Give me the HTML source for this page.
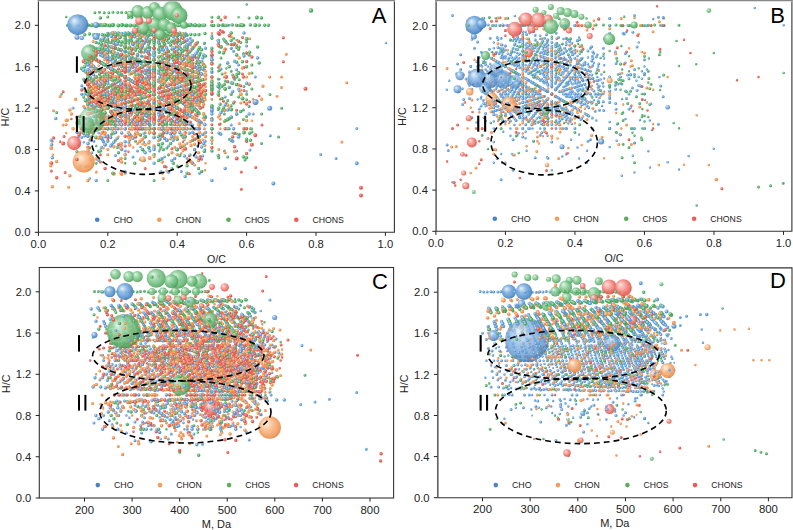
<!DOCTYPE html>
<html><head><meta charset="utf-8"><style>
html,body{margin:0;padding:0;background:#fff;}
body{width:793px;height:530px;overflow:hidden;}
svg{display:block;}
</style></head><body>
<svg width="793" height="530" viewBox="0 0 793 530" font-family="Liberation Sans, sans-serif" fill="#222">
<defs>
<clipPath id="clipA"><rect x="38.4" y="0" width="356.0" height="232.3"/></clipPath>
<clipPath id="clipB"><rect x="435.9" y="0" width="356.0" height="231.3"/></clipPath>
<clipPath id="clipC"><rect x="39.3" y="267.5" width="354.3" height="230.5"/></clipPath>
<clipPath id="clipD"><rect x="437.5" y="267.9" width="354.5" height="229.8"/></clipPath>
<radialGradient id="gCHO" cx="0.45" cy="0.45" r="0.6" fx="0.32" fy="0.3"><stop offset="0" stop-color="#e6f0fa"/><stop offset="0.4" stop-color="#86b6e4"/><stop offset="0.85" stop-color="#4a86c6"/><stop offset="1" stop-color="#36689f"/></radialGradient>
<radialGradient id="gCHON" cx="0.45" cy="0.45" r="0.6" fx="0.32" fy="0.3"><stop offset="0" stop-color="#fff0e0"/><stop offset="0.4" stop-color="#f9bf90"/><stop offset="0.85" stop-color="#f09452"/><stop offset="1" stop-color="#cf7434"/></radialGradient>
<radialGradient id="gCHOS" cx="0.45" cy="0.45" r="0.6" fx="0.32" fy="0.3"><stop offset="0" stop-color="#e0f4e4"/><stop offset="0.4" stop-color="#90d09c"/><stop offset="0.85" stop-color="#52aa62"/><stop offset="1" stop-color="#3a8648"/></radialGradient>
<radialGradient id="gCHONS" cx="0.45" cy="0.45" r="0.6" fx="0.32" fy="0.3"><stop offset="0" stop-color="#fde0dc"/><stop offset="0.4" stop-color="#f5a098"/><stop offset="0.85" stop-color="#e85c52"/><stop offset="1" stop-color="#c24236"/></radialGradient>
</defs>
<rect width="793" height="530" fill="#fff"/>
<g clip-path="url(#clipA)" stroke-linecap="round" fill="none">
<g stroke="#5b98d4" stroke-width="2.50"><path id="q1" d="M183.0 42.6h0M111.5 123.4h0M148.0 36.2h0M184.5 101.6h0M54.2 138.2h0M133.0 53.5h0M196.1 138.2h0M219.4 25.3h0M96.2 128.8h0M125.2 42.6h0M246.6 91.5h0M78.4 120.8h0M171.9 128.8h0M166.9 40.6h0M179.8 125.0h0M112.8 106.6h0M125.2 128.8h0M187.1 54.9h0"/></g>
<use href="#q1" transform="translate(-0.38,-0.38)" stroke="#bedaf5" stroke-width="1.38" stroke-opacity="0.85"/>
<g stroke="#5b98d4" stroke-width="3.00"><path id="q2" d="M125.2 77.1h0M168.5 128.8h0M115.5 117.3h0M115.5 71.3h0M142.5 46.0h0M211.9 128.8h0M133.0 157.0h0M196.1 138.2h0M196.1 119.4h0M196.1 81.8h0M227.7 81.8h0M171.9 104.9h0M198.6 73.1h0M84.7 108.1h0M154.1 66.7h0M177.2 80.5h0M200.3 80.5h0M81.8 154.7h0M103.5 64.1h0M146.8 102.9h0M168.5 51.2h0M79.2 122.7h0M99.6 74.0h0M140.5 37.5h0M160.9 122.7h0M181.3 74.0h0M181.3 37.5h0M96.2 71.3h0M115.5 105.8h0M192.6 117.3h0M166.2 68.9h0M184.5 134.2h0M202.8 156.0h0M90.4 46.0h0M159.8 97.8h0M177.2 66.7h0M211.9 118.5h0M137.5 114.0h0M137.5 104.2h0M154.1 64.7h0M101.5 119.4h0M101.5 62.9h0M117.3 62.9h0M133.0 128.8h0M133.0 34.7h0M148.8 128.8h0M180.4 119.4h0M180.4 81.8h0M113.8 124.3h0M144.0 79.3h0M159.1 70.3h0M189.3 97.3h0M189.3 61.3h0M125.2 51.2h0M139.6 59.8h0M154.1 120.2h0M154.1 33.9h0M168.5 146.1h0M183.0 59.8h0M197.4 94.3h0M121.7 116.4h0M135.6 75.0h0M149.4 116.4h0M118.5 81.0h0M118.5 57.1h0M131.8 81.0h0M131.8 41.2h0M145.2 97.0h0M145.2 89.0h0M158.5 33.3h0M171.9 73.1h0M198.6 81.0h0M238.6 65.1h0M89.8 117.3h0M102.7 102.0h0M115.5 71.3h0M141.2 102.0h0M154.1 40.6h0M166.9 94.3h0M166.9 63.6h0M179.8 79.0h0M192.6 63.6h0M88.0 62.3h0M125.2 151.0h0M125.2 54.9h0M125.2 32.7h0M137.5 32.7h0M149.9 128.8h0M149.9 47.5h0M162.3 114.0h0M162.3 47.5h0M174.7 77.1h0M174.7 62.3h0M249.1 84.4h0M320.7 154.6h0"/></g>
<use href="#q2" transform="translate(-0.45,-0.45)" stroke="#bedaf5" stroke-width="1.65" stroke-opacity="0.85"/>
<g stroke="#5b98d4" stroke-width="3.50"><path id="q3" d="M154.1 94.3h0M154.1 48.3h0M192.6 117.3h0M211.9 108.1h0M101.5 119.4h0M101.5 100.6h0M96.2 59.8h0M125.2 128.8h0M125.2 94.3h0M154.1 111.5h0M183.0 94.3h0M88.0 69.7h0M112.8 114.0h0M162.3 114.0h0M187.1 54.9h0M154.1 121.9h0M103.5 90.0h0M103.5 77.1h0M125.2 77.1h0M99.6 98.4h0M99.6 49.7h0M120.0 147.1h0M120.0 74.0h0M120.0 37.5h0M115.5 36.8h0M134.8 59.8h0M173.3 105.8h0M192.6 163.3h0M192.6 59.8h0M231.2 140.3h0M231.2 82.8h0M129.7 101.6h0M148.0 79.8h0M148.0 58.0h0M184.5 79.8h0M202.8 101.6h0M90.4 77.1h0M107.8 128.8h0M125.2 56.4h0M142.5 97.8h0M177.2 97.8h0M194.6 87.4h0M194.6 56.4h0M229.3 87.4h0M88.0 74.6h0M104.5 84.4h0M121.0 54.9h0M137.5 45.0h0M170.6 123.9h0M170.6 74.6h0M187.1 64.7h0M101.5 44.1h0M148.8 72.3h0M164.6 81.8h0M164.6 72.3h0M196.1 119.4h0M196.1 110.0h0M196.1 72.3h0M98.7 61.3h0M128.9 52.3h0M144.0 160.3h0M144.0 124.3h0M144.0 88.3h0M204.4 124.3h0M96.2 180.6h0M125.2 154.7h0M154.1 85.7h0M168.5 68.4h0M183.0 120.2h0M183.0 68.4h0M183.0 42.6h0M197.4 51.2h0M240.8 111.5h0M52.3 157.8h0M93.9 50.1h0M107.8 99.8h0M135.6 83.3h0M149.4 41.9h0M191.1 108.1h0M205.0 141.2h0M51.7 144.7h0M91.8 89.0h0M105.1 89.0h0M118.5 33.3h0M131.8 73.1h0M145.2 33.3h0M171.9 97.0h0M171.9 89.0h0M185.2 176.6h0M185.2 128.8h0M225.2 168.6h0M89.8 56.0h0M102.7 94.3h0M102.7 63.6h0M115.5 86.6h0M115.5 33.0h0M128.4 102.0h0M128.4 56.0h0M154.1 48.3h0M179.8 63.6h0M192.6 71.3h0M100.4 47.5h0M112.8 40.1h0M149.9 99.2h0M162.3 62.3h0M174.7 158.4h0M174.7 121.4h0M174.7 114.0h0M174.7 54.9h0M199.5 91.8h0"/></g>
<use href="#q3" transform="translate(-0.53,-0.53)" stroke="#bedaf5" stroke-width="1.93" stroke-opacity="0.85"/>
<g stroke="#5b98d4" stroke-width="4.00"><path id="q4" d="M198.6 136.8h0M107.8 121.9h0M125.2 77.1h0M196.1 81.8h0"/></g>
<use href="#q4" transform="translate(-0.60,-0.60)" stroke="#bedaf5" stroke-width="2.20" stroke-opacity="0.85"/>
<g stroke="#ee8c48" stroke-width="2.50"><path id="q5" d="M183.0 137.4h0M140.5 80.1h0M134.8 134.6h0M154.1 94.3h0M129.7 68.9h0M194.6 108.1h0M187.1 94.3h0M113.8 88.3h0M183.0 102.9h0M135.6 128.8h0M135.6 79.1h0M205.0 170.2h0M105.1 69.1h0M251.9 65.1h0M115.5 128.8h0M179.8 90.5h0M137.5 125.1h0M88.0 84.4h0"/></g>
<use href="#q5" transform="translate(-0.38,-0.38)" stroke="#fcc9a0" stroke-width="1.38" stroke-opacity="0.85"/>
<g stroke="#ee8c48" stroke-width="3.00"><path id="q6" d="M137.5 69.7h0M125.2 38.2h0M142.5 118.5h0M177.2 139.2h0M142.5 66.7h0M164.6 91.2h0M125.2 154.7h0M125.2 85.7h0M91.8 112.9h0M91.8 81.0h0M118.5 160.6h0M198.6 89.0h0M88.0 84.4h0M154.1 115.0h0M154.1 87.4h0M125.2 96.5h0M190.2 122.3h0M181.3 116.6h0M160.9 86.2h0M181.3 110.5h0M96.2 111.5h0M96.2 42.6h0M134.8 100.1h0M77.0 151.8h0M134.8 105.8h0M173.3 82.8h0M192.6 117.3h0M111.5 96.1h0M111.5 85.2h0M111.5 90.7h0M111.5 79.8h0M142.5 71.9h0M125.2 77.1h0M104.5 49.9h0M137.5 59.8h0M88.0 104.2h0M148.8 67.6h0M164.6 124.1h0M164.6 95.9h0M148.8 81.8h0M196.1 100.6h0M53.5 110.8h0M144.0 128.8h0M144.0 110.8h0M159.1 119.8h0M174.2 137.8h0M98.7 70.3h0M113.8 43.3h0M144.0 61.3h0M159.1 106.3h0M139.6 38.2h0M168.5 107.2h0M197.4 90.0h0M163.3 104.0h0M177.2 128.8h0M191.1 87.4h0M52.3 141.2h0M93.9 108.1h0M121.7 83.3h0M121.7 75.0h0M149.4 99.8h0M246.6 66.7h0M105.1 124.8h0M105.1 116.9h0M118.5 69.1h0M91.8 104.9h0M91.8 73.1h0M131.8 120.8h0M179.8 75.1h0M192.6 67.5h0M89.8 79.0h0M166.9 171.0h0M166.9 79.0h0M166.9 56.0h0M112.8 73.4h0M199.5 88.1h0M162.3 173.2h0M174.7 99.2h0M187.1 84.4h0M187.1 77.1h0M286.3 54.2h0M281.5 76.9h0"/></g>
<use href="#q6" transform="translate(-0.45,-0.45)" stroke="#fcc9a0" stroke-width="1.65" stroke-opacity="0.85"/>
<g stroke="#ee8c48" stroke-width="3.50"><path id="q7" d="M192.6 94.3h0M96.2 137.4h0M96.2 111.5h0M183.0 111.5h0M118.5 144.7h0M145.2 49.2h0M154.1 73.6h0M177.2 59.8h0M107.8 121.9h0M177.2 108.1h0M103.5 77.1h0M125.2 102.9h0M125.2 38.2h0M160.9 67.9h0M140.5 134.9h0M181.3 147.1h0M115.5 65.6h0M115.5 105.8h0M154.1 71.3h0M111.5 52.5h0M142.5 82.2h0M159.8 123.6h0M177.2 123.6h0M177.2 92.6h0M142.5 139.2h0M137.5 104.2h0M137.5 84.4h0M101.5 95.9h0M133.0 58.2h0M164.6 105.3h0M85.7 91.2h0M148.8 100.6h0M164.6 81.8h0M196.1 44.1h0M189.3 110.8h0M174.2 79.3h0M189.3 115.3h0M189.3 61.3h0M96.2 81.4h0M110.7 124.5h0M110.7 46.9h0M125.2 98.6h0M125.2 81.4h0M154.1 115.9h0M154.1 98.6h0M154.1 72.7h0M168.5 55.5h0M163.3 79.1h0M246.6 120.5h0M107.8 58.4h0M121.7 174.3h0M121.7 124.7h0M135.6 124.7h0M177.2 41.9h0M105.1 132.8h0M131.8 100.9h0M185.2 116.9h0M198.6 140.7h0M145.2 120.8h0M185.2 73.1h0M154.1 79.0h0M192.6 79.0h0M88.0 80.7h0M112.8 132.5h0M137.5 80.7h0M162.3 162.1h0M162.3 95.5h0M174.7 80.7h0M199.5 95.5h0M88.0 114.0h0M88.0 77.1h0M125.2 47.5h0M199.5 99.2h0M261.5 99.2h0"/></g>
<use href="#q7" transform="translate(-0.53,-0.53)" stroke="#fcc9a0" stroke-width="1.93" stroke-opacity="0.85"/>
<g stroke="#ee8c48" stroke-width="4.00"><path id="q8" d="M240.8 94.3h0M130.9 121.9h0M101.5 81.8h0M113.8 173.8h0M191.1 99.8h0M166.9 132.6h0"/></g>
<use href="#q8" transform="translate(-0.60,-0.60)" stroke="#fcc9a0" stroke-width="2.20" stroke-opacity="0.85"/>
<g stroke="#4da862" stroke-width="2.50"><path id="q9" d="M118.5 41.2h0M130.9 94.3h0M168.5 115.9h0M190.2 51.2h0M115.5 128.8h0M154.1 48.3h0M142.5 35.7h0M88.0 64.7h0M170.6 64.7h0M236.7 133.7h0M96.2 59.8h0M125.2 51.2h0M121.7 58.4h0M232.7 132.9h0M171.9 73.1h0M238.6 17.3h0M166.9 56.0h0M100.4 91.8h0M100.4 69.7h0M187.1 54.9h0"/></g>
<use href="#q9" transform="translate(-0.38,-0.38)" stroke="#a8deb2" stroke-width="1.38" stroke-opacity="0.85"/>
<g stroke="#4da862" stroke-width="3.00"><path id="q10" d="M231.2 71.3h0M133.0 62.9h0M227.7 100.6h0M67.3 25.3h0M198.6 73.1h0M162.3 25.3h0M130.9 66.7h0M154.1 94.3h0M200.3 25.3h0M223.5 25.3h0M125.2 64.1h0M146.8 102.9h0M146.8 51.2h0M168.5 77.1h0M160.9 61.8h0M160.9 49.7h0M96.2 48.3h0M154.1 71.3h0M173.3 105.8h0M173.3 94.3h0M192.6 128.8h0M192.6 117.3h0M93.2 101.6h0M148.0 90.7h0M148.0 79.8h0M202.8 68.9h0M90.4 25.3h0M159.8 97.8h0M159.8 35.7h0M211.9 118.5h0M229.3 139.2h0M104.5 45.0h0M121.0 84.4h0M121.0 74.6h0M170.6 94.3h0M187.1 45.0h0M220.2 123.9h0M101.5 53.5h0M117.3 147.6h0M117.3 53.5h0M133.0 100.6h0M133.0 25.3h0M148.8 119.4h0M148.8 110.0h0M148.8 53.5h0M164.6 119.4h0M164.6 34.7h0M196.1 72.3h0M227.7 62.9h0M98.7 97.3h0M128.9 133.3h0M128.9 52.3h0M144.0 70.3h0M189.3 43.3h0M234.5 79.3h0M81.8 94.3h0M125.2 94.3h0M139.6 77.1h0M154.1 94.3h0M154.1 59.8h0M107.8 91.5h0M107.8 17.0h0M121.7 91.5h0M177.2 116.4h0M177.2 75.0h0M191.1 108.1h0M191.1 50.1h0M218.8 157.8h0M246.6 116.4h0M246.6 41.9h0M105.1 73.1h0M118.5 65.1h0M131.8 104.9h0M145.2 65.1h0M102.7 117.3h0M115.5 117.3h0M115.5 71.3h0M128.4 117.3h0M128.4 86.6h0M141.2 33.0h0M154.1 48.3h0M179.8 71.3h0M192.6 40.6h0M218.3 109.6h0M88.0 99.2h0M100.4 106.6h0M112.8 91.8h0M112.8 62.3h0M125.2 158.4h0M125.2 62.3h0M137.5 77.1h0M174.7 47.5h0M187.1 106.6h0M249.1 17.9h0M278.6 136.9h0M108.9 12.8h0M121.6 12.5h0"/></g>
<use href="#q10" transform="translate(-0.45,-0.45)" stroke="#a8deb2" stroke-width="1.65" stroke-opacity="0.85"/>
<g stroke="#4da862" stroke-width="3.50"><path id="q11" d="M154.1 71.3h0M192.6 140.3h0M101.5 81.8h0M133.0 44.1h0M125.2 59.8h0M91.8 136.8h0M91.8 89.0h0M112.8 99.2h0M137.5 84.4h0M137.5 54.9h0M236.7 114.0h0M107.8 121.9h0M130.9 121.9h0M177.2 121.9h0M125.2 51.2h0M211.9 90.0h0M140.5 159.2h0M140.5 134.9h0M140.5 74.0h0M201.7 171.4h0M201.7 61.8h0M242.5 61.8h0M96.2 94.3h0M134.8 163.3h0M134.8 94.3h0M192.6 94.3h0M231.2 117.3h0M111.5 79.8h0M111.5 47.1h0M166.2 112.5h0M107.8 46.0h0M194.6 46.0h0M194.6 25.3h0M229.3 66.7h0M104.5 54.9h0M170.6 143.6h0M170.6 74.6h0M187.1 64.7h0M203.6 114.0h0M220.2 133.7h0M117.3 44.1h0M180.4 62.9h0M113.8 70.3h0M128.9 70.3h0M144.0 43.3h0M159.1 88.3h0M159.1 70.3h0M174.2 106.3h0M96.2 51.2h0M110.7 68.4h0M125.2 33.9h0M139.6 102.9h0M139.6 33.9h0M197.4 120.2h0M107.8 99.8h0M149.4 58.4h0M163.3 83.3h0M191.1 99.8h0M191.1 58.4h0M205.0 75.0h0M118.5 97.0h0M118.5 57.1h0M131.8 81.0h0M145.2 89.0h0M145.2 73.1h0M158.5 136.8h0M185.2 104.9h0M198.6 65.1h0M198.6 49.2h0M89.8 71.3h0M102.7 79.0h0M102.7 71.3h0M166.9 102.0h0M179.8 86.6h0M218.3 40.6h0M231.2 40.6h0M100.4 121.4h0M112.8 114.0h0M112.8 99.2h0M162.3 99.2h0M174.7 62.3h0M199.5 69.7h0M199.5 54.9h0M211.9 54.9h0M84.7 34.7h0M98.0 34.8h0M147.0 34.5h0M155.7 34.9h0M173.2 34.6h0M177.3 34.4h0"/></g>
<use href="#q11" transform="translate(-0.53,-0.53)" stroke="#a8deb2" stroke-width="1.93" stroke-opacity="0.85"/>
<g stroke="#4da862" stroke-width="4.00"><path id="q12" d="M154.1 117.3h0M69.9 25.3h0M171.9 89.0h0M125.2 90.0h0M168.5 38.2h0M90.4 97.8h0M107.8 66.7h0M189.3 25.3h0M81.8 68.4h0M168.5 59.8h0M107.8 58.4h0M107.8 50.1h0M171.9 128.8h0M244.0 132.6h0M100.5 24.9h0M118.3 25.4h0M126.7 25.4h0M138.8 25.4h0M148.4 25.2h0M151.9 25.0h0M156.9 25.3h0M173.7 24.8h0"/></g>
<use href="#q12" transform="translate(-0.60,-0.60)" stroke="#a8deb2" stroke-width="2.20" stroke-opacity="0.85"/>
<g stroke="#e2584a" stroke-width="2.50"><path id="q13" d="M91.8 81.0h0M162.3 54.9h0M60.1 141.7h0M120.0 104.4h0M160.9 86.2h0M201.7 122.7h0M148.0 101.6h0M159.8 92.6h0M220.2 30.2h0M187.1 104.2h0M187.1 84.4h0M196.1 58.2h0M149.4 112.2h0M218.8 41.9h0M131.8 53.2h0M198.6 100.9h0M128.4 67.5h0M154.1 44.5h0M100.4 80.7h0M112.8 66.0h0M187.1 80.7h0"/></g>
<use href="#q13" transform="translate(-0.38,-0.38)" stroke="#f8a89a" stroke-width="1.38" stroke-opacity="0.85"/>
<g stroke="#e2584a" stroke-width="3.00"><path id="q14" d="M236.7 84.4h0M168.5 64.1h0M125.2 128.8h0M142.5 118.5h0M142.5 108.1h0M133.0 119.4h0M125.2 171.9h0M211.9 59.8h0M171.9 73.1h0M88.0 143.6h0M187.1 69.7h0M130.9 59.8h0M200.3 156.4h0M223.5 101.2h0M177.2 94.3h0M103.5 83.5h0M168.5 96.5h0M99.6 61.8h0M96.2 88.6h0M154.1 88.6h0M96.2 105.8h0M154.1 117.3h0M93.2 74.3h0M202.8 107.0h0M148.0 36.2h0M184.5 90.7h0M184.5 58.0h0M90.4 102.9h0M125.2 113.3h0M194.6 134.0h0M246.6 139.2h0M117.3 39.4h0M133.0 67.6h0M133.0 48.8h0M148.8 67.6h0M180.4 95.9h0M85.7 53.5h0M128.9 119.8h0M189.3 155.8h0M189.3 74.8h0M189.3 65.8h0M249.6 101.8h0M211.9 55.5h0M96.2 94.3h0M96.2 68.4h0M139.6 51.2h0M177.2 79.1h0M149.4 83.3h0M163.3 66.7h0M177.2 33.6h0M105.1 93.0h0M145.2 61.1h0M158.5 100.9h0M211.9 124.8h0M91.8 97.0h0M118.5 160.6h0M118.5 49.2h0M185.2 49.2h0M225.2 120.8h0M102.7 121.1h0M128.4 121.1h0M141.2 105.8h0M154.1 98.1h0M166.9 121.1h0M128.4 109.6h0M231.2 117.3h0M88.0 132.5h0M137.5 125.1h0M199.5 88.1h0M236.7 110.3h0M100.4 91.8h0M241.3 172.0h0"/></g>
<use href="#q14" transform="translate(-0.45,-0.45)" stroke="#f8a89a" stroke-width="1.65" stroke-opacity="0.85"/>
<g stroke="#e2584a" stroke-width="3.50"><path id="q15" d="M115.5 82.8h0M107.8 97.8h0M177.2 128.8h0M164.6 91.2h0M196.1 110.0h0M196.1 100.6h0M118.5 97.0h0M225.2 128.8h0M177.2 101.2h0M177.2 73.6h0M200.3 73.6h0M107.8 52.9h0M200.3 94.3h0M125.2 57.6h0M190.2 122.3h0M81.8 128.8h0M120.0 98.4h0M181.3 122.7h0M242.5 98.4h0M115.5 88.6h0M134.8 123.1h0M173.3 100.1h0M154.1 59.8h0M184.5 63.4h0M202.8 96.1h0M56.7 177.8h0M111.5 112.5h0M177.2 87.4h0M88.0 99.2h0M88.0 59.8h0M121.0 89.4h0M154.1 89.4h0M121.0 123.9h0M101.5 105.3h0M180.4 77.1h0M189.3 101.8h0M98.7 97.3h0M113.8 115.3h0M113.8 88.3h0M174.2 106.3h0M139.6 81.4h0M125.2 85.7h0M139.6 42.6h0M211.9 59.8h0M93.9 87.4h0M121.7 104.0h0M191.1 95.7h0M107.8 99.8h0M191.1 75.0h0M246.6 141.2h0M131.8 93.0h0M171.9 69.1h0M185.2 69.1h0M225.2 49.2h0M89.8 121.1h0M102.7 113.5h0M141.2 121.1h0M102.7 132.6h0M102.7 86.6h0M115.5 132.6h0M112.8 117.7h0M137.5 43.8h0M149.9 125.1h0M199.5 80.7h0M162.3 99.2h0M174.7 121.4h0M174.7 99.2h0"/></g>
<use href="#q15" transform="translate(-0.53,-0.53)" stroke="#f8a89a" stroke-width="1.93" stroke-opacity="0.85"/>
<g stroke="#e2584a" stroke-width="4.00"><path id="q16" d="M130.9 52.9h0M168.5 57.6h0M154.1 69.7h0M135.6 112.2h0M179.8 67.5h0M51.3 163.3h0M174.7 132.5h0"/></g>
<use href="#q16" transform="translate(-0.60,-0.60)" stroke="#f8a89a" stroke-width="2.20" stroke-opacity="0.85"/>
<g stroke="#5b98d4" stroke-width="2.50"><path id="q17" d="M91.8 89.0h0M198.6 104.9h0M159.8 56.4h0M133.0 91.2h0M164.6 34.7h0M83.7 142.3h0M98.7 133.3h0M98.7 79.3h0M159.1 79.3h0M219.4 79.3h0M81.8 94.3h0M96.2 85.7h0M96.2 51.2h0M125.2 120.2h0M183.0 77.1h0M197.4 146.1h0M121.7 91.5h0M105.1 120.8h0M145.2 81.0h0M158.5 128.8h0M171.9 104.9h0M198.6 160.6h0M198.6 112.9h0M154.1 63.6h0M179.8 56.0h0M386.0 42.9h0"/></g>
<use href="#q17" transform="translate(-0.38,-0.38)" stroke="#bedaf5" stroke-width="1.38" stroke-opacity="0.85"/>
<g stroke="#5b98d4" stroke-width="3.00"><path id="q18" d="M73.1 108.1h0M101.5 81.8h0M154.1 42.6h0M198.6 120.8h0M162.3 158.4h0M162.3 84.4h0M154.1 80.5h0M168.5 77.1h0M233.6 51.2h0M99.6 122.7h0M120.0 49.7h0M140.5 110.5h0M222.1 86.2h0M134.8 117.3h0M173.3 82.8h0M192.6 82.8h0M211.9 94.3h0M93.2 101.6h0M129.7 145.1h0M148.0 112.5h0M184.5 68.9h0M107.8 118.5h0M125.2 118.5h0M125.2 66.7h0M211.9 87.4h0M88.0 54.9h0M121.0 114.0h0M154.1 104.2h0M170.6 54.9h0M187.1 123.9h0M187.1 104.2h0M253.2 114.0h0M101.5 110.0h0M101.5 53.5h0M133.0 119.4h0M133.0 100.6h0M164.6 110.0h0M164.6 53.5h0M180.4 53.5h0M113.8 115.3h0M128.9 142.3h0M128.9 106.3h0M159.1 160.3h0M159.1 52.3h0M174.2 115.3h0M189.3 106.3h0M125.2 102.9h0M139.6 102.9h0M139.6 77.1h0M168.5 102.9h0M255.3 77.1h0M93.9 124.7h0M93.9 58.4h0M107.8 124.7h0M107.8 91.5h0M135.6 124.7h0M135.6 99.8h0M149.4 132.9h0M149.4 33.6h0M163.3 41.9h0M205.0 83.3h0M78.4 136.8h0M91.8 152.7h0M131.8 57.1h0M131.8 49.2h0M145.2 104.9h0M145.2 73.1h0M158.5 120.8h0M158.5 97.0h0M211.9 57.1h0M89.8 140.3h0M89.8 86.6h0M102.7 71.3h0M115.5 40.6h0M141.2 48.3h0M141.2 40.6h0M154.1 117.3h0M192.6 102.0h0M231.2 33.0h0M100.4 91.8h0M112.8 84.4h0M125.2 69.7h0M125.2 47.5h0M137.5 128.8h0M137.5 99.2h0M187.1 106.6h0M187.1 99.2h0M249.1 106.6h0M356.8 128.6h0M336.1 158.5h0"/></g>
<use href="#q18" transform="translate(-0.45,-0.45)" stroke="#bedaf5" stroke-width="1.65" stroke-opacity="0.85"/>
<g stroke="#5b98d4" stroke-width="3.50"><path id="q19" d="M142.5 149.5h0M142.5 128.8h0M177.2 128.8h0M133.0 119.4h0M118.5 41.2h0M145.2 41.2h0M107.8 135.7h0M130.9 80.5h0M130.9 52.9h0M154.1 52.9h0M177.2 121.9h0M200.3 94.3h0M103.5 115.9h0M125.2 115.9h0M146.8 128.8h0M146.8 90.0h0M168.5 115.9h0M99.6 61.8h0M120.0 61.8h0M160.9 110.5h0M201.7 147.1h0M201.7 61.8h0M134.8 82.8h0M93.2 79.8h0M111.5 58.0h0M166.2 90.7h0M166.2 36.2h0M184.5 90.7h0M184.5 58.0h0M202.8 58.0h0M221.0 112.5h0M257.6 58.0h0M90.4 87.4h0M159.8 128.8h0M159.8 66.7h0M194.6 77.1h0M211.9 77.1h0M88.0 153.4h0M88.0 123.9h0M88.0 104.2h0M104.5 114.0h0M104.5 54.9h0M121.0 64.7h0M137.5 74.6h0M170.6 133.7h0M187.1 94.3h0M203.6 64.7h0M203.6 54.9h0M101.5 100.6h0M148.8 53.5h0M164.6 100.6h0M164.6 91.2h0M180.4 34.7h0M211.9 72.3h0M83.7 124.3h0M83.7 61.3h0M128.9 115.3h0M128.9 97.3h0M144.0 106.3h0M144.0 70.3h0M159.1 88.3h0M159.1 43.3h0M174.2 133.3h0M174.2 97.3h0M174.2 52.3h0M189.3 133.3h0M110.7 94.3h0M125.2 111.5h0M125.2 68.4h0M168.5 94.3h0M107.8 141.2h0M135.6 108.1h0M135.6 50.1h0M149.4 66.7h0M163.3 75.0h0M177.2 91.5h0M177.2 58.4h0M205.0 124.7h0M232.7 141.2h0M105.1 97.0h0M118.5 97.0h0M131.8 128.8h0M145.2 112.9h0M171.9 160.6h0M185.2 97.0h0M198.6 57.1h0M115.5 117.3h0M115.5 56.0h0M115.5 48.3h0M128.4 79.0h0M141.2 125.0h0M205.5 132.6h0M205.5 48.3h0M218.3 40.6h0M231.2 117.3h0M100.4 99.2h0M112.8 121.4h0M137.5 91.8h0M137.5 77.1h0M149.9 77.1h0M149.9 32.7h0M174.7 91.8h0M199.5 136.2h0M199.5 128.8h0"/></g>
<use href="#q19" transform="translate(-0.53,-0.53)" stroke="#bedaf5" stroke-width="1.93" stroke-opacity="0.85"/>
<g stroke="#5b98d4" stroke-width="4.00"><path id="q20" d="M125.2 42.6h0M91.8 104.9h0M84.7 80.5h0M120.0 98.4h0M159.8 139.2h0M177.2 35.7h0M148.8 34.7h0M174.2 79.3h0M135.6 91.5h0M238.6 136.8h0M166.9 140.3h0M162.3 121.4h0"/></g>
<use href="#q20" transform="translate(-0.60,-0.60)" stroke="#bedaf5" stroke-width="2.20" stroke-opacity="0.85"/>
<g stroke="#5b98d4" stroke-width="5.00"><path id="q21" d="M269.7 108.3h0"/></g>
<use href="#q21" transform="translate(-0.75,-0.75)" stroke="#bedaf5" stroke-width="2.75" stroke-opacity="0.85"/>
<g stroke="#ee8c48" stroke-width="2.50"><path id="q22" d="M164.6 62.9h0M187.1 121.4h0M181.3 153.2h0M192.6 88.6h0M192.6 94.3h0M111.5 107.0h0M202.8 117.9h0M111.5 123.4h0M194.6 46.0h0M164.6 77.1h0M180.4 44.1h0M219.4 83.8h0M98.7 106.3h0M197.4 72.7h0M154.1 68.4h0M135.6 87.4h0M205.0 91.5h0M158.5 89.0h0M154.1 86.6h0M166.9 94.3h0M179.8 117.3h0M179.8 94.3h0M199.5 73.4h0M137.5 106.6h0M174.7 106.6h0"/></g>
<use href="#q22" transform="translate(-0.38,-0.38)" stroke="#fcc9a0" stroke-width="1.38" stroke-opacity="0.85"/>
<g stroke="#ee8c48" stroke-width="3.00"><path id="q23" d="M137.5 40.1h0M168.5 115.9h0M168.5 90.0h0M81.8 154.7h0M192.6 128.8h0M133.0 100.6h0M196.1 100.6h0M154.1 77.1h0M145.2 128.8h0M198.6 81.0h0M145.2 73.1h0M171.9 104.9h0M177.2 115.0h0M177.2 87.4h0M154.1 66.7h0M146.8 70.6h0M146.8 51.2h0M140.5 128.8h0M120.0 98.4h0M96.2 94.3h0M93.2 85.2h0M129.7 128.8h0M184.5 74.3h0M148.0 79.8h0M184.5 79.8h0M107.8 154.7h0M125.2 118.5h0M125.2 108.1h0M159.8 97.8h0M229.3 108.1h0M104.5 59.8h0M121.0 49.9h0M137.5 94.3h0M148.8 95.9h0M133.0 119.4h0M148.8 53.5h0M164.6 119.4h0M196.1 81.8h0M113.8 92.8h0M144.0 92.8h0M204.4 128.8h0M249.6 38.8h0M83.7 106.3h0M183.0 150.4h0M183.0 115.9h0M154.1 33.9h0M135.6 95.7h0M135.6 62.6h0M205.0 145.4h0M218.8 95.7h0M107.8 124.7h0M149.4 91.5h0M118.5 124.8h0M145.2 132.8h0M198.6 85.0h0M211.9 77.1h0M158.5 57.1h0M102.7 113.5h0M115.5 98.1h0M154.1 82.8h0M166.9 52.1h0M166.9 36.8h0M192.6 136.5h0M192.6 90.5h0M102.7 109.6h0M102.7 102.0h0M141.2 71.3h0M166.9 117.3h0M179.8 86.6h0M192.6 109.6h0M187.1 95.5h0M112.8 106.6h0M125.2 173.2h0M125.2 106.6h0M174.7 77.1h0M224.3 121.4h0M224.3 77.1h0M277.0 96.3h0"/></g>
<use href="#q23" transform="translate(-0.45,-0.45)" stroke="#fcc9a0" stroke-width="1.65" stroke-opacity="0.85"/>
<g stroke="#ee8c48" stroke-width="3.50"><path id="q24" d="M88.0 54.9h0M69.9 110.0h0M67.3 120.2h0M154.1 146.1h0M91.8 128.8h0M145.2 120.8h0M171.9 136.8h0M137.5 84.4h0M130.9 115.0h0M200.3 87.4h0M130.9 108.1h0M200.3 80.5h0M190.2 44.7h0M190.2 141.7h0M99.6 116.6h0M120.0 80.1h0M99.6 86.2h0M120.0 110.5h0M140.5 98.4h0M160.9 74.0h0M181.3 122.7h0M96.2 100.1h0M134.8 128.8h0M173.3 128.8h0M56.7 161.5h0M148.0 85.2h0M111.5 145.1h0M129.7 145.1h0M184.5 112.5h0M125.2 102.9h0M159.8 102.9h0M121.0 173.2h0M101.5 105.3h0M180.4 77.1h0M180.4 58.2h0M69.9 175.8h0M117.3 62.9h0M148.8 62.9h0M98.7 110.8h0M128.9 83.8h0M144.0 83.8h0M189.3 92.8h0M128.9 97.3h0M144.0 97.3h0M96.2 55.5h0M139.6 141.7h0M139.6 98.6h0M183.0 90.0h0M110.7 120.2h0M110.7 42.6h0M125.2 77.1h0M183.0 94.3h0M121.7 62.6h0M149.4 95.7h0M149.4 54.3h0M191.1 145.4h0M107.8 75.0h0M121.7 108.1h0M163.3 132.9h0M145.2 93.0h0M118.5 97.0h0M131.8 136.8h0M145.2 128.8h0M145.2 65.1h0M185.2 104.9h0M198.6 128.8h0M198.6 97.0h0M115.5 121.1h0M115.5 105.8h0M115.5 63.6h0M154.1 117.3h0M192.6 94.3h0M88.0 147.3h0M162.3 58.6h0M174.7 132.5h0M174.7 88.1h0M199.5 125.1h0M112.8 91.8h0M137.5 32.7h0M187.1 99.2h0M199.5 84.4h0"/></g>
<use href="#q24" transform="translate(-0.53,-0.53)" stroke="#fcc9a0" stroke-width="1.93" stroke-opacity="0.85"/>
<g stroke="#ee8c48" stroke-width="4.00"><path id="q25" d="M177.2 77.1h0M164.6 72.3h0M101.5 110.0h0M141.2 98.1h0M51.3 148.0h0M179.8 48.3h0M224.3 110.3h0M149.9 128.8h0"/></g>
<use href="#q25" transform="translate(-0.60,-0.60)" stroke="#fcc9a0" stroke-width="2.20" stroke-opacity="0.85"/>
<g stroke="#4da862" stroke-width="2.50"><path id="q26" d="M137.5 114.0h0M154.1 48.3h0M142.5 46.0h0M118.5 73.1h0M225.2 120.8h0M61.5 94.3h0M222.1 110.5h0M125.2 108.1h0M142.5 56.4h0M159.8 149.5h0M159.8 77.1h0M194.6 77.1h0M137.5 104.2h0M144.0 52.3h0M174.2 70.3h0M174.2 43.3h0M121.7 83.3h0M145.2 41.2h0M128.4 71.3h0M166.9 79.0h0M179.8 117.3h0M231.2 140.3h0M112.8 32.7h0M162.3 128.8h0M187.1 40.1h0"/></g>
<use href="#q26" transform="translate(-0.38,-0.38)" stroke="#a8deb2" stroke-width="1.38" stroke-opacity="0.85"/>
<g stroke="#4da862" stroke-width="3.00"><path id="q27" d="M115.5 48.3h0M192.6 117.3h0M177.2 128.8h0M177.2 87.4h0M101.5 138.2h0M101.5 119.4h0M164.6 119.4h0M183.0 146.1h0M183.0 111.5h0M183.0 59.8h0M183.0 42.6h0M145.2 89.0h0M145.2 73.1h0M162.3 54.9h0M162.3 40.1h0M187.1 69.7h0M223.5 39.1h0M168.5 154.7h0M168.5 64.1h0M160.9 25.3h0M181.3 25.3h0M222.1 74.0h0M77.0 151.8h0M154.1 36.8h0M173.3 82.8h0M111.5 90.7h0M111.5 68.9h0M129.7 90.7h0M148.0 58.0h0M166.2 101.6h0M184.5 79.8h0M184.5 68.9h0M239.3 134.2h0M107.8 128.8h0M107.8 25.3h0M177.2 149.5h0M104.5 114.0h0M121.0 64.7h0M137.5 64.7h0M236.7 74.6h0M236.7 25.3h0M117.3 81.8h0M133.0 110.0h0M133.0 72.3h0M164.6 110.0h0M196.1 53.5h0M211.9 25.3h0M227.7 81.8h0M243.4 119.4h0M243.4 53.5h0M98.7 43.3h0M113.8 34.3h0M144.0 34.3h0M174.2 115.3h0M204.4 79.3h0M204.4 70.3h0M110.7 59.8h0M139.6 42.6h0M154.1 77.1h0M154.1 51.2h0M183.0 85.7h0M197.4 137.4h0M197.4 59.8h0M240.8 111.5h0M93.9 116.4h0M93.9 108.1h0M93.9 83.3h0M121.7 124.7h0M135.6 141.2h0M135.6 83.3h0M149.4 50.1h0M177.2 166.1h0M177.2 83.3h0M177.2 58.4h0M177.2 50.1h0M205.0 83.3h0M218.8 83.3h0M232.7 75.0h0M246.6 83.3h0M118.5 104.9h0M118.5 73.1h0M131.8 112.9h0M145.2 81.0h0M145.2 57.1h0M158.5 41.2h0M158.5 33.3h0M198.6 81.0h0M225.2 120.8h0M251.9 73.1h0M89.8 148.0h0M89.8 102.0h0M102.7 109.6h0M128.4 63.6h0M128.4 17.6h0M141.2 56.0h0M154.1 79.0h0M179.8 109.6h0M205.5 117.3h0M244.0 86.6h0M244.0 25.3h0M88.0 62.3h0M100.4 128.8h0M112.8 54.9h0M125.2 84.4h0M149.9 54.9h0M174.7 84.4h0M224.3 114.0h0"/></g>
<use href="#q27" transform="translate(-0.45,-0.45)" stroke="#a8deb2" stroke-width="1.65" stroke-opacity="0.85"/>
<g stroke="#4da862" stroke-width="3.50"><path id="q28" d="M168.5 51.2h0M133.0 100.6h0M96.2 94.3h0M96.2 59.8h0M154.1 77.1h0M183.0 77.1h0M240.8 25.3h0M112.8 84.4h0M137.5 69.7h0M137.5 40.1h0M154.1 39.1h0M200.3 66.7h0M103.5 90.0h0M146.8 115.9h0M190.2 90.0h0M190.2 64.1h0M233.6 102.9h0M140.5 122.7h0M160.9 98.4h0M181.3 61.8h0M134.8 48.3h0M173.3 71.3h0M93.2 112.5h0M93.2 58.0h0M129.7 112.5h0M129.7 68.9h0M107.8 56.4h0M125.2 77.1h0M125.2 56.4h0M177.2 139.2h0M177.2 128.8h0M104.5 35.2h0M137.5 94.3h0M137.5 54.9h0M137.5 35.2h0M154.1 123.9h0M154.1 74.6h0M220.2 104.2h0M117.3 119.4h0M133.0 119.4h0M133.0 91.2h0M133.0 81.8h0M164.6 81.8h0M164.6 53.5h0M113.8 61.3h0M128.9 97.3h0M174.2 34.3h0M189.3 97.3h0M219.4 52.3h0M249.6 52.3h0M264.7 25.3h0M96.2 85.7h0M125.2 102.9h0M125.2 68.4h0M154.1 33.9h0M183.0 33.9h0M197.4 42.6h0M107.8 116.4h0M135.6 75.0h0M135.6 58.4h0M149.4 41.9h0M232.7 83.3h0M246.6 157.8h0M91.8 65.1h0M91.8 57.1h0M118.5 33.3h0M158.5 73.1h0M171.9 112.9h0M185.2 112.9h0M185.2 65.1h0M185.2 57.1h0M198.6 136.8h0M225.2 89.0h0M89.8 109.6h0M102.7 25.3h0M141.2 109.6h0M141.2 48.3h0M179.8 63.6h0M218.3 25.3h0M100.4 17.9h0M112.8 47.5h0M125.2 121.4h0M137.5 121.4h0M162.3 84.4h0M162.3 77.1h0M174.7 69.7h0M199.5 84.4h0M232.3 25.0h0M89.5 34.1h0M128.7 34.7h0M133.0 34.7h0"/></g>
<use href="#q28" transform="translate(-0.53,-0.53)" stroke="#a8deb2" stroke-width="1.93" stroke-opacity="0.85"/>
<g stroke="#4da862" stroke-width="4.00"><path id="q29" d="M198.6 120.8h0M107.8 108.1h0M125.2 115.9h0M187.1 54.9h0M145.2 33.3h0M89.8 79.0h0M100.4 47.5h0M137.5 62.3h0M162.3 40.1h0M92.1 25.2h0M109.7 25.4h0M122.2 25.1h0M130.3 25.4h0M164.9 25.3h0M195.4 25.2h0"/></g>
<use href="#q29" transform="translate(-0.60,-0.60)" stroke="#a8deb2" stroke-width="2.20" stroke-opacity="0.85"/>
<g stroke="#e2584a" stroke-width="2.50"><path id="q30" d="M118.5 144.7h0M125.2 128.8h0M148.0 63.4h0M90.4 139.2h0M107.8 139.2h0M137.5 114.0h0M85.7 124.1h0M133.0 95.9h0M154.1 94.3h0M128.4 33.0h0M137.5 132.5h0M137.5 110.3h0M211.9 147.3h0M88.0 114.0h0M112.8 121.4h0M125.2 99.2h0M199.5 128.8h0"/></g>
<use href="#q30" transform="translate(-0.38,-0.38)" stroke="#f8a89a" stroke-width="1.38" stroke-opacity="0.85"/>
<g stroke="#e2584a" stroke-width="3.00"><path id="q31" d="M236.7 54.9h0M168.5 77.1h0M177.2 77.1h0M177.2 87.4h0M211.9 108.1h0M101.5 72.3h0M164.6 119.4h0M96.2 77.1h0M91.8 65.1h0M118.5 73.1h0M145.2 104.9h0M198.6 168.6h0M112.8 106.6h0M112.8 84.4h0M130.9 128.8h0M140.5 31.4h0M242.5 74.0h0M134.8 105.8h0M134.8 82.8h0M154.1 48.3h0M111.5 128.8h0M148.0 96.1h0M148.0 41.6h0M184.5 85.2h0M184.5 74.3h0M93.2 101.6h0M90.4 66.7h0M177.2 97.8h0M137.5 128.8h0M187.1 109.1h0M101.5 95.9h0M117.3 114.7h0M117.3 119.4h0M148.8 81.8h0M180.4 81.8h0M211.9 119.4h0M53.5 137.8h0M189.3 83.8h0M125.2 90.0h0M139.6 98.6h0M107.8 62.6h0M135.6 70.8h0M177.2 62.6h0M121.7 91.5h0M135.6 91.5h0M65.1 172.6h0M91.8 93.0h0M118.5 93.0h0M131.8 37.2h0M145.2 93.0h0M145.2 85.0h0M198.6 77.1h0M105.1 128.8h0M118.5 41.2h0M145.2 65.1h0M171.9 120.8h0M89.8 98.1h0M128.4 136.5h0M141.2 75.1h0M154.1 128.8h0M244.0 90.5h0M89.8 63.6h0M115.5 94.3h0M112.8 88.1h0M112.8 51.2h0M125.2 102.9h0M187.1 117.7h0M174.7 91.8h0M187.1 114.0h0M199.5 69.7h0M236.7 25.3h0M283.3 37.8h0M241.3 189.2h0"/></g>
<use href="#q31" transform="translate(-0.45,-0.45)" stroke="#f8a89a" stroke-width="1.65" stroke-opacity="0.85"/>
<g stroke="#e2584a" stroke-width="3.50"><path id="q32" d="M115.5 71.3h0M246.6 128.8h0M125.2 68.4h0M183.0 102.9h0M118.5 81.0h0M171.9 120.8h0M88.0 84.4h0M112.8 99.2h0M137.5 114.0h0M137.5 69.7h0M162.3 84.4h0M107.8 101.2h0M146.8 109.4h0M233.6 44.7h0M125.2 77.1h0M134.8 65.6h0M115.5 82.8h0M148.0 112.5h0M107.8 61.5h0M125.2 92.6h0M125.2 97.8h0M142.5 118.5h0M170.6 79.5h0M88.0 104.2h0M104.5 84.4h0M121.0 64.7h0M164.6 39.4h0M211.9 86.5h0M85.7 81.8h0M101.5 110.0h0M164.6 34.7h0M174.2 83.8h0M174.2 65.8h0M144.0 97.3h0M144.0 79.3h0M159.1 97.3h0M219.4 34.3h0M81.8 90.0h0M96.2 115.9h0M197.4 98.6h0M197.4 90.0h0M197.4 81.4h0M139.6 77.1h0M168.5 102.9h0M107.8 137.1h0M107.8 95.7h0M80.0 132.9h0M93.9 83.3h0M121.7 83.3h0M121.7 75.0h0M135.6 33.6h0M118.5 77.1h0M145.2 136.8h0M145.2 104.9h0M145.2 81.0h0M158.5 81.0h0M102.7 52.1h0M115.5 44.5h0M154.1 59.8h0M205.5 90.5h0M89.8 94.3h0M115.5 109.6h0M154.1 40.6h0M192.6 94.3h0M192.6 86.6h0M88.0 102.9h0M100.4 125.1h0M100.4 95.5h0M112.8 95.5h0M112.8 58.6h0M125.2 80.7h0M162.3 80.7h0M88.0 91.8h0M187.1 84.4h0"/></g>
<use href="#q32" transform="translate(-0.53,-0.53)" stroke="#f8a89a" stroke-width="1.93" stroke-opacity="0.85"/>
<g stroke="#e2584a" stroke-width="4.00"><path id="q33" d="M251.9 144.7h0M148.0 74.3h0M184.5 68.9h0M142.5 82.2h0M185.2 108.9h0M174.7 54.9h0"/></g>
<use href="#q33" transform="translate(-0.60,-0.60)" stroke="#f8a89a" stroke-width="2.20" stroke-opacity="0.85"/>
<g stroke="#5b98d4" stroke-width="2.50"><path id="q34" d="M96.2 77.1h0M187.1 143.6h0M107.8 66.7h0M130.9 94.3h0M125.2 128.8h0M93.2 90.7h0M229.3 25.3h0M170.6 45.0h0M203.6 104.2h0M85.7 119.4h0M148.8 91.2h0M144.0 52.3h0M159.1 151.3h0M149.4 149.5h0M149.4 141.2h0M163.3 99.8h0M91.8 97.0h0M145.2 65.1h0M185.2 112.9h0M141.2 71.3h0M166.9 125.0h0M137.5 114.0h0M149.9 114.0h0"/></g>
<use href="#q34" transform="translate(-0.38,-0.38)" stroke="#bedaf5" stroke-width="1.38" stroke-opacity="0.85"/>
<g stroke="#5b98d4" stroke-width="3.00"><path id="q35" d="M236.7 84.4h0M107.8 46.0h0M177.2 108.1h0M133.0 62.9h0M164.6 100.6h0M125.2 59.8h0M154.1 59.8h0M183.0 111.5h0M91.8 73.1h0M171.9 57.1h0M225.2 104.9h0M187.1 128.8h0M130.9 66.7h0M130.9 39.1h0M177.2 39.1h0M125.2 38.2h0M168.5 102.9h0M168.5 90.0h0M190.2 154.7h0M233.6 77.1h0M160.9 171.4h0M160.9 98.4h0M181.3 110.5h0M181.3 98.4h0M96.2 117.3h0M96.2 105.8h0M115.5 128.8h0M134.8 128.8h0M211.9 71.3h0M111.5 145.1h0M129.7 123.4h0M129.7 112.5h0M129.7 79.8h0M129.7 47.1h0M166.2 79.8h0M202.8 90.7h0M202.8 79.8h0M221.0 134.2h0M159.8 118.5h0M177.2 46.0h0M211.9 35.7h0M121.0 94.3h0M137.5 133.7h0M137.5 84.4h0M154.1 114.0h0M154.1 54.9h0M101.5 91.2h0M117.3 72.3h0M148.8 119.4h0M180.4 110.0h0M180.4 72.3h0M196.1 128.8h0M98.7 88.3h0M113.8 106.3h0M113.8 88.3h0M159.1 61.3h0M189.3 70.3h0M81.8 137.4h0M125.2 85.7h0M139.6 94.3h0M139.6 51.2h0M154.1 111.5h0M154.1 51.2h0M183.0 137.4h0M197.4 120.2h0M197.4 77.1h0M211.9 85.7h0M93.9 141.2h0M93.9 108.1h0M107.8 108.1h0M149.4 108.1h0M177.2 50.1h0M91.8 104.9h0M91.8 57.1h0M105.1 73.1h0M105.1 49.2h0M118.5 65.1h0M131.8 112.9h0M145.2 128.8h0M145.2 120.8h0M158.5 57.1h0M171.9 112.9h0M102.7 117.3h0M102.7 109.6h0M128.4 94.3h0M128.4 71.3h0M154.1 71.3h0M166.9 86.6h0M179.8 117.3h0M179.8 40.6h0M192.6 94.3h0M231.2 125.0h0M88.0 99.2h0M100.4 77.1h0M112.8 128.8h0M125.2 91.8h0M125.2 77.1h0M137.5 151.0h0M137.5 69.7h0M149.9 91.8h0M149.9 54.9h0M149.9 40.1h0M162.3 143.6h0M174.7 84.4h0M174.7 69.7h0M187.1 40.1h0M199.5 173.2h0M199.5 106.6h0M250.0 150.0h0"/></g>
<use href="#q35" transform="translate(-0.45,-0.45)" stroke="#bedaf5" stroke-width="1.65" stroke-opacity="0.85"/>
<g stroke="#5b98d4" stroke-width="3.50"><path id="q36" d="M168.5 102.9h0M115.5 48.3h0M154.1 71.3h0M142.5 87.4h0M133.0 138.2h0M154.1 77.1h0M183.0 77.1h0M118.5 73.1h0M171.9 41.2h0M112.8 54.9h0M187.1 69.7h0M107.8 108.1h0M125.2 90.0h0M168.5 64.1h0M190.2 64.1h0M99.6 86.2h0M140.5 122.7h0M140.5 86.2h0M160.9 159.2h0M181.3 122.7h0M181.3 86.2h0M96.2 128.8h0M173.3 128.8h0M173.3 71.3h0M173.3 59.8h0M192.6 105.8h0M93.2 68.9h0M148.0 90.7h0M184.5 112.5h0M202.8 68.9h0M55.8 118.5h0M90.4 97.8h0M107.8 87.4h0M107.8 77.1h0M142.5 118.5h0M142.5 66.7h0M88.0 94.3h0M104.5 123.9h0M154.1 94.3h0M170.6 104.2h0M101.5 147.6h0M117.3 138.2h0M227.7 110.0h0M227.7 62.9h0M83.7 133.3h0M98.7 97.3h0M144.0 115.3h0M144.0 61.3h0M204.4 97.3h0M110.7 120.2h0M125.2 94.3h0M125.2 33.9h0M168.5 171.9h0M168.5 77.1h0M183.0 94.3h0M197.4 59.8h0M107.8 83.3h0M121.7 83.3h0M135.6 116.4h0M163.3 116.4h0M163.3 91.5h0M191.1 75.0h0M191.1 58.4h0M91.8 81.0h0M118.5 89.0h0M131.8 104.9h0M158.5 144.7h0M171.9 81.0h0M185.2 65.1h0M89.8 125.0h0M89.8 94.3h0M102.7 48.3h0M115.5 79.0h0M141.2 63.6h0M154.1 148.0h0M166.9 102.0h0M179.8 132.6h0M179.8 48.3h0M192.6 86.6h0M244.0 33.0h0M100.4 62.3h0M112.8 114.0h0M112.8 77.1h0M112.8 54.9h0M162.3 91.8h0M162.3 69.7h0M187.1 128.8h0M187.1 47.5h0"/></g>
<use href="#q36" transform="translate(-0.53,-0.53)" stroke="#bedaf5" stroke-width="1.93" stroke-opacity="0.85"/>
<g stroke="#5b98d4" stroke-width="4.00"><path id="q37" d="M192.6 94.3h0M134.8 48.3h0M170.6 64.7h0M164.6 62.9h0M93.9 91.5h0M177.2 149.5h0"/></g>
<use href="#q37" transform="translate(-0.60,-0.60)" stroke="#bedaf5" stroke-width="2.20" stroke-opacity="0.85"/>
<g stroke="#ee8c48" stroke-width="2.50"><path id="q38" d="M137.5 54.9h0M168.5 128.8h0M115.5 94.3h0M196.1 91.2h0M154.1 120.2h0M177.2 39.1h0M190.2 161.1h0M125.2 77.1h0M134.8 94.3h0M93.2 123.4h0M111.5 68.9h0M148.0 123.4h0M166.2 101.6h0M121.0 118.9h0M137.5 89.4h0M220.2 128.8h0M253.2 99.2h0M133.0 147.6h0M180.4 91.2h0M98.7 83.8h0M139.6 46.9h0M110.7 137.4h0M107.8 99.8h0M105.1 37.2h0M185.2 89.0h0M211.9 33.3h0M115.5 90.5h0M102.7 86.6h0M231.2 94.3h0M174.7 136.2h0"/></g>
<use href="#q38" transform="translate(-0.38,-0.38)" stroke="#fcc9a0" stroke-width="1.38" stroke-opacity="0.85"/>
<g stroke="#ee8c48" stroke-width="3.00"><path id="q39" d="M115.5 82.8h0M115.5 59.8h0M196.1 110.0h0M164.6 138.2h0M171.9 65.1h0M145.2 89.0h0M200.3 101.2h0M107.8 149.5h0M107.8 94.3h0M125.2 83.5h0M190.2 70.6h0M190.2 64.1h0M181.3 67.9h0M120.0 122.7h0M120.0 49.7h0M154.1 111.5h0M173.3 48.3h0M148.0 74.3h0M93.2 68.9h0M166.2 79.8h0M184.5 123.4h0M239.3 123.4h0M177.2 113.3h0M90.4 118.5h0M142.5 77.1h0M194.6 87.4h0M121.0 59.8h0M170.6 99.2h0M187.1 109.1h0M137.5 114.0h0M154.1 114.0h0M133.0 124.1h0M133.0 86.5h0M133.0 91.2h0M174.2 92.8h0M83.7 61.3h0M98.7 97.3h0M113.8 106.3h0M128.9 79.3h0M139.6 107.2h0M183.0 124.5h0M183.0 81.4h0M163.3 91.5h0M177.2 75.0h0M191.1 58.4h0M118.5 93.0h0M171.9 124.8h0M131.8 128.8h0M131.8 89.0h0M198.6 152.7h0M198.6 120.8h0M89.8 90.5h0M166.9 121.1h0M89.8 132.6h0M115.5 94.3h0M154.1 102.0h0M179.8 79.0h0M205.5 86.6h0M63.2 125.1h0M88.0 95.5h0M100.4 110.3h0M112.8 80.7h0M137.5 110.3h0M137.5 58.6h0M187.1 110.3h0M199.5 80.7h0M249.1 73.4h0M137.5 128.8h0M162.3 121.4h0M187.1 62.3h0M199.5 69.7h0"/></g>
<use href="#q39" transform="translate(-0.45,-0.45)" stroke="#fcc9a0" stroke-width="1.65" stroke-opacity="0.85"/>
<g stroke="#ee8c48" stroke-width="3.50"><path id="q40" d="M115.5 71.3h0M107.8 87.4h0M142.5 128.8h0M133.0 81.8h0M171.9 128.8h0M154.1 128.8h0M107.8 80.5h0M200.3 121.9h0M146.8 96.5h0M168.5 109.4h0M125.2 90.0h0M168.5 77.1h0M99.6 80.1h0M120.0 116.6h0M160.9 104.4h0M140.5 74.0h0M181.3 86.2h0M134.8 77.1h0M173.3 77.1h0M192.6 111.5h0M154.1 128.8h0M211.9 140.3h0M166.2 123.4h0M184.5 145.1h0M184.5 101.6h0M202.8 90.7h0M125.2 113.3h0M159.8 113.3h0M194.6 144.3h0M194.6 82.2h0M142.5 118.5h0M71.4 114.0h0M104.5 114.0h0M121.0 104.2h0M180.4 67.6h0M227.7 105.3h0M85.7 100.6h0M196.1 91.2h0M128.9 101.8h0M219.4 115.3h0M154.1 120.2h0M168.5 59.8h0M52.3 186.8h0M93.9 128.8h0M93.9 79.1h0M121.7 104.0h0M107.8 116.4h0M149.4 157.8h0M205.0 99.8h0M91.8 124.8h0M118.5 89.0h0M145.2 144.7h0M158.5 128.8h0M171.9 152.7h0M171.9 120.8h0M185.2 136.8h0M128.4 90.5h0M141.2 128.8h0M166.9 128.8h0M205.5 136.5h0M89.8 102.0h0M112.8 117.7h0M112.8 102.9h0M199.5 132.5h0M100.4 99.2h0M100.4 69.7h0M112.8 47.5h0"/></g>
<use href="#q40" transform="translate(-0.53,-0.53)" stroke="#fcc9a0" stroke-width="1.93" stroke-opacity="0.85"/>
<g stroke="#ee8c48" stroke-width="4.00"><path id="q41" d="M184.5 96.1h0M154.1 109.1h0M139.6 124.5h0M185.2 77.1h0M131.8 104.9h0M205.5 75.1h0"/></g>
<use href="#q41" transform="translate(-0.60,-0.60)" stroke="#fcc9a0" stroke-width="2.20" stroke-opacity="0.85"/>
<g stroke="#4da862" stroke-width="2.50"><path id="q42" d="M164.6 157.0h0M171.9 120.8h0M198.6 57.1h0M168.5 128.8h0M201.7 74.0h0M211.9 82.8h0M90.4 87.4h0M177.2 46.0h0M194.6 56.4h0M98.7 106.3h0M189.3 115.3h0M110.7 102.9h0M125.2 163.3h0M226.4 68.4h0M93.9 66.7h0M135.6 132.9h0M163.3 66.7h0M191.1 66.7h0M158.5 89.0h0M128.4 56.0h0M141.2 17.6h0M154.1 102.0h0M166.9 86.6h0M236.7 40.1h0"/></g>
<use href="#q42" transform="translate(-0.38,-0.38)" stroke="#a8deb2" stroke-width="1.38" stroke-opacity="0.85"/>
<g stroke="#4da862" stroke-width="3.00"><path id="q43" d="M154.1 94.3h0M192.6 25.3h0M107.8 46.0h0M133.0 119.4h0M164.6 81.8h0M164.6 62.9h0M164.6 44.1h0M227.7 157.0h0M125.2 94.3h0M154.1 180.6h0M154.1 94.3h0M118.5 104.9h0M198.6 104.9h0M162.3 99.2h0M200.3 108.1h0M246.6 94.3h0M103.5 51.2h0M99.6 86.2h0M77.0 25.3h0M96.2 82.8h0M115.5 117.3h0M173.3 128.8h0M250.5 128.8h0M93.2 123.4h0M111.5 58.0h0M129.7 47.1h0M129.7 36.2h0M148.0 36.2h0M184.5 47.1h0M239.3 25.3h0M107.8 180.6h0M88.0 84.4h0M154.1 64.7h0M170.6 104.2h0M187.1 123.9h0M101.5 81.8h0M148.8 81.8h0M164.6 62.9h0M196.1 100.6h0M98.7 61.3h0M113.8 43.3h0M128.9 79.3h0M128.9 43.3h0M174.2 97.3h0M219.4 88.3h0M234.5 133.3h0M96.2 68.4h0M110.7 94.3h0M125.2 120.2h0M168.5 77.1h0M211.9 137.4h0M121.7 33.6h0M135.6 116.4h0M135.6 99.8h0M149.4 75.0h0M163.3 50.1h0M105.1 57.1h0M131.8 41.2h0M158.5 57.1h0M171.9 168.6h0M171.9 104.9h0M171.9 97.0h0M171.9 81.0h0M171.9 65.1h0M171.9 41.2h0M198.6 89.0h0M115.5 102.0h0M128.4 109.6h0M141.2 94.3h0M166.9 71.3h0M166.9 40.6h0M179.8 94.3h0M179.8 56.0h0M192.6 102.0h0M192.6 63.6h0M218.3 79.0h0M100.4 62.3h0M112.8 84.4h0M112.8 77.1h0M125.2 114.0h0M125.2 25.3h0M137.5 128.8h0M137.5 69.7h0M174.7 17.9h0M187.1 84.4h0M187.1 62.3h0M187.1 25.3h0M224.3 151.0h0M261.6 143.6h0M245.0 160.0h0M252.0 132.0h0M94.9 12.7h0M99.5 12.2h0M104.3 12.7h0M126.0 12.6h0"/></g>
<use href="#q43" transform="translate(-0.45,-0.45)" stroke="#a8deb2" stroke-width="1.65" stroke-opacity="0.85"/>
<g stroke="#4da862" stroke-width="3.50"><path id="q44" d="M88.0 54.9h0M107.8 87.4h0M142.5 66.7h0M177.2 46.0h0M88.0 99.2h0M137.5 99.2h0M187.1 173.2h0M187.1 54.9h0M130.9 80.5h0M130.9 39.1h0M154.1 66.7h0M103.5 64.1h0M190.2 115.9h0M211.9 38.2h0M140.5 37.5h0M140.5 25.3h0M160.9 74.0h0M181.3 134.9h0M201.7 49.7h0M115.5 82.8h0M134.8 59.8h0M154.1 117.3h0M129.7 79.8h0M148.0 101.6h0M166.2 90.7h0M202.8 79.8h0M107.8 97.8h0M107.8 35.7h0M125.2 66.7h0M142.5 118.5h0M229.3 118.5h0M88.0 94.3h0M104.5 84.4h0M104.5 74.6h0M137.5 84.4h0M137.5 25.3h0M170.6 123.9h0M187.1 114.0h0M187.1 104.2h0M101.5 138.2h0M101.5 110.0h0M101.5 72.3h0M148.8 100.6h0M164.6 91.2h0M196.1 81.8h0M211.9 62.9h0M243.4 157.0h0M98.7 52.3h0M144.0 97.3h0M174.2 61.3h0M110.7 33.9h0M125.2 77.1h0M168.5 111.5h0M183.0 128.8h0M183.0 94.3h0M183.0 59.8h0M197.4 102.9h0M226.4 77.1h0M80.0 116.4h0M93.9 91.5h0M107.8 66.7h0M135.6 66.7h0M135.6 50.1h0M149.4 99.8h0M163.3 149.5h0M191.1 83.3h0M205.0 66.7h0M205.0 33.6h0M218.8 108.1h0M246.6 66.7h0M78.4 25.3h0M91.8 97.0h0M105.1 89.0h0M105.1 41.2h0M105.1 25.3h0M158.5 160.6h0M171.9 120.8h0M171.9 57.1h0M185.2 136.8h0M185.2 41.2h0M141.2 79.0h0M154.1 86.6h0M154.1 56.0h0M179.8 48.3h0M205.5 56.0h0M88.0 84.4h0M112.8 128.8h0M112.8 40.1h0M125.2 69.7h0M125.2 47.5h0M162.3 143.6h0M174.7 106.6h0M174.7 32.7h0M187.1 165.8h0M199.5 47.5h0M236.7 47.5h0M249.1 54.9h0M261.5 17.9h0M240.6 25.1h0M268.4 25.2h0M111.9 34.8h0M160.1 34.2h0M181.5 34.8h0"/></g>
<use href="#q44" transform="translate(-0.53,-0.53)" stroke="#a8deb2" stroke-width="1.93" stroke-opacity="0.85"/>
<g stroke="#4da862" stroke-width="4.00"><path id="q45" d="M162.3 128.8h0M187.1 99.2h0M173.3 48.3h0M221.0 47.1h0M90.4 56.4h0M137.5 74.6h0M85.7 100.6h0M180.4 53.5h0M93.9 58.4h0M91.8 49.2h0M185.2 89.0h0M192.6 71.3h0M231.2 109.6h0M182.0 25.1h0M190.5 24.8h0"/></g>
<use href="#q45" transform="translate(-0.60,-0.60)" stroke="#a8deb2" stroke-width="2.20" stroke-opacity="0.85"/>
<g stroke="#e2584a" stroke-width="2.50"><path id="q46" d="M154.1 117.3h0M125.2 94.3h0M154.1 46.0h0M173.3 42.6h0M154.1 71.3h0M93.2 79.8h0M90.4 97.8h0M220.2 99.2h0M196.1 110.0h0M211.9 49.2h0M244.0 102.0h0M162.3 110.3h0M100.4 62.3h0M149.9 32.7h0"/></g>
<use href="#q46" transform="translate(-0.38,-0.38)" stroke="#f8a89a" stroke-width="1.38" stroke-opacity="0.85"/>
<g stroke="#e2584a" stroke-width="3.00"><path id="q47" d="M137.5 114.0h0M125.2 77.1h0M192.6 105.8h0M154.1 71.3h0M101.5 100.6h0M125.2 85.7h0M171.9 81.0h0M171.9 65.1h0M137.5 99.2h0M154.1 59.8h0M177.2 128.8h0M107.8 108.1h0M200.3 80.5h0M190.2 83.5h0M103.5 51.2h0M181.3 116.6h0M201.7 74.0h0M173.3 77.1h0M173.3 65.6h0M115.5 128.8h0M192.6 105.8h0M129.7 128.8h0M129.7 96.1h0M166.2 85.2h0M125.2 123.6h0M142.5 113.3h0M159.8 97.8h0M159.8 66.7h0M121.0 104.2h0M196.1 67.6h0M174.2 101.8h0M113.8 106.3h0M234.5 133.3h0M110.7 94.3h0M183.0 94.3h0M107.8 79.1h0M121.7 120.5h0M163.3 87.4h0M177.2 46.0h0M149.4 75.0h0M163.3 108.1h0M191.1 58.4h0M218.8 33.6h0M185.2 93.0h0M64.1 136.5h0M115.5 113.5h0M141.2 67.5h0M154.1 121.1h0M102.7 94.3h0M128.4 79.0h0M141.2 71.3h0M88.0 80.7h0M100.4 162.1h0M125.2 51.2h0M174.7 102.9h0M199.5 91.8h0M283.3 61.8h0M255.8 167.4h0M262.0 125.0h0"/></g>
<use href="#q47" transform="translate(-0.45,-0.45)" stroke="#f8a89a" stroke-width="1.65" stroke-opacity="0.85"/>
<g stroke="#e2584a" stroke-width="3.50"><path id="q48" d="M154.1 82.8h0M177.2 118.5h0M177.2 35.7h0M196.1 91.2h0M101.5 62.9h0M96.2 85.7h0M125.2 102.9h0M88.0 136.2h0M112.8 62.3h0M187.1 99.2h0M107.8 59.8h0M200.3 108.1h0M146.8 122.3h0M190.2 70.6h0M125.2 90.0h0M233.6 77.1h0M160.9 128.8h0M99.6 74.0h0M115.5 77.1h0M192.6 77.1h0M111.5 96.1h0M148.0 52.5h0M111.5 101.6h0M129.7 101.6h0M107.8 40.8h0M142.5 102.9h0M125.2 77.1h0M194.6 149.5h0M194.6 87.4h0M194.6 56.4h0M104.5 69.7h0M170.6 128.8h0M88.0 84.4h0M137.5 94.3h0M196.1 72.3h0M174.2 92.8h0M234.5 146.8h0M98.7 115.3h0M128.9 97.3h0M110.7 98.6h0M168.5 55.5h0M96.2 111.5h0M125.2 42.6h0M121.7 70.8h0M191.1 112.2h0M218.8 46.0h0M246.6 153.6h0M246.6 104.0h0M107.8 108.1h0M135.6 124.7h0M135.6 116.4h0M163.3 116.4h0M105.1 100.9h0M131.8 124.8h0M185.2 132.8h0M141.2 113.5h0M179.8 128.8h0M179.8 90.5h0M218.3 44.5h0M102.7 63.6h0M141.2 48.3h0M149.9 73.4h0M162.3 125.1h0M174.7 84.4h0M174.7 32.7h0"/></g>
<use href="#q48" transform="translate(-0.53,-0.53)" stroke="#f8a89a" stroke-width="1.93" stroke-opacity="0.85"/>
<g stroke="#e2584a" stroke-width="4.00"><path id="q49" d="M63.2 143.6h0M125.2 109.4h0M196.1 114.7h0M83.7 61.3h0M121.7 95.7h0M185.2 148.7h0M102.7 105.8h0M125.2 91.8h0"/></g>
<use href="#q49" transform="translate(-0.60,-0.60)" stroke="#f8a89a" stroke-width="2.20" stroke-opacity="0.85"/>
<g stroke="#5b98d4" stroke-width="2.50"><path id="q50" d="M107.8 87.4h0M112.8 143.6h0M154.1 39.1h0M103.5 102.9h0M140.5 147.1h0M160.9 61.8h0M166.2 123.4h0M166.2 101.6h0M166.2 47.1h0M159.8 46.0h0M148.8 62.9h0M128.9 70.3h0M128.9 61.3h0M189.3 115.3h0M197.4 102.9h0M93.9 132.9h0M121.7 41.9h0M149.4 58.4h0M171.9 49.2h0M198.6 65.1h0M166.9 117.3h0M162.3 54.9h0"/></g>
<use href="#q50" transform="translate(-0.38,-0.38)" stroke="#bedaf5" stroke-width="1.38" stroke-opacity="0.85"/>
<g stroke="#5b98d4" stroke-width="3.00"><path id="q51" d="M177.2 46.0h0M164.6 44.1h0M196.1 62.9h0M154.1 128.8h0M183.0 128.8h0M145.2 57.1h0M171.9 89.0h0M112.8 128.8h0M137.5 114.0h0M162.3 128.8h0M162.3 99.2h0M162.3 40.1h0M236.7 84.4h0M125.2 102.9h0M190.2 90.0h0M190.2 51.2h0M120.0 110.5h0M160.9 86.2h0M160.9 74.0h0M181.3 171.4h0M201.7 159.2h0M96.2 48.3h0M115.5 117.3h0M154.1 105.8h0M154.1 71.3h0M154.1 59.8h0M111.5 134.2h0M148.0 47.1h0M184.5 47.1h0M90.4 128.8h0M90.4 66.7h0M107.8 35.7h0M125.2 97.8h0M159.8 108.1h0M194.6 139.2h0M211.9 128.8h0M88.0 114.0h0M121.0 143.6h0M121.0 104.2h0M121.0 74.6h0M170.6 84.4h0M187.1 74.6h0M187.1 54.9h0M117.3 110.0h0M180.4 128.8h0M196.1 91.2h0M196.1 62.9h0M144.0 34.3h0M159.1 124.3h0M174.2 106.3h0M174.2 61.3h0M189.3 52.3h0M204.4 43.3h0M96.2 111.5h0M110.7 51.2h0M154.1 59.8h0M168.5 128.8h0M168.5 120.2h0M168.5 33.9h0M183.0 102.9h0M211.9 94.3h0M135.6 132.9h0M149.4 75.0h0M163.3 132.9h0M163.3 124.7h0M177.2 66.7h0M191.1 124.7h0M191.1 50.1h0M91.8 120.8h0M118.5 152.7h0M118.5 128.8h0M118.5 104.9h0M131.8 89.0h0M145.2 136.8h0M145.2 57.1h0M145.2 49.2h0M158.5 73.1h0M158.5 41.2h0M171.9 136.8h0M185.2 81.0h0M185.2 41.2h0M89.8 109.6h0M89.8 63.6h0M128.4 48.3h0M141.2 117.3h0M141.2 109.6h0M154.1 132.6h0M154.1 86.6h0M154.1 33.0h0M166.9 132.6h0M179.8 109.6h0M179.8 33.0h0M192.6 125.0h0M88.0 54.9h0M100.4 106.6h0M112.8 91.8h0M125.2 40.1h0M137.5 121.4h0M137.5 40.1h0M162.3 106.6h0M162.3 84.4h0M174.7 106.6h0M174.7 40.1h0M236.7 151.0h0M270.3 135.7h0"/></g>
<use href="#q51" transform="translate(-0.45,-0.45)" stroke="#bedaf5" stroke-width="1.65" stroke-opacity="0.85"/>
<g stroke="#5b98d4" stroke-width="3.50"><path id="q52" d="M192.6 163.3h0M142.5 66.7h0M96.2 94.3h0M118.5 104.9h0M118.5 57.1h0M145.2 73.1h0M171.9 73.1h0M198.6 89.0h0M88.0 143.6h0M137.5 128.8h0M187.1 114.0h0M187.1 40.1h0M130.9 108.1h0M154.1 149.5h0M177.2 94.3h0M103.5 141.7h0M120.0 122.7h0M120.0 86.2h0M181.3 49.7h0M115.5 94.3h0M154.1 48.3h0M111.5 112.5h0M184.5 156.0h0M184.5 123.4h0M184.5 36.2h0M107.8 66.7h0M125.2 46.0h0M125.2 35.7h0M177.2 108.1h0M177.2 56.4h0M194.6 97.8h0M137.5 35.2h0M85.7 53.5h0M117.3 91.2h0M133.0 110.0h0M164.6 128.8h0M164.6 44.1h0M180.4 62.9h0M98.7 160.3h0M113.8 70.3h0M159.1 106.3h0M174.2 70.3h0M204.4 151.3h0M96.2 102.9h0M110.7 77.1h0M110.7 68.4h0M110.7 59.8h0M125.2 77.1h0M125.2 59.8h0M139.6 85.7h0M168.5 59.8h0M168.5 51.2h0M183.0 85.7h0M197.4 85.7h0M93.9 66.7h0M107.8 116.4h0M107.8 41.9h0M107.8 33.6h0M121.7 75.0h0M121.7 66.7h0M135.6 66.7h0M149.4 124.7h0M163.3 83.3h0M163.3 50.1h0M177.2 108.1h0M177.2 41.9h0M246.6 83.3h0M78.4 144.7h0M91.8 49.2h0M105.1 112.9h0M105.1 104.9h0M105.1 57.1h0M118.5 112.9h0M118.5 73.1h0M131.8 120.8h0M185.2 49.2h0M198.6 89.0h0M198.6 73.1h0M89.8 102.0h0M102.7 86.6h0M102.7 79.0h0M115.5 63.6h0M166.9 79.0h0M166.9 56.0h0M179.8 71.3h0M192.6 48.3h0M205.5 117.3h0M100.4 121.4h0M100.4 114.0h0M100.4 40.1h0M125.2 121.4h0M125.2 84.4h0M137.5 106.6h0M137.5 84.4h0M137.5 62.3h0M149.9 106.6h0M199.5 99.2h0M199.5 77.1h0"/></g>
<use href="#q52" transform="translate(-0.53,-0.53)" stroke="#bedaf5" stroke-width="1.93" stroke-opacity="0.85"/>
<g stroke="#5b98d4" stroke-width="4.00"><path id="q53" d="M125.2 64.1h0M154.1 94.3h0M129.7 90.7h0M170.6 114.0h0M187.1 45.0h0M83.7 70.3h0M163.3 58.4h0M177.2 116.4h0M356.8 163.3h0"/></g>
<use href="#q53" transform="translate(-0.60,-0.60)" stroke="#bedaf5" stroke-width="2.20" stroke-opacity="0.85"/>
<g stroke="#ee8c48" stroke-width="2.50"><path id="q54" d="M115.5 128.8h0M192.6 140.3h0M146.8 64.1h0M190.2 51.2h0M173.3 54.1h0M134.8 71.3h0M148.0 107.0h0M142.5 144.3h0M170.6 94.3h0M148.8 30.0h0M180.4 81.8h0M189.3 101.8h0M204.4 133.3h0M110.7 72.7h0M183.0 72.7h0M52.9 154.7h0M93.9 95.7h0M149.4 58.4h0M251.9 120.8h0M128.4 98.1h0M179.8 82.8h0M128.4 109.6h0M179.8 125.0h0M88.0 88.1h0M112.8 95.5h0M162.3 117.7h0M149.9 106.6h0M187.1 114.0h0"/></g>
<use href="#q54" transform="translate(-0.38,-0.38)" stroke="#fcc9a0" stroke-width="1.38" stroke-opacity="0.85"/>
<g stroke="#ee8c48" stroke-width="3.00"><path id="q55" d="M137.5 143.6h0M154.1 82.8h0M154.1 117.3h0M177.2 46.0h0M196.1 128.8h0M96.2 51.2h0M125.2 128.8h0M211.9 128.8h0M118.5 97.0h0M145.2 104.9h0M225.2 152.7h0M112.8 91.8h0M137.5 128.8h0M177.2 101.2h0M177.2 80.5h0M60.1 96.5h0M103.5 122.3h0M103.5 83.5h0M125.2 70.6h0M146.8 109.4h0M125.2 128.8h0M146.8 128.8h0M181.3 80.1h0M93.2 41.6h0M129.7 107.0h0M166.2 96.1h0M202.8 96.1h0M93.2 112.5h0M129.7 90.7h0M107.8 71.9h0M125.2 40.8h0M194.6 165.0h0M194.6 102.9h0M159.8 35.7h0M246.6 77.1h0M154.1 94.3h0M154.1 84.4h0M170.6 114.0h0M101.5 133.5h0M148.8 86.5h0M144.0 65.8h0M219.4 65.8h0M113.8 115.3h0M139.6 72.7h0M154.1 107.2h0M168.5 64.1h0M96.2 171.9h0M177.2 137.1h0M66.2 124.7h0M80.0 166.1h0M191.1 116.4h0M145.2 124.8h0M158.5 140.7h0M118.5 49.2h0M102.7 105.8h0M115.5 82.8h0M179.8 67.5h0M231.2 36.8h0M141.2 117.3h0M112.8 88.1h0M149.9 66.0h0M112.8 62.3h0M125.2 84.4h0M149.9 91.8h0M346.8 82.7h0"/></g>
<use href="#q55" transform="translate(-0.45,-0.45)" stroke="#fcc9a0" stroke-width="1.65" stroke-opacity="0.85"/>
<g stroke="#ee8c48" stroke-width="3.50"><path id="q56" d="M164.6 128.8h0M101.5 119.4h0M101.5 81.8h0M133.0 62.9h0M164.6 100.6h0M96.2 120.2h0M198.6 73.1h0M130.9 128.8h0M130.9 73.6h0M130.9 135.7h0M130.9 52.9h0M154.1 39.1h0M177.2 52.9h0M146.8 83.5h0M190.2 96.5h0M146.8 90.0h0M168.5 64.1h0M190.2 102.9h0M160.9 98.4h0M77.0 123.1h0M173.3 65.6h0M173.3 94.3h0M129.7 63.4h0M111.5 101.6h0M129.7 58.0h0M129.7 36.2h0M194.6 71.9h0M73.1 128.8h0M125.2 97.8h0M125.2 46.0h0M121.0 158.4h0M88.0 84.4h0M88.0 74.6h0M121.0 123.9h0M154.1 74.6h0M203.6 104.2h0M133.0 48.8h0M196.1 72.3h0M98.7 92.8h0M159.1 92.8h0M96.2 90.0h0M125.2 64.1h0M139.6 90.0h0M139.6 94.3h0M154.1 137.4h0M197.4 85.7h0M93.9 87.4h0M107.8 79.1h0M107.8 62.6h0M121.7 161.9h0M149.4 104.0h0M191.1 62.6h0M163.3 108.1h0M163.3 75.0h0M177.2 108.1h0M191.1 75.0h0M105.1 77.1h0M145.2 37.2h0M171.9 85.0h0M105.1 57.1h0M185.2 65.1h0M231.2 44.5h0M89.8 71.3h0M128.4 132.6h0M166.9 125.0h0M166.9 63.6h0M205.5 79.0h0M100.4 51.2h0M112.8 51.2h0M137.5 102.9h0M162.3 73.4h0M187.1 80.7h0M88.0 180.6h0M174.7 62.3h0"/></g>
<use href="#q56" transform="translate(-0.53,-0.53)" stroke="#fcc9a0" stroke-width="1.93" stroke-opacity="0.85"/>
<g stroke="#ee8c48" stroke-width="4.00"><path id="q57" d="M125.2 71.9h0M137.5 45.0h0M101.5 114.7h0M148.8 119.4h0M180.4 119.4h0M135.6 112.2h0"/></g>
<use href="#q57" transform="translate(-0.60,-0.60)" stroke="#fcc9a0" stroke-width="2.20" stroke-opacity="0.85"/>
<g stroke="#4da862" stroke-width="2.50"><path id="q58" d="M187.1 84.4h0M115.5 71.3h0M211.9 77.1h0M118.5 57.1h0M145.2 104.9h0M112.8 40.1h0M107.8 80.5h0M160.9 86.2h0M181.3 98.4h0M166.2 47.1h0M125.2 97.8h0M211.9 77.1h0M220.2 84.4h0M98.7 79.3h0M174.2 52.3h0M125.2 42.6h0M107.8 33.6h0M121.7 66.7h0M149.4 132.9h0M149.4 116.4h0M154.1 109.6h0M166.9 63.6h0M162.3 47.5h0M249.1 106.6h0M246.7 4.5h0"/></g>
<use href="#q58" transform="translate(-0.38,-0.38)" stroke="#a8deb2" stroke-width="1.38" stroke-opacity="0.85"/>
<g stroke="#4da862" stroke-width="3.00"><path id="q59" d="M125.2 102.9h0M192.6 94.3h0M107.8 66.7h0M107.8 25.3h0M164.6 100.6h0M196.1 62.9h0M240.8 42.6h0M118.5 152.7h0M118.5 120.8h0M225.2 25.3h0M84.7 80.5h0M107.8 66.7h0M130.9 25.3h0M154.1 80.5h0M177.2 66.7h0M200.3 94.3h0M246.6 52.9h0M103.5 115.9h0M146.8 90.0h0M146.8 77.1h0M99.6 74.0h0M181.3 49.7h0M181.3 37.5h0M134.8 117.3h0M173.3 36.8h0M192.6 105.8h0M192.6 82.8h0M192.6 59.8h0M231.2 105.8h0M93.2 47.1h0M129.7 101.6h0M148.0 68.9h0M166.2 36.2h0M184.5 58.0h0M202.8 134.2h0M202.8 101.6h0M239.3 79.8h0M177.2 118.5h0M177.2 56.4h0M211.9 128.8h0M121.0 143.6h0M121.0 104.2h0M121.0 35.2h0M154.1 114.0h0M154.1 45.0h0M170.6 84.4h0M85.7 128.8h0M85.7 91.2h0M85.7 72.3h0M101.5 62.9h0M117.3 72.3h0M117.3 62.9h0M148.8 25.3h0M164.6 138.2h0M164.6 100.6h0M180.4 44.1h0M83.7 97.3h0M98.7 124.3h0M98.7 88.3h0M113.8 133.3h0M113.8 88.3h0M144.0 151.3h0M159.1 115.3h0M204.4 43.3h0M96.2 120.2h0M96.2 102.9h0M110.7 51.2h0M168.5 102.9h0M168.5 94.3h0M168.5 85.7h0M168.5 51.2h0M211.9 68.4h0M107.8 108.1h0M121.7 50.1h0M191.1 75.0h0M218.8 91.5h0M246.6 99.8h0M171.9 49.2h0M185.2 73.1h0M198.6 57.1h0M198.6 25.3h0M225.2 81.0h0M89.8 86.6h0M89.8 63.6h0M102.7 102.0h0M115.5 63.6h0M128.4 79.0h0M154.1 71.3h0M179.8 125.0h0M179.8 40.6h0M179.8 33.0h0M192.6 79.0h0M100.4 54.9h0M137.5 99.2h0M137.5 91.8h0M137.5 84.4h0M137.5 32.7h0M149.9 69.7h0M149.9 32.7h0M187.1 114.0h0M211.9 25.3h0M281.7 108.3h0M113.0 12.3h0M117.8 12.6h0"/></g>
<use href="#q59" transform="translate(-0.45,-0.45)" stroke="#a8deb2" stroke-width="1.65" stroke-opacity="0.85"/>
<g stroke="#4da862" stroke-width="3.50"><path id="q60" d="M88.0 84.4h0M88.0 25.3h0M137.5 84.4h0M192.6 48.3h0M196.1 81.8h0M154.1 42.6h0M145.2 41.2h0M171.9 104.9h0M84.7 66.7h0M130.9 52.9h0M154.1 52.9h0M177.2 94.3h0M120.0 49.7h0M140.5 110.5h0M160.9 37.5h0M181.3 74.0h0M201.7 98.4h0M96.2 71.3h0M115.5 36.8h0M134.8 82.8h0M134.8 71.3h0M134.8 36.8h0M154.1 59.8h0M173.3 163.3h0M192.6 71.3h0M211.9 105.8h0M93.2 90.7h0M129.7 58.0h0M184.5 123.4h0M257.6 47.1h0M90.4 159.9h0M142.5 97.8h0M142.5 66.7h0M142.5 46.0h0M177.2 108.1h0M194.6 97.8h0M246.6 139.2h0M154.1 133.7h0M154.1 104.2h0M154.1 54.9h0M154.1 35.2h0M187.1 35.2h0M203.6 64.7h0M236.7 54.9h0M117.3 34.7h0M133.0 53.5h0M148.8 62.9h0M148.8 34.7h0M164.6 128.8h0M164.6 44.1h0M180.4 72.3h0M98.7 25.3h0M144.0 106.3h0M189.3 106.3h0M219.4 70.3h0M96.2 94.3h0M96.2 77.1h0M139.6 128.8h0M154.1 154.7h0M168.5 68.4h0M197.4 85.7h0M197.4 68.4h0M121.7 99.8h0M135.6 91.5h0M149.4 124.7h0M149.4 108.1h0M163.3 124.7h0M177.2 108.1h0M131.8 97.0h0M131.8 33.3h0M158.5 81.0h0M185.2 97.0h0M185.2 49.2h0M102.7 86.6h0M102.7 56.0h0M115.5 125.0h0M115.5 86.6h0M128.4 40.6h0M154.1 33.0h0M179.8 155.6h0M192.6 56.0h0M192.6 48.3h0M218.3 155.6h0M100.4 84.4h0M112.8 121.4h0M125.2 77.1h0M149.9 40.1h0M174.7 77.1h0M174.7 40.1h0M213.7 25.6h0M223.0 25.0h0M259.3 25.2h0M120.2 34.5h0M142.1 34.5h0M168.7 34.4h0M190.9 34.5h0"/></g>
<use href="#q60" transform="translate(-0.53,-0.53)" stroke="#a8deb2" stroke-width="1.93" stroke-opacity="0.85"/>
<g stroke="#4da862" stroke-width="4.00"><path id="q61" d="M112.8 25.3h0M140.5 61.8h0M159.8 46.0h0M121.0 54.9h0M96.2 137.4h0M105.1 104.9h0M198.6 112.9h0M211.9 89.0h0M134.8 25.4h0M199.1 25.6h0"/></g>
<use href="#q61" transform="translate(-0.60,-0.60)" stroke="#a8deb2" stroke-width="2.20" stroke-opacity="0.85"/>
<g stroke="#e2584a" stroke-width="2.50"><path id="q62" d="M227.7 128.8h0M133.0 100.6h0M125.2 42.6h0M88.0 165.8h0M137.5 77.1h0M192.6 111.5h0M107.8 92.6h0M142.5 123.6h0M104.5 89.4h0M137.5 104.2h0M137.5 64.7h0M170.6 84.4h0M236.7 45.0h0M98.7 92.8h0M234.5 101.8h0M183.0 141.7h0M96.2 102.9h0M154.1 85.7h0M177.2 95.7h0M198.6 85.0h0M211.9 132.8h0M128.4 151.8h0M179.8 121.1h0M218.3 67.5h0M141.2 94.3h0M154.1 33.0h0"/></g>
<use href="#q62" transform="translate(-0.38,-0.38)" stroke="#f8a89a" stroke-width="1.38" stroke-opacity="0.85"/>
<g stroke="#e2584a" stroke-width="3.00"><path id="q63" d="M168.5 90.0h0M107.8 87.4h0M154.1 68.4h0M125.2 146.1h0M154.1 94.3h0M91.8 89.0h0M225.2 89.0h0M200.3 87.4h0M130.9 121.9h0M99.6 92.3h0M140.5 110.5h0M173.3 88.6h0M115.5 36.8h0M134.8 128.8h0M184.5 41.6h0M142.5 40.8h0M194.6 92.6h0M142.5 87.4h0M142.5 77.1h0M142.5 46.0h0M194.6 97.8h0M88.0 79.5h0M187.1 99.2h0M104.5 94.3h0M196.1 95.9h0M117.3 91.2h0M180.4 72.3h0M98.7 128.8h0M113.8 65.8h0M113.8 38.8h0M98.7 79.3h0M174.2 43.3h0M219.4 124.3h0M125.2 124.5h0M125.2 115.9h0M197.4 72.7h0M168.5 111.5h0M149.4 79.1h0M163.3 46.0h0M131.8 100.9h0M171.9 77.1h0M198.6 61.1h0M145.2 168.6h0M198.6 73.1h0M102.7 98.1h0M115.5 121.1h0M141.2 98.1h0M154.1 67.5h0M244.0 67.5h0M51.3 171.0h0M141.2 86.6h0M88.0 147.3h0M112.8 102.9h0M137.5 80.7h0M174.7 51.2h0M187.1 102.9h0M187.1 51.2h0M211.9 21.6h0M112.8 106.6h0M125.2 106.6h0M162.3 69.7h0M187.1 47.5h0"/></g>
<use href="#q63" transform="translate(-0.45,-0.45)" stroke="#f8a89a" stroke-width="1.65" stroke-opacity="0.85"/>
<g stroke="#e2584a" stroke-width="3.50"><path id="q64" d="M154.1 94.3h0M192.6 71.3h0M177.2 66.7h0M101.5 81.8h0M133.0 81.8h0M164.6 81.8h0M145.2 81.0h0M171.9 97.0h0M187.1 62.3h0M125.2 102.9h0M125.2 64.1h0M146.8 115.9h0M99.6 80.1h0M160.9 116.6h0M99.6 110.5h0M201.7 86.2h0M96.2 128.8h0M129.7 112.5h0M129.7 90.7h0M107.8 123.6h0M125.2 71.9h0M142.5 92.6h0M159.8 102.9h0M121.0 49.9h0M104.5 64.7h0M196.1 77.1h0M243.4 77.1h0M101.5 62.9h0M133.0 53.5h0M133.0 34.7h0M180.4 119.4h0M196.1 44.1h0M159.1 101.8h0M159.1 92.8h0M159.1 65.8h0M174.2 110.8h0M159.1 61.3h0M174.2 115.3h0M154.1 107.2h0M183.0 115.9h0M183.0 55.5h0M183.0 38.2h0M211.9 64.1h0M110.7 102.9h0M139.6 111.5h0M139.6 102.9h0M139.6 94.3h0M211.9 51.2h0M226.4 77.1h0M121.7 54.3h0M149.4 95.7h0M149.4 70.8h0M232.7 137.1h0M121.7 99.8h0M121.7 58.4h0M149.4 99.8h0M163.3 91.5h0M145.2 120.8h0M198.6 81.0h0M141.2 52.1h0M166.9 75.1h0M115.5 102.0h0M179.8 117.3h0M149.9 117.7h0M100.4 77.1h0M137.5 99.2h0M162.3 136.2h0M174.7 128.8h0"/></g>
<use href="#q64" transform="translate(-0.53,-0.53)" stroke="#f8a89a" stroke-width="1.93" stroke-opacity="0.85"/>
<g stroke="#e2584a" stroke-width="4.00"><path id="q65" d="M125.2 70.6h0M111.5 68.9h0M236.7 158.4h0M187.1 64.7h0M198.6 89.0h0M305.5 88.8h0"/></g>
<use href="#q65" transform="translate(-0.60,-0.60)" stroke="#f8a89a" stroke-width="2.20" stroke-opacity="0.85"/>
<g stroke="#5b98d4" stroke-width="2.50"><path id="q66" d="M154.1 117.3h0M112.8 99.2h0M112.8 84.4h0M137.5 69.7h0M154.1 36.8h0M111.5 90.7h0M166.2 112.5h0M154.1 123.9h0M133.0 62.9h0M133.0 44.1h0M148.8 81.8h0M180.4 91.2h0M98.7 115.3h0M144.0 142.3h0M96.2 94.3h0M110.7 42.6h0M154.1 77.1h0M121.7 50.1h0M191.1 66.7h0M198.6 128.8h0M100.4 69.7h0M137.5 47.5h0M199.5 84.4h0"/></g>
<use href="#q66" transform="translate(-0.38,-0.38)" stroke="#bedaf5" stroke-width="1.38" stroke-opacity="0.85"/>
<g stroke="#5b98d4" stroke-width="3.00"><path id="q67" d="M187.1 84.4h0M107.8 128.8h0M177.2 87.4h0M246.6 46.0h0M101.5 44.1h0M133.0 100.6h0M133.0 81.8h0M164.6 138.2h0M196.1 100.6h0M145.2 89.0h0M171.9 120.8h0M198.6 168.6h0M137.5 99.2h0M137.5 84.4h0M137.5 54.9h0M187.1 158.4h0M187.1 99.2h0M107.8 94.3h0M107.8 80.5h0M190.2 102.9h0M190.2 38.2h0M160.9 134.9h0M96.2 94.3h0M96.2 59.8h0M115.5 71.3h0M115.5 59.8h0M134.8 71.3h0M173.3 117.3h0M192.6 48.3h0M148.0 101.6h0M166.2 58.0h0M202.8 134.2h0M90.4 56.4h0M107.8 108.1h0M125.2 128.8h0M142.5 159.9h0M142.5 108.1h0M142.5 77.1h0M159.8 77.1h0M194.6 149.5h0M194.6 108.1h0M88.0 84.4h0M104.5 64.7h0M121.0 123.9h0M121.0 45.0h0M154.1 84.4h0M154.1 74.6h0M170.6 35.2h0M187.1 114.0h0M85.7 166.4h0M117.3 100.6h0M148.8 44.1h0M164.6 119.4h0M180.4 44.1h0M98.7 151.3h0M113.8 97.3h0M128.9 124.3h0M128.9 79.3h0M144.0 133.3h0M144.0 43.3h0M159.1 34.3h0M174.2 88.3h0M189.3 88.3h0M189.3 79.3h0M96.2 42.6h0M110.7 128.8h0M154.1 128.8h0M154.1 94.3h0M154.1 68.4h0M183.0 111.5h0M183.0 51.2h0M121.7 58.4h0M135.6 58.4h0M177.2 75.0h0M191.1 116.4h0M191.1 99.8h0M191.1 83.3h0M218.8 41.9h0M91.8 73.1h0M105.1 81.0h0M118.5 120.8h0M118.5 49.2h0M131.8 33.3h0M158.5 49.2h0M171.9 120.8h0M171.9 41.2h0M198.6 97.0h0M225.2 104.9h0M238.6 89.0h0M238.6 73.1h0M89.8 79.0h0M102.7 140.3h0M115.5 155.6h0M128.4 125.0h0M128.4 109.6h0M141.2 94.3h0M154.1 94.3h0M154.1 79.0h0M166.9 71.3h0M179.8 94.3h0M88.0 91.8h0M149.9 69.7h0M149.9 62.3h0M162.3 99.2h0M174.7 99.2h0M174.7 32.7h0"/></g>
<use href="#q67" transform="translate(-0.45,-0.45)" stroke="#bedaf5" stroke-width="1.65" stroke-opacity="0.85"/>
<g stroke="#5b98d4" stroke-width="3.50"><path id="q68" d="M168.5 77.1h0M115.5 94.3h0M107.8 108.1h0M177.2 66.7h0M101.5 62.9h0M125.2 111.5h0M125.2 77.1h0M211.9 180.6h0M211.9 59.8h0M91.8 57.1h0M118.5 89.0h0M145.2 136.8h0M137.5 40.1h0M211.9 128.8h0M211.9 114.0h0M154.1 108.1h0M200.3 121.9h0M146.8 115.9h0M146.8 51.2h0M168.5 128.8h0M190.2 115.9h0M99.6 110.5h0M140.5 98.4h0M160.9 49.7h0M160.9 37.5h0M115.5 82.8h0M134.8 94.3h0M154.1 128.8h0M173.3 48.3h0M107.8 97.8h0M142.5 128.8h0M142.5 35.7h0M159.8 35.7h0M194.6 128.8h0M104.5 45.0h0M121.0 35.2h0M137.5 94.3h0M137.5 64.7h0M203.6 143.6h0M101.5 81.8h0M117.3 81.8h0M117.3 44.1h0M148.8 147.6h0M148.8 100.6h0M227.7 128.8h0M113.8 142.3h0M159.1 97.3h0M174.2 124.3h0M234.5 61.3h0M110.7 111.5h0M125.2 171.9h0M139.6 128.8h0M139.6 120.2h0M139.6 111.5h0M197.4 128.8h0M197.4 68.4h0M211.9 120.2h0M211.9 111.5h0M80.0 166.1h0M93.9 99.8h0M121.7 149.5h0M121.7 124.7h0M121.7 108.1h0M121.7 33.6h0M149.4 50.1h0M177.2 83.3h0M191.1 91.5h0M191.1 41.9h0M232.7 91.5h0M105.1 136.8h0M105.1 65.1h0M145.2 152.7h0M158.5 104.9h0M158.5 65.1h0M171.9 65.1h0M185.2 120.8h0M185.2 89.0h0M198.6 120.8h0M198.6 104.9h0M51.3 140.3h0M128.4 117.3h0M141.2 86.6h0M141.2 79.0h0M154.1 163.3h0M244.0 56.0h0M88.0 121.4h0M88.0 114.0h0M88.0 84.4h0M88.0 69.7h0M112.8 32.7h0M125.2 99.2h0M125.2 62.3h0M174.7 128.8h0M187.1 84.4h0M187.1 62.3h0"/></g>
<use href="#q68" transform="translate(-0.53,-0.53)" stroke="#bedaf5" stroke-width="1.93" stroke-opacity="0.85"/>
<g stroke="#5b98d4" stroke-width="4.00"><path id="q69" d="M148.0 68.9h0M177.2 118.5h0M88.0 64.7h0M154.1 35.2h0M101.5 138.2h0M133.0 72.3h0M148.8 110.0h0M211.9 110.0h0M144.0 97.3h0M273.4 183.4h0"/></g>
<use href="#q69" transform="translate(-0.60,-0.60)" stroke="#bedaf5" stroke-width="2.20" stroke-opacity="0.85"/>
<g stroke="#ee8c48" stroke-width="2.50"><path id="q70" d="M125.2 115.9h0M142.5 77.1h0M118.5 136.8h0M198.6 152.7h0M162.3 91.8h0M112.8 99.2h0M84.7 121.9h0M103.5 148.2h0M168.5 83.5h0M115.5 111.5h0M173.3 111.5h0M184.5 139.7h0M202.8 139.7h0M177.2 82.2h0M159.8 128.8h0M88.0 148.5h0M104.5 109.1h0M121.0 99.2h0M101.5 86.5h0M174.2 128.8h0M204.4 65.8h0M189.3 97.3h0M96.2 85.7h0M121.7 145.4h0M145.2 89.0h0M128.4 117.3h0M192.6 102.0h0M218.3 117.3h0M137.5 66.0h0M162.3 91.8h0"/></g>
<use href="#q70" transform="translate(-0.38,-0.38)" stroke="#fcc9a0" stroke-width="1.38" stroke-opacity="0.85"/>
<g stroke="#ee8c48" stroke-width="3.00"><path id="q71" d="M125.2 102.9h0M142.5 35.7h0M177.2 128.8h0M133.0 91.2h0M171.9 81.0h0M118.5 104.9h0M88.0 106.6h0M137.5 91.8h0M187.1 106.6h0M187.1 62.3h0M130.9 101.2h0M154.1 156.4h0M154.1 101.2h0M103.5 115.9h0M146.8 102.9h0M134.8 117.3h0M129.7 74.3h0M148.0 128.8h0M148.0 96.1h0M202.8 63.4h0M159.8 134.0h0M177.2 102.9h0M107.8 87.4h0M88.0 109.1h0M88.0 89.4h0M104.5 118.9h0M187.1 49.9h0M220.2 118.9h0M104.5 133.7h0M104.5 104.2h0M121.0 35.2h0M117.3 77.1h0M196.1 95.9h0M101.5 91.2h0M133.0 81.8h0M148.8 91.2h0M164.6 100.6h0M113.8 38.8h0M159.1 101.8h0M189.3 56.8h0M159.1 61.3h0M174.2 97.3h0M110.7 115.9h0M154.1 90.0h0M168.5 72.7h0M183.0 98.6h0M110.7 85.7h0M183.0 68.4h0M163.3 178.5h0M135.6 132.9h0M218.8 149.5h0M91.8 132.8h0M91.8 108.9h0M171.9 77.1h0M185.2 93.0h0M198.6 100.9h0M118.5 104.9h0M158.5 81.0h0M171.9 112.9h0M102.7 82.8h0M141.2 90.5h0M179.8 113.5h0M89.8 86.6h0M141.2 86.6h0M100.4 102.9h0M112.8 110.3h0M125.2 58.6h0M187.1 88.1h0M199.5 139.9h0M100.4 136.2h0M199.5 158.4h0M281.5 87.5h0M341.9 141.9h0"/></g>
<use href="#q71" transform="translate(-0.45,-0.45)" stroke="#fcc9a0" stroke-width="1.65" stroke-opacity="0.85"/>
<g stroke="#ee8c48" stroke-width="3.50"><path id="q72" d="M187.1 84.4h0M183.0 120.2h0M183.0 77.1h0M91.8 97.0h0M112.8 47.5h0M112.8 114.0h0M200.3 94.3h0M242.5 67.9h0M99.6 110.5h0M160.9 122.7h0M192.6 65.6h0M129.7 85.2h0M184.5 90.7h0M159.8 82.2h0M177.2 154.7h0M107.8 108.1h0M194.6 118.5h0M121.0 128.8h0M121.0 89.4h0M154.1 118.9h0M154.1 99.2h0M121.0 143.6h0M170.6 45.0h0M203.6 114.0h0M117.3 95.9h0M117.3 86.5h0M148.8 142.9h0M180.4 100.6h0M180.4 62.9h0M113.8 146.8h0M159.1 56.8h0M189.3 65.8h0M113.8 61.3h0M174.2 124.3h0M234.5 151.3h0M125.2 107.2h0M96.2 94.3h0M183.0 111.5h0M183.0 33.9h0M66.2 120.5h0M121.7 112.2h0M149.4 128.8h0M191.1 161.9h0M78.4 156.7h0M105.1 108.9h0M105.1 53.2h0M198.6 124.8h0M238.6 85.0h0M91.8 89.0h0M91.8 57.1h0M91.8 49.2h0M238.6 49.2h0M115.5 113.5h0M154.1 121.1h0M154.1 98.1h0M154.1 90.5h0M166.9 67.5h0M179.8 144.1h0M115.5 102.0h0M128.4 48.3h0M141.2 140.3h0M166.9 109.6h0M192.6 86.6h0M192.6 48.3h0M100.4 117.7h0M125.2 88.1h0M149.9 132.5h0M149.9 110.3h0M174.7 58.6h0M211.9 80.7h0M224.3 51.2h0M50.8 165.8h0M75.6 99.2h0M125.2 121.4h0M125.2 114.0h0M125.2 62.3h0M149.9 114.0h0M174.7 91.8h0M187.1 54.9h0M199.5 77.1h0"/></g>
<use href="#q72" transform="translate(-0.53,-0.53)" stroke="#fcc9a0" stroke-width="1.93" stroke-opacity="0.85"/>
<g stroke="#ee8c48" stroke-width="4.00"><path id="q73" d="M107.8 118.5h0M184.5 85.2h0M137.5 99.2h0M98.7 137.8h0M189.3 83.8h0M107.8 87.4h0M149.4 87.4h0M163.3 87.4h0M88.0 151.0h0"/></g>
<use href="#q73" transform="translate(-0.60,-0.60)" stroke="#fcc9a0" stroke-width="2.20" stroke-opacity="0.85"/>
<g stroke="#4da862" stroke-width="2.50"><path id="q74" d="M142.5 25.3h0M96.2 146.1h0M211.9 99.2h0M103.5 77.1h0M120.0 98.4h0M96.2 117.3h0M173.3 59.8h0M231.2 48.3h0M93.2 134.2h0M111.5 134.2h0M221.0 68.9h0M159.8 56.4h0M229.3 87.4h0M236.7 84.4h0M101.5 91.2h0M117.3 100.6h0M189.3 70.3h0M135.6 108.1h0M163.3 91.5h0M158.5 97.0h0M77.0 132.6h0M128.4 48.3h0M141.2 63.6h0M166.9 48.3h0M192.6 140.3h0M218.3 71.3h0M100.4 40.1h0M162.3 91.8h0M224.3 40.1h0"/></g>
<use href="#q74" transform="translate(-0.38,-0.38)" stroke="#a8deb2" stroke-width="1.38" stroke-opacity="0.85"/>
<g stroke="#4da862" stroke-width="3.00"><path id="q75" d="M125.2 77.1h0M168.5 102.9h0M211.9 25.3h0M231.2 48.3h0M142.5 128.8h0M101.5 62.9h0M101.5 44.1h0M96.2 111.5h0M154.1 59.8h0M211.9 94.3h0M91.8 73.1h0M145.2 136.8h0M171.9 41.2h0M112.8 54.9h0M211.9 54.9h0M236.7 25.3h0M154.1 121.9h0M200.3 80.5h0M200.3 52.9h0M125.2 102.9h0M146.8 38.2h0M168.5 51.2h0M233.6 38.2h0M99.6 98.4h0M120.0 86.2h0M222.1 86.2h0M222.1 25.3h0M115.5 140.3h0M115.5 94.3h0M56.7 112.5h0M93.2 79.8h0M111.5 123.4h0M111.5 36.2h0M148.0 123.4h0M184.5 112.5h0M184.5 101.6h0M221.0 58.0h0M239.3 47.1h0M107.8 108.1h0M125.2 87.4h0M125.2 35.7h0M142.5 108.1h0M142.5 77.1h0M177.2 66.7h0M211.9 87.4h0M229.3 128.8h0M88.0 74.6h0M104.5 25.3h0M101.5 100.6h0M133.0 44.1h0M148.8 91.2h0M148.8 44.1h0M180.4 119.4h0M196.1 110.0h0M227.7 44.1h0M243.4 110.0h0M113.8 106.3h0M159.1 124.3h0M159.1 79.3h0M159.1 61.3h0M159.1 34.3h0M174.2 88.3h0M174.2 79.3h0M154.1 102.9h0M154.1 42.6h0M168.5 42.6h0M183.0 111.5h0M183.0 42.6h0M226.4 25.3h0M107.8 41.9h0M121.7 75.0h0M135.6 41.9h0M163.3 132.9h0M177.2 124.7h0M91.8 89.0h0M105.1 65.1h0M131.8 89.0h0M131.8 65.1h0M145.2 49.2h0M158.5 144.7h0M185.2 120.8h0M211.9 17.3h0M225.2 25.3h0M238.6 97.0h0M238.6 49.2h0M89.8 56.0h0M102.7 125.0h0M102.7 94.3h0M102.7 63.6h0M115.5 40.6h0M154.1 117.3h0M154.1 63.6h0M192.6 94.3h0M88.0 25.3h0M100.4 99.2h0M125.2 106.6h0M125.2 54.9h0M125.2 40.1h0M137.5 54.9h0M149.9 106.6h0M149.9 47.5h0M162.3 106.6h0M162.3 54.9h0M187.1 91.8h0M187.1 47.5h0M261.6 114.1h0"/></g>
<use href="#q75" transform="translate(-0.45,-0.45)" stroke="#a8deb2" stroke-width="1.65" stroke-opacity="0.85"/>
<g stroke="#4da862" stroke-width="3.50"><path id="q76" d="M137.5 54.9h0M211.9 128.8h0M231.2 94.3h0M107.8 128.8h0M142.5 87.4h0M177.2 108.1h0M101.5 100.6h0M91.8 120.8h0M118.5 89.0h0M171.9 57.1h0M225.2 89.0h0M225.2 41.2h0M88.0 25.3h0M162.3 84.4h0M187.1 114.0h0M187.1 84.4h0M130.9 108.1h0M177.2 52.9h0M177.2 39.1h0M223.5 108.1h0M223.5 52.9h0M99.6 61.8h0M99.6 49.7h0M140.5 98.4h0M96.2 105.8h0M250.5 140.3h0M148.0 47.1h0M184.5 90.7h0M107.8 87.4h0M125.2 46.0h0M159.8 118.5h0M159.8 66.7h0M177.2 97.8h0M194.6 87.4h0M194.6 66.7h0M88.0 104.2h0M104.5 94.3h0M121.0 45.0h0M154.1 94.3h0M170.6 54.9h0M85.7 62.9h0M101.5 119.4h0M180.4 91.2h0M180.4 81.8h0M196.1 91.2h0M211.9 81.8h0M259.2 62.9h0M113.8 52.3h0M144.0 88.3h0M144.0 79.3h0M144.0 61.3h0M159.1 97.3h0M249.6 133.3h0M110.7 111.5h0M139.6 68.4h0M154.1 68.4h0M168.5 33.9h0M183.0 102.9h0M183.0 77.1h0M183.0 68.4h0M80.0 17.0h0M107.8 75.0h0M135.6 33.6h0M163.3 75.0h0M163.3 58.4h0M163.3 41.9h0M177.2 41.9h0M191.1 91.5h0M205.0 116.4h0M105.1 112.9h0M105.1 81.0h0M105.1 49.2h0M118.5 112.9h0M118.5 41.2h0M131.8 73.1h0M131.8 49.2h0M145.2 25.3h0M158.5 25.3h0M115.5 109.6h0M115.5 94.3h0M115.5 48.3h0M128.4 94.3h0M166.9 33.0h0M218.3 94.3h0M231.2 33.0h0M112.8 173.2h0M137.5 114.0h0M162.3 69.7h0M187.1 77.1h0M199.5 62.3h0M211.9 151.0h0M236.7 62.3h0M93.7 34.8h0M102.3 34.8h0M107.2 34.4h0M124.1 34.9h0M138.2 34.5h0M151.2 34.7h0M164.0 34.5h0M185.9 34.6h0M194.9 34.8h0M199.0 34.4h0"/></g>
<use href="#q76" transform="translate(-0.53,-0.53)" stroke="#a8deb2" stroke-width="1.93" stroke-opacity="0.85"/>
<g stroke="#4da862" stroke-width="4.00"><path id="q77" d="M246.6 39.1h0M79.2 122.7h0M140.5 86.2h0M242.5 98.4h0M154.1 94.3h0M166.2 123.4h0M227.7 119.4h0M110.7 120.2h0M256.9 17.6h0M96.2 25.4h0M113.1 25.0h0M143.3 25.5h0M178.0 25.3h0M186.8 25.5h0"/></g>
<use href="#q77" transform="translate(-0.60,-0.60)" stroke="#a8deb2" stroke-width="2.20" stroke-opacity="0.85"/>
<g stroke="#4da862" stroke-width="4.50"><path id="q78" d="M311.0 10.6h0"/></g>
<use href="#q78" transform="translate(-0.67,-0.67)" stroke="#a8deb2" stroke-width="2.48" stroke-opacity="0.85"/>
<g stroke="#e2584a" stroke-width="2.50"><path id="q79" d="M120.0 116.6h0M184.5 96.1h0M71.4 118.9h0M259.2 95.9h0M227.7 81.8h0M189.3 92.8h0M159.1 124.3h0M183.0 90.0h0M197.4 115.9h0M107.8 87.4h0M135.6 87.4h0M135.6 79.1h0M205.0 70.8h0M115.5 71.3h0M128.4 94.3h0M154.1 102.0h0M174.7 125.1h0"/></g>
<use href="#q79" transform="translate(-0.38,-0.38)" stroke="#f8a89a" stroke-width="1.38" stroke-opacity="0.85"/>
<g stroke="#e2584a" stroke-width="3.00"><path id="q80" d="M137.5 84.4h0M192.6 59.8h0M125.2 51.2h0M183.0 111.5h0M145.2 65.1h0M198.6 97.0h0M118.5 120.8h0M118.5 89.0h0M63.2 91.8h0M162.3 91.8h0M211.9 77.1h0M137.5 128.8h0M137.5 84.4h0M223.5 32.2h0M154.1 39.1h0M177.2 39.1h0M246.6 52.9h0M103.5 90.0h0M120.0 92.3h0M120.0 80.1h0M242.5 37.5h0M96.2 100.1h0M154.1 77.1h0M192.6 100.1h0M192.6 65.6h0M93.2 96.1h0M129.7 85.2h0M221.0 19.9h0M177.2 113.3h0M125.2 87.4h0M177.2 118.5h0M170.6 69.7h0M104.5 123.9h0M117.3 100.6h0M180.4 147.6h0M98.7 101.8h0M159.1 88.3h0M154.1 72.7h0M96.2 77.1h0M168.5 128.8h0M149.4 104.0h0M191.1 104.0h0M191.1 83.3h0M171.9 132.8h0M131.8 104.9h0M145.2 41.2h0M185.2 104.9h0M115.5 90.5h0M166.9 90.5h0M231.2 44.5h0M141.2 102.0h0M154.1 109.6h0M166.9 102.0h0M137.5 88.1h0M125.2 84.4h0M137.5 91.8h0M149.9 114.0h0M149.9 99.2h0M149.9 91.8h0"/></g>
<use href="#q80" transform="translate(-0.45,-0.45)" stroke="#f8a89a" stroke-width="1.65" stroke-opacity="0.85"/>
<g stroke="#e2584a" stroke-width="3.50"><path id="q81" d="M168.5 102.9h0M154.1 48.3h0M162.3 121.4h0M187.1 91.8h0M88.0 114.0h0M130.9 101.2h0M125.2 122.3h0M146.8 83.5h0M146.8 57.6h0M146.8 102.9h0M255.3 102.9h0M79.2 134.9h0M96.2 123.1h0M134.8 94.3h0M192.6 48.3h0M90.4 92.6h0M125.2 102.9h0M177.2 102.9h0M107.8 97.8h0M194.6 66.7h0M229.3 35.7h0M121.0 84.4h0M154.1 94.3h0M154.1 74.6h0M170.6 114.0h0M117.3 86.5h0M164.6 67.6h0M101.5 119.4h0M101.5 91.2h0M117.3 62.9h0M164.6 81.8h0M211.9 147.6h0M98.7 88.3h0M98.7 61.3h0M144.0 106.3h0M174.2 34.3h0M189.3 79.3h0M110.7 68.4h0M125.2 102.9h0M125.2 77.1h0M154.1 120.2h0M183.0 77.1h0M135.6 137.1h0M135.6 120.5h0M177.2 54.3h0M93.9 108.1h0M93.9 58.4h0M163.3 75.0h0M177.2 149.5h0M171.9 108.9h0M198.6 93.0h0M105.1 168.6h0M118.5 112.9h0M145.2 89.0h0M89.8 113.5h0M89.8 59.8h0M154.1 90.5h0M166.9 67.5h0M244.0 128.8h0M166.9 56.0h0M218.3 33.0h0M125.2 58.6h0M137.5 117.7h0M149.9 95.5h0M149.9 88.1h0M100.4 106.6h0M199.5 99.2h0"/></g>
<use href="#q81" transform="translate(-0.53,-0.53)" stroke="#f8a89a" stroke-width="1.93" stroke-opacity="0.85"/>
<g stroke="#e2584a" stroke-width="4.00"><path id="q82" d="M154.1 94.3h0M255.3 135.3h0M201.7 92.3h0M166.2 74.3h0M137.5 79.5h0M133.0 100.6h0M133.0 44.1h0M149.4 120.5h0M163.3 95.7h0M135.6 83.3h0M211.9 93.0h0M179.8 109.6h0"/></g>
<use href="#q82" transform="translate(-0.60,-0.60)" stroke="#f8a89a" stroke-width="2.20" stroke-opacity="0.85"/>
<circle cx="77.7" cy="24.7" r="10.5" fill="url(#gCHO)" fill-opacity="0.90"/>
<circle cx="96" cy="36.6" r="3.5" fill="url(#gCHO)" fill-opacity="0.90"/>
<circle cx="96" cy="25" r="3" fill="url(#gCHO)" fill-opacity="0.90"/>
<circle cx="77" cy="37.2" r="2.5" fill="url(#gCHO)" fill-opacity="0.90"/>
<circle cx="81.8" cy="37.9" r="2.2" fill="url(#gCHO)" fill-opacity="0.90"/>
<circle cx="89.6" cy="53" r="8.5" fill="url(#gCHOS)" fill-opacity="0.85"/>
<circle cx="74.1" cy="143.1" r="7.1" fill="url(#gCHONS)" fill-opacity="0.90"/>
<circle cx="83.7" cy="161.5" r="11" fill="url(#gCHON)" fill-opacity="0.90"/>
<circle cx="142.7" cy="159.3" r="3" fill="url(#gCHON)" fill-opacity="0.90"/>
<circle cx="255.5" cy="102" r="3" fill="url(#gCHO)" fill-opacity="0.90"/>
<g stroke="#5b98d4" stroke-width="2.50"><path id="q83" d="M187.1 114.0h0M171.9 136.8h0M162.3 69.7h0M154.1 94.3h0M103.5 51.2h0M140.5 61.8h0M140.5 49.7h0M201.7 98.4h0M192.6 71.3h0M125.2 87.4h0M159.8 87.4h0M177.2 77.1h0M137.5 54.9h0M98.7 34.3h0M205.0 149.5h0M89.8 178.6h0M128.4 86.6h0M128.4 63.6h0M141.2 56.0h0M154.1 125.0h0M88.0 128.8h0M88.0 77.1h0M137.5 54.9h0M149.9 121.4h0M199.5 121.4h0"/></g>
<use href="#q83" transform="translate(-0.38,-0.38)" stroke="#bedaf5" stroke-width="1.38" stroke-opacity="0.85"/>
<g stroke="#5b98d4" stroke-width="3.00"><path id="q84" d="M125.2 51.2h0M231.2 140.3h0M231.2 48.3h0M133.0 44.1h0M154.1 94.3h0M145.2 120.8h0M88.0 99.2h0M187.1 84.4h0M236.7 69.7h0M84.7 94.3h0M130.9 121.9h0M177.2 108.1h0M177.2 66.7h0M146.8 38.2h0M140.5 74.0h0M115.5 48.3h0M134.8 105.8h0M134.8 36.8h0M154.1 117.3h0M154.1 82.8h0M173.3 36.8h0M192.6 94.3h0M129.7 68.9h0M166.2 166.9h0M221.0 68.9h0M239.3 90.7h0M107.8 46.0h0M125.2 108.1h0M142.5 87.4h0M142.5 46.0h0M104.5 94.3h0M121.0 84.4h0M137.5 123.9h0M236.7 114.0h0M101.5 72.3h0M117.3 119.4h0M133.0 81.8h0M83.7 88.3h0M98.7 106.3h0M98.7 52.3h0M113.8 43.3h0M159.1 115.3h0M189.3 124.3h0M81.8 85.7h0M110.7 102.9h0M110.7 85.7h0M125.2 128.8h0M139.6 68.4h0M139.6 42.6h0M139.6 33.9h0M154.1 102.9h0M168.5 85.7h0M197.4 111.5h0M226.4 42.6h0M93.9 116.4h0M93.9 75.0h0M107.8 58.4h0M121.7 99.8h0M149.4 91.5h0M149.4 83.3h0M163.3 66.7h0M177.2 124.7h0M218.8 132.9h0M91.8 65.1h0M131.8 97.0h0M145.2 41.2h0M158.5 112.9h0M158.5 89.0h0M158.5 81.0h0M185.2 104.9h0M185.2 73.1h0M185.2 33.3h0M225.2 97.0h0M77.0 132.6h0M89.8 71.3h0M102.7 40.6h0M115.5 109.6h0M166.9 48.3h0M88.0 136.2h0M100.4 84.4h0M100.4 54.9h0M112.8 99.2h0M112.8 69.7h0M112.8 47.5h0M149.9 151.0h0M162.3 77.1h0M162.3 40.1h0M187.1 114.0h0M187.1 77.1h0M187.1 69.7h0M199.5 69.7h0"/></g>
<use href="#q84" transform="translate(-0.45,-0.45)" stroke="#bedaf5" stroke-width="1.65" stroke-opacity="0.85"/>
<g stroke="#5b98d4" stroke-width="3.50"><path id="q85" d="M192.6 48.3h0M164.6 119.4h0M164.6 81.8h0M196.1 157.0h0M96.2 111.5h0M91.8 120.8h0M118.5 120.8h0M145.2 104.9h0M112.8 69.7h0M84.7 135.7h0M125.2 141.7h0M146.8 77.1h0M146.8 64.1h0M190.2 77.1h0M233.6 128.8h0M181.3 61.8h0M201.7 74.0h0M96.2 82.8h0M173.3 140.3h0M173.3 94.3h0M111.5 101.6h0M111.5 68.9h0M111.5 36.2h0M129.7 134.2h0M129.7 58.0h0M148.0 123.4h0M90.4 118.5h0M107.8 56.4h0M194.6 66.7h0M88.0 133.7h0M104.5 104.2h0M170.6 94.3h0M117.3 128.8h0M117.3 53.5h0M180.4 100.6h0M196.1 100.6h0M196.1 53.5h0M98.7 124.3h0M113.8 79.3h0M113.8 61.3h0M113.8 52.3h0M128.9 88.3h0M128.9 34.3h0M189.3 43.3h0M96.2 77.1h0M110.7 146.1h0M110.7 137.4h0M154.1 137.4h0M168.5 111.5h0M107.8 66.7h0M107.8 50.1h0M121.7 132.9h0M149.4 99.8h0M163.3 108.1h0M177.2 99.8h0M102.7 56.0h0M115.5 132.6h0M115.5 125.0h0M115.5 102.0h0M115.5 94.3h0M154.1 109.6h0M154.1 102.0h0M154.1 56.0h0M166.9 109.6h0M179.8 102.0h0M179.8 86.6h0M192.6 132.6h0M192.6 109.6h0M192.6 79.0h0M100.4 128.8h0M112.8 62.3h0M125.2 114.0h0M125.2 106.6h0M149.9 84.4h0M162.3 128.8h0M174.7 47.5h0M187.1 121.4h0M187.1 91.8h0M211.9 106.6h0M249.1 114.0h0"/></g>
<use href="#q85" transform="translate(-0.53,-0.53)" stroke="#bedaf5" stroke-width="1.93" stroke-opacity="0.85"/>
<g stroke="#5b98d4" stroke-width="4.00"><path id="q86" d="M142.5 108.1h0M103.5 38.2h0M125.2 51.2h0M187.1 84.4h0M105.1 144.7h0M185.2 57.1h0M192.6 56.0h0M218.3 86.6h0"/></g>
<use href="#q86" transform="translate(-0.60,-0.60)" stroke="#bedaf5" stroke-width="2.20" stroke-opacity="0.85"/>
<g stroke="#ee8c48" stroke-width="2.50"><path id="q87" d="M125.2 64.1h0M115.5 105.8h0M125.2 109.4h0M99.6 128.8h0M154.1 65.6h0M90.4 128.8h0M194.6 77.1h0M154.1 64.7h0M170.6 74.6h0M187.1 163.3h0M117.3 110.0h0M98.7 65.8h0M168.5 120.2h0M66.2 132.9h0M205.0 83.3h0M102.7 128.8h0M205.5 163.3h0M162.3 80.7h0M174.7 110.3h0M187.1 51.2h0M211.9 99.2h0"/></g>
<use href="#q87" transform="translate(-0.38,-0.38)" stroke="#fcc9a0" stroke-width="1.38" stroke-opacity="0.85"/>
<g stroke="#ee8c48" stroke-width="3.00"><path id="q88" d="M196.1 72.3h0M240.8 102.9h0M183.0 128.8h0M145.2 97.0h0M91.8 89.0h0M225.2 73.1h0M187.1 91.8h0M112.8 128.8h0M130.9 94.3h0M154.1 121.9h0M103.5 70.6h0M103.5 102.9h0M190.2 77.1h0M160.9 80.1h0M120.0 61.8h0M140.5 86.2h0M184.5 68.9h0M246.6 102.9h0M107.8 118.5h0M137.5 118.9h0M154.1 79.5h0M170.6 138.7h0M187.1 128.8h0M203.6 89.4h0M104.5 123.9h0M133.0 95.9h0M196.1 105.3h0M196.1 138.2h0M196.1 62.9h0M128.9 137.8h0M144.0 101.8h0M204.4 119.8h0M249.6 83.8h0M68.6 187.3h0M174.2 34.3h0M189.3 70.3h0M240.8 90.0h0M96.2 77.1h0M125.2 111.5h0M139.6 51.2h0M154.1 94.3h0M197.4 120.2h0M107.8 104.0h0M177.2 124.7h0M118.5 100.9h0M198.6 93.0h0M105.1 104.9h0M145.2 104.9h0M145.2 81.0h0M158.5 33.3h0M171.9 104.9h0M171.9 97.0h0M171.9 81.0h0M141.2 44.5h0M154.1 105.8h0M154.1 75.1h0M102.7 79.0h0M141.2 94.3h0M205.5 71.3h0M174.7 147.3h0M112.8 32.7h0M162.3 77.1h0M162.3 62.3h0M162.3 54.9h0M162.3 40.1h0M187.1 91.8h0M269.7 76.9h0M298.7 128.6h0"/></g>
<use href="#q88" transform="translate(-0.45,-0.45)" stroke="#fcc9a0" stroke-width="1.65" stroke-opacity="0.85"/>
<g stroke="#ee8c48" stroke-width="3.50"><path id="q89" d="M125.2 90.0h0M177.2 97.8h0M133.0 128.8h0M133.0 72.3h0M164.6 81.8h0M154.1 85.7h0M145.2 81.0h0M137.5 77.1h0M103.5 128.8h0M168.5 128.8h0M120.0 104.4h0M140.5 116.6h0M262.9 86.2h0M115.5 77.1h0M154.1 100.1h0M115.5 71.3h0M111.5 117.9h0M129.7 139.7h0M166.2 128.8h0M166.2 117.9h0M184.5 134.2h0M239.3 58.0h0M177.2 61.5h0M159.8 87.4h0M121.0 148.5h0M137.5 69.7h0M137.5 40.1h0M104.5 45.0h0M137.5 133.7h0M137.5 35.2h0M170.6 35.2h0M187.1 104.2h0M180.4 124.1h0M180.4 128.8h0M159.1 38.8h0M98.7 79.3h0M113.8 52.3h0M204.4 97.3h0M96.2 159.0h0M96.2 98.6h0M183.0 64.1h0M96.2 51.2h0M125.2 94.3h0M154.1 111.5h0M135.6 120.5h0M177.2 104.0h0M191.1 79.1h0M93.9 99.8h0M93.9 91.5h0M163.3 33.6h0M177.2 116.4h0M177.2 91.5h0M91.8 100.9h0M131.8 124.8h0M171.9 108.9h0M171.9 93.0h0M171.9 69.1h0M91.8 97.0h0M91.8 65.1h0M145.2 97.0h0M198.6 160.6h0M198.6 104.9h0M102.7 121.1h0M128.4 121.1h0M166.9 59.8h0M192.6 75.1h0M89.8 125.0h0M115.5 79.0h0M141.2 33.0h0M192.6 117.3h0M125.2 66.0h0M162.3 66.0h0M187.1 58.6h0M199.5 102.9h0M112.8 77.1h0M125.2 54.9h0M149.9 158.4h0M149.9 99.2h0M174.7 32.7h0"/></g>
<use href="#q89" transform="translate(-0.53,-0.53)" stroke="#fcc9a0" stroke-width="1.93" stroke-opacity="0.85"/>
<g stroke="#ee8c48" stroke-width="4.00"><path id="q90" d="M101.5 100.6h0M189.3 160.3h0M171.9 100.9h0M118.5 112.9h0M89.8 82.8h0M141.2 109.6h0"/></g>
<use href="#q90" transform="translate(-0.60,-0.60)" stroke="#fcc9a0" stroke-width="2.20" stroke-opacity="0.85"/>
<g stroke="#4da862" stroke-width="2.50"><path id="q91" d="M187.1 54.9h0M125.2 51.2h0M190.2 128.8h0M190.2 77.1h0M115.5 48.3h0M192.6 48.3h0M154.1 25.3h0M187.1 94.3h0M220.2 64.7h0M133.0 34.7h0M196.1 62.9h0M189.3 88.3h0M96.2 42.6h0M226.4 102.9h0M66.2 17.0h0M177.2 66.7h0M251.9 128.8h0M141.2 102.0h0M192.6 86.6h0M149.9 128.8h0M149.9 84.4h0M149.9 77.1h0M199.5 114.0h0M211.9 143.6h0"/></g>
<use href="#q91" transform="translate(-0.38,-0.38)" stroke="#a8deb2" stroke-width="1.38" stroke-opacity="0.85"/>
<g stroke="#4da862" stroke-width="3.00"><path id="q92" d="M115.5 94.3h0M192.6 71.3h0M142.5 108.1h0M227.7 25.3h0M96.2 163.3h0M91.8 57.1h0M171.9 73.1h0M112.8 69.7h0M162.3 69.7h0M107.8 52.9h0M107.8 39.1h0M177.2 108.1h0M125.2 38.2h0M125.2 25.3h0M146.8 64.1h0M168.5 102.9h0M190.2 102.9h0M140.5 49.7h0M160.9 134.9h0M115.5 59.8h0M129.7 123.4h0M166.2 79.8h0M177.2 35.7h0M121.0 114.0h0M137.5 45.0h0M170.6 114.0h0M170.6 35.2h0M101.5 44.1h0M148.8 147.6h0M148.8 72.3h0M180.4 100.6h0M227.7 25.3h0M83.7 133.3h0M83.7 79.3h0M98.7 151.3h0M128.9 61.3h0M128.9 34.3h0M159.1 52.3h0M159.1 43.3h0M189.3 79.3h0M189.3 52.3h0M234.5 43.3h0M110.7 42.6h0M125.2 59.8h0M139.6 120.2h0M139.6 111.5h0M139.6 94.3h0M154.1 85.7h0M183.0 51.2h0M197.4 94.3h0M93.9 50.1h0M149.4 91.5h0M149.4 83.3h0M149.4 33.6h0M177.2 99.8h0M177.2 91.5h0M218.8 25.3h0M218.8 17.0h0M105.1 97.0h0M145.2 112.9h0M158.5 65.1h0M158.5 49.2h0M185.2 81.0h0M198.6 168.6h0M198.6 73.1h0M225.2 41.2h0M251.9 89.0h0M251.9 65.1h0M102.7 40.6h0M128.4 102.0h0M141.2 86.6h0M141.2 40.6h0M154.1 40.6h0M166.9 148.0h0M179.8 79.0h0M218.3 86.6h0M100.4 77.1h0M112.8 69.7h0M112.8 25.3h0M162.3 62.3h0M199.5 25.3h0M211.9 106.6h0M270.0 94.6h0"/></g>
<use href="#q92" transform="translate(-0.45,-0.45)" stroke="#a8deb2" stroke-width="1.65" stroke-opacity="0.85"/>
<g stroke="#4da862" stroke-width="3.50"><path id="q93" d="M142.5 149.5h0M177.2 149.5h0M96.2 77.1h0M125.2 42.6h0M88.0 84.4h0M120.0 74.0h0M120.0 61.8h0M120.0 37.5h0M160.9 147.1h0M222.1 98.4h0M96.2 59.8h0M115.5 71.3h0M134.8 105.8h0M154.1 128.8h0M154.1 82.8h0M211.9 48.3h0M111.5 112.5h0M111.5 101.6h0M166.2 68.9h0M166.2 58.0h0M202.8 25.3h0M107.8 77.1h0M142.5 87.4h0M177.2 77.1h0M88.0 133.7h0M104.5 64.7h0M121.0 94.3h0M154.1 84.4h0M170.6 45.0h0M187.1 84.4h0M117.3 91.2h0M133.0 62.9h0M164.6 72.3h0M98.7 70.3h0M113.8 124.3h0M113.8 79.3h0M128.9 88.3h0M189.3 61.3h0M204.4 151.3h0M110.7 85.7h0M110.7 77.1h0M139.6 51.2h0M197.4 111.5h0M197.4 77.1h0M121.7 41.9h0M121.7 25.3h0M149.4 25.3h0M163.3 33.6h0M78.4 120.8h0M91.8 81.0h0M118.5 89.0h0M118.5 81.0h0M118.5 49.2h0M131.8 57.1h0M131.8 17.3h0M145.2 97.0h0M158.5 104.9h0M102.7 48.3h0M115.5 79.0h0M115.5 56.0h0M128.4 33.0h0M154.1 94.3h0M166.9 94.3h0M179.8 102.0h0M179.8 25.3h0M192.6 109.6h0M205.5 94.3h0M218.3 17.6h0M88.0 91.8h0M88.0 77.1h0M100.4 151.0h0M100.4 114.0h0M125.2 91.8h0M137.5 106.6h0M137.5 47.5h0M137.5 40.1h0M149.9 114.0h0M149.9 91.8h0M162.3 32.7h0M174.7 99.2h0M174.7 91.8h0M174.7 54.9h0M187.1 99.2h0M187.1 69.7h0M199.5 99.2h0M224.3 84.4h0M236.7 84.4h0M236.7 77.1h0M204.7 25.3h0M250.4 24.9h0M115.8 34.7h0"/></g>
<use href="#q93" transform="translate(-0.53,-0.53)" stroke="#a8deb2" stroke-width="1.93" stroke-opacity="0.85"/>
<g stroke="#4da862" stroke-width="4.00"><path id="q94" d="M168.5 77.1h0M168.5 90.0h0M242.5 25.3h0M159.8 87.4h0M255.3 25.3h0M238.6 73.1h0M149.9 62.3h0M174.7 114.0h0M211.9 84.4h0M105.0 24.8h0M161.0 25.4h0M169.0 25.2h0"/></g>
<use href="#q94" transform="translate(-0.60,-0.60)" stroke="#a8deb2" stroke-width="2.20" stroke-opacity="0.85"/>
<g stroke="#e2584a" stroke-width="2.50"><path id="q95" d="M140.5 92.3h0M154.1 100.1h0M154.1 118.9h0M154.1 114.0h0M148.8 95.9h0M180.4 100.6h0M110.7 111.5h0M177.2 112.2h0M154.1 48.3h0"/></g>
<use href="#q95" transform="translate(-0.38,-0.38)" stroke="#f8a89a" stroke-width="1.38" stroke-opacity="0.85"/>
<g stroke="#e2584a" stroke-width="3.00"><path id="q96" d="M154.1 36.8h0M115.5 94.3h0M96.2 94.3h0M91.8 73.1h0M112.8 114.0h0M130.9 87.4h0M154.1 128.8h0M200.3 101.2h0M146.8 70.6h0M140.5 128.8h0M96.2 59.8h0M134.8 117.3h0M177.2 92.6h0M177.2 61.5h0M125.2 66.7h0M194.6 139.2h0M137.5 99.2h0M170.6 118.9h0M187.1 89.4h0M187.1 49.9h0M133.0 91.2h0M148.8 53.5h0M113.8 83.8h0M113.8 47.8h0M189.3 173.8h0M159.1 106.3h0M110.7 72.7h0M125.2 98.6h0M168.5 98.6h0M240.8 85.7h0M93.9 70.8h0M163.3 132.9h0M105.1 45.2h0M118.5 69.1h0M171.9 148.7h0M185.2 100.9h0M131.8 49.2h0M145.2 57.1h0M171.9 104.9h0M89.8 102.0h0M89.8 86.6h0M179.8 79.0h0M88.0 73.4h0M100.4 154.7h0M112.8 73.4h0M100.4 99.2h0M149.9 84.4h0M149.9 77.1h0M162.3 62.3h0"/></g>
<use href="#q96" transform="translate(-0.45,-0.45)" stroke="#f8a89a" stroke-width="1.65" stroke-opacity="0.85"/>
<g stroke="#e2584a" stroke-width="3.50"><path id="q97" d="M192.6 82.8h0M142.5 77.1h0M164.6 166.4h0M96.2 102.9h0M225.2 17.3h0M251.9 57.1h0M211.9 54.9h0M200.3 142.6h0M168.5 90.0h0M99.6 116.6h0M99.6 104.4h0M140.5 104.4h0M160.9 92.3h0M222.1 31.4h0M96.2 54.1h0M115.5 105.8h0M166.2 68.9h0M184.5 101.6h0M177.2 40.8h0M246.6 61.5h0M90.4 56.4h0M159.8 118.5h0M159.8 87.4h0M177.2 77.1h0M137.5 69.7h0M170.6 109.1h0M121.0 54.9h0M170.6 94.3h0M203.6 84.4h0M164.6 105.3h0M101.5 72.3h0M133.0 62.9h0M139.6 90.0h0M154.1 133.1h0M96.2 51.2h0M110.7 77.1h0M139.6 120.2h0M139.6 68.4h0M168.5 94.3h0M121.7 87.4h0M91.8 61.1h0M185.2 124.8h0M185.2 85.0h0M105.1 81.0h0M238.6 41.2h0M77.0 159.5h0M128.4 90.5h0M166.9 98.1h0M166.9 52.1h0M192.6 67.5h0M77.0 117.3h0M154.1 117.3h0M179.8 63.6h0M162.3 36.4h0M187.1 73.4h0M199.5 95.5h0M88.0 84.4h0M125.2 136.2h0M174.7 62.3h0M199.5 84.4h0"/></g>
<use href="#q97" transform="translate(-0.53,-0.53)" stroke="#f8a89a" stroke-width="1.93" stroke-opacity="0.85"/>
<g stroke="#e2584a" stroke-width="4.00"><path id="q98" d="M181.3 80.1h0M177.2 71.9h0M199.5 158.4h0M361.0 187.8h0M361.0 195.4h0"/></g>
<use href="#q98" transform="translate(-0.60,-0.60)" stroke="#f8a89a" stroke-width="2.20" stroke-opacity="0.85"/>
<circle cx="137.8" cy="11.5" r="6.5" fill="url(#gCHOS)" fill-opacity="0.92"/>
<circle cx="147.5" cy="12.5" r="6.5" fill="url(#gCHOS)" fill-opacity="0.92"/>
<circle cx="154.4" cy="7.5" r="5.5" fill="url(#gCHOS)" fill-opacity="0.92"/>
<circle cx="160" cy="14" r="7.5" fill="url(#gCHOS)" fill-opacity="0.92"/>
<circle cx="172.5" cy="10.5" r="10" fill="url(#gCHOS)" fill-opacity="0.92"/>
<circle cx="179" cy="15.5" r="8.5" fill="url(#gCHOS)" fill-opacity="0.92"/>
<circle cx="143.3" cy="27.8" r="6.5" fill="url(#gCHOS)" fill-opacity="0.92"/>
<circle cx="154.4" cy="25" r="7.5" fill="url(#gCHOS)" fill-opacity="0.92"/>
<circle cx="164.2" cy="25" r="6.5" fill="url(#gCHOS)" fill-opacity="0.92"/>
<circle cx="160" cy="34.7" r="5.5" fill="url(#gCHOS)" fill-opacity="0.92"/>
<circle cx="171" cy="27.8" r="5.5" fill="url(#gCHOS)" fill-opacity="0.92"/>
<circle cx="184" cy="25" r="3.8" fill="url(#gCHOS)" fill-opacity="0.92"/>
<circle cx="130" cy="14" r="3.2" fill="url(#gCHOS)" fill-opacity="0.92"/>
<circle cx="139.2" cy="20.8" r="4" fill="url(#gCHONS)" fill-opacity="0.95"/>
<circle cx="148.9" cy="20.8" r="3" fill="url(#gCHONS)" fill-opacity="0.95"/>
<circle cx="135" cy="30.6" r="3" fill="url(#gCHONS)" fill-opacity="0.95"/>
<circle cx="173.9" cy="30.6" r="3" fill="url(#gCHONS)" fill-opacity="0.95"/>
<circle cx="176.7" cy="15.3" r="2" fill="url(#gCHONS)" fill-opacity="0.95"/>
<circle cx="154" cy="30" r="2.5" fill="url(#gCHONS)" fill-opacity="0.95"/>
<circle cx="92" cy="120" r="13" fill="url(#gCHOS)" fill-opacity="0.62"/>
<circle cx="86" cy="125" r="8" fill="url(#gCHOS)" fill-opacity="0.55"/>
</g>
<g clip-path="url(#clipC)" stroke-linecap="round" fill="none">
<g stroke="#5b98d4" stroke-width="2.50"><path id="q99" d="M113.1 307.7h0M133.1 336.0h0M105.5 369.1h0M114.1 356.2h0M126.4 376.7h0M159.8 340.3h0M142.6 335.2h0M149.3 346.1h0M159.8 302.1h0M182.6 384.6h0M145.5 360.5h0M165.5 390.0h0M193.0 419.4h0M192.1 413.6h0M159.7 417.3h0M176.0 336.6h0M176.9 327.7h0M205.5 345.6h0M209.3 309.7h0M210.2 372.5h0M209.3 300.4h0M202.6 349.5h0M230.2 374.3h0M184.5 363.2h0M197.9 315.6h0M205.4 379.0h0M208.3 355.2h0M209.3 347.3h0M196.0 322.3h0M209.3 337.6h0M211.2 383.4h0M218.8 383.4h0M227.3 375.8h0M216.9 377.1h0M235.0 298.9h0"/></g>
<use href="#q99" transform="translate(-0.38,-0.38)" stroke="#bedaf5" stroke-width="1.38" stroke-opacity="0.85"/>
<g stroke="#5b98d4" stroke-width="3.00"><path id="q100" d="M112.1 424.4h0M119.7 401.8h0M141.7 305.5h0M110.3 388.8h0M135.0 440.7h0M139.8 383.4h0M140.7 372.0h0M147.4 383.4h0M151.1 429.3h0M194.0 280.3h0M126.4 432.9h0M128.3 411.2h0M138.8 378.6h0M141.6 432.9h0M154.0 378.6h0M167.4 313.5h0M174.9 400.3h0M177.8 367.8h0M143.6 394.9h0M148.3 425.8h0M167.4 384.6h0M189.3 312.4h0M160.7 360.5h0M165.5 311.4h0M162.6 419.4h0M168.3 360.5h0M177.8 419.4h0M180.7 390.0h0M189.2 380.2h0M176.9 338.7h0M181.7 366.8h0M188.3 376.2h0M196.9 366.8h0M202.6 310.5h0M167.3 417.3h0M174.1 354.6h0M175.0 345.6h0M184.5 327.7h0M187.4 300.8h0M192.2 327.7h0M213.0 417.3h0M187.3 429.3h0M196.9 343.4h0M203.6 351.9h0M214.0 394.9h0M180.7 407.3h0M200.8 300.0h0M194.9 415.5h0M208.4 300.0h0M215.9 366.0h0M227.4 333.0h0M237.8 374.3h0M187.4 339.4h0M201.7 347.3h0M209.2 410.8h0M224.4 410.8h0M236.0 315.6h0M240.7 339.4h0M248.3 339.4h0M197.9 368.2h0M214.0 360.5h0M215.9 406.4h0M241.7 322.3h0M209.3 387.5h0M266.4 358.1h0M171.2 434.0h0M198.8 398.5h0M207.4 391.3h0M220.7 405.6h0M239.7 377.1h0M246.4 384.2h0M215.0 326.2h0M215.9 374.3h0M222.6 381.2h0M223.6 374.3h0M228.4 331.7h0M233.0 404.9h0M272.1 345.0h0M232.1 401.3h0M247.4 349.8h0M246.4 407.8h0M264.5 336.9h0M213.1 366.8h0M238.8 398.0h0M254.9 391.8h0M242.6 364.6h0M257.8 364.6h0M262.6 382.8h0M241.6 409.6h0M270.0 300.0h0"/></g>
<use href="#q100" transform="translate(-0.45,-0.45)" stroke="#bedaf5" stroke-width="1.65" stroke-opacity="0.85"/>
<g stroke="#5b98d4" stroke-width="3.50"><path id="q101" d="M101.7 291.8h0M91.2 309.0h0M105.5 326.2h0M108.3 412.1h0M97.9 307.7h0M112.2 323.5h0M148.3 336.0h0M128.3 369.1h0M136.9 356.2h0M143.6 369.1h0M119.8 349.1h0M125.5 372.0h0M127.4 349.1h0M129.3 326.2h0M144.6 326.2h0M154.1 303.3h0M157.9 349.1h0M132.2 367.8h0M133.1 356.9h0M181.7 324.4h0M188.3 335.2h0M150.3 322.7h0M160.7 374.3h0M166.4 394.9h0M180.7 322.7h0M141.7 399.8h0M201.6 409.6h0M209.2 409.6h0M161.7 338.7h0M163.6 319.9h0M190.2 357.4h0M155.0 390.4h0M212.0 426.3h0M236.9 336.6h0M167.4 403.5h0M177.8 377.7h0M183.6 326.2h0M193.1 309.0h0M196.8 412.1h0M206.4 326.2h0M220.6 403.5h0M224.5 369.1h0M182.6 390.8h0M196.0 341.3h0M206.5 316.5h0M203.5 407.3h0M220.7 324.8h0M223.5 366.0h0M228.3 390.8h0M232.1 357.8h0M215.9 355.2h0M215.9 418.7h0M189.3 375.8h0M238.7 406.4h0M246.4 345.3h0M256.8 383.4h0M218.8 372.8h0M229.3 350.7h0M262.5 387.5h0M206.4 398.5h0M225.5 313.1h0M252.1 388.0h0M215.0 371.6h0M242.6 330.5h0M237.9 354.3h0M269.3 348.0h0M267.3 401.0h0M237.8 386.1h0M253.1 338.9h0M259.7 392.0h0M263.5 368.4h0M259.8 337.6h0"/></g>
<use href="#q101" transform="translate(-0.53,-0.53)" stroke="#bedaf5" stroke-width="1.93" stroke-opacity="0.85"/>
<g stroke="#ee8c48" stroke-width="2.50"><path id="q102" d="M107.8 403.5h0M113.6 300.4h0M109.8 347.3h0M118.3 331.5h0M132.6 347.3h0M106.5 365.4h0M113.6 367.4h0M131.7 326.2h0M143.1 381.2h0M111.2 388.0h0M143.1 362.7h0M140.7 382.0h0M156.9 369.1h0M123.6 388.8h0M131.2 388.8h0M133.6 354.8h0M170.7 366.3h0M140.3 351.5h0M190.7 384.0h0M170.2 346.1h0M143.1 389.7h0M184.0 358.8h0M183.5 436.1h0M186.9 394.9h0M189.7 444.0h0M192.5 414.5h0M160.7 419.4h0M177.9 321.3h0M179.8 301.6h0M200.7 399.8h0M215.4 399.6h0M227.8 341.1h0M225.9 347.6h0M228.7 390.6h0M234.5 339.1h0M178.8 420.7h0M207.4 369.1h0M197.4 320.7h0M197.4 386.7h0M216.4 353.7h0M181.2 383.0h0M203.1 327.5h0M206.9 359.2h0M251.6 367.1h0M218.8 315.6h0M227.8 364.4h0M235.0 360.5h0M268.3 337.6h0M233.5 369.1h0M230.3 328.6h0M261.1 380.7h0M234.1 339.9h0M250.7 381.6h0M232.1 398.2h0M248.3 338.4h0"/></g>
<use href="#q102" transform="translate(-0.38,-0.38)" stroke="#fcc9a0" stroke-width="1.38" stroke-opacity="0.85"/>
<g stroke="#ee8c48" stroke-width="3.00"><path id="q103" d="M99.3 301.2h0M109.3 360.5h0M108.4 355.2h0M109.3 339.4h0M121.7 387.0h0M128.3 402.8h0M112.6 402.3h0M130.2 350.7h0M114.1 346.8h0M149.3 388.0h0M150.2 374.3h0M124.1 311.1h0M126.9 375.6h0M123.6 407.8h0M135.0 356.2h0M142.6 356.2h0M148.3 382.0h0M159.8 330.5h0M160.7 317.6h0M128.8 334.3h0M146.9 394.9h0M147.8 382.8h0M155.4 382.8h0M151.2 328.2h0M164.5 352.4h0M130.7 389.2h0M159.3 320.4h0M182.1 320.4h0M145.5 383.4h0M176.9 372.0h0M143.1 318.9h0M157.4 329.8h0M187.8 329.8h0M154.1 356.9h0M158.9 302.7h0M165.5 313.5h0M169.3 356.9h0M180.7 313.5h0M188.3 313.5h0M150.7 389.7h0M189.2 374.3h0M194.9 394.9h0M163.1 326.2h0M174.5 365.4h0M192.6 336.0h0M193.6 326.2h0M201.1 404.7h0M154.0 409.6h0M192.1 331.1h0M152.6 418.3h0M211.6 362.1h0M224.9 380.8h0M169.3 319.9h0M176.9 319.9h0M183.6 329.3h0M199.7 394.9h0M179.3 368.0h0M211.6 350.1h0M179.8 354.6h0M184.5 381.5h0M228.3 327.7h0M192.6 373.4h0M193.6 364.8h0M208.8 296.1h0M209.7 356.2h0M176.0 377.7h0M183.6 377.7h0M229.3 309.0h0M252.1 377.7h0M225.0 345.4h0M194.1 341.3h0M209.3 341.3h0M245.4 423.8h0M199.3 359.2h0M215.5 351.3h0M202.7 323.5h0M207.4 347.3h0M214.0 418.7h0M225.4 387.0h0M209.7 387.3h0M225.9 379.6h0M233.6 318.5h0M236.4 356.7h0M247.8 326.2h0M257.3 372.0h0M260.2 349.1h0M207.3 398.7h0M251.2 352.9h0M253.0 398.7h0M199.3 398.6h0M209.7 376.5h0M214.5 339.7h0M216.4 383.9h0M249.7 361.8h0M214.0 394.9h0M226.4 358.1h0M234.0 417.0h0M252.1 336.0h0M233.5 416.2h0M235.4 402.0h0M257.3 409.1h0M247.4 306.0h0M270.2 362.9h0M217.4 357.1h0M227.8 391.5h0M236.4 384.6h0M242.1 398.3h0M217.8 401.8h0M244.9 421.5h0M254.0 351.7h0M270.2 345.0h0M273.0 378.3h0M253.6 353.0h0M255.4 391.7h0M261.2 353.0h0M253.6 344.9h0M260.2 351.2h0M253.0 391.8h0M262.6 379.3h0M278.3 350.3h0M269.7 392.2h0"/></g>
<use href="#q103" transform="translate(-0.45,-0.45)" stroke="#fcc9a0" stroke-width="1.65" stroke-opacity="0.85"/>
<g stroke="#ee8c48" stroke-width="3.50"><path id="q104" d="M96.4 384.6h0M101.2 413.6h0M112.6 426.6h0M113.6 410.8h0M116.9 339.4h0M124.5 321.3h0M148.8 388.5h0M136.0 343.4h0M130.7 407.0h0M138.4 310.0h0M151.7 334.3h0M141.7 352.4h0M143.1 423.5h0M150.2 417.8h0M161.2 373.2h0M122.6 454.6h0M150.3 313.5h0M167.4 378.6h0M183.5 367.8h0M148.9 327.9h0M160.2 369.1h0M180.3 317.6h0M185.5 333.0h0M155.5 404.7h0M167.9 355.6h0M155.0 399.8h0M197.8 429.3h0M215.5 324.6h0M171.2 376.2h0M178.8 376.2h0M184.1 323.2h0M221.1 403.9h0M171.2 363.5h0M186.4 363.5h0M175.5 390.6h0M218.3 347.6h0M240.7 343.4h0M191.7 370.2h0M214.5 370.2h0M191.2 366.0h0M202.6 399.0h0M204.5 382.5h0M215.9 349.5h0M223.5 415.5h0M240.6 399.0h0M244.5 366.0h0M195.5 390.9h0M202.1 398.9h0M214.9 410.8h0M239.2 394.9h0M207.8 391.2h0M232.6 317.6h0M245.0 339.7h0M215.5 380.7h0M249.7 352.2h0M218.8 405.6h0M230.1 434.0h0M227.9 336.5h0M254.5 364.0h0M267.8 368.3h0M233.1 391.6h0M239.8 345.0h0M266.9 357.4h0M281.6 354.3h0M235.4 404.0h0M272.6 361.5h0M236.5 341.9h0"/></g>
<use href="#q104" transform="translate(-0.53,-0.53)" stroke="#fcc9a0" stroke-width="1.93" stroke-opacity="0.85"/>
<g stroke="#4da862" stroke-width="2.50"><path id="q105" d="M106.4 329.3h0M119.7 366.8h0M128.3 326.2h0M128.3 307.7h0M135.0 323.5h0M156.9 321.3h0M139.8 333.0h0M134.0 394.9h0M167.4 340.3h0M164.5 346.1h0M180.7 335.2h0M200.6 404.3h0M182.6 345.6h0M215.9 390.4h0M254.0 309.0h0M214.1 307.7h0M238.8 319.3h0"/></g>
<use href="#q105" transform="translate(-0.38,-0.38)" stroke="#a8deb2" stroke-width="1.38" stroke-opacity="0.85"/>
<g stroke="#4da862" stroke-width="3.00"><path id="q106" d="M117.8 404.3h0M124.5 371.1h0M138.8 387.0h0M127.4 306.5h0M157.8 306.5h0M123.6 346.8h0M126.5 305.5h0M148.3 319.3h0M163.6 304.7h0M147.4 303.9h0M169.3 316.1h0M171.1 388.8h0M144.5 326.2h0M147.4 383.4h0M157.8 349.1h0M165.5 349.1h0M167.4 326.2h0M168.3 314.7h0M209.3 280.3h0M148.3 356.9h0M166.4 324.4h0M170.2 367.8h0M191.2 302.7h0M171.2 343.4h0M172.1 415.5h0M204.5 312.4h0M211.1 405.2h0M223.5 353.7h0M163.6 331.1h0M202.6 321.3h0M204.5 301.6h0M216.8 409.6h0M202.6 310.5h0M247.3 319.9h0M207.4 327.7h0M222.5 399.4h0M234.0 363.5h0M235.9 345.6h0M199.7 386.3h0M226.4 351.9h0M248.3 360.5h0M257.8 333.0h0M211.2 331.5h0M235.0 323.5h0M268.2 363.2h0M179.7 452.2h0M241.6 383.4h0M258.7 368.2h0M222.6 343.4h0M223.6 336.0h0M233.1 313.1h0M235.9 348.7h0M238.8 327.4h0M259.7 410.5h0M255.0 382.8h0M106.4 291.3h0M117.5 291.7h0M137.2 291.9h0M182.7 291.8h0M185.9 291.6h0M208.5 291.2h0"/></g>
<use href="#q106" transform="translate(-0.45,-0.45)" stroke="#a8deb2" stroke-width="1.65" stroke-opacity="0.85"/>
<g stroke="#4da862" stroke-width="3.50"><path id="q107" d="M107.4 333.0h0M107.4 310.5h0M129.3 329.3h0M114.1 309.0h0M127.3 424.4h0M124.5 333.0h0M132.2 317.6h0M140.7 407.8h0M153.1 328.2h0M170.2 303.9h0M158.7 429.3h0M171.1 372.0h0M188.3 349.1h0M194.9 360.5h0M165.5 335.2h0M155.0 353.7h0M179.8 333.0h0M184.5 364.0h0M172.1 399.8h0M235.0 301.6h0M174.0 366.8h0M185.5 329.3h0M188.4 301.2h0M201.7 319.9h0M241.6 301.2h0M245.4 338.7h0M179.7 372.5h0M194.1 309.7h0M202.6 300.8h0M202.6 372.5h0M225.5 300.8h0M209.2 369.1h0M216.0 309.0h0M233.0 360.5h0M190.2 390.8h0M195.9 407.3h0M203.6 341.3h0M207.4 308.3h0M211.2 341.3h0M218.8 341.3h0M223.5 366.0h0M226.3 407.3h0M245.5 299.7h0M234.0 322.3h0M249.3 313.9h0M259.7 378.3h0M249.2 379.3h0"/></g>
<use href="#q107" transform="translate(-0.53,-0.53)" stroke="#a8deb2" stroke-width="1.93" stroke-opacity="0.85"/>
<g stroke="#e2584a" stroke-width="2.50"><path id="q108" d="M112.6 317.6h0M111.2 326.2h0M118.3 331.5h0M136.9 365.4h0M137.8 350.7h0M149.2 409.6h0M150.7 381.2h0M159.7 346.8h0M144.0 349.8h0M147.8 401.3h0M169.3 304.7h0M179.2 354.8h0M176.9 372.0h0M178.8 349.1h0M183.5 383.4h0M217.3 327.9h0M167.4 364.0h0M178.8 322.7h0M180.7 384.6h0M190.7 355.6h0M181.2 362.1h0M196.4 362.1h0M227.3 348.0h0M237.8 394.9h0M187.8 359.0h0M204.5 336.6h0M194.5 356.2h0M217.3 356.2h0M241.6 334.8h0M253.0 369.1h0M222.1 370.2h0M255.4 345.4h0M225.4 399.0h0M216.9 331.5h0M257.8 371.1h0M247.9 317.6h0M249.7 398.3h0M250.6 391.5h0M251.1 381.2h0M247.4 370.6h0"/></g>
<use href="#q108" transform="translate(-0.38,-0.38)" stroke="#f8a89a" stroke-width="1.38" stroke-opacity="0.85"/>
<g stroke="#e2584a" stroke-width="3.00"><path id="q109" d="M126.9 334.8h0M126.9 315.6h0M133.6 331.5h0M154.0 355.2h0M116.4 343.4h0M128.8 387.5h0M145.0 372.8h0M154.5 326.2h0M146.9 311.1h0M156.4 388.5h0M161.2 324.0h0M160.6 420.7h0M171.1 382.0h0M161.1 407.0h0M155.9 364.6h0M156.9 352.4h0M165.4 437.4h0M156.4 354.8h0M162.1 377.7h0M170.7 366.3h0M170.2 360.5h0M185.4 360.5h0M195.0 337.6h0M165.0 329.8h0M171.7 340.6h0M180.2 329.8h0M185.9 351.5h0M210.7 329.8h0M162.6 346.1h0M163.6 335.2h0M172.1 324.4h0M181.7 302.7h0M194.0 335.2h0M203.5 313.5h0M207.3 356.9h0M221.6 367.8h0M171.7 327.9h0M188.7 389.7h0M209.7 327.9h0M177.9 333.0h0M181.6 374.3h0M189.2 374.3h0M196.0 302.1h0M191.1 436.1h0M203.5 384.6h0M205.4 364.0h0M184.0 345.8h0M187.9 306.5h0M207.8 336.0h0M209.7 394.9h0M175.9 419.4h0M195.0 380.2h0M204.5 360.5h0M234.0 370.4h0M179.3 380.8h0M202.1 380.8h0M203.0 371.5h0M205.0 352.7h0M210.7 296.5h0M216.4 315.2h0M225.9 371.5h0M226.8 362.1h0M204.5 348.0h0M225.4 366.8h0M228.3 338.7h0M217.3 368.0h0M233.5 359.0h0M198.8 390.4h0M205.5 327.7h0M213.1 327.7h0M219.7 336.6h0M196.4 407.8h0M222.1 313.3h0M221.1 390.6h0M204.0 394.9h0M218.3 390.9h0M230.7 351.3h0M231.6 406.8h0M265.9 375.1h0M223.6 339.4h0M254.0 339.4h0M259.7 355.2h0M255.4 387.3h0M267.8 349.1h0M191.6 398.6h0M222.1 339.7h0M225.0 376.5h0M235.4 354.4h0M235.5 345.1h0M251.6 384.6h0M249.7 388.2h0M264.9 388.2h0M264.0 385.2h0M266.8 397.9h0M255.5 386.8h0M288.0 340.0h0"/></g>
<use href="#q109" transform="translate(-0.45,-0.45)" stroke="#f8a89a" stroke-width="1.65" stroke-opacity="0.85"/>
<g stroke="#e2584a" stroke-width="3.50"><path id="q110" d="M103.6 374.3h0M120.7 310.5h0M145.9 379.0h0M123.1 358.1h0M156.3 431.7h0M163.1 328.6h0M128.3 380.2h0M129.8 336.9h0M172.1 369.1h0M175.0 330.5h0M163.1 382.8h0M144.5 413.1h0M151.6 412.1h0M160.3 309.0h0M175.0 303.3h0M170.7 351.5h0M160.7 367.8h0M187.3 411.2h0M210.7 317.6h0M170.2 333.0h0M175.9 353.7h0M202.5 394.9h0M233.0 394.9h0M166.9 365.4h0M188.8 375.3h0M192.1 331.1h0M212.1 360.5h0M213.5 343.4h0M187.4 366.8h0M214.9 394.9h0M229.2 404.3h0M234.0 357.4h0M245.4 319.9h0M180.2 359.0h0M185.0 385.9h0M207.9 314.2h0M214.4 394.9h0M231.1 372.5h0M241.6 345.6h0M202.1 425.0h0M246.4 360.5h0M230.7 295.9h0M236.4 378.4h0M176.9 423.8h0M221.7 300.0h0M227.3 382.5h0M221.2 303.7h0M229.3 355.2h0M248.2 387.0h0M243.0 364.4h0M271.6 379.6h0M238.7 391.1h0M243.5 414.0h0M262.5 383.4h0M252.1 336.0h0M225.9 359.3h0M250.2 341.6h0M231.6 364.0h0M241.2 350.2h0M260.2 377.7h0M270.6 382.4h0M252.6 391.9h0M276.8 376.7h0M381.1 453.8h0"/></g>
<use href="#q110" transform="translate(-0.53,-0.53)" stroke="#f8a89a" stroke-width="1.93" stroke-opacity="0.85"/>
<g stroke="#5b98d4" stroke-width="2.50"><path id="q111" d="M120.7 409.6h0M117.9 319.3h0M125.5 319.3h0M134.1 305.5h0M137.8 360.5h0M125.5 388.8h0M139.7 401.0h0M145.5 328.2h0M155.0 401.0h0M142.6 349.1h0M161.7 303.3h0M163.5 372.0h0M136.0 324.4h0M152.2 313.5h0M171.2 356.9h0M174.1 324.4h0M139.8 353.7h0M162.6 353.7h0M175.9 374.3h0M174.1 301.6h0M190.2 432.4h0M154.0 399.4h0M161.7 327.7h0M193.1 390.4h0M197.8 345.6h0M215.9 390.4h0M176.9 386.3h0M189.3 343.4h0M225.4 360.5h0M233.0 415.5h0M238.7 366.0h0M227.3 387.0h0M205.5 358.1h0M226.4 372.8h0M248.3 380.2h0M214.1 341.6h0M230.2 391.3h0M208.3 374.3h0M213.1 394.9h0M224.6 312.4h0M257.8 391.6h0M214.0 420.7h0M235.9 427.1h0M243.6 316.8h0M255.0 327.1h0M249.2 409.6h0M257.8 403.7h0"/></g>
<use href="#q111" transform="translate(-0.38,-0.38)" stroke="#bedaf5" stroke-width="1.38" stroke-opacity="0.85"/>
<g stroke="#5b98d4" stroke-width="3.00"><path id="q112" d="M102.6 355.2h0M115.0 380.2h0M116.0 365.4h0M103.6 415.5h0M132.2 333.0h0M102.6 407.8h0M135.9 369.1h0M122.7 328.2h0M134.1 360.5h0M136.9 326.2h0M138.9 303.3h0M153.1 406.4h0M160.7 302.7h0M160.7 389.5h0M168.4 302.7h0M143.6 312.4h0M164.5 333.0h0M178.8 343.4h0M196.8 394.9h0M155.9 409.6h0M171.2 331.1h0M168.3 439.1h0M173.1 390.0h0M180.8 301.2h0M180.7 376.2h0M202.6 385.5h0M166.4 354.6h0M192.1 399.4h0M203.5 363.5h0M210.3 300.8h0M216.8 381.5h0M165.4 420.7h0M192.1 386.3h0M194.0 369.1h0M195.9 351.9h0M229.3 326.2h0M171.2 423.8h0M190.2 390.8h0M209.3 357.8h0M217.8 415.5h0M221.6 382.5h0M225.4 349.5h0M229.3 316.5h0M226.3 407.3h0M255.9 349.5h0M179.7 402.8h0M182.6 379.0h0M204.6 323.5h0M208.3 418.7h0M222.6 299.7h0M216.8 410.8h0M218.8 394.9h0M252.1 371.1h0M188.3 383.4h0M200.7 406.4h0M204.5 375.8h0M211.2 322.3h0M212.2 314.7h0M214.1 299.4h0M206.4 421.6h0M184.5 402.3h0M219.8 306.5h0M225.5 321.3h0M225.4 380.2h0M233.0 380.2h0M239.8 328.6h0M252.1 350.7h0M194.0 434.0h0M214.0 398.5h0M252.1 341.6h0M220.7 339.9h0M253.0 381.2h0M273.1 346.8h0M219.7 391.6h0M222.6 371.6h0M226.4 398.2h0M242.6 391.6h0M226.4 388.5h0M235.9 375.6h0"/></g>
<use href="#q112" transform="translate(-0.45,-0.45)" stroke="#bedaf5" stroke-width="1.65" stroke-opacity="0.85"/>
<g stroke="#5b98d4" stroke-width="3.50"><path id="q113" d="M119.8 306.5h0M102.6 429.3h0M106.4 374.3h0M153.1 360.5h0M117.8 407.8h0M115.9 413.1h0M146.5 316.1h0M155.0 383.4h0M141.7 346.1h0M148.3 356.9h0M164.5 346.1h0M166.4 324.4h0M178.8 356.9h0M153.1 374.3h0M165.5 322.7h0M167.4 302.1h0M170.2 353.7h0M176.9 364.0h0M179.7 415.5h0M147.4 340.9h0M153.1 360.5h0M170.2 419.4h0M176.9 350.7h0M187.4 321.3h0M189.3 301.6h0M199.7 350.7h0M207.3 350.7h0M219.7 301.6h0M149.3 385.5h0M172.1 385.5h0M183.6 348.0h0M161.7 399.4h0M175.0 417.3h0M188.3 363.5h0M226.4 363.5h0M169.3 386.3h0M185.5 309.0h0M191.2 326.2h0M187.4 349.5h0M188.4 331.5h0M194.0 410.8h0M206.5 307.7h0M217.9 339.4h0M224.5 347.3h0M226.4 394.9h0M216.9 337.6h0M229.3 299.4h0M235.8 429.3h0M255.0 337.6h0M257.8 365.4h0M196.9 412.7h0M218.9 306.0h0M210.2 426.9h0M222.6 391.3h0M245.4 391.3h0M225.5 360.5h0M234.0 353.7h0M243.6 339.9h0M250.2 346.8h0M257.8 346.8h0M215.9 418.2h0M236.9 369.1h0M244.4 420.7h0M257.8 373.0h0M238.8 372.0h0"/></g>
<use href="#q113" transform="translate(-0.53,-0.53)" stroke="#bedaf5" stroke-width="1.93" stroke-opacity="0.85"/>
<g stroke="#ee8c48" stroke-width="2.50"><path id="q114" d="M97.4 317.6h0M103.6 307.7h0M115.0 371.1h0M103.1 408.6h0M136.9 346.8h0M149.8 358.5h0M148.3 364.6h0M159.7 413.1h0M156.4 354.8h0M147.4 346.1h0M152.1 378.6h0M157.8 400.3h0M171.2 335.2h0M147.9 338.2h0M158.3 389.7h0M159.3 379.4h0M187.8 385.1h0M199.3 345.8h0M186.4 390.0h0M207.4 331.1h0M176.4 334.0h0M204.0 362.1h0M205.0 352.7h0M208.7 390.2h0M168.4 329.3h0M172.1 366.8h0M176.0 329.3h0M202.6 366.8h0M166.9 341.1h0M182.6 399.4h0M206.0 321.9h0M186.4 351.9h0M243.5 317.6h0M227.4 316.5h0M234.9 382.5h0M230.2 347.3h0M241.7 315.6h0M240.6 387.0h0M242.1 372.0h0M229.8 339.7h0M223.1 323.8h0M244.0 394.9h0M264.0 359.3h0M241.6 405.6h0M221.2 329.6h0M240.2 357.1h0M262.6 353.7h0M223.0 414.9h0M240.7 338.4h0M252.5 411.0h0M262.6 388.5h0M271.1 382.0h0M249.7 369.9h0M258.3 355.5h0M258.8 346.4h0M248.8 406.7h0M245.9 423.3h0M269.3 374.3h0"/></g>
<use href="#q114" transform="translate(-0.38,-0.38)" stroke="#fcc9a0" stroke-width="1.38" stroke-opacity="0.85"/>
<g stroke="#ee8c48" stroke-width="3.00"><path id="q115" d="M102.1 394.9h0M118.8 307.7h0M139.8 321.3h0M108.9 326.2h0M115.5 339.9h0M121.2 367.4h0M126.0 298.7h0M140.3 312.4h0M145.0 353.7h0M126.4 388.0h0M118.3 388.5h0M136.4 349.8h0M137.4 336.9h0M126.4 369.1h0M133.1 382.0h0M137.9 317.6h0M117.4 382.8h0M136.5 334.3h0M163.1 382.8h0M155.5 366.3h0M184.0 389.2h0M163.6 349.1h0M169.3 372.0h0M144.0 394.9h0M152.6 384.0h0M162.1 362.3h0M167.8 384.0h0M168.8 373.2h0M178.3 351.5h0M138.3 441.3h0M154.5 348.5h0M166.0 307.3h0M183.1 369.1h0M189.7 379.4h0M175.9 353.7h0M195.0 312.4h0M177.4 336.0h0M179.2 394.9h0M202.1 316.3h0M219.2 375.3h0M140.7 390.0h0M174.0 360.5h0M181.6 439.1h0M189.3 360.5h0M190.2 350.7h0M202.6 380.2h0M213.1 350.7h0M154.5 399.6h0M181.2 362.1h0M194.5 380.8h0M155.0 385.5h0M180.7 432.4h0M185.4 385.5h0M197.9 338.7h0M212.1 423.0h0M234.9 348.0h0M162.1 385.9h0M202.1 368.0h0M205.9 332.1h0M221.2 332.1h0M225.9 359.0h0M168.4 318.7h0M210.2 354.6h0M213.0 399.4h0M225.4 354.6h0M207.8 373.4h0M219.2 407.8h0M199.7 369.1h0M226.4 334.8h0M233.0 412.1h0M213.5 378.4h0M236.4 312.4h0M236.4 378.4h0M205.5 308.3h0M205.5 374.3h0M241.6 324.8h0M240.2 335.4h0M246.8 406.8h0M223.6 339.4h0M227.3 371.1h0M249.2 379.0h0M223.1 341.4h0M229.2 406.4h0M246.4 391.1h0M269.2 330.0h0M212.6 354.4h0M215.4 391.2h0M225.0 376.5h0M242.1 361.8h0M251.6 347.0h0M205.4 402.3h0M217.8 365.4h0M233.1 365.4h0M237.3 387.8h0M214.0 384.2h0M226.9 343.4h0M235.4 391.5h0M267.8 377.7h0M237.8 367.4h0M200.3 361.6h0M220.2 434.8h0M246.9 355.0h0M251.6 374.9h0M260.2 368.3h0M221.6 418.2h0M248.3 391.6h0M232.6 391.7h0M236.4 365.9h0M254.5 398.1h0M245.4 401.3h0M231.6 388.7h0M255.5 332.4h0M252.1 398.0h0M258.3 404.0h0M229.3 388.8h0M272.6 353.7h0"/></g>
<use href="#q115" transform="translate(-0.45,-0.45)" stroke="#fcc9a0" stroke-width="1.65" stroke-opacity="0.85"/>
<g stroke="#ee8c48" stroke-width="3.50"><path id="q116" d="M113.5 437.9h0M111.2 326.2h0M123.1 358.1h0M132.6 328.6h0M158.8 360.5h0M153.6 324.0h0M156.4 388.5h0M119.8 356.2h0M155.0 394.9h0M121.2 431.3h0M130.8 310.0h0M140.2 382.8h0M162.6 376.7h0M131.7 377.7h0M150.7 331.9h0M173.5 423.5h0M170.2 360.5h0M160.2 384.0h0M169.7 362.3h0M179.3 340.6h0M165.4 400.3h0M189.2 389.5h0M151.7 379.4h0M173.5 389.7h0M154.0 425.8h0M170.3 333.0h0M165.0 385.1h0M185.0 336.0h0M200.2 336.0h0M169.3 331.1h0M203.5 370.4h0M163.1 390.2h0M185.9 390.2h0M190.7 343.4h0M216.4 315.2h0M159.3 412.8h0M166.9 412.8h0M178.4 305.2h0M223.0 385.9h0M228.8 332.1h0M201.6 363.5h0M209.3 363.5h0M223.6 300.8h0M174.5 399.2h0M194.5 356.2h0M199.3 313.3h0M221.1 390.6h0M161.2 370.2h0M219.3 328.9h0M223.0 427.9h0M228.8 378.4h0M260.2 370.2h0M185.4 415.5h0M189.3 382.5h0M208.3 349.5h0M229.3 300.0h0M234.0 390.8h0M210.7 390.9h0M218.3 390.9h0M229.7 359.2h0M232.6 335.4h0M244.0 367.1h0M213.1 363.2h0M228.3 363.2h0M240.7 323.5h0M249.7 372.0h0M205.5 352.9h0M219.7 421.6h0M241.6 368.2h0M274.5 347.0h0M216.0 321.3h0M248.3 365.4h0M221.2 338.0h0M223.1 380.7h0M231.7 316.7h0M228.4 334.5h0M225.5 346.8h0M228.8 374.9h0M235.4 381.6h0M254.5 355.0h0M262.6 345.0h0M220.2 423.9h0M249.3 366.8h0M262.1 379.7h0"/></g>
<use href="#q116" transform="translate(-0.53,-0.53)" stroke="#fcc9a0" stroke-width="1.93" stroke-opacity="0.85"/>
<g stroke="#4da862" stroke-width="2.50"><path id="q117" d="M113.1 348.0h0M148.3 355.2h0M147.3 350.7h0M164.5 305.5h0M138.8 316.1h0M145.5 328.2h0M153.0 406.4h0M169.3 303.3h0M172.1 360.5h0M174.0 337.6h0M168.3 302.7h0M175.0 302.1h0M186.4 343.4h0M178.8 319.9h0M186.4 319.9h0M196.0 301.2h0M224.5 319.9h0M219.7 354.6h0M200.7 309.0h0M238.8 374.3h0M253.1 326.2h0M254.0 319.3h0M240.6 404.9h0"/></g>
<use href="#q117" transform="translate(-0.38,-0.38)" stroke="#a8deb2" stroke-width="1.38" stroke-opacity="0.85"/>
<g stroke="#4da862" stroke-width="3.00"><path id="q118" d="M99.8 310.5h0M115.0 310.5h0M116.9 423.0h0M112.1 343.4h0M120.7 307.7h0M116.9 350.7h0M125.5 336.0h0M132.1 350.7h0M125.5 319.3h0M128.3 369.1h0M146.4 330.5h0M160.7 328.2h0M154.1 303.3h0M176.9 303.3h0M179.7 360.5h0M182.6 326.2h0M167.4 313.5h0M175.0 313.5h0M183.5 389.5h0M164.5 333.0h0M181.7 312.4h0M194.0 425.8h0M195.9 405.2h0M219.7 312.4h0M179.8 310.5h0M193.0 404.3h0M200.7 329.3h0M195.0 300.8h0M209.2 381.5h0M215.0 327.7h0M231.2 318.7h0M217.8 360.5h0M237.8 317.6h0M260.6 386.3h0M191.2 382.5h0M204.5 399.0h0M252.1 307.7h0M263.5 339.4h0M208.3 345.3h0M233.1 330.0h0M211.1 419.8h0M277.8 377.1h0M242.6 346.8h0M305.0 375.3h0M94.5 291.4h0M129.1 291.8h0M133.2 291.6h0M140.5 291.5h0M144.5 291.2h0M152.2 291.5h0M159.6 291.2h0M163.7 291.6h0M178.8 291.5h0M193.8 291.8h0"/></g>
<use href="#q118" transform="translate(-0.45,-0.45)" stroke="#a8deb2" stroke-width="1.65" stroke-opacity="0.85"/>
<g stroke="#4da862" stroke-width="3.50"><path id="q119" d="M122.6 310.5h0M113.1 326.2h0M134.0 360.5h0M139.7 350.7h0M120.7 388.0h0M127.4 401.8h0M135.0 401.8h0M141.6 415.5h0M154.0 346.8h0M162.6 317.6h0M139.7 383.4h0M174.0 324.4h0M165.5 322.7h0M214.0 374.3h0M173.1 311.4h0M181.6 380.2h0M201.6 409.6h0M208.3 340.9h0M218.8 311.4h0M221.6 348.0h0M232.1 309.7h0M189.3 343.4h0M190.2 334.8h0M192.2 317.6h0M203.5 351.9h0M208.3 309.0h0M235.9 334.8h0M236.8 394.9h0M245.4 317.6h0M238.8 300.0h0M227.4 323.5h0M235.9 379.0h0M249.3 322.3h0M229.2 388.0h0M246.4 319.3h0M269.2 365.0h0"/></g>
<use href="#q119" transform="translate(-0.53,-0.53)" stroke="#a8deb2" stroke-width="1.93" stroke-opacity="0.85"/>
<g stroke="#e2584a" stroke-width="2.50"><path id="q120" d="M111.7 357.4h0M143.1 317.6h0M124.5 360.5h0M131.2 377.7h0M163.5 323.5h0M121.2 387.5h0M132.2 321.3h0M145.5 350.7h0M146.4 336.0h0M153.1 350.7h0M135.5 381.2h0M159.2 367.4h0M149.7 375.6h0M159.3 349.8h0M167.8 336.9h0M154.0 388.8h0M170.2 376.7h0M195.4 343.4h0M192.1 372.0h0M197.8 378.6h0M180.2 317.6h0M193.6 326.2h0M215.4 336.0h0M176.4 334.0h0M198.3 343.4h0M199.3 323.2h0M204.0 350.1h0M216.4 377.0h0M225.4 426.3h0M254.0 360.5h0M236.4 312.4h0M250.6 386.7h0M254.5 353.7h0M196.9 382.5h0M218.7 390.8h0M223.5 349.5h0M205.9 367.1h0M242.1 319.6h0M253.5 351.3h0M218.8 379.0h0M220.2 364.4h0M240.7 375.8h0M230.7 391.2h0M245.0 339.7h0M250.7 354.4h0M261.6 321.3h0M245.4 367.4h0M265.0 361.5h0"/></g>
<use href="#q120" transform="translate(-0.38,-0.38)" stroke="#f8a89a" stroke-width="1.38" stroke-opacity="0.85"/>
<g stroke="#e2584a" stroke-width="3.00"><path id="q121" d="M99.3 349.1h0M111.7 334.8h0M117.4 369.1h0M108.8 363.2h0M111.7 315.6h0M136.4 410.8h0M141.2 331.5h0M130.2 350.7h0M131.2 336.0h0M138.3 339.9h0M161.2 339.9h0M158.8 360.5h0M162.5 415.5h0M167.3 346.8h0M125.9 388.5h0M141.7 369.1h0M167.4 330.5h0M165.9 346.4h0M149.3 352.4h0M151.1 425.2h0M175.0 316.1h0M200.7 279.7h0M153.5 389.2h0M167.9 309.0h0M169.7 377.7h0M198.2 400.6h0M171.2 349.1h0M166.9 308.1h0M167.8 384.0h0M181.2 318.9h0M190.7 369.1h0M193.5 338.2h0M195.5 317.6h0M202.1 410.4h0M166.4 374.3h0M169.3 343.4h0M198.8 353.7h0M213.0 364.0h0M167.9 355.6h0M176.4 345.8h0M174.0 360.5h0M181.6 360.5h0M208.3 321.3h0M185.0 324.6h0M183.0 418.3h0M194.5 380.8h0M208.7 390.2h0M175.0 413.6h0M189.3 348.0h0M201.6 376.2h0M193.6 305.2h0M208.8 377.0h0M246.8 377.0h0M243.5 327.7h0M212.6 330.5h0M230.6 373.4h0M247.8 356.2h0M192.1 437.9h0M229.2 377.7h0M244.4 377.7h0M250.1 394.9h0M212.6 386.7h0M243.1 320.7h0M208.3 349.5h0M224.5 341.3h0M235.9 374.3h0M228.4 299.7h0M228.2 426.6h0M229.2 418.7h0M235.8 426.6h0M222.1 349.1h0M274.4 356.7h0M211.1 429.3h0M237.8 337.6h0M249.2 368.2h0M250.2 360.5h0M228.7 405.9h0M274.5 347.0h0M281.1 345.1h0M271.1 355.8h0M238.3 370.8h0M254.5 364.0h0M273.0 378.3h0M242.2 327.2h0M267.8 351.2h0M227.8 452.5h0M262.7 291.0h0"/></g>
<use href="#q121" transform="translate(-0.45,-0.45)" stroke="#f8a89a" stroke-width="1.65" stroke-opacity="0.85"/>
<g stroke="#e2584a" stroke-width="3.50"><path id="q122" d="M107.4 314.7h0M122.6 350.7h0M128.8 367.4h0M129.8 353.7h0M130.7 339.9h0M135.0 374.3h0M154.5 394.9h0M178.3 382.8h0M163.5 364.6h0M165.5 340.3h0M177.8 376.7h0M177.3 377.7h0M190.6 400.6h0M178.8 335.2h0M175.0 364.0h0M186.4 405.2h0M174.5 365.4h0M198.3 355.6h0M205.4 350.7h0M215.0 331.1h0M192.6 399.6h0M214.5 334.0h0M207.3 394.9h0M201.2 305.2h0M226.9 350.1h0M195.9 345.6h0M204.5 408.3h0M229.7 313.3h0M253.5 373.4h0M197.8 386.3h0M204.5 326.2h0M219.8 326.2h0M210.6 403.1h0M201.6 407.3h0M216.9 341.3h0M234.9 382.5h0M235.8 440.3h0M206.9 359.2h0M179.7 450.4h0M205.4 426.6h0M213.1 363.2h0M264.9 372.0h0M265.9 364.4h0M221.6 406.4h0M231.1 391.1h0M249.3 307.1h0M254.0 391.1h0M236.8 394.9h0M231.2 370.0h0M253.6 353.0h0M235.4 413.6h0"/></g>
<use href="#q122" transform="translate(-0.53,-0.53)" stroke="#f8a89a" stroke-width="1.93" stroke-opacity="0.85"/>
<g stroke="#5b98d4" stroke-width="2.50"><path id="q123" d="M118.8 339.4h0M99.8 380.2h0M118.8 321.3h0M126.4 415.5h0M135.9 388.0h0M140.7 407.8h0M144.5 356.2h0M153.0 425.2h0M126.5 360.5h0M131.2 394.9h0M158.8 337.6h0M166.4 337.6h0M170.2 383.4h0M137.9 389.5h0M173.1 335.2h0M142.6 405.2h0M173.1 322.7h0M181.7 312.4h0M186.4 343.4h0M158.9 301.6h0M160.7 439.1h0M179.7 399.8h0M184.4 429.3h0M173.1 301.2h0M183.5 423.0h0M193.0 404.3h0M195.0 385.5h0M153.1 408.3h0M196.9 354.6h0M200.7 318.7h0M201.7 300.4h0M208.3 377.7h0M218.8 351.9h0M254.0 309.0h0M173.1 407.3h0M185.5 366.0h0M187.4 402.8h0M216.9 347.3h0M187.4 391.1h0M219.8 314.7h0M228.3 368.2h0M229.3 360.5h0M263.5 330.0h0M203.6 313.9h0M250.2 306.5h0M215.0 391.3h0M234.0 362.9h0M240.6 426.9h0M260.6 391.3h0M207.4 381.2h0M232.1 367.4h0M249.3 345.0h0M248.3 368.4h0"/></g>
<use href="#q123" transform="translate(-0.38,-0.38)" stroke="#bedaf5" stroke-width="1.38" stroke-opacity="0.85"/>
<g stroke="#5b98d4" stroke-width="3.00"><path id="q124" d="M123.6 365.4h0M125.5 336.0h0M135.0 306.5h0M118.8 415.5h0M121.7 374.3h0M130.2 360.5h0M133.1 319.3h0M121.7 356.2h0M123.6 330.5h0M126.4 394.9h0M132.2 317.6h0M133.1 304.7h0M134.0 394.9h0M135.0 382.0h0M138.8 330.5h0M124.5 401.0h0M135.0 364.6h0M151.2 352.4h0M176.9 316.1h0M137.9 314.7h0M150.2 440.7h0M160.7 314.7h0M164.5 360.5h0M120.7 411.2h0M153.1 389.5h0M180.7 335.2h0M136.9 384.6h0M138.8 364.0h0M141.7 333.0h0M147.4 353.7h0M154.1 364.0h0M157.9 322.7h0M159.7 384.6h0M166.5 301.6h0M174.0 380.2h0M177.9 340.9h0M179.8 321.3h0M194.0 331.1h0M194.9 399.8h0M195.9 390.0h0M197.8 370.4h0M156.9 385.5h0M164.5 385.5h0M194.1 319.9h0M196.0 301.2h0M205.4 357.4h0M216.9 319.9h0M219.7 366.8h0M223.5 404.3h0M179.7 372.5h0M181.7 354.6h0M189.3 354.6h0M191.2 336.6h0M195.0 300.8h0M199.7 399.4h0M202.5 444.2h0M207.3 399.4h0M215.0 327.7h0M215.9 318.7h0M214.0 326.2h0M246.3 377.7h0M181.7 333.0h0M182.7 324.8h0M199.7 374.3h0M207.4 308.3h0M222.6 308.3h0M224.5 357.8h0M234.0 341.3h0M235.9 324.8h0M207.4 299.7h0M206.4 371.1h0M213.1 315.6h0M215.0 299.7h0M227.4 323.5h0M195.0 391.1h0M202.6 391.1h0M205.4 429.3h0M209.2 398.7h0M215.0 352.9h0M221.6 360.5h0M227.4 314.7h0M236.0 307.1h0M242.6 314.7h0M190.3 358.1h0M194.0 387.5h0M210.2 380.2h0M214.1 350.7h0M233.1 321.3h0M235.0 365.4h0M241.7 313.9h0M236.8 409.6h0M246.4 336.0h0M251.1 417.0h0M254.9 387.5h0M190.3 348.7h0M251.2 348.7h0M257.8 355.8h0M267.3 341.6h0M215.0 381.2h0M251.2 339.9h0M252.1 333.0h0M262.6 367.4h0M225.5 351.7h0M229.3 378.3h0M240.6 404.9h0M252.2 325.1h0M259.7 378.3h0M270.2 358.3h0M229.3 369.1h0M246.4 356.2h0M264.5 388.5h0M215.0 354.3h0M229.2 410.5h0M231.2 398.0h0M249.3 370.6h0M267.4 337.6h0M300.7 404.6h0"/></g>
<use href="#q124" transform="translate(-0.45,-0.45)" stroke="#bedaf5" stroke-width="1.65" stroke-opacity="0.85"/>
<g stroke="#5b98d4" stroke-width="3.50"><path id="q125" d="M100.7 387.0h0M110.3 336.0h0M105.5 388.0h0M110.3 319.3h0M117.8 429.3h0M129.3 374.3h0M118.8 394.9h0M147.4 317.6h0M143.6 352.4h0M147.4 303.9h0M169.3 316.1h0M123.6 394.9h0M130.3 314.7h0M135.0 349.1h0M143.6 337.6h0M149.3 360.5h0M159.8 326.2h0M135.0 335.2h0M152.1 400.3h0M159.8 313.5h0M169.3 378.6h0M174.1 312.4h0M182.6 302.1h0M161.7 350.7h0M171.1 409.6h0M182.6 370.4h0M186.4 331.1h0M178.8 319.9h0M230.2 338.7h0M164.5 372.5h0M168.4 336.6h0M185.5 318.7h0M202.6 372.5h0M205.4 417.3h0M171.2 369.1h0M173.1 351.9h0M180.7 351.9h0M186.4 369.1h0M205.4 403.5h0M210.1 429.3h0M213.0 403.5h0M195.9 407.3h0M202.6 415.5h0M206.4 382.5h0M175.0 379.0h0M183.6 371.1h0M194.1 347.3h0M211.1 394.9h0M230.1 426.6h0M245.4 363.2h0M193.1 406.4h0M201.6 398.7h0M206.4 360.5h0M217.8 380.2h0M248.3 313.1h0M252.1 398.5h0M253.0 391.3h0M255.9 370.0h0M226.4 408.6h0M246.4 374.3h0M255.0 312.4h0M212.1 391.6h0M262.6 358.3h0M241.6 388.5h0M243.5 375.6h0M253.1 362.7h0M255.9 385.5h0M233.0 425.2h0M234.9 413.1h0M250.3 316.1h0M244.5 401.0h0"/></g>
<use href="#q125" transform="translate(-0.53,-0.53)" stroke="#bedaf5" stroke-width="1.93" stroke-opacity="0.85"/>
<g stroke="#ee8c48" stroke-width="2.50"><path id="q126" d="M116.9 360.5h0M114.0 387.0h0M130.2 371.1h0M132.1 339.4h0M121.2 387.5h0M125.5 306.5h0M131.2 319.3h0M155.9 401.8h0M188.8 318.9h0M191.1 367.8h0M169.8 348.5h0M172.1 394.9h0M170.7 404.7h0M197.3 365.4h0M158.8 360.5h0M168.4 340.9h0M176.0 340.9h0M177.8 399.8h0M183.5 419.4h0M209.7 380.8h0M181.7 348.0h0M218.3 359.0h0M181.6 408.3h0M185.5 372.5h0M203.6 345.6h0M221.7 318.7h0M230.2 309.7h0M186.0 364.8h0M224.5 351.9h0M186.9 411.4h0M192.2 357.8h0M225.4 399.0h0M203.1 390.9h0M242.1 319.6h0M256.4 327.5h0M233.5 379.6h0M254.5 383.9h0M224.5 372.8h0M233.5 405.2h0M246.9 338.7h0M255.4 382.4h0M262.1 388.7h0M242.6 401.0h0M262.2 324.2h0M254.9 409.6h0M264.0 389.3h0"/></g>
<use href="#q126" transform="translate(-0.38,-0.38)" stroke="#fcc9a0" stroke-width="1.38" stroke-opacity="0.85"/>
<g stroke="#ee8c48" stroke-width="3.00"><path id="q127" d="M102.6 366.8h0M123.6 377.7h0M100.3 379.0h0M116.0 355.2h0M115.5 358.1h0M116.0 336.0h0M129.3 365.4h0M122.2 353.7h0M132.6 312.4h0M144.5 346.8h0M162.6 305.5h0M114.6 336.9h0M154.5 311.1h0M161.1 407.0h0M150.2 340.3h0M181.6 328.2h0M143.1 331.9h0M148.8 354.8h0M153.6 297.5h0M190.7 309.0h0M137.9 383.4h0M141.7 337.6h0M141.2 340.6h0M144.1 308.1h0M184.0 373.2h0M157.9 313.5h0M158.8 389.5h0M175.9 367.8h0M153.6 358.8h0M164.1 327.9h0M165.0 317.6h0M163.0 420.7h0M175.5 369.1h0M191.6 358.8h0M180.7 384.6h0M196.0 302.1h0M195.9 384.6h0M200.2 414.5h0M164.5 380.2h0M172.1 380.2h0M195.9 370.4h0M201.6 390.0h0M171.7 380.8h0M202.1 380.8h0M177.9 310.5h0M196.9 348.0h0M209.2 376.2h0M218.8 357.4h0M228.3 338.7h0M201.2 377.0h0M204.0 350.1h0M209.7 368.0h0M187.4 354.6h0M198.8 390.4h0M258.8 327.7h0M171.6 425.0h0M190.7 390.6h0M197.3 399.2h0M179.8 343.4h0M190.2 386.3h0M194.1 351.9h0M226.3 403.5h0M229.2 377.7h0M232.1 351.9h0M237.8 369.1h0M239.7 351.9h0M183.1 378.4h0M184.0 370.2h0M206.9 370.2h0M220.2 386.7h0M226.9 328.9h0M222.6 357.8h0M228.3 308.3h0M235.0 316.5h0M212.7 311.6h0M197.9 363.2h0M210.2 387.0h0M220.7 363.2h0M197.4 364.4h0M207.8 402.5h0M204.5 360.5h0M249.2 368.2h0M179.2 435.4h0M219.3 361.8h0M255.5 317.6h0M227.4 350.7h0M241.6 358.1h0M254.9 372.8h0M261.6 380.2h0M265.4 350.7h0M217.4 366.5h0M238.3 380.7h0M244.0 338.0h0M245.0 330.9h0M263.0 366.5h0M247.3 362.9h0M258.8 334.5h0M256.8 405.6h0M245.9 370.8h0M242.1 388.2h0M240.7 391.6h0M273.0 369.1h0M242.1 369.9h0M255.5 325.2h0M252.6 383.1h0M248.4 349.1h0M280.7 375.4h0M240.2 386.8h0"/></g>
<use href="#q127" transform="translate(-0.45,-0.45)" stroke="#fcc9a0" stroke-width="1.65" stroke-opacity="0.85"/>
<g stroke="#ee8c48" stroke-width="3.50"><path id="q128" d="M105.5 310.5h0M109.8 369.1h0M105.0 426.6h0M114.5 372.8h0M120.7 380.2h0M128.8 367.4h0M129.3 346.8h0M130.3 317.6h0M154.1 304.7h0M157.8 356.2h0M134.5 358.5h0M143.1 346.4h0M160.7 303.9h0M134.6 343.4h0M140.2 366.3h0M144.0 412.1h0M153.5 389.2h0M163.6 335.2h0M184.5 356.9h0M198.8 367.8h0M176.4 358.8h0M180.2 400.1h0M161.6 425.8h0M173.1 302.1h0M180.7 302.1h0M158.3 375.3h0M162.1 414.5h0M191.7 345.8h0M202.1 394.9h0M180.7 370.4h0M195.0 301.6h0M169.7 399.6h0M178.4 315.2h0M177.3 399.6h0M193.5 390.2h0M197.4 352.7h0M212.6 352.7h0M200.7 385.5h0M185.0 385.9h0M191.6 394.9h0M217.3 368.0h0M187.3 426.3h0M192.1 381.5h0M218.8 345.6h0M247.8 356.2h0M191.2 377.7h0M206.4 377.7h0M194.5 345.4h0M207.8 427.9h0M225.9 337.2h0M207.4 357.8h0M227.3 382.5h0M188.8 383.0h0M196.5 319.6h0M195.9 379.0h0M235.0 371.1h0M251.6 356.7h0M203.6 368.2h0M221.7 345.3h0M227.4 360.5h0M231.2 330.0h0M242.6 360.5h0M208.8 383.9h0M222.2 339.7h0M210.7 416.2h0M230.7 380.7h0M241.7 348.7h0M228.8 384.6h0M229.7 377.7h0M237.3 377.7h0M236.9 374.3h0M238.7 415.5h0M251.1 381.2h0M269.7 355.0h0M251.6 365.9h0M258.8 362.7h0M249.2 416.8h0M249.7 410.1h0M253.1 382.8h0"/></g>
<use href="#q128" transform="translate(-0.53,-0.53)" stroke="#fcc9a0" stroke-width="1.93" stroke-opacity="0.85"/>
<g stroke="#4da862" stroke-width="2.50"><path id="q129" d="M93.1 337.6h0M119.8 343.4h0M113.1 307.7h0M126.4 394.9h0M167.3 356.2h0M154.1 316.1h0M178.8 372.0h0M174.1 312.4h0M194.0 331.1h0M196.9 301.6h0M226.4 311.4h0M190.2 357.4h0M193.1 329.3h0M218.8 301.2h0M185.5 318.7h0M186.5 309.7h0M184.5 399.4h0M216.9 309.7h0M196.9 333.0h0M231.2 300.0h0M222.6 299.7h0M228.3 315.6h0M229.2 371.1h0M253.0 363.2h0M238.8 345.3h0M211.2 372.8h0M229.3 341.6h0M265.4 355.8h0M247.4 312.4h0M280.7 342.0h0"/></g>
<use href="#q129" transform="translate(-0.38,-0.38)" stroke="#a8deb2" stroke-width="1.38" stroke-opacity="0.85"/>
<g stroke="#4da862" stroke-width="3.00"><path id="q130" d="M113.1 374.3h0M120.7 348.0h0M120.7 326.2h0M130.2 291.8h0M111.2 339.4h0M118.8 339.4h0M130.2 402.8h0M139.7 371.1h0M124.5 350.7h0M126.4 321.3h0M130.2 380.2h0M135.0 306.5h0M121.7 374.3h0M140.7 319.3h0M141.7 305.5h0M146.4 346.8h0M157.8 401.8h0M156.0 304.7h0M172.1 291.8h0M141.7 360.5h0M145.5 314.7h0M156.9 360.5h0M160.7 406.4h0M175.0 326.2h0M198.8 314.7h0M160.7 302.7h0M195.0 346.1h0M169.3 364.0h0M173.1 322.7h0M201.6 343.4h0M213.1 302.1h0M224.5 343.4h0M189.3 301.6h0M195.0 321.3h0M209.3 331.1h0M241.6 376.2h0M198.8 336.6h0M230.2 327.7h0M205.4 403.5h0M216.9 300.4h0M227.4 333.0h0M205.5 315.6h0M209.3 347.3h0M230.3 299.7h0M232.1 347.3h0M244.5 307.7h0M255.9 339.4h0M224.5 337.6h0M227.4 314.7h0M214.0 409.6h0M229.3 350.7h0M234.1 313.9h0M238.7 394.9h0M230.2 334.5h0M235.0 346.8h0M221.6 431.5h0M258.8 331.7h0M244.4 410.5h0M251.1 397.8h0M98.4 291.6h0M102.9 291.9h0M148.2 292.0h0M197.4 291.8h0M201.6 291.8h0M204.9 291.6h0"/></g>
<use href="#q130" transform="translate(-0.45,-0.45)" stroke="#a8deb2" stroke-width="1.65" stroke-opacity="0.85"/>
<g stroke="#4da862" stroke-width="3.50"><path id="q131" d="M114.0 353.7h0M98.8 329.3h0M121.7 309.0h0M127.4 343.4h0M118.8 321.3h0M119.8 306.5h0M142.6 306.5h0M150.2 306.5h0M140.7 429.3h0M154.0 330.5h0M139.8 303.9h0M176.8 413.1h0M184.5 316.1h0M142.6 349.1h0M143.5 429.3h0M191.1 406.4h0M155.9 356.9h0M158.8 324.4h0M172.1 346.1h0M206.4 302.7h0M182.6 302.1h0M207.3 350.7h0M210.2 300.8h0M201.7 300.4h0M255.9 360.5h0M212.1 333.0h0M216.0 300.0h0M219.7 333.0h0M241.6 341.3h0M217.8 339.4h0M218.8 331.5h0M272.1 331.5h0M209.3 337.6h0M212.1 365.4h0M224.5 387.5h0M231.2 327.4h0M245.4 391.3h0M268.3 354.3h0"/></g>
<use href="#q131" transform="translate(-0.53,-0.53)" stroke="#a8deb2" stroke-width="1.93" stroke-opacity="0.85"/>
<g stroke="#e2584a" stroke-width="2.50"><path id="q132" d="M116.9 385.5h0M135.0 309.0h0M146.9 363.2h0M153.6 339.9h0M142.6 356.2h0M147.3 394.9h0M154.1 304.7h0M156.4 370.6h0M177.3 394.9h0M147.4 376.7h0M176.8 388.8h0M148.8 354.8h0M159.3 320.4h0M171.6 354.8h0M156.9 337.6h0M175.9 383.4h0M177.8 360.5h0M160.2 384.0h0M175.5 297.2h0M188.8 318.9h0M165.4 400.3h0M171.2 335.2h0M160.2 369.1h0M201.2 338.2h0M196.9 374.3h0M172.6 385.1h0M197.3 365.4h0M210.6 385.1h0M187.3 380.2h0M185.9 390.2h0M194.5 305.9h0M221.6 390.4h0M202.1 356.2h0M214.5 382.0h0M217.8 412.1h0M231.1 360.5h0M206.9 370.2h0M211.7 328.9h0M233.5 337.2h0M225.9 390.9h0M252.1 355.2h0M234.5 310.9h0M222.6 387.5h0M241.6 358.1h0M246.4 380.2h0M240.7 355.8h0M235.4 391.5h0M255.0 353.7h0M249.8 335.0h0M251.6 417.5h0M282.1 357.4h0"/></g>
<use href="#q132" transform="translate(-0.38,-0.38)" stroke="#f8a89a" stroke-width="1.38" stroke-opacity="0.85"/>
<g stroke="#e2584a" stroke-width="3.00"><path id="q133" d="M109.8 280.3h0M127.8 338.7h0M110.2 366.8h0M121.2 300.4h0M125.0 369.1h0M125.9 351.9h0M139.2 386.3h0M108.3 377.7h0M132.1 360.5h0M135.5 299.7h0M116.0 355.2h0M116.9 339.4h0M117.9 323.5h0M125.5 323.5h0M136.9 387.0h0M141.7 307.7h0M160.2 353.7h0M165.4 356.2h0M176.4 407.0h0M183.1 322.1h0M174.0 425.2h0M161.2 389.2h0M176.4 297.5h0M180.2 343.4h0M163.6 349.1h0M167.4 378.6h0M184.0 358.8h0M197.3 379.4h0M199.2 358.8h0M178.8 405.2h0M195.9 384.6h0M211.1 384.6h0M203.0 385.1h0M178.8 390.0h0M174.5 427.7h0M200.2 399.6h0M218.3 371.5h0M229.7 334.0h0M214.0 329.3h0M192.6 385.9h0M201.1 377.0h0M203.1 359.0h0M205.0 341.1h0M221.2 332.1h0M228.8 332.1h0M232.5 368.0h0M244.9 394.9h0M192.1 381.5h0M200.7 372.5h0M212.1 408.3h0M219.7 408.3h0M256.8 417.3h0M191.6 382.0h0M227.8 399.2h0M248.7 347.6h0M255.4 356.2h0M196.9 394.9h0M211.2 334.8h0M215.0 300.4h0M222.6 300.4h0M228.3 386.3h0M236.8 377.7h0M238.7 360.5h0M240.2 345.4h0M251.1 374.3h0M261.1 414.7h0M226.4 379.0h0M229.7 349.1h0M245.0 349.1h0M265.4 360.5h0M250.2 350.7h0M255.9 365.4h0M242.1 352.2h0M245.5 320.2h0M248.8 350.2h0M258.3 391.5h0M265.0 335.0h0M250.7 372.3h0M261.2 353.0h0"/></g>
<use href="#q133" transform="translate(-0.45,-0.45)" stroke="#f8a89a" stroke-width="1.65" stroke-opacity="0.85"/>
<g stroke="#e2584a" stroke-width="3.50"><path id="q134" d="M111.6 384.6h0M111.2 374.3h0M147.4 339.4h0M135.9 380.2h0M145.0 353.7h0M147.8 422.4h0M148.8 408.6h0M130.3 333.0h0M156.9 369.1h0M169.7 394.9h0M181.1 346.4h0M157.8 437.4h0M172.1 352.4h0M173.1 340.3h0M207.3 291.8h0M160.2 400.6h0M178.3 366.3h0M186.9 354.8h0M197.3 320.4h0M199.2 389.2h0M158.4 318.9h0M162.1 362.3h0M178.3 351.5h0M181.1 405.8h0M183.0 384.0h0M186.9 340.6h0M196.9 302.7h0M206.4 367.8h0M161.2 358.8h0M186.9 327.9h0M194.4 410.4h0M198.3 369.1h0M185.5 333.0h0M204.5 374.3h0M209.3 322.7h0M214.0 353.7h0M211.6 375.3h0M182.6 350.7h0M199.7 331.1h0M201.6 390.0h0M210.2 380.2h0M226.4 370.4h0M188.3 432.4h0M196.4 350.1h0M248.7 359.0h0M257.3 350.1h0M215.9 372.5h0M225.4 354.6h0M239.7 363.5h0M187.8 416.4h0M195.5 347.6h0M204.0 407.8h0M241.1 347.6h0M200.7 360.5h0M205.5 317.6h0M224.5 351.9h0M200.2 361.9h0M210.7 337.2h0M234.4 394.9h0M238.3 361.9h0M244.9 370.2h0M215.0 357.8h0M180.2 390.9h0M204.0 383.0h0M211.6 383.0h0M237.3 359.2h0M248.7 390.9h0M260.7 347.3h0M241.1 379.6h0M235.9 352.9h0M252.1 345.3h0M256.8 368.2h0M224.0 383.9h0M240.2 317.6h0M267.8 339.7h0M235.9 343.4h0M247.8 366.5h0M254.0 370.0h0M245.9 361.6h0M244.9 421.5h0M252.5 421.5h0M249.2 384.9h0M271.2 338.4h0M260.7 349.8h0"/></g>
<use href="#q134" transform="translate(-0.53,-0.53)" stroke="#f8a89a" stroke-width="1.93" stroke-opacity="0.85"/>
<g stroke="#5b98d4" stroke-width="2.50"><path id="q135" d="M114.1 309.0h0M117.9 336.0h0M115.0 343.4h0M140.7 304.7h0M131.2 316.1h0M146.4 413.1h0M155.9 388.8h0M144.5 400.3h0M122.7 374.3h0M137.9 374.3h0M168.3 374.3h0M183.5 374.3h0M145.5 423.0h0M177.9 329.3h0M185.5 329.3h0M198.7 408.3h0M216.9 309.7h0M182.6 403.5h0M193.1 377.7h0M198.8 326.2h0M215.0 317.6h0M181.6 399.0h0M210.2 349.5h0M215.0 308.3h0M212.1 399.0h0M230.2 308.3h0M210.2 339.4h0M203.5 383.4h0M220.7 307.1h0M248.3 391.1h0M255.9 391.1h0M260.7 352.9h0M272.1 372.8h0M217.8 370.0h0M219.7 412.7h0M204.5 401.8h0M255.9 360.5h0M227.3 391.6h0M260.7 371.6h0M260.7 311.1h0M250.2 373.0h0M270.2 391.8h0M226.4 419.2h0M251.1 407.0h0M251.2 389.2h0"/></g>
<use href="#q135" transform="translate(-0.38,-0.38)" stroke="#bedaf5" stroke-width="1.38" stroke-opacity="0.85"/>
<g stroke="#5b98d4" stroke-width="3.00"><path id="q136" d="M94.0 423.0h0M98.8 309.0h0M108.3 387.0h0M127.4 306.5h0M140.7 336.0h0M120.7 388.0h0M124.5 333.0h0M135.0 401.8h0M109.3 420.7h0M125.5 304.7h0M131.2 330.5h0M142.6 382.0h0M146.4 330.5h0M120.7 352.4h0M144.5 340.3h0M155.0 303.9h0M175.9 328.2h0M128.4 337.6h0M145.5 314.7h0M146.5 303.3h0M144.5 417.8h0M135.0 422.0h0M143.6 324.4h0M142.6 422.0h0M153.1 302.7h0M158.8 324.4h0M196.9 324.4h0M204.5 324.4h0M140.7 343.4h0M157.8 405.2h0M165.4 405.2h0M175.0 384.6h0M179.8 333.0h0M180.7 405.2h0M148.4 331.1h0M154.1 350.7h0M158.8 380.2h0M159.8 370.4h0M180.7 311.4h0M188.3 311.4h0M196.0 311.4h0M198.8 360.5h0M159.8 357.4h0M162.7 329.3h0M164.6 310.5h0M169.3 338.7h0M171.2 319.9h0M173.1 376.2h0M176.0 348.0h0M184.5 338.7h0M192.1 338.7h0M194.0 394.9h0M203.6 301.2h0M169.3 327.7h0M172.1 372.5h0M195.9 363.5h0M201.6 381.5h0M212.1 354.6h0M221.6 336.6h0M156.9 429.3h0M161.7 386.3h0M176.0 326.2h0M186.5 300.4h0M180.7 420.7h0M200.7 377.7h0M207.4 317.6h0M213.1 334.8h0M214.9 386.3h0M243.5 334.8h0M253.0 386.3h0M153.1 382.5h0M175.9 382.5h0M184.5 374.3h0M191.2 382.5h0M198.8 316.5h0M213.1 324.8h0M214.0 382.5h0M219.8 333.0h0M176.9 426.6h0M203.6 331.5h0M214.1 307.7h0M212.1 387.0h0M219.8 323.5h0M222.6 363.2h0M232.1 347.3h0M195.9 383.4h0M210.3 330.0h0M216.8 398.7h0M220.6 429.3h0M232.1 337.6h0M233.1 330.0h0M202.6 380.2h0M210.3 321.3h0M232.1 328.6h0M229.2 409.6h0M234.0 372.8h0M247.3 387.5h0M249.2 372.8h0M217.9 313.1h0M234.9 412.7h0M241.6 419.8h0M259.7 333.0h0M267.4 333.0h0M221.7 378.3h0M258.8 331.7h0M228.3 375.6h0M239.8 349.8h0M260.6 414.2h0M256.9 379.3h0M275.0 352.4h0M259.8 344.8h0M329.4 399.3h0M356.7 392.5h0"/></g>
<use href="#q136" transform="translate(-0.45,-0.45)" stroke="#bedaf5" stroke-width="1.65" stroke-opacity="0.85"/>
<g stroke="#5b98d4" stroke-width="3.50"><path id="q137" d="M93.1 387.0h0M104.6 323.5h0M117.9 355.2h0M96.0 415.5h0M110.2 407.8h0M129.3 356.2h0M152.1 356.2h0M148.3 388.8h0M122.6 406.4h0M138.8 394.9h0M141.7 360.5h0M136.9 400.3h0M155.0 367.8h0M162.6 367.8h0M170.2 367.8h0M174.0 411.2h0M178.7 425.8h0M146.4 429.3h0M157.8 390.0h0M178.8 409.6h0M191.2 360.5h0M151.1 441.8h0M187.4 310.5h0M186.4 394.9h0M203.5 376.2h0M160.7 408.3h0M163.6 381.5h0M171.2 381.5h0M186.5 309.7h0M199.8 327.7h0M206.4 408.3h0M175.0 403.5h0M192.2 317.6h0M194.1 300.4h0M221.6 394.9h0M193.1 366.0h0M197.8 390.8h0M205.5 324.8h0M222.6 374.3h0M240.7 349.5h0M189.3 387.0h0M214.0 371.1h0M220.7 315.6h0M220.7 379.0h0M197.8 429.3h0M230.2 352.9h0M249.2 383.4h0M200.7 394.9h0M211.2 313.9h0M224.5 387.5h0M228.3 405.6h0M235.9 405.6h0M240.7 370.0h0M214.1 333.0h0M237.9 326.2h0M196.8 444.8h0M211.2 398.2h0M235.9 384.9h0M240.7 351.7h0M220.6 427.1h0M254.9 401.3h0M262.6 349.8h0M242.7 323.0h0M252.1 352.4h0M249.3 362.5h0M253.1 386.1h0M276.7 400.0h0"/></g>
<use href="#q137" transform="translate(-0.53,-0.53)" stroke="#bedaf5" stroke-width="1.93" stroke-opacity="0.85"/>
<g stroke="#ee8c48" stroke-width="2.50"><path id="q138" d="M96.0 374.3h0M112.2 309.0h0M100.7 355.2h0M121.7 365.4h0M112.6 381.2h0M132.1 415.5h0M110.7 388.5h0M128.8 349.8h0M126.9 358.5h0M137.4 400.6h0M141.2 354.8h0M138.8 372.0h0M142.1 416.6h0M162.6 346.1h0M173.6 307.3h0M185.0 348.5h0M157.0 312.4h0M194.0 322.7h0M156.5 316.3h0M183.1 355.6h0M203.0 385.1h0M184.1 334.0h0M203.5 357.4h0M193.5 377.0h0M217.4 296.3h0M220.6 399.4h0M223.5 372.5h0M229.3 318.7h0M177.3 442.2h0M224.0 364.8h0M235.4 330.5h0M255.0 341.3h0M187.8 390.9h0M204.1 319.6h0M197.8 426.6h0M213.0 426.6h0M229.3 355.2h0M235.4 364.4h0M218.8 368.2h0M218.3 416.2h0M222.1 432.7h0M266.8 374.9h0M250.2 378.3h0M240.2 391.7h0M261.2 337.3h0M245.9 377.2h0M258.3 394.9h0"/></g>
<use href="#q138" transform="translate(-0.38,-0.38)" stroke="#fcc9a0" stroke-width="1.38" stroke-opacity="0.85"/>
<g stroke="#ee8c48" stroke-width="3.00"><path id="q139" d="M104.1 357.4h0M120.2 338.7h0M94.1 385.5h0M100.7 404.3h0M121.2 410.8h0M129.3 387.0h0M120.2 381.2h0M124.1 326.2h0M135.5 381.2h0M136.4 367.4h0M141.2 408.6h0M164.0 298.7h0M116.9 415.5h0M133.6 388.5h0M162.1 311.1h0M141.7 369.1h0M123.1 407.0h0M131.7 394.9h0M132.6 382.8h0M156.4 370.6h0M172.6 358.5h0M120.7 425.2h0M130.2 401.0h0M134.1 352.4h0M146.4 388.8h0M154.0 388.8h0M165.5 340.3h0M118.3 446.4h0M136.5 320.4h0M139.3 377.7h0M167.9 309.0h0M173.6 331.9h0M158.8 314.7h0M161.6 372.0h0M173.1 326.2h0M177.8 360.5h0M149.8 329.8h0M151.6 394.9h0M154.5 362.3h0M141.7 411.2h0M144.5 378.6h0M173.1 313.5h0M179.8 324.4h0M167.8 369.1h0M171.7 327.9h0M156.9 394.9h0M160.7 353.7h0M168.3 353.7h0M172.2 312.4h0M153.6 345.8h0M183.0 434.2h0M196.4 375.3h0M206.9 345.8h0M162.6 399.8h0M179.7 380.2h0M188.3 370.4h0M139.3 399.6h0M173.6 362.1h0M179.3 380.8h0M181.1 437.1h0M192.6 324.6h0M196.4 362.1h0M166.4 423.0h0M195.0 366.8h0M209.3 301.2h0M204.4 423.0h0M183.1 403.9h0M187.9 359.0h0M206.4 318.7h0M165.0 416.4h0M184.0 382.0h0M215.4 373.4h0M221.2 321.9h0M187.4 343.4h0M193.1 360.5h0M203.5 403.5h0M210.2 412.1h0M222.6 369.1h0M231.1 360.5h0M186.9 345.4h0M194.5 411.4h0M198.3 378.4h0M211.7 328.9h0M235.4 386.7h0M245.9 361.9h0M186.4 407.3h0M247.3 341.3h0M194.6 335.4h0M194.5 398.9h0M197.4 375.1h0M214.5 359.2h0M233.5 390.9h0M203.1 379.6h0M229.7 349.1h0M215.9 391.1h0M223.5 391.1h0M230.2 337.6h0M252.1 345.3h0M224.0 383.9h0M229.7 398.6h0M244.0 347.0h0M203.5 417.0h0M229.3 336.0h0M225.4 424.4h0M263.5 365.4h0M216.4 373.6h0M227.9 345.1h0M244.9 387.8h0M246.9 373.6h0M245.4 377.1h0M260.7 377.1h0M223.1 370.8h0M225.0 357.1h0M265.5 333.0h0M251.7 321.7h0M261.2 361.6h0M273.6 328.4h0M265.4 378.3h0M270.2 388.5h0M256.4 376.2h0M233.0 423.0h0M247.8 373.7h0M252.1 388.8h0M234.0 397.8h0M262.1 363.4h0M234.5 383.8h0M263.5 386.5h0M280.0 330.0h0M275.0 352.0h0"/></g>
<use href="#q139" transform="translate(-0.45,-0.45)" stroke="#fcc9a0" stroke-width="1.65" stroke-opacity="0.85"/>
<g stroke="#ee8c48" stroke-width="3.50"><path id="q140" d="M108.8 386.3h0M115.5 379.0h0M122.6 371.1h0M122.1 372.8h0M129.8 372.8h0M113.1 380.2h0M134.0 409.6h0M106.0 367.4h0M141.2 298.7h0M136.0 360.5h0M151.2 360.5h0M133.6 370.6h0M158.8 328.2h0M165.4 437.4h0M172.1 352.4h0M132.6 366.3h0M151.7 320.4h0M166.0 331.9h0M167.9 297.2h0M172.2 324.4h0M178.7 422.0h0M192.1 356.9h0M166.9 379.4h0M179.2 410.4h0M199.2 358.8h0M163.6 322.7h0M177.9 333.0h0M181.6 374.3h0M188.3 384.6h0M160.3 355.6h0M176.4 345.8h0M195.4 385.1h0M203.1 306.5h0M175.0 350.7h0M196.9 360.5h0M197.8 350.7h0M191.7 334.0h0M205.5 338.7h0M212.5 412.8h0M188.3 345.6h0M222.6 381.5h0M227.4 336.6h0M199.3 382.0h0M204.9 399.2h0M188.4 334.8h0M193.0 415.5h0M223.6 349.5h0M228.3 374.3h0M235.9 374.3h0M239.7 341.3h0M237.8 423.8h0M239.7 407.3h0M191.7 359.2h0M209.7 398.9h0M220.2 375.1h0M226.9 383.0h0M189.2 434.6h0M219.7 371.1h0M214.5 349.1h0M232.2 322.3h0M231.1 391.1h0M247.3 383.4h0M263.5 375.8h0M228.7 405.9h0M258.2 413.3h0M271.6 369.1h0M224.6 313.9h0M254.0 380.2h0M260.6 387.5h0M250.2 398.5h0M276.8 370.0h0M249.8 343.4h0M264.9 398.3h0M262.1 355.0h0M228.3 424.8h0M272.1 384.9h0M252.6 359.5h0M249.3 375.6h0M269.3 335.5h0M272.1 366.8h0"/></g>
<use href="#q140" transform="translate(-0.53,-0.53)" stroke="#fcc9a0" stroke-width="1.93" stroke-opacity="0.85"/>
<g stroke="#4da862" stroke-width="2.50"><path id="q141" d="M126.4 360.5h0M110.3 336.0h0M134.1 305.5h0M161.6 330.5h0M146.4 316.1h0M155.9 388.8h0M175.9 314.7h0M192.1 394.9h0M164.5 321.3h0M173.1 390.0h0M227.3 366.8h0M237.8 338.7h0M242.5 366.8h0M213.1 345.6h0M227.3 412.1h0M244.5 316.5h0M210.2 402.8h0M225.4 402.8h0M264.5 322.3h0M223.6 327.4h0M248.3 313.1h0M227.3 391.6h0"/></g>
<use href="#q141" transform="translate(-0.38,-0.38)" stroke="#a8deb2" stroke-width="1.38" stroke-opacity="0.85"/>
<g stroke="#4da862" stroke-width="3.00"><path id="q142" d="M105.5 307.7h0M133.1 336.0h0M138.8 365.4h0M143.5 409.6h0M138.8 346.8h0M138.8 330.5h0M185.4 317.6h0M134.0 376.7h0M159.7 340.3h0M161.7 316.1h0M187.3 376.7h0M197.8 340.3h0M161.7 303.3h0M159.8 313.5h0M176.0 302.7h0M176.9 378.6h0M181.7 324.4h0M161.7 364.0h0M172.1 333.0h0M196.9 312.4h0M205.4 384.6h0M219.7 394.9h0M155.9 409.6h0M187.4 321.3h0M188.3 311.4h0M203.6 311.4h0M211.2 311.4h0M169.3 338.7h0M208.3 329.3h0M214.0 348.0h0M217.8 310.5h0M223.5 329.3h0M224.4 394.9h0M252.1 348.0h0M188.3 363.5h0M191.2 336.6h0M194.0 381.5h0M199.8 327.7h0M200.7 318.7h0M208.3 318.7h0M209.3 309.7h0M224.4 381.5h0M254.9 381.5h0M191.2 326.2h0M205.5 334.8h0M209.3 300.4h0M206.4 316.5h0M215.0 308.3h0M220.7 324.8h0M222.6 308.3h0M229.2 382.5h0M252.0 382.5h0M201.6 398.7h0M217.9 330.0h0M216.0 336.0h0M229.2 409.6h0M206.5 341.6h0M110.0 291.9h0M113.6 291.7h0M125.7 291.9h0M175.0 291.6h0M189.8 291.6h0"/></g>
<use href="#q142" transform="translate(-0.45,-0.45)" stroke="#a8deb2" stroke-width="1.65" stroke-opacity="0.85"/>
<g stroke="#4da862" stroke-width="3.50"><path id="q143" d="M115.0 402.8h0M141.6 339.4h0M127.4 382.0h0M136.9 356.2h0M140.7 304.7h0M148.3 388.8h0M155.0 303.9h0M195.0 279.7h0M153.1 314.7h0M199.7 378.6h0M202.6 346.1h0M195.0 333.0h0M197.8 302.1h0M232.1 331.1h0M205.4 357.4h0M204.5 354.6h0M215.9 318.7h0M217.9 300.8h0M223.5 318.7h0M237.7 399.4h0M175.0 403.5h0M236.9 316.5h0M213.0 379.0h0M211.2 322.3h0M216.9 387.5h0M231.1 394.9h0M251.1 358.1h0M253.1 343.4h0M253.1 318.4h0M243.5 375.6h0M262.6 341.8h0"/></g>
<use href="#q143" transform="translate(-0.53,-0.53)" stroke="#a8deb2" stroke-width="1.93" stroke-opacity="0.85"/>
<g stroke="#e2584a" stroke-width="2.50"><path id="q144" d="M120.2 338.7h0M125.0 328.6h0M136.4 387.5h0M148.8 313.9h0M152.1 365.4h0M143.1 381.2h0M141.6 388.0h0M157.8 374.3h0M133.6 388.5h0M142.1 375.6h0M145.5 317.6h0M202.1 273.6h0M183.6 303.9h0M186.4 349.1h0M161.2 373.2h0M170.2 346.1h0M203.5 400.3h0M201.6 322.7h0M181.2 375.3h0M206.9 345.8h0M176.0 340.9h0M176.9 331.1h0M224.0 315.2h0M207.4 319.9h0M219.7 423.0h0M190.7 332.1h0M202.1 368.0h0M207.3 381.5h0M238.3 373.4h0M203.1 337.2h0M207.8 361.9h0M230.7 361.9h0M231.6 419.6h0M256.4 337.2h0M226.4 390.8h0M235.9 308.3h0M244.5 366.0h0M247.3 407.3h0M219.2 383.0h0M258.7 363.2h0M267.3 355.2h0M213.5 417.8h0M251.6 356.7h0M223.5 391.1h0M234.1 307.1h0M237.8 398.7h0M279.7 368.2h0M238.8 380.2h0M237.4 330.9h0M243.6 334.5h0M241.1 405.2h0M269.7 355.0h0M257.4 327.2h0M270.2 379.3h0"/></g>
<use href="#q144" transform="translate(-0.38,-0.38)" stroke="#f8a89a" stroke-width="1.38" stroke-opacity="0.85"/>
<g stroke="#e2584a" stroke-width="3.00"><path id="q145" d="M112.1 353.7h0M103.1 376.2h0M102.6 366.8h0M103.6 348.0h0M109.8 347.3h0M121.6 387.0h0M138.3 358.1h0M121.7 365.4h0M127.4 394.9h0M159.7 365.4h0M161.6 336.0h0M162.6 321.3h0M163.6 306.5h0M165.9 381.2h0M135.9 360.5h0M141.2 388.5h0M149.3 369.1h0M157.8 356.2h0M137.3 419.2h0M143.1 346.4h0M148.8 370.6h0M157.4 358.5h0M165.0 358.5h0M171.6 370.6h0M148.3 364.6h0M160.7 303.9h0M164.5 352.4h0M186.4 364.6h0M155.9 349.1h0M161.6 372.0h0M188.2 417.8h0M193.0 360.5h0M204.4 406.4h0M202.1 340.6h0M164.5 411.2h0M192.1 356.9h0M156.4 410.4h0M162.1 348.5h0M182.6 364.0h0M187.3 394.9h0M190.2 364.0h0M238.7 333.0h0M186.4 390.0h0M194.0 390.0h0M206.4 340.9h0M209.3 311.4h0M217.8 380.2h0M222.6 331.1h0M235.9 350.7h0M174.5 352.7h0M195.5 296.5h0M195.9 357.4h0M199.8 319.9h0M200.7 310.5h0M205.4 413.6h0M232.1 376.2h0M179.3 368.0h0M209.7 368.0h0M224.9 368.0h0M206.4 390.4h0M214.0 318.7h0M226.3 417.3h0M201.2 364.8h0M213.6 321.9h0M234.5 339.1h0M212.1 394.9h0M232.1 351.9h0M235.0 326.2h0M197.3 386.7h0M205.0 320.7h0M205.9 378.4h0M211.6 394.9h0M213.5 378.4h0M217.8 399.0h0M222.6 357.8h0M237.8 357.8h0M252.1 366.0h0M201.1 406.8h0M212.6 375.1h0M214.5 359.2h0M262.1 343.4h0M211.2 379.0h0M246.3 402.8h0M255.9 387.0h0M266.3 363.2h0M214.5 349.1h0M224.0 333.8h0M233.0 375.8h0M215.4 391.2h0M242.1 361.8h0M243.1 354.4h0M244.0 347.0h0M249.7 361.8h0M229.3 336.0h0M225.4 424.4h0M229.2 394.9h0M218.3 416.2h0M250.7 345.1h0M269.7 373.6h0M219.7 398.5h0M226.4 405.6h0M228.8 384.6h0M248.7 405.2h0M263.0 357.1h0M266.2 276.6h0"/></g>
<use href="#q145" transform="translate(-0.45,-0.45)" stroke="#f8a89a" stroke-width="1.65" stroke-opacity="0.85"/>
<g stroke="#e2584a" stroke-width="3.50"><path id="q146" d="M118.3 376.2h0M125.4 366.8h0M113.6 300.4h0M116.4 386.3h0M123.1 379.0h0M158.8 275.9h0M124.1 343.4h0M143.6 360.5h0M127.9 362.7h0M157.3 375.6h0M154.0 407.8h0M164.5 369.1h0M173.5 346.4h0M155.5 366.3h0M165.9 331.9h0M166.9 320.4h0M185.9 366.3h0M168.3 383.4h0M164.0 340.6h0M185.0 362.3h0M195.9 313.5h0M163.1 338.2h0M191.6 358.8h0M212.5 379.4h0M173.1 384.6h0M197.8 364.0h0M202.6 312.4h0M165.0 385.1h0M186.0 326.2h0M194.5 394.9h0M222.1 345.8h0M155.0 399.8h0M180.7 370.4h0M207.4 331.1h0M184.9 399.6h0M197.4 352.7h0M207.8 399.6h0M219.2 362.1h0M220.2 352.7h0M224.4 376.2h0M224.0 377.0h0M198.8 318.7h0M208.3 372.5h0M216.9 363.5h0M233.0 354.6h0M208.8 364.8h0M198.8 377.7h0M202.6 343.4h0M216.4 353.7h0M223.1 361.9h0M241.1 337.2h0M251.6 378.4h0M209.8 335.4h0M225.9 327.5h0M266.8 367.1h0M238.8 339.4h0M218.3 379.6h0M221.7 345.3h0M254.9 383.4h0M220.2 354.4h0M232.6 317.6h0M226.9 352.2h0M239.2 373.6h0M238.8 370.0h0M239.7 362.9h0M249.3 348.7h0M258.3 336.5h0M254.0 360.5h0M268.3 367.4h0M263.1 332.4h0M264.5 381.0h0"/></g>
<use href="#q146" transform="translate(-0.53,-0.53)" stroke="#f8a89a" stroke-width="1.93" stroke-opacity="0.85"/>
<g stroke="#5b98d4" stroke-width="2.50"><path id="q147" d="M111.2 339.4h0M122.6 380.2h0M117.0 317.6h0M120.7 369.1h0M145.5 343.4h0M119.8 364.6h0M127.4 364.6h0M141.7 376.7h0M150.2 364.6h0M124.5 383.4h0M129.3 417.8h0M133.1 372.0h0M151.2 324.4h0M168.3 389.5h0M173.0 422.0h0M149.3 333.0h0M187.3 385.5h0M197.8 357.4h0M221.6 423.0h0M170.2 390.4h0M208.3 318.7h0M177.9 309.0h0M199.8 317.6h0M222.6 317.6h0M211.2 341.3h0M195.0 339.4h0M221.7 307.7h0M193.1 345.3h0M213.1 307.1h0M217.8 391.1h0M228.4 307.1h0M212.1 365.4h0M234.1 313.9h0M228.3 417.0h0M240.7 380.2h0M227.4 355.8h0M228.3 348.7h0M229.2 398.5h0M239.7 367.4h0M213.1 384.9h0M237.8 414.2h0M259.7 369.1h0M244.5 360.5h0M253.1 354.3h0M236.9 401.0h0"/></g>
<use href="#q147" transform="translate(-0.38,-0.38)" stroke="#bedaf5" stroke-width="1.38" stroke-opacity="0.85"/>
<g stroke="#5b98d4" stroke-width="3.00"><path id="q148" d="M103.6 360.5h0M136.0 307.7h0M95.0 336.0h0M103.6 321.3h0M108.3 365.4h0M113.1 409.6h0M126.4 321.3h0M131.2 346.8h0M119.8 382.0h0M124.6 317.6h0M127.4 382.0h0M112.2 364.6h0M116.9 401.0h0M128.4 352.4h0M133.1 388.8h0M154.1 316.1h0M154.0 413.1h0M146.4 394.9h0M167.4 326.2h0M168.3 314.7h0M186.4 372.0h0M144.6 313.5h0M145.5 389.5h0M147.4 367.8h0M161.6 378.6h0M165.5 335.2h0M181.6 411.2h0M142.7 322.7h0M144.5 384.6h0M155.0 353.7h0M158.8 312.4h0M166.5 312.4h0M175.0 302.1h0M144.5 370.4h0M155.0 340.9h0M156.0 331.1h0M157.9 311.4h0M162.6 340.9h0M166.4 380.2h0M170.2 340.9h0M178.8 331.1h0M181.7 301.6h0M192.1 350.7h0M195.0 321.3h0M170.3 329.3h0M177.8 404.3h0M179.7 385.5h0M186.4 319.9h0M206.4 348.0h0M176.9 399.4h0M178.8 381.5h0M185.4 390.4h0M194.1 309.7h0M194.0 381.5h0M195.0 372.5h0M200.7 390.4h0M209.2 381.5h0M205.5 334.8h0M221.7 326.2h0M223.6 309.0h0M230.2 317.6h0M179.8 349.5h0M190.3 324.8h0M197.9 324.8h0M198.8 382.5h0M201.7 357.8h0M205.4 390.8h0M223.6 300.0h0M233.1 349.5h0M246.3 432.0h0M254.0 366.0h0M205.5 315.6h0M207.4 363.2h0M212.2 323.5h0M218.8 331.5h0M239.7 410.8h0M210.2 391.1h0M226.4 322.3h0M226.4 383.4h0M237.8 352.9h0M238.8 345.3h0M251.1 368.2h0M190.2 417.0h0M209.3 328.6h0M213.1 358.1h0M218.8 313.9h0M214.9 402.3h0M216.9 387.5h0M239.7 387.5h0M222.6 334.5h0M247.3 377.1h0M259.7 341.6h0M209.2 422.4h0M217.9 360.5h0M247.3 367.4h0M224.5 411.5h0M245.4 371.6h0M253.1 318.4h0M256.9 345.0h0M240.7 343.4h0M271.1 394.9h0M235.9 416.8h0M260.7 354.3h0M260.7 394.9h0M276.0 338.9h0M278.8 353.1h0M302.0 345.6h0M315.0 402.0h0M366.3 449.2h0"/></g>
<use href="#q148" transform="translate(-0.45,-0.45)" stroke="#bedaf5" stroke-width="1.65" stroke-opacity="0.85"/>
<g stroke="#5b98d4" stroke-width="3.50"><path id="q149" d="M109.3 371.1h0M116.0 346.8h0M118.9 305.5h0M139.8 333.0h0M132.2 303.9h0M137.9 328.2h0M139.8 303.9h0M140.7 388.8h0M149.3 376.7h0M179.8 279.7h0M132.1 383.4h0M148.3 372.0h0M152.2 326.2h0M156.9 360.5h0M162.6 383.4h0M131.2 378.6h0M135.9 411.2h0M158.8 411.2h0M163.6 356.9h0M195.9 335.2h0M145.5 374.3h0M156.9 333.0h0M188.3 322.7h0M152.2 370.4h0M169.3 350.7h0M181.6 380.2h0M222.6 350.7h0M223.5 340.9h0M147.4 404.3h0M148.3 394.9h0M161.6 413.6h0M169.2 413.6h0M184.5 413.6h0M215.0 338.7h0M165.5 363.5h0M169.3 399.4h0M182.6 345.6h0M183.6 336.6h0M193.1 318.7h0M190.2 417.3h0M228.3 345.6h0M245.4 327.7h0M177.0 317.6h0M195.0 360.5h0M199.7 386.3h0M207.3 386.3h0M216.9 300.4h0M219.7 412.1h0M222.6 386.3h0M165.5 407.3h0M180.7 341.3h0M192.2 308.3h0M220.7 390.8h0M231.1 366.0h0M190.2 379.0h0M192.1 363.2h0M204.5 387.0h0M215.0 363.2h0M223.5 355.2h0M241.6 331.5h0M185.4 406.4h0M194.1 337.6h0M208.3 345.3h0M235.9 368.2h0M245.4 352.9h0M227.4 306.5h0M228.3 358.1h0M243.5 358.1h0M212.2 355.8h0M260.7 334.5h0M259.7 398.5h0M214.0 388.0h0M216.9 367.4h0M218.8 353.7h0M229.2 388.0h0M231.2 374.3h0M237.8 381.2h0M264.5 345.0h0M266.4 375.6h0M235.0 373.0h0M252.2 310.5h0M284.3 400.0h0"/></g>
<use href="#q149" transform="translate(-0.53,-0.53)" stroke="#bedaf5" stroke-width="1.93" stroke-opacity="0.85"/>
<g stroke="#ee8c48" stroke-width="2.50"><path id="q150" d="M111.7 334.8h0M127.4 309.0h0M110.2 401.8h0M119.8 374.3h0M124.6 305.5h0M160.7 333.0h0M147.4 376.7h0M168.3 401.0h0M154.5 377.7h0M139.8 360.5h0M160.7 383.4h0M136.4 394.9h0M137.4 384.0h0M142.6 400.3h0M181.6 389.5h0M185.5 346.1h0M168.8 358.8h0M193.6 338.2h0M169.2 425.8h0M151.7 365.4h0M169.8 336.0h0M207.8 336.0h0M167.9 343.4h0M182.1 352.7h0M194.0 376.2h0M208.3 385.5h0M170.7 377.0h0M174.5 412.8h0M207.8 385.9h0M176.9 381.5h0M206.9 382.0h0M218.8 334.8h0M195.9 390.8h0M204.6 316.5h0M215.0 357.8h0M226.4 390.8h0M230.2 357.8h0M202.6 387.0h0M232.6 376.5h0M244.5 336.0h0M219.3 352.2h0M222.1 387.8h0M249.7 398.3h0M248.3 346.8h0M253.5 361.6h0M282.1 349.4h0M240.7 386.5h0"/></g>
<use href="#q150" transform="translate(-0.38,-0.38)" stroke="#fcc9a0" stroke-width="1.38" stroke-opacity="0.85"/>
<g stroke="#ee8c48" stroke-width="3.00"><path id="q151" d="M92.6 403.5h0M107.9 358.1h0M130.7 358.1h0M137.9 350.7h0M137.4 353.7h0M127.4 374.3h0M128.3 360.5h0M130.3 333.0h0M134.0 388.0h0M143.6 360.5h0M119.3 375.6h0M125.9 388.5h0M138.3 407.0h0M141.2 370.6h0M145.0 322.1h0M172.6 343.4h0M146.4 372.0h0M156.0 349.1h0M162.6 360.5h0M165.5 326.2h0M168.3 383.4h0M138.3 373.2h0M156.4 340.6h0M170.7 351.5h0M131.2 443.7h0M148.3 422.0h0M156.0 335.2h0M168.3 367.8h0M141.2 410.4h0M165.0 400.1h0M182.2 297.0h0M185.9 338.2h0M149.3 394.9h0M150.2 384.6h0M153.1 353.7h0M178.8 405.2h0M183.6 353.7h0M196.9 374.3h0M150.7 375.3h0M173.6 375.3h0M180.2 385.1h0M178.8 390.0h0M186.5 311.4h0M211.1 370.4h0M195.9 357.4h0M171.7 368.0h0M182.2 341.1h0M200.3 314.2h0M200.2 385.9h0M174.0 408.3h0M205.4 399.4h0M181.2 407.8h0M206.9 313.3h0M216.4 364.8h0M227.8 330.5h0M231.6 364.8h0M198.8 377.7h0M215.9 360.5h0M235.9 317.6h0M236.8 377.7h0M238.8 360.5h0M241.6 334.8h0M245.4 369.1h0M222.1 370.2h0M223.1 361.9h0M179.7 399.0h0M229.2 366.0h0M178.3 406.8h0M238.3 351.3h0M241.1 390.9h0M203.6 379.0h0M212.1 371.1h0M214.0 355.2h0M244.5 355.2h0M218.3 379.6h0M234.5 372.0h0M250.7 364.4h0M203.5 429.3h0M210.2 375.8h0M254.0 391.1h0M205.0 354.4h0M247.8 376.5h0M213.1 343.4h0M249.2 417.0h0M212.6 402.0h0M223.5 426.9h0M227.3 398.5h0M251.1 391.3h0M224.5 408.6h0M235.9 381.2h0M241.6 394.9h0M238.8 404.9h0M227.8 423.9h0M242.1 378.8h0M245.0 359.5h0M266.9 365.9h0M232.7 332.4h0M261.2 344.9h0M263.5 373.0h0M265.4 410.5h0M310.8 350.0h0"/></g>
<use href="#q151" transform="translate(-0.45,-0.45)" stroke="#fcc9a0" stroke-width="1.65" stroke-opacity="0.85"/>
<g stroke="#ee8c48" stroke-width="3.50"><path id="q152" d="M108.3 404.3h0M122.1 394.9h0M133.6 331.5h0M105.5 402.8h0M131.2 355.2h0M136.9 365.4h0M114.5 353.7h0M121.7 346.8h0M148.3 401.8h0M129.3 330.5h0M150.2 356.2h0M125.0 382.8h0M126.0 370.6h0M154.5 394.9h0M137.9 303.9h0M137.8 401.0h0M142.6 340.3h0M143.6 328.2h0M145.0 309.0h0M167.8 400.6h0M171.6 354.8h0M155.0 360.5h0M133.6 427.5h0M153.6 373.2h0M177.4 362.3h0M138.8 443.7h0M173.1 400.3h0M174.0 389.5h0M176.9 356.9h0M145.0 369.1h0M171.6 410.4h0M182.1 379.4h0M187.9 317.6h0M190.7 369.1h0M196.4 307.3h0M171.2 405.2h0M163.1 404.7h0M180.3 306.5h0M184.0 345.8h0M218.3 306.5h0M194.0 390.0h0M204.5 360.5h0M210.2 301.6h0M171.7 305.9h0M178.3 390.2h0M188.8 362.1h0M210.7 371.5h0M188.3 357.4h0M211.2 357.4h0M215.9 385.5h0M186.9 368.0h0M198.3 332.1h0M210.7 359.0h0M183.6 318.7h0M206.4 390.4h0M216.0 300.8h0M186.9 356.2h0M222.1 313.3h0M214.0 377.7h0M215.0 369.1h0M230.2 369.1h0M205.9 378.4h0M231.2 349.5h0M246.4 349.5h0M252.1 366.0h0M224.0 343.4h0M245.9 402.5h0M250.2 360.5h0M260.6 398.7h0M215.5 332.3h0M222.1 398.6h0M246.8 383.9h0M248.8 369.1h0M208.8 373.6h0M224.1 316.7h0M233.6 359.3h0M237.4 330.9h0M239.2 373.6h0M211.2 348.7h0M219.7 398.5h0M232.1 362.9h0M237.8 377.1h0M243.5 391.3h0M253.1 320.2h0M211.6 398.3h0M252.6 322.7h0M248.7 405.2h0M221.7 374.3h0M247.4 353.7h0M244.4 418.2h0M251.2 371.6h0M260.7 358.3h0M265.9 363.7h0M244.9 430.2h0"/></g>
<use href="#q152" transform="translate(-0.53,-0.53)" stroke="#fcc9a0" stroke-width="1.93" stroke-opacity="0.85"/>
<g stroke="#4da862" stroke-width="2.50"><path id="q153" d="M149.3 339.4h0M117.9 336.0h0M116.9 333.0h0M133.1 304.7h0M155.0 317.6h0M143.6 337.6h0M155.0 383.4h0M190.2 326.2h0M184.5 378.6h0M190.2 313.5h0M156.9 415.5h0M187.4 333.0h0M189.3 312.4h0M179.8 321.3h0M180.7 311.4h0M197.8 432.4h0M193.1 309.0h0M220.6 390.8h0M230.2 308.3h0M262.5 357.8h0M225.5 339.4h0M254.9 347.3h0M239.7 337.6h0M240.7 305.5h0M245.5 326.2h0M250.2 346.8h0M252.1 410.5h0M275.9 346.4h0"/></g>
<use href="#q153" transform="translate(-0.38,-0.38)" stroke="#a8deb2" stroke-width="1.38" stroke-opacity="0.85"/>
<g stroke="#4da862" stroke-width="3.00"><path id="q154" d="M115.9 312.4h0M111.2 385.5h0M118.8 360.5h0M133.1 377.7h0M112.2 323.5h0M134.0 339.4h0M141.7 321.3h0M133.1 319.3h0M151.1 388.0h0M139.8 317.6h0M163.5 407.8h0M142.6 364.6h0M158.8 352.4h0M162.6 303.9h0M185.5 303.9h0M137.8 406.4h0M158.8 337.6h0M183.6 314.7h0M192.1 303.3h0M144.5 400.3h0M150.3 335.2h0M173.1 335.2h0M183.6 302.7h0M192.1 378.6h0M217.8 346.1h0M166.4 312.4h0M180.7 322.7h0M190.2 302.1h0M218.7 405.2h0M227.3 301.6h0M167.4 357.4h0M189.3 366.8h0M192.1 338.7h0M194.0 319.9h0M211.2 301.2h0M210.2 385.5h0M228.3 357.4h0M193.1 318.7h0M195.9 351.9h0M214.0 326.2h0M230.2 317.6h0M238.8 309.0h0M252.0 394.9h0M253.9 377.7h0M196.9 399.0h0M246.4 300.0h0M251.1 324.8h0M234.0 331.5h0M240.7 321.3h0M249.2 372.8h0M254.9 387.5h0M251.1 394.9h0M245.5 318.4h0M121.6 291.4h0M170.6 292.0h0"/></g>
<use href="#q154" transform="translate(-0.45,-0.45)" stroke="#a8deb2" stroke-width="1.65" stroke-opacity="0.85"/>
<g stroke="#4da862" stroke-width="3.50"><path id="q155" d="M110.2 377.7h0M131.1 412.1h0M114.0 418.7h0M127.4 323.5h0M111.2 415.5h0M149.3 305.5h0M147.4 317.6h0M168.3 328.2h0M191.2 314.7h0M189.3 324.4h0M185.4 353.7h0M174.0 380.2h0M225.4 399.8h0M203.6 301.2h0M222.6 338.7h0M227.3 354.6h0M238.7 390.4h0M207.4 317.6h0M211.1 420.7h0M229.3 326.2h0M223.6 300.0h0M229.3 316.5h0M228.3 307.1h0M232.1 337.6h0M235.0 314.7h0M271.1 380.2h0M255.9 370.0h0M236.9 333.0h0M253.1 311.1h0"/></g>
<use href="#q155" transform="translate(-0.53,-0.53)" stroke="#a8deb2" stroke-width="1.93" stroke-opacity="0.85"/>
<g stroke="#e2584a" stroke-width="2.50"><path id="q156" d="M90.2 360.5h0M119.3 357.4h0M120.2 317.6h0M110.2 343.4h0M116.9 360.5h0M115.5 379.0h0M132.6 347.3h0M114.0 387.0h0M133.5 431.7h0M144.0 387.5h0M143.5 380.2h0M127.8 381.2h0M136.4 367.4h0M122.2 336.9h0M173.1 356.2h0M203.1 329.8h0M166.4 389.5h0M189.2 389.5h0M227.8 297.0h0M215.4 414.5h0M192.1 409.6h0M200.7 321.3h0M184.1 334.0h0M224.9 380.8h0M227.3 336.6h0M218.7 403.5h0M242.6 326.2h0M260.1 370.2h0M207.4 357.8h0M212.1 371.1h0M215.9 339.4h0M244.5 355.2h0M230.7 341.4h0M214.0 406.4h0M261.6 391.1h0M247.8 376.5h0M245.0 330.9h0M255.4 357.1h0M237.8 411.5h0"/></g>
<use href="#q156" transform="translate(-0.38,-0.38)" stroke="#f8a89a" stroke-width="1.38" stroke-opacity="0.85"/>
<g stroke="#e2584a" stroke-width="3.00"><path id="q157" d="M100.2 326.2h0M105.5 333.0h0M126.9 357.4h0M110.7 331.5h0M139.3 363.2h0M126.4 307.7h0M129.3 387.0h0M131.2 355.2h0M127.8 402.3h0M143.0 402.3h0M129.3 365.4h0M138.8 336.0h0M136.9 346.8h0M160.2 336.9h0M140.7 382.0h0M176.9 304.7h0M146.9 394.9h0M149.7 358.5h0M155.0 376.7h0M171.2 364.6h0M175.5 309.0h0M155.0 360.5h0M210.6 416.6h0M169.2 443.7h0M179.8 324.4h0M180.7 313.5h0M198.8 367.8h0M165.0 400.1h0M172.6 317.6h0M200.2 348.5h0M183.5 353.7h0M183.1 355.6h0M191.6 345.8h0M195.4 385.1h0M204.9 365.4h0M173.1 370.4h0M183.6 340.9h0M219.7 360.5h0M193.5 390.2h0M238.3 324.6h0M180.7 357.4h0M203.5 357.4h0M206.4 404.3h0M211.1 357.4h0M213.0 413.6h0M219.7 348.0h0M234.9 348.0h0M194.5 368.0h0M202.6 354.6h0M214.9 381.5h0M221.7 318.7h0M224.5 363.5h0M257.7 408.3h0M192.6 373.4h0M199.2 382.0h0M233.5 416.4h0M221.6 377.7h0M195.0 399.0h0M222.1 359.2h0M242.1 383.0h0M249.7 383.0h0M261.1 351.3h0M233.0 387.0h0M250.2 371.1h0M240.2 387.3h0M254.4 383.9h0M227.4 350.7h0M234.5 352.2h0M249.7 352.2h0M252.5 387.8h0M217.9 355.8h0M248.3 355.8h0M256.4 394.9h0M251.1 371.6h0"/></g>
<use href="#q157" transform="translate(-0.45,-0.45)" stroke="#f8a89a" stroke-width="1.65" stroke-opacity="0.85"/>
<g stroke="#e2584a" stroke-width="3.50"><path id="q158" d="M110.7 405.2h0M115.9 377.7h0M114.5 394.9h0M125.0 347.3h0M134.5 315.6h0M123.6 355.2h0M145.9 358.1h0M147.9 312.4h0M152.6 353.7h0M167.8 353.7h0M126.4 388.0h0M149.2 388.0h0M160.7 333.0h0M137.4 336.9h0M143.1 362.7h0M144.5 330.5h0M175.9 317.6h0M145.4 401.0h0M164.0 354.8h0M168.8 389.2h0M192.6 362.3h0M182.1 379.4h0M185.0 348.5h0M201.1 420.7h0M208.8 338.2h0M169.2 425.8h0M188.3 370.4h0M189.3 360.5h0M231.6 315.2h0M213.1 338.7h0M215.9 385.5h0M188.7 421.8h0M212.1 336.6h0M200.2 373.4h0M207.9 304.7h0M224.0 364.8h0M227.8 330.5h0M217.4 345.4h0M274.4 378.4h0M205.0 375.1h0M226.9 319.6h0M267.8 359.2h0M234.0 315.6h0M241.6 379.0h0M265.4 371.1h0M239.3 333.8h0M256.3 379.6h0M229.3 345.3h0M244.5 345.3h0M244.9 377.7h0M244.5 374.3h0M249.3 339.9h0M246.3 415.5h0M245.9 414.9h0M262.1 355.0h0M263.1 348.3h0M273.5 381.6h0M256.4 376.2h0M380.6 461.0h0"/></g>
<use href="#q158" transform="translate(-0.53,-0.53)" stroke="#f8a89a" stroke-width="1.93" stroke-opacity="0.85"/>
<circle cx="115.5" cy="274.2" r="5.3" fill="url(#gCHOS)" fill-opacity="0.85"/>
<circle cx="128.8" cy="276.5" r="5.5" fill="url(#gCHOS)" fill-opacity="0.85"/>
<circle cx="137.3" cy="276.5" r="5.5" fill="url(#gCHOS)" fill-opacity="0.85"/>
<circle cx="156.2" cy="278.3" r="9.5" fill="url(#gCHOS)" fill-opacity="0.85"/>
<circle cx="178" cy="279.3" r="9.5" fill="url(#gCHOS)" fill-opacity="0.85"/>
<circle cx="171.3" cy="281.2" r="7" fill="url(#gCHOS)" fill-opacity="0.85"/>
<circle cx="199.7" cy="281.2" r="7.5" fill="url(#gCHOS)" fill-opacity="0.85"/>
<circle cx="192" cy="281.2" r="5.5" fill="url(#gCHOS)" fill-opacity="0.85"/>
<circle cx="152" cy="291.6" r="3.5" fill="url(#gCHOS)" fill-opacity="0.85"/>
<circle cx="163" cy="291.6" r="4" fill="url(#gCHOS)" fill-opacity="0.85"/>
<circle cx="175" cy="291.6" r="4" fill="url(#gCHOS)" fill-opacity="0.85"/>
<circle cx="185" cy="291.6" r="4.5" fill="url(#gCHOS)" fill-opacity="0.85"/>
<circle cx="196" cy="291.6" r="4" fill="url(#gCHOS)" fill-opacity="0.85"/>
<circle cx="162" cy="298" r="4.5" fill="url(#gCHOS)" fill-opacity="0.85"/>
<circle cx="178" cy="300" r="4.5" fill="url(#gCHOS)" fill-opacity="0.85"/>
<circle cx="190.2" cy="302" r="5.5" fill="url(#gCHOS)" fill-opacity="0.85"/>
<circle cx="109.9" cy="291.6" r="5.7" fill="url(#gCHO)" fill-opacity="0.90"/>
<circle cx="125" cy="291.6" r="8.5" fill="url(#gCHO)" fill-opacity="0.90"/>
<circle cx="212" cy="286.9" r="2.8" fill="url(#gCHONS)" fill-opacity="0.90"/>
<circle cx="224.7" cy="287.4" r="4.2" fill="url(#gCHONS)" fill-opacity="0.90"/>
<circle cx="168.5" cy="298.2" r="3" fill="url(#gCHONS)" fill-opacity="0.90"/>
<circle cx="183.6" cy="297.3" r="3" fill="url(#gCHONS)" fill-opacity="0.90"/>
<circle cx="201.6" cy="305.8" r="2.5" fill="url(#gCHONS)" fill-opacity="0.90"/>
<circle cx="123.8" cy="331.2" r="17" fill="url(#gCHOS)" fill-opacity="0.88"/>
<circle cx="210.5" cy="320" r="7.5" fill="url(#gCHOS)" fill-opacity="0.80"/>
<circle cx="180" cy="385.5" r="10" fill="url(#gCHOS)" fill-opacity="0.85"/>
<circle cx="211.6" cy="407.7" r="8" fill="url(#gCHONS)" fill-opacity="0.80"/>
<circle cx="269.6" cy="427.5" r="11.3" fill="url(#gCHON)" fill-opacity="0.90"/>
<circle cx="94.5" cy="335" r="3" fill="url(#gCHO)" fill-opacity="0.90"/>
<circle cx="274.7" cy="317.4" r="2.5" fill="url(#gCHO)" fill-opacity="0.90"/>
<g stroke="#5b98d4" stroke-width="2.50"><path id="q159" d="M113.1 388.0h0M129.3 340.3h0M136.0 337.6h0M194.0 356.9h0M136.0 394.9h0M152.1 384.6h0M199.7 364.0h0M150.2 390.0h0M190.2 370.4h0M209.3 319.9h0M197.9 334.8h0M209.2 369.1h0M217.8 360.5h0M236.9 316.5h0M236.8 382.5h0M235.9 379.0h0M208.4 336.0h0M216.0 327.4h0M234.1 306.0h0M233.1 370.0h0M239.8 305.1h0M254.0 365.0h0M239.7 391.8h0M266.4 397.8h0"/></g>
<use href="#q159" transform="translate(-0.38,-0.38)" stroke="#bedaf5" stroke-width="1.38" stroke-opacity="0.85"/>
<g stroke="#5b98d4" stroke-width="3.00"><path id="q160" d="M102.6 377.7h0M119.8 323.5h0M112.2 306.5h0M114.1 374.3h0M115.0 360.5h0M128.3 388.0h0M113.1 369.1h0M116.0 330.5h0M134.0 376.7h0M142.6 364.6h0M153.1 314.7h0M157.9 335.2h0M167.3 400.3h0M135.0 405.2h0M140.7 425.8h0M152.2 302.1h0M164.5 415.5h0M151.2 380.2h0M203.5 390.0h0M157.9 376.2h0M167.4 357.4h0M188.4 301.2h0M185.4 404.3h0M195.9 376.2h0M156.0 381.5h0M170.3 318.7h0M178.9 309.7h0M198.8 336.6h0M173.1 420.7h0M181.6 412.1h0M201.6 369.1h0M208.4 309.0h0M191.2 316.5h0M204.5 333.0h0M208.3 366.0h0M189.3 323.5h0M196.9 387.0h0M202.6 402.8h0M236.9 307.7h0M195.0 330.0h0M243.5 368.2h0M192.1 402.3h0M226.5 313.9h0M248.3 321.3h0M230.2 334.5h0M237.8 391.3h0M243.6 348.7h0M242.5 412.7h0M225.5 305.5h0M242.6 346.8h0M240.6 415.5h0M270.2 367.4h0M216.9 411.5h0M230.3 318.4h0M244.5 369.1h0M249.2 440.0h0M254.0 348.0h0M264.5 379.3h0M247.4 382.8h0M254.1 340.3h0M251.1 397.8h0M268.3 377.7h0"/></g>
<use href="#q160" transform="translate(-0.45,-0.45)" stroke="#bedaf5" stroke-width="1.65" stroke-opacity="0.85"/>
<g stroke="#5b98d4" stroke-width="3.50"><path id="q161" d="M95.0 377.7h0M98.8 418.7h0M96.0 321.3h0M107.4 380.2h0M116.9 350.7h0M124.5 350.7h0M111.2 305.5h0M126.5 305.5h0M139.8 317.6h0M123.6 316.1h0M145.4 406.4h0M150.2 349.1h0M130.2 389.5h0M146.4 378.6h0M151.2 411.2h0M175.0 313.5h0M175.9 389.5h0M151.2 312.4h0M187.4 333.0h0M156.9 399.8h0M187.3 399.8h0M192.1 429.3h0M206.4 360.5h0M159.7 432.4h0M174.0 366.8h0M179.8 310.5h0M177.9 318.7h0M175.9 408.3h0M213.1 345.6h0M170.2 377.7h0M178.8 369.1h0M184.5 386.3h0M199.8 308.3h0M212.1 333.0h0M218.7 407.3h0M244.4 382.5h0M192.1 426.6h0M210.2 402.8h0M234.9 387.0h0M217.9 330.0h0M224.5 398.7h0M244.5 360.5h0M214.0 409.6h0M251.1 358.1h0M209.3 320.2h0M212.1 401.8h0M221.7 333.0h0M231.2 319.3h0M235.0 346.8h0M225.4 404.9h0M241.7 336.9h0M261.6 398.0h0M230.2 394.9h0M255.0 403.3h0"/></g>
<use href="#q161" transform="translate(-0.53,-0.53)" stroke="#bedaf5" stroke-width="1.93" stroke-opacity="0.85"/>
<g stroke="#ee8c48" stroke-width="2.50"><path id="q162" d="M125.0 328.6h0M139.3 326.2h0M149.3 369.1h0M146.9 377.7h0M169.7 377.7h0M144.5 394.9h0M175.0 394.9h0M177.8 346.1h0M158.8 374.3h0M212.6 365.4h0M173.1 370.4h0M165.0 371.5h0M214.0 329.3h0M185.9 377.0h0M188.8 350.1h0M214.9 381.5h0M201.2 364.8h0M209.7 425.0h0M190.3 317.6h0M219.7 394.9h0M228.3 317.6h0M270.2 351.9h0M214.6 304.2h0M196.9 316.5h0M216.8 407.3h0M231.6 406.8h0M250.6 375.1h0M231.2 339.4h0M246.3 402.8h0M204.9 425.4h0M228.3 414.0h0M229.3 384.2h0M226.4 384.9h0M240.3 340.1h0M241.2 385.2h0M255.9 382.0h0M247.9 332.4h0M246.9 388.7h0M274.0 377.7h0"/></g>
<use href="#q162" transform="translate(-0.38,-0.38)" stroke="#fcc9a0" stroke-width="1.38" stroke-opacity="0.85"/>
<g stroke="#ee8c48" stroke-width="3.00"><path id="q163" d="M99.8 371.1h0M123.6 355.2h0M125.5 323.5h0M113.6 387.5h0M127.8 402.3h0M128.8 387.5h0M111.2 409.6h0M122.6 350.7h0M128.3 380.2h0M142.1 375.6h0M127.4 356.2h0M152.1 330.5h0M182.1 334.3h0M184.0 310.0h0M135.0 340.3h0M155.0 376.7h0M147.9 366.3h0M162.1 377.7h0M152.1 394.9h0M158.4 318.9h0M149.3 411.2h0M160.7 367.8h0M180.7 400.3h0M190.2 378.6h0M192.6 348.5h0M202.1 327.9h0M148.3 405.2h0M156.0 322.7h0M157.8 384.6h0M174.0 374.3h0M201.7 322.7h0M166.9 365.4h0M172.6 385.1h0M171.2 390.0h0M187.3 380.2h0M195.0 380.2h0M174.5 352.7h0M200.2 324.6h0M170.2 385.5h0M191.1 404.3h0M191.7 323.2h0M175.9 390.4h0M200.7 372.5h0M208.3 372.5h0M212.1 336.6h0M218.7 417.3h0M180.2 416.4h0M191.6 382.0h0M223.1 304.7h0M217.3 425.0h0M229.7 382.0h0M196.0 334.8h0M206.8 436.1h0M243.1 320.7h0M226.4 324.8h0M175.4 430.6h0M185.9 406.8h0M218.8 379.0h0M236.9 355.2h0M246.4 339.4h0M255.0 331.5h0M196.4 372.0h0M218.4 318.5h0M192.1 398.7h0M216.9 322.3h0M243.5 352.9h0M196.4 420.7h0M218.3 369.1h0M237.4 339.7h0M230.3 320.2h0M263.1 357.1h0M233.1 346.8h0M243.5 381.2h0M227.8 381.6h0M236.4 374.9h0M245.0 368.3h0M253.1 349.8h0M241.2 376.2h0M261.7 328.2h0M268.8 377.2h0M278.8 356.6h0M264.0 397.8h0M265.0 392.0h0M268.8 361.5h0"/></g>
<use href="#q163" transform="translate(-0.45,-0.45)" stroke="#fcc9a0" stroke-width="1.65" stroke-opacity="0.85"/>
<g stroke="#ee8c48" stroke-width="3.50"><path id="q164" d="M112.7 299.7h0M127.9 381.2h0M165.4 374.3h0M145.9 389.2h0M163.1 366.3h0M146.0 373.2h0M166.9 308.1h0M173.6 318.9h0M182.6 378.6h0M165.9 389.7h0M135.0 384.6h0M166.4 374.3h0M170.2 415.5h0M152.6 355.6h0M205.0 365.4h0M215.9 399.8h0M194.5 305.9h0M195.4 371.5h0M207.8 324.6h0M175.0 338.7h0M216.8 376.2h0M232.1 301.2h0M177.4 385.9h0M183.5 390.4h0M190.3 327.7h0M191.2 390.4h0M212.6 330.5h0M172.1 412.1h0M248.2 412.1h0M195.4 403.1h0M224.0 353.7h0M207.3 423.8h0M190.7 367.1h0M246.9 343.4h0M221.7 355.2h0M200.3 341.4h0M257.8 360.5h0M206.9 398.6h0M251.7 338.0h0M236.9 384.2h0M231.2 360.5h0M253.0 401.3h0M259.8 340.3h0M264.5 350.7h0M273.6 340.5h0"/></g>
<use href="#q164" transform="translate(-0.53,-0.53)" stroke="#fcc9a0" stroke-width="1.93" stroke-opacity="0.85"/>
<g stroke="#4da862" stroke-width="2.50"><path id="q165" d="M125.5 355.2h0M147.4 333.0h0M176.9 330.5h0M170.2 401.0h0M146.4 394.9h0M166.4 429.3h0M195.9 335.2h0M158.8 312.4h0M190.2 370.4h0M187.3 385.5h0M210.2 310.5h0M174.0 426.3h0M199.8 317.6h0M228.3 324.8h0M225.4 415.5h0M206.4 360.5h0M226.4 322.3h0M245.5 362.7h0M265.4 394.9h0"/></g>
<use href="#q165" transform="translate(-0.38,-0.38)" stroke="#a8deb2" stroke-width="1.38" stroke-opacity="0.85"/>
<g stroke="#4da862" stroke-width="3.00"><path id="q166" d="M94.1 314.7h0M119.8 323.5h0M134.0 321.3h0M156.8 415.5h0M148.3 304.7h0M179.7 376.7h0M159.8 326.2h0M160.7 314.7h0M145.5 389.5h0M182.6 313.5h0M154.0 364.0h0M169.3 350.7h0M210.2 321.3h0M216.9 331.1h0M175.0 357.4h0M184.5 327.7h0M216.8 381.5h0M232.1 381.5h0M210.1 429.3h0M229.2 394.9h0M236.9 326.2h0M181.6 399.0h0M226.4 331.5h0M248.3 330.0h0M227.4 306.5h0M277.8 358.3h0M155.6 291.4h0M167.0 291.4h0"/></g>
<use href="#q166" transform="translate(-0.45,-0.45)" stroke="#a8deb2" stroke-width="1.65" stroke-opacity="0.85"/>
<g stroke="#4da862" stroke-width="3.50"><path id="q167" d="M109.3 350.7h0M152.1 277.1h0M164.5 376.7h0M163.6 356.9h0M188.3 322.7h0M218.8 322.7h0M172.2 321.3h0M181.7 301.6h0M195.9 311.4h0M180.7 376.2h0M187.4 310.5h0M209.3 319.9h0M221.6 336.6h0M239.7 381.5h0M257.8 354.6h0M224.5 300.4h0M223.5 377.7h0M249.2 351.9h0M221.7 307.7h0M221.6 421.6h0M198.7 455.3h0M219.8 355.8h0M253.1 334.5h0"/></g>
<use href="#q167" transform="translate(-0.53,-0.53)" stroke="#a8deb2" stroke-width="1.93" stroke-opacity="0.85"/>
<g stroke="#e2584a" stroke-width="2.50"><path id="q168" d="M130.7 379.0h0M162.1 326.2h0M172.6 358.5h0M184.5 372.0h0M141.2 427.5h0M187.4 324.4h0M206.8 358.8h0M207.8 348.5h0M168.3 353.7h0M173.5 375.3h0M177.4 336.0h0M204.0 375.3h0M208.8 326.2h0M216.8 376.2h0M209.2 363.5h0M222.5 381.5h0M260.1 382.0h0M230.2 357.8h0M247.4 331.5h0M280.6 360.5h0M234.5 361.8h0M245.9 332.3h0M253.1 328.6h0M224.4 419.8h0M244.1 329.6h0M273.5 336.5h0M231.2 360.5h0"/></g>
<use href="#q168" transform="translate(-0.38,-0.38)" stroke="#f8a89a" stroke-width="1.38" stroke-opacity="0.85"/>
<g stroke="#e2584a" stroke-width="3.00"><path id="q169" d="M106.4 312.4h0M111.2 348.0h0M119.3 334.8h0M120.2 402.3h0M131.7 343.4h0M137.4 372.8h0M119.7 394.9h0M133.1 401.8h0M154.0 319.3h0M153.6 324.0h0M177.4 311.1h0M161.6 388.8h0M203.5 340.3h0M154.5 377.7h0M174.5 308.1h0M174.0 389.5h0M183.5 367.8h0M220.2 379.4h0M224.0 338.2h0M233.5 317.6h0M220.6 364.0h0M211.7 296.7h0M184.5 331.1h0M186.9 380.8h0M248.7 371.5h0M202.6 366.8h0M214.0 404.3h0M220.7 338.7h0M235.9 338.7h0M188.8 350.1h0M193.5 377.0h0M219.2 350.1h0M225.9 359.0h0M247.3 363.5h0M225.0 356.2h0M239.2 364.8h0M244.0 321.9h0M242.5 394.9h0M209.7 345.4h0M221.2 312.4h0M245.9 361.9h0M252.5 370.2h0M240.7 333.0h0M246.3 415.5h0M209.7 398.9h0M221.2 367.1h0M206.8 410.2h0M250.7 364.4h0M225.4 375.8h0M230.2 398.7h0M236.9 384.2h0M260.6 377.1h0M208.3 415.5h0M245.0 359.5h0M357.5 355.2h0"/></g>
<use href="#q169" transform="translate(-0.45,-0.45)" stroke="#f8a89a" stroke-width="1.65" stroke-opacity="0.85"/>
<g stroke="#e2584a" stroke-width="3.50"><path id="q170" d="M113.6 319.9h0M105.0 426.6h0M145.4 371.1h0M135.4 402.3h0M135.0 394.9h0M179.7 388.0h0M146.4 304.7h0M153.1 317.6h0M157.8 340.3h0M150.7 423.5h0M163.1 366.3h0M169.3 372.0h0M190.2 394.9h0M191.1 383.4h0M155.5 351.5h0M173.1 313.5h0M189.7 379.4h0M206.4 353.7h0M192.6 336.0h0M199.3 345.8h0M211.1 370.4h0M175.9 404.3h0M188.3 357.4h0M193.0 385.5h0M196.9 348.0h0M212.1 348.0h0M218.8 357.4h0M207.8 385.9h0M224.9 439.7h0M243.0 341.1h0M187.4 354.6h0M196.9 336.6h0M211.2 345.6h0M235.0 336.6h0M218.2 416.4h0M229.7 370.2h0M229.2 366.0h0M236.8 366.0h0M242.6 316.5h0M249.3 324.8h0M235.5 311.6h0M240.2 326.2h0M272.1 368.2h0M217.3 376.5h0M233.5 369.1h0M257.3 409.1h0M245.4 377.1h0M266.4 381.2h0M260.7 391.8h0"/></g>
<use href="#q170" transform="translate(-0.53,-0.53)" stroke="#f8a89a" stroke-width="1.93" stroke-opacity="0.85"/>
</g>
<g clip-path="url(#clipB)" stroke-linecap="round" fill="none">
<g stroke="#5b98d4" stroke-width="2.50"><path id="q171" d="M505.4 66.6h0M540.2 128.4h0M574.9 107.8h0M593.9 81.6h0M625.5 62.8h0M580.7 111.2h0M516.1 104.6h0M535.2 40.1h0M505.4 107.8h0M574.9 25.4h0M544.5 115.5h0M544.5 76.9h0M566.2 102.6h0M609.7 102.6h0M579.0 134.4h0M579.0 73.8h0M493.8 105.5h0M493.8 71.2h0M513.1 82.6h0M545.7 79.6h0M564.0 112.1h0M582.3 68.7h0M600.6 79.6h0M505.4 97.5h0M505.4 66.6h0M522.8 56.3h0M540.2 118.1h0M540.2 56.3h0M557.6 66.6h0M574.9 87.2h0M574.9 66.6h0M502.1 84.2h0M518.7 94.0h0M518.7 84.2h0M551.8 113.6h0M568.3 113.6h0M483.3 62.8h0M514.9 100.3h0M530.7 53.5h0M530.7 44.1h0M546.5 44.1h0M562.3 72.2h0M496.4 114.9h0M496.4 97.0h0M496.4 88.1h0M526.6 88.1h0M526.6 70.2h0M556.8 123.9h0M556.8 106.0h0M571.9 123.9h0M602.1 106.0h0M493.8 102.6h0M508.3 102.6h0M508.3 85.5h0M537.3 136.9h0M537.3 68.3h0M537.3 59.7h0M566.2 94.0h0M505.4 116.0h0M505.4 58.3h0M519.3 66.6h0M533.2 116.0h0M533.2 74.8h0M616.7 140.7h0M449.3 80.8h0M489.4 88.8h0M489.4 80.8h0M529.5 49.2h0M542.9 41.2h0M569.6 104.6h0M583.0 72.9h0M596.3 96.7h0M649.8 120.4h0M513.1 94.0h0M513.1 71.2h0M513.1 40.7h0M526.0 55.9h0M551.8 101.7h0M564.6 101.7h0M590.4 94.0h0M485.6 121.0h0M510.4 135.7h0M522.8 113.6h0M547.6 113.6h0M547.6 54.8h0M560.0 69.5h0M646.9 69.5h0M495.8 53.8h0M531.8 117.7h0M543.8 103.5h0M567.7 89.3h0M579.7 60.9h0M591.7 96.4h0M591.7 89.3h0M482.2 73.4h0M493.8 94.0h0M493.8 80.3h0M517.0 52.9h0M528.6 121.5h0M528.6 59.7h0M540.2 107.8h0M540.2 66.6h0M551.8 80.3h0M551.8 66.6h0M563.4 39.1h0M480.8 98.5h0M492.0 58.6h0M503.2 58.6h0M514.4 125.0h0M525.6 45.3h0M536.8 85.2h0M548.0 105.1h0M559.2 71.9h0M570.5 111.7h0M581.7 78.5h0M581.7 58.6h0M501.1 154.1h0M511.9 154.1h0M511.9 57.6h0M522.8 121.9h0M522.8 38.3h0M533.7 51.1h0M544.5 115.5h0M544.5 44.7h0M577.1 89.7h0"/></g>
<use href="#q171" transform="translate(-0.38,-0.38)" stroke="#bedaf5" stroke-width="1.38" stroke-opacity="0.85"/>
<g stroke="#5b98d4" stroke-width="3.00"><path id="q172" d="M609.7 102.6h0M551.8 94.0h0M590.4 71.2h0M590.4 48.3h0M505.4 87.2h0M499.1 119.0h0M530.7 62.8h0M609.7 76.9h0M462.6 104.6h0M569.6 88.8h0M596.3 72.9h0M535.2 69.5h0M574.9 66.6h0M457.6 64.0h0M501.1 115.5h0M566.2 64.0h0M476.8 122.3h0M517.7 86.0h0M599.5 110.2h0M493.8 94.0h0M513.1 116.9h0M513.1 71.2h0M571.1 48.3h0M590.4 139.8h0M490.8 90.4h0M545.7 112.1h0M564.0 68.7h0M637.1 47.1h0M488.0 138.6h0M505.4 56.3h0M574.9 118.1h0M535.2 64.6h0M551.8 103.8h0M499.1 109.6h0M530.7 72.2h0M546.5 72.2h0M546.5 53.5h0M562.3 100.3h0M562.3 90.9h0M578.1 90.9h0M625.5 90.9h0M496.4 106.0h0M511.5 79.1h0M526.6 61.2h0M541.7 114.9h0M541.7 97.0h0M571.9 88.1h0M571.9 70.2h0M587.0 70.2h0M493.8 94.0h0M508.3 59.7h0M522.8 85.5h0M551.8 68.3h0M566.2 154.1h0M566.2 85.5h0M566.2 68.3h0M463.7 99.5h0M491.5 74.8h0M491.5 66.6h0M519.3 41.9h0M547.1 83.1h0M574.9 99.5h0M574.9 50.1h0M644.5 74.8h0M658.4 124.2h0M502.7 72.9h0M583.0 88.8h0M663.2 96.7h0M500.3 101.7h0M551.8 55.9h0M564.6 48.3h0M629.0 78.8h0M498.0 106.3h0M510.4 76.9h0M535.2 106.3h0M535.2 98.9h0M547.6 69.5h0M560.0 91.6h0M560.0 84.2h0M572.5 98.9h0M572.5 91.6h0M584.9 62.2h0M634.5 69.5h0M531.8 124.8h0M543.8 82.2h0M555.8 68.0h0M579.7 89.3h0M579.7 75.1h0M591.7 75.1h0M615.7 89.3h0M493.8 114.6h0M505.4 107.8h0M505.4 100.9h0M505.4 66.6h0M528.6 100.9h0M528.6 94.0h0M563.4 114.6h0M563.4 100.9h0M574.9 80.3h0M586.5 73.4h0M598.1 94.0h0M469.5 85.2h0M480.8 85.2h0M514.4 105.1h0M514.4 98.5h0M514.4 91.8h0M525.6 111.7h0M525.6 58.6h0M548.0 118.4h0M548.0 78.5h0M581.7 85.2h0M615.3 52.0h0M501.1 96.2h0M501.1 38.3h0M533.7 141.2h0M566.2 83.3h0M577.1 109.0h0M577.1 70.4h0M485.1 25.0h0M531.5 25.6h0M535.9 25.6h0"/></g>
<use href="#q172" transform="translate(-0.45,-0.45)" stroke="#bedaf5" stroke-width="1.65" stroke-opacity="0.85"/>
<g stroke="#ee8c48" stroke-width="2.50"><path id="q173" d="M467.5 81.6h0M522.8 102.6h0M580.7 85.5h0M493.8 111.2h0M560.0 128.4h0M505.4 46.0h0M579.0 116.2h0M579.0 67.8h0M551.8 71.2h0M509.1 74.2h0M600.6 95.8h0M509.1 122.9h0M582.3 47.1h0M505.4 30.5h0M502.1 118.5h0M502.1 162.7h0M526.6 38.8h0M541.7 106.0h0M587.0 88.1h0M537.3 55.4h0M653.1 124.1h0M537.3 136.9h0M574.9 78.9h0M491.5 83.1h0M505.4 116.0h0M519.3 116.0h0M533.2 124.2h0M547.1 91.3h0M547.1 58.3h0M542.9 100.6h0M583.0 80.8h0M616.1 113.1h0M572.5 51.1h0M560.0 128.4h0M560.0 121.0h0M531.8 107.1h0M579.7 71.6h0M517.0 63.1h0M528.6 80.3h0M503.2 121.7h0M503.2 48.6h0M664.0 25.4h0M696.7 115.3h0"/></g>
<use href="#q173" transform="translate(-0.38,-0.38)" stroke="#fcc9a0" stroke-width="1.38" stroke-opacity="0.85"/>
<g stroke="#ee8c48" stroke-width="3.00"><path id="q174" d="M505.4 76.9h0M528.6 52.9h0M501.1 109.0h0M538.1 122.3h0M579.0 25.4h0M532.5 59.7h0M545.7 117.5h0M514.9 105.0h0M451.7 147.1h0M499.1 72.2h0M587.0 29.9h0M632.4 65.7h0M556.8 79.1h0M493.8 149.8h0M508.3 119.8h0M537.3 51.1h0M566.2 119.8h0M547.1 124.2h0M556.2 112.5h0M526.0 82.6h0M590.4 86.4h0M659.4 21.7h0M498.0 18.0h0M535.2 106.3h0M507.8 85.8h0M495.8 68.0h0M482.2 70.0h0M493.8 90.6h0M540.2 104.3h0M586.5 94.0h0M548.0 121.7h0M533.7 47.9h0M544.5 131.6h0M566.2 112.3h0M588.0 93.0h0M533.7 44.7h0M642.3 25.4h0"/></g>
<use href="#q174" transform="translate(-0.45,-0.45)" stroke="#fcc9a0" stroke-width="1.65" stroke-opacity="0.85"/>
<g stroke="#4da862" stroke-width="2.50"><path id="q175" d="M596.3 57.1h0M584.9 84.2h0M513.1 71.2h0M571.1 59.7h0M648.3 116.9h0M564.0 57.9h0M600.6 57.9h0M673.7 122.9h0M488.0 148.9h0M522.8 35.7h0M592.3 97.5h0M584.9 84.2h0M618.0 74.4h0M546.5 72.2h0M571.9 114.9h0M508.3 102.6h0M533.2 116.0h0M533.2 91.3h0M547.1 107.8h0M547.1 41.9h0M556.2 33.3h0M629.0 55.9h0M522.8 62.2h0M560.0 121.0h0M572.5 54.8h0M603.7 53.8h0M482.2 18.5h0M551.8 80.3h0M609.7 18.5h0M514.4 65.3h0M548.0 105.1h0M533.7 83.3h0M642.3 128.4h0M696.2 64.3h0M783.7 73.1h0"/></g>
<use href="#q175" transform="translate(-0.38,-0.38)" stroke="#a8deb2" stroke-width="1.38" stroke-opacity="0.85"/>
<g stroke="#4da862" stroke-width="3.00"><path id="q176" d="M530.7 44.1h0M584.9 98.9h0M644.5 25.4h0M566.2 25.4h0M493.8 71.2h0M488.0 87.2h0M540.2 66.6h0M568.3 54.8h0M556.8 43.3h0M537.3 42.6h0M547.1 66.6h0M561.0 74.8h0M583.0 65.0h0M526.0 55.9h0M498.0 62.2h0M507.8 18.3h0M519.8 117.7h0M579.7 124.8h0M528.6 121.5h0M540.2 80.3h0M563.4 52.9h0M586.5 114.6h0M592.9 78.5h0M626.5 91.8h0M566.2 102.6h0M598.8 102.6h0M609.9 25.7h0M622.9 25.7h0M641.7 25.5h0M648.5 25.3h0"/></g>
<use href="#q176" transform="translate(-0.45,-0.45)" stroke="#a8deb2" stroke-width="1.65" stroke-opacity="0.85"/>
<g stroke="#e2584a" stroke-width="2.50"><path id="q177" d="M623.1 25.4h0M621.3 25.4h0M472.5 112.1h0M535.2 103.8h0M556.8 38.8h0M516.1 69.0h0M476.0 128.4h0M495.8 53.8h0M737.0 80.2h0M758.5 76.9h0"/></g>
<use href="#q177" transform="translate(-0.38,-0.38)" stroke="#f8a89a" stroke-width="1.38" stroke-opacity="0.85"/>
<g stroke="#e2584a" stroke-width="3.00"><path id="q178" d="M527.4 68.7h0M452.5 128.4h0M546.5 170.5h0M546.5 133.0h0M466.1 155.2h0M617.3 47.8h0M629.0 139.8h0M473.1 84.2h0M540.2 90.6h0M480.8 28.7h0M503.2 25.4h0M581.7 25.4h0M501.1 112.3h0M544.5 60.8h0"/></g>
<use href="#q178" transform="translate(-0.45,-0.45)" stroke="#f8a89a" stroke-width="1.65" stroke-opacity="0.85"/>
<g stroke="#5b98d4" stroke-width="2.50"><path id="q179" d="M566.2 76.9h0M566.2 51.1h0M551.8 71.2h0M505.4 46.0h0M540.2 87.2h0M499.1 62.8h0M625.5 119.0h0M493.8 59.7h0M522.8 111.2h0M516.1 88.8h0M560.0 69.5h0M505.4 162.7h0M456.3 73.8h0M497.2 110.2h0M599.5 98.1h0M532.5 128.4h0M551.8 105.5h0M551.8 48.3h0M571.1 139.8h0M571.1 105.5h0M571.1 59.7h0M490.8 79.6h0M490.8 57.9h0M527.4 101.3h0M505.4 87.2h0M540.2 35.7h0M557.6 97.5h0M574.9 97.5h0M609.7 76.9h0M546.5 100.3h0M562.3 109.6h0M593.9 53.5h0M609.7 147.1h0M556.8 88.1h0M556.8 70.2h0M556.8 43.3h0M571.9 114.9h0M571.9 106.0h0M508.3 111.2h0M522.8 111.2h0M522.8 94.0h0M522.8 25.4h0M537.3 102.6h0M551.8 111.2h0M566.2 102.6h0M566.2 59.7h0M580.7 111.2h0M580.7 59.7h0M505.4 99.5h0M505.4 74.8h0M519.3 99.5h0M519.3 83.1h0M547.1 157.2h0M547.1 124.2h0M547.1 66.6h0M561.0 107.8h0M516.1 128.4h0M516.1 80.8h0M516.1 57.1h0M529.5 80.8h0M542.9 65.0h0M556.2 104.6h0M556.2 80.8h0M569.6 41.2h0M513.1 155.0h0M513.1 78.8h0M538.9 109.3h0M538.9 86.4h0M577.5 71.2h0M522.8 106.3h0M547.6 135.7h0M547.6 98.9h0M547.6 91.6h0M572.5 113.6h0M572.5 76.9h0M572.5 69.5h0M584.9 69.5h0M597.3 84.2h0M483.8 82.2h0M507.8 60.9h0M519.8 117.7h0M519.8 60.9h0M519.8 53.8h0M543.8 68.0h0M555.8 75.1h0M517.0 107.8h0M517.0 100.9h0M517.0 46.0h0M528.6 87.2h0M540.2 100.9h0M540.2 59.7h0M563.4 80.3h0M574.9 87.2h0M574.9 66.6h0M586.5 94.0h0M632.9 128.4h0M469.5 18.8h0M503.2 98.5h0M503.2 91.8h0M514.4 45.3h0M525.6 125.0h0M525.6 52.0h0M548.0 111.7h0M559.2 125.0h0M559.2 111.7h0M570.5 118.4h0M604.1 91.8h0M626.5 32.0h0M490.2 96.2h0M501.1 109.0h0M511.9 102.6h0M522.8 64.0h0M533.7 89.7h0M533.7 83.3h0M533.7 64.0h0M544.5 64.0h0M588.0 64.0h0M679.0 169.4h0"/></g>
<use href="#q179" transform="translate(-0.38,-0.38)" stroke="#bedaf5" stroke-width="1.38" stroke-opacity="0.85"/>
<g stroke="#5b98d4" stroke-width="3.00"><path id="q180" d="M513.1 48.3h0M551.8 116.9h0M540.2 66.6h0M499.1 81.6h0M562.3 81.6h0M551.8 111.2h0M542.9 41.2h0M535.2 54.8h0M584.9 69.5h0M482.2 52.9h0M505.4 66.6h0M522.8 51.1h0M544.5 64.0h0M588.0 76.9h0M476.8 73.8h0M476.8 61.7h0M517.7 37.5h0M579.0 98.1h0M660.8 86.0h0M532.5 48.3h0M551.8 71.2h0M564.0 79.6h0M522.8 118.1h0M540.2 46.0h0M469.0 25.4h0M535.2 94.0h0M535.2 74.4h0M535.2 35.2h0M551.8 64.6h0M568.3 84.2h0M584.9 103.8h0M634.5 15.6h0M499.1 90.9h0M530.7 109.6h0M530.7 100.3h0M496.4 52.3h0M511.5 106.0h0M526.6 106.0h0M571.9 43.3h0M493.8 59.7h0M522.8 136.9h0M522.8 128.4h0M551.8 51.1h0M566.2 76.9h0M595.2 94.0h0M624.2 34.0h0M638.7 85.5h0M505.4 50.1h0M533.2 83.1h0M547.1 107.8h0M547.1 41.9h0M561.0 99.5h0M561.0 83.1h0M574.9 83.1h0M502.7 49.2h0M516.1 112.5h0M529.5 96.7h0M583.0 49.2h0M500.3 109.3h0M500.3 48.3h0M513.1 170.3h0M551.8 71.2h0M564.6 94.0h0M564.6 78.8h0M577.5 94.0h0M590.4 78.8h0M603.3 48.3h0M629.0 94.0h0M510.4 62.2h0M535.2 157.8h0M535.2 76.9h0M584.9 98.9h0M646.9 25.4h0M495.8 103.5h0M531.8 110.6h0M531.8 103.5h0M531.8 89.3h0M531.8 46.7h0M567.7 68.0h0M567.7 39.6h0M579.7 82.2h0M591.7 46.7h0M603.7 110.6h0M493.8 73.4h0M493.8 66.6h0M517.0 80.3h0M528.6 46.0h0M540.2 94.0h0M540.2 87.2h0M540.2 46.0h0M551.8 59.7h0M563.4 94.0h0M574.9 100.9h0M598.1 100.9h0M644.5 94.0h0M469.5 98.5h0M469.5 71.9h0M492.0 71.9h0M503.2 85.2h0M503.2 78.5h0M503.2 52.0h0M536.8 45.3h0M548.0 58.6h0M570.5 91.8h0M570.5 78.5h0M468.5 83.3h0M511.9 76.9h0M511.9 51.1h0M533.7 96.2h0M555.4 96.2h0M555.4 51.1h0M555.4 44.7h0M566.2 115.5h0M566.2 89.7h0M577.1 96.2h0M620.6 76.9h0M492.4 25.6h0M495.9 25.6h0M517.6 25.5h0M524.8 25.2h0"/></g>
<use href="#q180" transform="translate(-0.45,-0.45)" stroke="#bedaf5" stroke-width="1.65" stroke-opacity="0.85"/>
<g stroke="#ee8c48" stroke-width="2.50"><path id="q181" d="M590.4 94.0h0M629.0 48.3h0M562.3 44.1h0M593.9 25.4h0M638.7 34.0h0M542.9 88.8h0M566.2 121.9h0M558.6 67.8h0M629.0 25.4h0M490.8 106.7h0M545.7 63.3h0M505.4 112.9h0M505.4 82.0h0M522.8 133.5h0M568.3 148.0h0M518.7 94.0h0M467.5 30.1h0M593.9 20.7h0M562.3 100.3h0M562.3 62.8h0M522.8 46.8h0M566.2 106.9h0M667.6 76.9h0M519.3 107.8h0M542.9 124.4h0M556.2 116.5h0M583.0 116.5h0M529.5 65.0h0M538.9 90.2h0M538.9 44.5h0M603.3 94.0h0M498.0 121.0h0M567.7 71.6h0M579.7 64.5h0M591.7 89.3h0M470.7 173.0h0M574.9 118.1h0M503.2 75.2h0M570.5 121.7h0M514.4 78.5h0M548.0 91.8h0M548.0 52.0h0M581.7 145.0h0M479.3 112.3h0M490.2 86.5h0M501.1 80.1h0M555.4 109.0h0"/></g>
<use href="#q181" transform="translate(-0.38,-0.38)" stroke="#fcc9a0" stroke-width="1.38" stroke-opacity="0.85"/>
<g stroke="#ee8c48" stroke-width="3.00"><path id="q182" d="M493.8 154.1h0M580.7 111.2h0M621.3 18.5h0M501.1 115.5h0M558.6 116.2h0M538.1 110.2h0M618.8 144.6h0M530.7 100.3h0M493.8 55.4h0M508.3 25.4h0M551.8 68.3h0M477.6 83.1h0M491.5 132.5h0M569.6 45.2h0M529.5 120.4h0M564.6 21.6h0M500.3 78.8h0M513.1 86.4h0M572.5 102.6h0M609.7 95.3h0M547.6 40.1h0M507.8 107.1h0M543.8 71.6h0M543.8 29.0h0M663.6 18.3h0M493.8 94.0h0M517.0 128.4h0M525.6 68.6h0M577.1 51.1h0M653.1 31.8h0"/></g>
<use href="#q182" transform="translate(-0.45,-0.45)" stroke="#fcc9a0" stroke-width="1.65" stroke-opacity="0.85"/>
<g stroke="#ee8c48" stroke-width="3.50"><path id="q183" d="M716.3 179.4h0"/></g>
<use href="#q183" transform="translate(-0.53,-0.53)" stroke="#fcc9a0" stroke-width="1.93" stroke-opacity="0.85"/>
<g stroke="#4da862" stroke-width="2.50"><path id="q184" d="M644.5 94.0h0M517.7 86.0h0M513.1 105.5h0M609.7 25.4h0M509.1 101.3h0M530.7 25.4h0M587.0 106.0h0M516.1 96.7h0M516.1 57.1h0M529.5 65.0h0M596.3 72.9h0M623.1 112.5h0M547.6 40.1h0M622.1 69.5h0M634.5 76.9h0M548.0 65.3h0M604.1 71.9h0M501.1 76.9h0M620.6 89.7h0M696.7 205.4h0"/></g>
<use href="#q184" transform="translate(-0.38,-0.38)" stroke="#a8deb2" stroke-width="1.38" stroke-opacity="0.85"/>
<g stroke="#4da862" stroke-width="3.00"><path id="q185" d="M596.3 72.9h0M649.8 88.8h0M560.0 69.5h0M558.6 49.6h0M488.0 76.9h0M634.5 143.1h0M530.7 53.5h0M562.3 90.9h0M578.1 72.2h0M561.0 50.1h0M489.4 17.5h0M569.6 57.1h0M569.6 49.2h0M623.1 80.8h0M616.1 132.2h0M629.0 147.4h0M535.2 18.0h0M495.8 75.1h0M507.8 89.3h0M567.7 82.2h0M663.6 75.1h0M609.7 87.2h0M525.6 105.1h0M559.2 65.3h0M511.9 70.4h0M588.0 115.5h0M598.8 19.0h0M642.3 115.5h0M664.0 25.4h0M770.6 185.8h0M603.4 25.0h0"/></g>
<use href="#q185" transform="translate(-0.45,-0.45)" stroke="#a8deb2" stroke-width="1.65" stroke-opacity="0.85"/>
<g stroke="#e2584a" stroke-width="2.50"><path id="q186" d="M479.3 141.2h0M580.7 76.9h0M619.9 134.4h0M490.8 90.4h0M557.6 102.6h0M627.1 30.5h0M574.9 25.4h0M546.5 81.6h0M556.8 114.9h0M556.2 104.6h0M500.3 17.8h0M447.1 161.6h0M492.0 81.9h0M598.8 86.5h0"/></g>
<use href="#q186" transform="translate(-0.38,-0.38)" stroke="#f8a89a" stroke-width="1.38" stroke-opacity="0.85"/>
<g stroke="#e2584a" stroke-width="3.00"><path id="q187" d="M493.8 54.0h0M540.2 112.9h0M578.1 100.3h0M541.7 56.7h0M624.2 64.0h0M526.0 55.9h0M641.9 86.4h0M482.2 128.4h0M457.6 125.1h0M577.1 22.2h0M642.3 99.4h0"/></g>
<use href="#q187" transform="translate(-0.45,-0.45)" stroke="#f8a89a" stroke-width="1.65" stroke-opacity="0.85"/>
<g stroke="#5b98d4" stroke-width="2.50"><path id="q188" d="M522.8 76.9h0M522.8 51.1h0M566.2 102.6h0M609.7 25.4h0M574.9 66.6h0M562.3 62.8h0M522.8 59.7h0M462.6 88.8h0M516.1 120.4h0M542.9 120.4h0M560.0 113.6h0M560.0 84.2h0M584.9 84.2h0M505.4 80.3h0M574.9 94.0h0M574.9 80.3h0M598.1 66.6h0M501.1 89.7h0M544.5 102.6h0M497.2 73.8h0M517.7 98.1h0M579.0 158.6h0M579.0 86.0h0M513.1 105.5h0M513.1 59.7h0M509.1 68.7h0M545.7 68.7h0M582.3 101.3h0M582.3 90.4h0M488.0 87.2h0M505.4 107.8h0M522.8 107.8h0M522.8 97.5h0M557.6 46.0h0M592.3 66.6h0M518.7 25.4h0M535.2 103.8h0M535.2 45.0h0M535.2 25.4h0M551.8 94.0h0M551.8 84.2h0M568.3 123.4h0M584.9 113.6h0M584.9 74.4h0M601.4 74.4h0M514.9 119.0h0M514.9 90.9h0M530.7 119.0h0M530.7 81.6h0M546.5 109.6h0M562.3 156.4h0M562.3 119.0h0M562.3 44.1h0M496.4 79.1h0M526.6 79.1h0M541.7 79.1h0M541.7 70.2h0M556.8 61.2h0M571.9 97.0h0M571.9 52.3h0M493.8 162.7h0M493.8 85.5h0M508.3 68.3h0M522.8 68.3h0M551.8 102.6h0M551.8 76.9h0M566.2 119.8h0M477.6 83.1h0M505.4 66.6h0M533.2 91.3h0M588.8 83.1h0M588.8 74.8h0M588.8 25.4h0M516.1 96.7h0M516.1 49.2h0M529.5 104.6h0M529.5 33.3h0M556.2 33.3h0M569.6 88.8h0M569.6 49.2h0M583.0 104.6h0M500.3 78.8h0M551.8 116.9h0M551.8 78.8h0M564.6 116.9h0M564.6 109.3h0M564.6 86.4h0M577.5 101.7h0M603.3 86.4h0M603.3 55.9h0M498.0 40.1h0M510.4 69.5h0M510.4 54.8h0M522.8 54.8h0M535.2 121.0h0M560.0 98.9h0M560.0 62.2h0M572.5 106.3h0M572.5 84.2h0M584.9 76.9h0M609.7 91.6h0M622.1 98.9h0M659.4 76.9h0M471.9 39.6h0M507.8 96.4h0M507.8 82.2h0M519.8 103.5h0M519.8 68.0h0M519.8 32.5h0M531.8 96.4h0M543.8 117.7h0M555.8 96.4h0M555.8 82.2h0M567.7 96.4h0M627.7 25.4h0M493.8 59.7h0M528.6 66.6h0M528.6 25.4h0M540.2 121.5h0M551.8 107.8h0M551.8 87.2h0M551.8 46.0h0M563.4 73.4h0M586.5 100.9h0M492.0 91.8h0M503.2 131.7h0M503.2 65.3h0M514.4 111.7h0M514.4 65.3h0M514.4 52.0h0M525.6 131.7h0M525.6 105.1h0M525.6 32.0h0M548.0 125.0h0M559.2 91.8h0M581.7 105.1h0M604.1 65.3h0M468.5 141.2h0M479.3 57.6h0M490.2 64.0h0M501.1 89.7h0M522.8 57.6h0M522.8 31.8h0M533.7 102.6h0M533.7 31.8h0M544.5 121.9h0M555.4 70.4h0M754.7 8.1h0M650.0 167.6h0"/></g>
<use href="#q188" transform="translate(-0.38,-0.38)" stroke="#bedaf5" stroke-width="1.38" stroke-opacity="0.85"/>
<g stroke="#5b98d4" stroke-width="3.00"><path id="q189" d="M540.2 46.0h0M562.3 100.3h0M551.8 94.0h0M551.8 42.6h0M580.7 94.0h0M580.7 76.9h0M569.6 104.6h0M510.4 69.5h0M535.2 113.6h0M584.9 98.9h0M528.6 107.8h0M551.8 107.8h0M598.1 80.3h0M501.1 51.1h0M522.8 89.7h0M566.2 76.9h0M588.0 102.6h0M588.0 25.4h0M517.7 61.7h0M640.4 86.0h0M474.5 48.3h0M532.5 82.6h0M490.8 68.7h0M470.7 66.6h0M488.0 56.3h0M540.2 97.5h0M574.9 76.9h0M592.3 56.3h0M518.7 74.4h0M551.8 74.4h0M551.8 54.8h0M568.3 103.8h0M568.3 94.0h0M568.3 74.4h0M499.1 62.8h0M499.1 53.5h0M593.9 90.9h0M481.2 106.0h0M496.4 61.2h0M511.5 61.2h0M526.6 97.0h0M541.7 132.8h0M541.7 106.0h0M556.8 52.3h0M508.3 94.0h0M522.8 51.1h0M551.8 94.0h0M551.8 59.7h0M566.2 51.1h0M580.7 94.0h0M609.7 85.5h0M491.5 91.3h0M519.3 116.0h0M533.2 99.5h0M533.2 58.3h0M547.1 116.0h0M547.1 74.8h0M561.0 116.0h0M561.0 91.3h0M561.0 58.3h0M574.9 74.8h0M602.7 83.1h0M502.7 80.8h0M502.7 57.1h0M516.1 104.6h0M529.5 128.4h0M529.5 88.8h0M529.5 65.0h0M542.9 120.4h0M542.9 104.6h0M556.2 88.8h0M569.6 80.8h0M569.6 72.9h0M583.0 80.8h0M623.1 33.3h0M500.3 116.9h0M500.3 86.4h0M500.3 63.5h0M526.0 94.0h0M551.8 86.4h0M603.3 101.7h0M616.1 63.5h0M448.3 150.4h0M485.6 54.8h0M510.4 106.3h0M535.2 54.8h0M547.6 84.2h0M560.0 113.6h0M471.9 89.3h0M483.8 103.5h0M495.8 82.2h0M519.8 82.2h0M519.8 46.7h0M531.8 82.2h0M531.8 60.9h0M543.8 124.8h0M543.8 110.6h0M543.8 75.1h0M555.8 53.8h0M555.8 46.7h0M627.7 75.1h0M505.4 114.6h0M517.0 39.1h0M528.6 128.4h0M528.6 80.3h0M540.2 52.9h0M574.9 52.9h0M574.9 25.4h0M609.7 18.5h0M447.1 145.0h0M492.0 111.7h0M514.4 85.2h0M514.4 58.6h0M525.6 118.4h0M536.8 105.1h0M536.8 98.5h0M548.0 98.5h0M548.0 85.2h0M548.0 45.3h0M559.2 65.3h0M592.9 58.6h0M626.5 98.5h0M511.9 70.4h0M533.7 57.6h0M544.5 128.4h0M544.5 96.2h0M555.4 102.6h0M566.2 102.6h0M566.2 51.1h0M577.1 64.0h0M588.0 89.7h0M588.0 76.9h0M598.8 64.0h0M509.7 25.5h0M542.6 25.5h0"/></g>
<use href="#q189" transform="translate(-0.45,-0.45)" stroke="#bedaf5" stroke-width="1.65" stroke-opacity="0.85"/>
<g stroke="#ee8c48" stroke-width="2.50"><path id="q190" d="M522.8 89.7h0M470.7 107.8h0M499.1 81.6h0M562.3 25.4h0M522.8 121.9h0M551.8 116.9h0M590.4 82.6h0M545.7 106.7h0M490.8 90.4h0M527.4 79.6h0M522.8 123.2h0M488.0 138.6h0M467.5 20.7h0M514.9 109.6h0M530.7 109.6h0M578.1 100.3h0M496.4 83.6h0M511.5 101.5h0M511.5 106.0h0M537.3 132.6h0M533.2 120.1h0M547.1 62.5h0M463.7 74.8h0M630.6 66.6h0M489.4 108.6h0M502.7 100.6h0M542.9 136.3h0M487.4 82.6h0M551.8 63.5h0M522.8 87.9h0M522.8 73.2h0M547.6 65.8h0M535.2 91.6h0M507.8 50.2h0M543.8 124.8h0M528.6 70.0h0M517.0 107.8h0M621.3 128.4h0M548.0 48.6h0M480.8 65.3h0M514.4 25.4h0M559.2 71.9h0M501.1 89.7h0M544.5 102.6h0M658.8 165.1h0M708.8 165.1h0"/></g>
<use href="#q190" transform="translate(-0.38,-0.38)" stroke="#fcc9a0" stroke-width="1.38" stroke-opacity="0.85"/>
<g stroke="#ee8c48" stroke-width="3.00"><path id="q191" d="M540.2 66.6h0M562.3 128.4h0M562.3 109.6h0M584.9 91.6h0M584.9 25.4h0M574.9 46.0h0M574.9 94.0h0M544.5 51.1h0M497.2 116.2h0M517.7 86.0h0M558.6 158.6h0M490.8 85.0h0M592.3 102.6h0M526.6 119.4h0M602.1 137.3h0M566.2 111.2h0M533.2 103.6h0M491.5 66.6h0M542.9 88.8h0M526.0 21.6h0M535.2 87.9h0M560.0 124.7h0M471.9 99.9h0M591.7 135.5h0M528.6 104.3h0M551.8 104.3h0M505.4 18.5h0M514.4 154.9h0M559.2 101.8h0M492.0 78.5h0M536.8 151.6h0M536.8 65.3h0M566.2 28.6h0M577.1 60.8h0M631.4 144.4h0"/></g>
<use href="#q191" transform="translate(-0.45,-0.45)" stroke="#fcc9a0" stroke-width="1.65" stroke-opacity="0.85"/>
<g stroke="#4da862" stroke-width="2.50"><path id="q192" d="M513.1 71.2h0M629.0 71.2h0M562.3 119.0h0M538.1 122.3h0M490.8 122.9h0M522.8 66.6h0M540.2 118.1h0M557.6 46.0h0M502.1 54.8h0M518.7 152.9h0M651.1 25.4h0M530.7 62.8h0M562.3 109.6h0M562.3 44.1h0M578.1 44.1h0M609.7 51.1h0M638.7 68.3h0M491.5 58.3h0M616.7 132.5h0M616.7 83.1h0M644.5 116.0h0M516.1 49.2h0M498.0 76.9h0M531.8 89.3h0M551.8 59.7h0M586.5 18.5h0M644.5 128.4h0M492.0 52.0h0M548.0 18.8h0M581.7 52.0h0M511.9 76.9h0M533.7 141.2h0M533.7 89.7h0M566.2 128.4h0M660.0 90.0h0"/></g>
<use href="#q192" transform="translate(-0.38,-0.38)" stroke="#a8deb2" stroke-width="1.38" stroke-opacity="0.85"/>
<g stroke="#4da862" stroke-width="3.00"><path id="q193" d="M566.2 64.0h0M648.3 71.2h0M522.8 25.4h0M644.5 56.3h0M518.7 94.0h0M499.1 119.0h0M514.9 62.8h0M580.7 102.6h0M547.1 165.4h0M547.1 99.5h0M547.1 91.3h0M574.9 132.5h0M630.6 74.8h0M636.4 96.7h0M577.5 40.7h0M519.8 46.7h0M543.8 46.7h0M615.7 82.2h0M482.2 135.2h0M528.6 39.1h0M574.9 100.9h0M598.1 94.0h0M621.3 25.4h0M525.6 58.6h0M581.7 58.6h0M648.9 78.5h0M501.1 128.4h0M555.4 89.7h0M631.4 25.4h0"/></g>
<use href="#q193" transform="translate(-0.45,-0.45)" stroke="#a8deb2" stroke-width="1.65" stroke-opacity="0.85"/>
<g stroke="#e2584a" stroke-width="2.50"><path id="q194" d="M540.2 66.6h0M460.7 179.8h0M513.1 116.9h0M527.4 101.3h0M529.5 61.0h0M583.0 49.2h0M555.8 128.4h0M592.9 28.7h0M631.4 105.8h0"/></g>
<use href="#q194" transform="translate(-0.38,-0.38)" stroke="#f8a89a" stroke-width="1.38" stroke-opacity="0.85"/>
<g stroke="#e2584a" stroke-width="3.00"><path id="q195" d="M505.4 30.5h0M530.7 90.9h0M463.7 62.5h0M491.5 21.3h0M663.2 25.4h0M564.6 29.2h0M551.8 114.6h0M637.7 35.4h0M626.5 52.0h0M490.2 28.6h0M566.2 128.4h0M598.8 19.0h0"/></g>
<use href="#q195" transform="translate(-0.45,-0.45)" stroke="#f8a89a" stroke-width="1.65" stroke-opacity="0.85"/>
<g stroke="#5b98d4" stroke-width="2.50"><path id="q196" d="M530.7 44.1h0M493.8 76.9h0M522.8 94.0h0M522.8 76.9h0M551.8 76.9h0M489.4 72.9h0M569.6 72.9h0M510.4 84.2h0M535.2 98.9h0M609.7 98.9h0M528.6 80.3h0M551.8 39.1h0M574.9 107.8h0M522.8 115.5h0M544.5 89.7h0M538.1 110.2h0M538.1 61.7h0M579.0 37.5h0M493.8 59.7h0M551.8 59.7h0M571.1 71.2h0M490.8 101.3h0M527.4 112.1h0M527.4 90.4h0M488.0 66.6h0M522.8 66.6h0M540.2 87.2h0M557.6 87.2h0M644.5 66.6h0M485.6 94.0h0M518.7 54.8h0M535.2 123.4h0M535.2 113.6h0M499.1 72.2h0M514.9 81.6h0M562.3 62.8h0M481.2 79.1h0M481.2 70.2h0M526.6 150.7h0M587.0 150.7h0M479.3 76.9h0M493.8 68.3h0M493.8 42.6h0M566.2 42.6h0M580.7 119.8h0M580.7 85.5h0M505.4 83.1h0M519.3 58.3h0M533.2 66.6h0M561.0 66.6h0M630.6 107.8h0M529.5 120.4h0M542.9 57.1h0M556.2 112.5h0M569.6 112.5h0M596.3 104.6h0M596.3 80.8h0M636.4 80.8h0M487.4 101.7h0M487.4 94.0h0M513.1 63.5h0M526.0 124.5h0M538.9 78.8h0M551.8 170.3h0M551.8 94.0h0M577.5 109.3h0M577.5 40.7h0M485.6 76.9h0M485.6 62.2h0M498.0 69.5h0M510.4 128.4h0M510.4 98.9h0M522.8 91.6h0M522.8 84.2h0M522.8 47.5h0M535.2 62.2h0M547.6 106.3h0M560.0 106.3h0M597.3 76.9h0M622.1 84.2h0M634.5 143.1h0M483.8 60.9h0M495.8 89.3h0M495.8 75.1h0M507.8 110.6h0M507.8 75.1h0M531.8 68.0h0M543.8 46.7h0M555.8 103.5h0M567.7 82.2h0M493.8 128.4h0M517.0 87.2h0M517.0 32.3h0M540.2 80.3h0M551.8 121.5h0M503.2 111.7h0M503.2 105.1h0M525.6 85.2h0M525.6 65.3h0M536.8 118.4h0M536.8 91.8h0M536.8 52.0h0M548.0 52.0h0M559.2 105.1h0M570.5 71.9h0M570.5 65.3h0M570.5 52.0h0M581.7 65.3h0M592.9 78.5h0M592.9 65.3h0M660.2 25.4h0M501.1 83.3h0M522.8 128.4h0M533.7 109.0h0M544.5 102.6h0M555.4 121.9h0M555.4 115.5h0M555.4 76.9h0M577.1 102.6h0M588.0 57.6h0M620.6 64.0h0M783.7 25.2h0M713.8 148.7h0M667.7 162.3h0M634.4 172.6h0M652.0 130.0h0"/></g>
<use href="#q196" transform="translate(-0.38,-0.38)" stroke="#bedaf5" stroke-width="1.38" stroke-opacity="0.85"/>
<g stroke="#5b98d4" stroke-width="3.00"><path id="q197" d="M513.1 94.0h0M551.8 48.3h0M569.6 41.2h0M460.7 54.8h0M485.6 54.8h0M510.4 40.1h0M609.7 128.4h0M505.4 94.0h0M528.6 94.0h0M528.6 66.6h0M551.8 94.0h0M551.8 66.6h0M522.8 102.6h0M522.8 76.9h0M566.2 115.5h0M566.2 51.1h0M497.2 37.5h0M538.1 49.6h0M558.6 37.5h0M513.1 139.8h0M509.1 57.9h0M527.4 68.7h0M545.7 57.9h0M564.0 57.9h0M505.4 76.9h0M505.4 46.0h0M522.8 76.9h0M540.2 107.8h0M557.6 107.8h0M574.9 107.8h0M452.5 15.6h0M485.6 64.6h0M518.7 113.6h0M518.7 64.6h0M601.4 94.0h0M514.9 72.2h0M514.9 62.8h0M530.7 90.9h0M546.5 34.8h0M578.1 81.6h0M511.5 88.1h0M556.8 97.0h0M571.9 79.1h0M537.3 85.5h0M537.3 51.1h0M595.2 111.2h0M477.6 66.6h0M491.5 99.5h0M505.4 91.3h0M547.1 50.1h0M588.8 116.0h0M658.4 17.2h0M489.4 104.6h0M489.4 49.2h0M516.1 72.9h0M516.1 65.0h0M529.5 112.5h0M542.9 80.8h0M569.6 120.4h0M583.0 96.7h0M609.7 33.3h0M487.4 78.8h0M500.3 71.2h0M526.0 71.2h0M526.0 48.3h0M538.9 94.0h0M538.9 71.2h0M590.4 86.4h0M460.7 69.5h0M510.4 121.0h0M522.8 69.5h0M535.2 40.1h0M547.6 121.0h0M547.6 76.9h0M547.6 40.1h0M584.9 91.6h0M634.5 128.4h0M471.9 117.7h0M495.8 110.6h0M495.8 60.9h0M519.8 96.4h0M519.8 89.3h0M543.8 53.8h0M579.7 39.6h0M505.4 73.4h0M517.0 73.4h0M540.2 73.4h0M551.8 73.4h0M563.4 66.6h0M574.9 94.0h0M598.1 80.3h0M644.5 73.4h0M644.5 59.7h0M492.0 98.5h0M525.6 91.8h0M525.6 78.5h0M536.8 71.9h0M548.0 158.2h0M559.2 78.5h0M559.2 45.3h0M570.5 105.1h0M479.3 109.0h0M490.2 76.9h0M501.1 179.8h0M501.1 51.1h0M511.9 109.0h0M511.9 96.2h0M522.8 102.6h0M533.7 115.5h0M533.7 70.4h0M544.5 57.6h0M544.5 25.4h0M555.4 89.7h0M555.4 64.0h0M555.4 57.6h0M566.2 128.4h0M566.2 109.0h0M566.2 96.2h0M566.2 64.0h0M566.2 44.7h0M577.1 76.9h0M588.0 141.2h0M506.9 25.2h0M513.9 25.0h0M521.2 25.3h0M528.6 25.5h0"/></g>
<use href="#q197" transform="translate(-0.45,-0.45)" stroke="#bedaf5" stroke-width="1.65" stroke-opacity="0.85"/>
<g stroke="#ee8c48" stroke-width="2.50"><path id="q198" d="M574.9 118.1h0M467.5 128.4h0M530.7 90.9h0M516.1 104.6h0M538.1 92.0h0M558.6 55.7h0M522.8 35.7h0M574.9 107.8h0M584.9 108.7h0M530.7 105.0h0M522.8 85.5h0M569.6 61.0h0M529.5 41.2h0M623.1 104.6h0M513.1 97.8h0M538.9 143.6h0M551.8 75.0h0M513.1 25.4h0M646.9 102.6h0M597.3 69.5h0M634.5 18.0h0M519.8 124.8h0M531.8 68.0h0M555.8 124.8h0M551.8 138.6h0M548.0 88.5h0M570.5 101.8h0M503.2 91.8h0M525.6 118.4h0M522.8 41.5h0M555.4 105.8h0M555.4 54.4h0M544.5 115.5h0"/></g>
<use href="#q198" transform="translate(-0.38,-0.38)" stroke="#fcc9a0" stroke-width="1.38" stroke-opacity="0.85"/>
<g stroke="#ee8c48" stroke-width="3.00"><path id="q199" d="M522.8 68.3h0M558.6 79.9h0M456.3 146.5h0M538.1 98.1h0M640.4 25.4h0M513.1 99.8h0M571.1 88.3h0M545.7 20.0h0M545.7 112.1h0M574.9 71.7h0M502.1 108.7h0M578.1 109.6h0M541.7 38.8h0M587.0 119.4h0M537.3 98.3h0M522.8 59.7h0M561.0 116.0h0M561.0 50.1h0M529.5 100.6h0M556.2 53.1h0M551.8 136.0h0M551.8 29.2h0M564.6 90.2h0M577.5 67.3h0M590.4 67.3h0M500.3 124.5h0M547.6 58.5h0M560.0 132.0h0M646.9 87.9h0M498.0 84.2h0M495.8 82.2h0M555.8 89.3h0M528.6 42.6h0M609.7 28.8h0M493.8 59.7h0M503.2 61.9h0M536.8 28.7h0M570.5 61.9h0M570.5 28.7h0M522.8 73.7h0M555.4 60.8h0M555.4 64.0h0M598.8 70.4h0"/></g>
<use href="#q199" transform="translate(-0.45,-0.45)" stroke="#fcc9a0" stroke-width="1.65" stroke-opacity="0.85"/>
<g stroke="#4da862" stroke-width="2.50"><path id="q200" d="M516.1 136.3h0M551.8 66.6h0M522.8 102.6h0M544.5 64.0h0M582.3 90.4h0M535.2 45.0h0M530.7 72.2h0M546.5 90.9h0M641.3 137.7h0M632.4 25.4h0M493.8 111.2h0M551.8 59.7h0M624.2 16.8h0M533.2 58.3h0M516.1 41.2h0M556.2 72.9h0M569.6 65.0h0M583.0 96.7h0M663.2 17.5h0M526.0 109.3h0M526.0 94.0h0M538.9 86.4h0M641.9 94.0h0M535.2 84.2h0M634.5 135.7h0M495.8 18.3h0M555.8 53.8h0M574.9 73.4h0M621.3 80.3h0M559.2 85.2h0M648.9 58.6h0M660.2 52.0h0M620.6 25.4h0M642.3 109.0h0M676.5 40.9h0M679.0 66.1h0M679.0 128.2h0"/></g>
<use href="#q200" transform="translate(-0.38,-0.38)" stroke="#a8deb2" stroke-width="1.38" stroke-opacity="0.85"/>
<g stroke="#4da862" stroke-width="3.00"><path id="q201" d="M516.1 72.9h0M649.8 104.6h0M482.2 25.4h0M509.1 79.6h0M483.3 62.8h0M522.8 85.5h0M580.7 51.1h0M630.6 91.3h0M596.3 104.6h0M487.4 101.7h0M547.6 62.2h0M560.0 62.2h0M609.7 128.4h0M622.1 157.8h0M622.1 113.6h0M659.4 54.8h0M519.8 18.3h0M555.8 103.5h0M517.0 135.2h0M503.2 65.3h0M548.0 118.4h0M548.0 78.5h0M570.5 38.7h0M544.5 25.4h0M620.6 83.3h0M620.6 64.0h0M589.5 25.1h0M629.0 25.5h0M635.8 24.9h0"/></g>
<use href="#q201" transform="translate(-0.45,-0.45)" stroke="#a8deb2" stroke-width="1.65" stroke-opacity="0.85"/>
<g stroke="#e2584a" stroke-width="2.50"><path id="q202" d="M505.4 35.7h0M464.9 102.6h0M485.6 54.8h0M455.2 185.5h0M551.8 128.4h0M505.4 102.6h0M647.5 110.4h0M551.8 21.1h0M551.8 59.7h0M653.1 128.4h0M564.6 59.7h0M519.8 178.1h0M632.9 111.2h0M690.4 53.0h0"/></g>
<use href="#q202" transform="translate(-0.38,-0.38)" stroke="#f8a89a" stroke-width="1.38" stroke-opacity="0.85"/>
<g stroke="#e2584a" stroke-width="3.00"><path id="q203" d="M542.9 104.6h0M551.8 66.6h0M582.3 79.6h0M551.8 103.8h0M481.2 159.7h0M508.3 111.2h0M577.5 25.4h0M517.0 107.8h0M544.5 121.9h0M555.4 96.2h0"/></g>
<use href="#q203" transform="translate(-0.45,-0.45)" stroke="#f8a89a" stroke-width="1.65" stroke-opacity="0.85"/>
<g stroke="#5b98d4" stroke-width="2.50"><path id="q204" d="M470.7 66.6h0M540.2 107.8h0M530.7 81.6h0M593.9 100.3h0M638.7 42.6h0M489.4 104.6h0M542.9 88.8h0M569.6 57.1h0M485.6 69.5h0M510.4 98.9h0M560.0 98.9h0M560.0 54.8h0M598.1 94.0h0M522.8 64.0h0M566.2 89.7h0M538.1 98.1h0M538.1 86.0h0M599.5 86.0h0M619.9 73.8h0M493.8 48.3h0M532.5 116.9h0M532.5 105.5h0M532.5 71.2h0M532.5 59.7h0M551.8 82.6h0M648.3 151.2h0M509.1 79.6h0M527.4 47.1h0M564.0 90.4h0M582.3 57.9h0M522.8 87.2h0M522.8 46.0h0M540.2 66.6h0M557.6 76.9h0M502.1 103.8h0M502.1 74.4h0M502.1 54.8h0M518.7 133.3h0M535.2 54.8h0M584.9 84.2h0M618.0 84.2h0M651.1 103.8h0M499.1 81.6h0M514.9 16.0h0M562.3 81.6h0M593.9 62.8h0M481.2 97.0h0M511.5 97.0h0M511.5 52.3h0M526.6 43.3h0M541.7 88.1h0M541.7 61.2h0M541.7 52.3h0M556.8 79.1h0M587.0 25.4h0M522.8 34.0h0M537.3 111.2h0M537.3 94.0h0M537.3 76.9h0M580.7 102.6h0M580.7 68.3h0M638.7 76.9h0M638.7 42.6h0M477.6 99.5h0M519.3 74.8h0M533.2 107.8h0M561.0 50.1h0M574.9 116.0h0M574.9 66.6h0M574.9 25.4h0M588.8 66.6h0M502.7 96.7h0M502.7 88.8h0M516.1 88.8h0M516.1 33.3h0M542.9 17.5h0M556.2 120.4h0M556.2 57.1h0M596.3 57.1h0M487.4 71.2h0M513.1 86.4h0M526.0 78.8h0M551.8 109.3h0M577.5 55.9h0M641.9 78.8h0M498.0 76.9h0M535.2 113.6h0M547.6 62.2h0M597.3 54.8h0M483.8 117.7h0M495.8 96.4h0M507.8 89.3h0M519.8 110.6h0M531.8 75.1h0M543.8 96.4h0M543.8 89.3h0M555.8 110.6h0M567.7 110.6h0M567.7 103.5h0M579.7 53.8h0M591.7 103.5h0M493.8 142.1h0M493.8 121.5h0M505.4 80.3h0M517.0 94.0h0M517.0 66.6h0M528.6 114.6h0M551.8 52.9h0M563.4 87.2h0M586.5 80.3h0M632.9 155.8h0M514.4 32.0h0M525.6 138.3h0M525.6 98.5h0M536.8 78.5h0M548.0 91.8h0M548.0 65.3h0M559.2 118.4h0M559.2 98.5h0M559.2 85.2h0M559.2 52.0h0M570.5 58.6h0M581.7 71.9h0M604.1 38.7h0M490.2 83.3h0M501.1 44.7h0M511.9 25.4h0M522.8 70.4h0M522.8 51.1h0M533.7 121.9h0M544.5 83.3h0M544.5 76.9h0M544.5 70.4h0M566.2 76.9h0M566.2 70.4h0M588.0 102.6h0M653.1 19.0h0M621.8 175.7h0"/></g>
<use href="#q204" transform="translate(-0.38,-0.38)" stroke="#bedaf5" stroke-width="1.38" stroke-opacity="0.85"/>
<g stroke="#5b98d4" stroke-width="3.00"><path id="q205" d="M513.1 71.2h0M574.9 87.2h0M580.7 59.7h0M516.1 57.1h0M542.9 72.9h0M535.2 84.2h0M482.2 80.3h0M551.8 80.3h0M501.1 64.0h0M588.0 51.1h0M497.2 158.6h0M497.2 86.0h0M558.6 122.3h0M558.6 110.2h0M558.6 98.1h0M558.6 86.0h0M474.5 25.4h0M513.1 94.0h0M571.1 94.0h0M609.7 128.4h0M509.1 112.1h0M509.1 101.3h0M527.4 79.6h0M545.7 101.3h0M564.0 101.3h0M582.3 79.6h0M592.3 118.1h0M609.7 97.5h0M485.6 103.8h0M485.6 74.4h0M502.1 94.0h0M584.9 64.6h0M634.5 74.4h0M483.3 90.9h0M514.9 109.6h0M514.9 44.1h0M530.7 62.8h0M546.5 81.6h0M546.5 62.8h0M562.3 53.5h0M609.7 90.9h0M625.5 53.5h0M466.1 79.1h0M496.4 70.2h0M511.5 70.2h0M587.0 106.0h0M617.3 123.9h0M632.4 88.1h0M522.8 42.6h0M580.7 76.9h0M547.1 99.5h0M588.8 107.8h0M502.7 120.4h0M542.9 96.7h0M542.9 88.8h0M542.9 72.9h0M569.6 96.7h0M663.2 17.5h0M500.3 94.0h0M513.1 101.7h0M526.0 116.9h0M526.0 101.7h0M538.9 25.4h0M577.5 86.4h0M577.5 63.5h0M616.1 109.3h0M498.0 91.6h0M498.0 47.5h0M522.8 76.9h0M522.8 40.1h0M535.2 84.2h0M535.2 69.5h0M560.0 47.5h0M572.5 54.8h0M584.9 84.2h0M483.8 18.3h0M555.8 89.3h0M555.8 60.9h0M567.7 75.1h0M591.7 60.9h0M615.7 103.5h0M493.8 107.8h0M505.4 94.0h0M528.6 107.8h0M528.6 73.4h0M563.4 52.9h0M574.9 128.4h0M586.5 87.2h0M598.1 87.2h0M632.9 32.3h0M458.3 91.8h0M480.8 71.9h0M480.8 65.3h0M503.2 71.9h0M514.4 78.5h0M514.4 38.7h0M536.8 58.6h0M548.0 71.9h0M581.7 118.4h0M490.2 89.7h0M490.2 38.3h0M511.9 89.7h0M522.8 109.0h0M522.8 96.2h0M522.8 44.7h0M533.7 76.9h0M544.5 89.7h0M620.6 134.8h0M664.0 25.4h0M488.4 25.1h0M499.8 25.6h0M503.0 24.9h0M538.8 25.2h0"/></g>
<use href="#q205" transform="translate(-0.45,-0.45)" stroke="#bedaf5" stroke-width="1.65" stroke-opacity="0.85"/>
<g stroke="#ee8c48" stroke-width="2.50"><path id="q206" d="M653.1 89.7h0M542.9 96.7h0M528.6 87.2h0M522.8 83.3h0M588.0 102.6h0M517.7 92.0h0M490.8 112.1h0M574.9 123.2h0M540.2 66.6h0M530.7 90.9h0M562.3 90.9h0M526.6 146.3h0M571.9 119.4h0M537.3 141.2h0M537.3 76.9h0M551.8 51.1h0M505.4 62.5h0M519.3 103.6h0M529.5 57.1h0M487.4 105.5h0M577.5 113.1h0M522.8 58.5h0M547.6 98.9h0M495.8 71.6h0M591.7 85.8h0M603.7 92.8h0M531.8 96.4h0M567.7 103.5h0M505.4 76.9h0M563.4 76.9h0M574.9 70.0h0M586.5 90.6h0M517.0 114.6h0M528.6 66.6h0M586.5 73.4h0M522.8 93.0h0M577.1 112.3h0M609.7 93.0h0"/></g>
<use href="#q206" transform="translate(-0.38,-0.38)" stroke="#fcc9a0" stroke-width="1.38" stroke-opacity="0.85"/>
<g stroke="#ee8c48" stroke-width="3.00"><path id="q207" d="M551.8 51.1h0M551.8 121.5h0M509.1 68.7h0M514.9 72.2h0M514.9 62.8h0M519.3 111.9h0M491.5 107.8h0M551.8 59.7h0M498.0 43.8h0M522.8 80.6h0M560.0 69.5h0M495.8 149.7h0M639.7 107.1h0M447.1 68.6h0M592.9 108.4h0M548.0 78.5h0"/></g>
<use href="#q207" transform="translate(-0.45,-0.45)" stroke="#fcc9a0" stroke-width="1.65" stroke-opacity="0.85"/>
<g stroke="#4da862" stroke-width="2.50"><path id="q208" d="M634.5 25.4h0M482.2 80.3h0M644.5 121.5h0M566.2 102.6h0M497.2 73.8h0M538.1 98.1h0M532.5 59.7h0M648.3 82.6h0M564.0 122.9h0M564.0 101.3h0M522.8 46.0h0M511.5 61.2h0M632.4 132.8h0M493.8 25.4h0M500.3 25.4h0M531.8 18.3h0M536.8 45.3h0M548.0 125.0h0M581.7 45.3h0M522.8 44.7h0M555.4 121.9h0"/></g>
<use href="#q208" transform="translate(-0.38,-0.38)" stroke="#a8deb2" stroke-width="1.38" stroke-opacity="0.85"/>
<g stroke="#4da862" stroke-width="3.00"><path id="q209" d="M634.5 162.7h0M651.1 84.2h0M483.3 90.9h0M511.5 52.3h0M541.7 43.3h0M522.8 76.9h0M519.3 83.1h0M510.4 40.1h0M535.2 54.8h0M501.1 115.5h0M522.8 51.1h0M631.4 128.4h0M662.0 25.3h0"/></g>
<use href="#q209" transform="translate(-0.45,-0.45)" stroke="#a8deb2" stroke-width="1.65" stroke-opacity="0.85"/>
<g stroke="#e2584a" stroke-width="2.50"><path id="q210" d="M501.1 57.6h0M513.1 36.8h0M522.8 87.2h0M593.9 81.6h0M508.3 89.7h0M489.4 100.6h0M510.4 73.2h0M567.7 153.2h0M663.6 25.4h0M536.8 18.8h0M479.3 163.7h0M684.0 39.8h0"/></g>
<use href="#q210" transform="translate(-0.38,-0.38)" stroke="#f8a89a" stroke-width="1.38" stroke-opacity="0.85"/>
<g stroke="#e2584a" stroke-width="3.00"><path id="q211" d="M522.8 38.3h0M496.4 20.9h0M519.3 25.4h0M516.1 132.3h0M569.6 29.4h0M542.9 120.4h0M538.9 101.7h0M560.0 58.5h0M574.9 46.0h0"/></g>
<use href="#q211" transform="translate(-0.45,-0.45)" stroke="#f8a89a" stroke-width="1.65" stroke-opacity="0.85"/>
<circle cx="474.4" cy="25" r="9.2" fill="url(#gCHO)" fill-opacity="0.90"/>
<circle cx="481.4" cy="24" r="5" fill="url(#gCHO)" fill-opacity="0.90"/>
<circle cx="473.8" cy="36.6" r="3" fill="url(#gCHO)" fill-opacity="0.90"/>
<circle cx="514.7" cy="29.2" r="7.5" fill="url(#gCHONS)" fill-opacity="0.90"/>
<circle cx="525.8" cy="19.4" r="7" fill="url(#gCHONS)" fill-opacity="0.90"/>
<circle cx="538.3" cy="20" r="7.5" fill="url(#gCHONS)" fill-opacity="0.90"/>
<circle cx="548" cy="19.4" r="5" fill="url(#gCHONS)" fill-opacity="0.90"/>
<circle cx="531.4" cy="29.2" r="4" fill="url(#gCHONS)" fill-opacity="0.90"/>
<circle cx="568.9" cy="30.6" r="3" fill="url(#gCHONS)" fill-opacity="0.90"/>
<circle cx="528.6" cy="52.8" r="4.5" fill="url(#gCHONS)" fill-opacity="0.90"/>
<circle cx="589.7" cy="36.1" r="3" fill="url(#gCHONS)" fill-opacity="0.90"/>
<circle cx="550.8" cy="26.4" r="7.5" fill="url(#gCHOS)" fill-opacity="0.85"/>
<circle cx="564.7" cy="23.6" r="5.5" fill="url(#gCHOS)" fill-opacity="0.85"/>
<circle cx="535.6" cy="9.7" r="3" fill="url(#gCHOS)" fill-opacity="0.85"/>
<circle cx="550.8" cy="6.9" r="3" fill="url(#gCHOS)" fill-opacity="0.85"/>
<circle cx="560.6" cy="11.1" r="4" fill="url(#gCHOS)" fill-opacity="0.85"/>
<circle cx="567.5" cy="12.5" r="4.5" fill="url(#gCHOS)" fill-opacity="0.85"/>
<circle cx="574.4" cy="13.9" r="4" fill="url(#gCHOS)" fill-opacity="0.85"/>
<circle cx="581.4" cy="16.7" r="3" fill="url(#gCHOS)" fill-opacity="0.85"/>
<circle cx="588.3" cy="25" r="3.5" fill="url(#gCHOS)" fill-opacity="0.85"/>
<circle cx="609.2" cy="38.9" r="6" fill="url(#gCHOS)" fill-opacity="0.90"/>
<circle cx="634.2" cy="25" r="3.5" fill="url(#gCHOS)" fill-opacity="0.90"/>
<circle cx="485.6" cy="55.6" r="4.5" fill="url(#gCHOS)" fill-opacity="0.90"/>
<circle cx="543.9" cy="12.5" r="2.5" fill="url(#gCHOS)" fill-opacity="0.85"/>
<circle cx="556" cy="16" r="3" fill="url(#gCHOS)" fill-opacity="0.85"/>
<circle cx="708.8" cy="10.6" r="2.3" fill="url(#gCHOS)" fill-opacity="0.90"/>
<circle cx="477" cy="78" r="9.5" fill="url(#gCHO)" fill-opacity="0.85"/>
<circle cx="490" cy="80" r="8.5" fill="url(#gCHO)" fill-opacity="0.75"/>
<circle cx="503" cy="79" r="9" fill="url(#gCHO)" fill-opacity="0.65"/>
<circle cx="515" cy="82" r="7" fill="url(#gCHO)" fill-opacity="0.60"/>
<circle cx="496" cy="70" r="7" fill="url(#gCHO)" fill-opacity="0.55"/>
<circle cx="485" cy="88" r="6" fill="url(#gCHO)" fill-opacity="0.60"/>
<circle cx="460" cy="75.7" r="4.5" fill="url(#gCHO)" fill-opacity="0.80"/>
<circle cx="457.5" cy="89.2" r="4" fill="url(#gCHO)" fill-opacity="0.80"/>
<circle cx="469.7" cy="91.7" r="3.7" fill="url(#gCHON)" fill-opacity="0.90"/>
<circle cx="491.8" cy="99" r="6.5" fill="url(#gCHON)" fill-opacity="0.85"/>
<circle cx="509" cy="104" r="7.5" fill="url(#gCHON)" fill-opacity="0.85"/>
<circle cx="512.6" cy="107.6" r="5" fill="url(#gCHON)" fill-opacity="0.85"/>
<circle cx="609.7" cy="80.2" r="3" fill="url(#gCHON)" fill-opacity="0.90"/>
<circle cx="547" cy="165" r="2.3" fill="url(#gCHON)" fill-opacity="0.90"/>
<circle cx="468.8" cy="118.2" r="3" fill="url(#gCHONS)" fill-opacity="0.90"/>
<circle cx="471.8" cy="142.4" r="5" fill="url(#gCHONS)" fill-opacity="0.90"/>
<circle cx="462.5" cy="154.2" r="2.3" fill="url(#gCHONS)" fill-opacity="0.90"/>
<circle cx="463.7" cy="173.1" r="2.5" fill="url(#gCHONS)" fill-opacity="0.90"/>
<circle cx="465.8" cy="185.8" r="3.5" fill="url(#gCHONS)" fill-opacity="0.90"/>
<circle cx="473.8" cy="192" r="2" fill="url(#gCHOS)" fill-opacity="0.90"/>
<circle cx="545.7" cy="111" r="4" fill="url(#gCHOS)" fill-opacity="0.90"/>
<circle cx="562" cy="146.7" r="2.5" fill="url(#gCHO)" fill-opacity="0.90"/>
<circle cx="601.2" cy="141.6" r="3" fill="url(#gCHO)" fill-opacity="0.90"/>
<circle cx="667.7" cy="107.2" r="2.3" fill="url(#gCHO)" fill-opacity="0.90"/>
<g stroke="#5b98d4" stroke-width="2.50"><path id="q212" d="M542.9 104.6h0M596.3 120.4h0M482.2 66.6h0M551.8 52.9h0M517.7 110.2h0M517.7 73.8h0M558.6 73.8h0M579.0 110.2h0M532.5 94.0h0M571.1 82.6h0M452.5 182.3h0M485.6 84.2h0M502.1 64.6h0M546.5 90.9h0M578.1 72.2h0M481.2 52.3h0M511.5 114.9h0M587.0 114.9h0M522.8 119.8h0M551.8 85.5h0M505.4 107.8h0M519.3 107.8h0M547.1 91.3h0M542.9 112.5h0M542.9 49.2h0M556.2 128.4h0M556.2 96.7h0M569.6 65.0h0M538.9 116.9h0M538.9 101.7h0M538.9 63.5h0M564.6 71.2h0M564.6 25.4h0M577.5 147.4h0M590.4 101.7h0M641.9 71.2h0M485.6 106.3h0M485.6 84.2h0M498.0 84.2h0M510.4 113.6h0M560.0 121.0h0M507.8 53.8h0M519.8 75.1h0M567.7 117.7h0M505.4 87.2h0M540.2 39.1h0M551.8 100.9h0M551.8 94.0h0M563.4 128.4h0M563.4 107.8h0M563.4 59.7h0M574.9 73.4h0M514.4 71.9h0M536.8 111.7h0M604.1 78.5h0M604.1 58.6h0M446.8 89.7h0M501.1 76.9h0M522.8 89.7h0M544.5 109.0h0M555.4 109.0h0M609.7 121.9h0M688.6 156.0h0M640.0 120.0h0M645.0 100.0h0"/></g>
<use href="#q212" transform="translate(-0.38,-0.38)" stroke="#bedaf5" stroke-width="1.38" stroke-opacity="0.85"/>
<g stroke="#5b98d4" stroke-width="3.00"><path id="q213" d="M590.4 94.0h0M493.8 111.2h0M516.1 72.9h0M542.9 57.1h0M510.4 54.8h0M501.1 102.6h0M544.5 51.1h0M517.7 49.6h0M551.8 94.0h0M509.1 90.4h0M545.7 90.4h0M545.7 47.1h0M637.1 90.4h0M592.3 128.4h0M502.1 45.0h0M535.2 84.2h0M483.3 100.3h0M578.1 62.8h0M526.6 34.4h0M541.7 123.9h0M522.8 102.6h0M477.6 41.9h0M491.5 58.3h0M519.3 91.3h0M574.9 107.8h0M574.9 58.3h0M630.6 74.8h0M516.1 120.4h0M583.0 65.0h0M513.1 109.3h0M526.0 86.4h0M551.8 124.5h0M551.8 63.5h0M577.5 116.9h0M629.0 109.3h0M485.6 113.6h0M498.0 98.9h0M498.0 62.2h0M510.4 91.6h0M510.4 84.2h0M522.8 98.9h0M535.2 91.6h0M535.2 47.5h0M560.0 54.8h0M597.3 69.5h0M495.8 68.0h0M507.8 103.5h0M519.8 39.6h0M543.8 60.9h0M567.7 60.9h0M579.7 96.4h0M493.8 100.9h0M505.4 121.5h0M517.0 59.7h0M540.2 135.2h0M551.8 142.1h0M586.5 162.7h0M644.5 128.4h0M536.8 65.3h0M559.2 58.6h0M581.7 98.5h0M592.9 52.0h0M615.3 85.2h0M501.1 70.4h0M501.1 57.6h0M511.9 115.5h0M511.9 83.3h0M511.9 64.0h0M522.8 83.3h0M522.8 76.9h0M544.5 51.1h0M544.5 38.3h0M555.4 83.3h0M566.2 38.3h0M577.1 83.3h0M588.0 70.4h0M598.8 89.7h0"/></g>
<use href="#q213" transform="translate(-0.45,-0.45)" stroke="#bedaf5" stroke-width="1.65" stroke-opacity="0.85"/>
<g stroke="#ee8c48" stroke-width="2.50"><path id="q214" d="M542.9 65.0h0M527.4 90.4h0M557.6 138.6h0M551.8 49.9h0M530.7 119.0h0M546.5 72.2h0M505.4 124.2h0M569.6 76.9h0M474.5 59.7h0M577.5 59.7h0M641.9 52.1h0M547.6 124.7h0M560.0 80.6h0M622.1 73.2h0M498.0 91.6h0M495.8 99.9h0M507.8 89.3h0M604.1 158.2h0M501.1 112.3h0M684.0 164.8h0"/></g>
<use href="#q214" transform="translate(-0.38,-0.38)" stroke="#fcc9a0" stroke-width="1.38" stroke-opacity="0.85"/>
<g stroke="#ee8c48" stroke-width="3.00"><path id="q215" d="M522.8 76.9h0M588.0 76.9h0M532.5 122.6h0M540.2 112.9h0M518.7 98.9h0M514.9 100.3h0M580.7 106.9h0M547.1 103.6h0M476.0 167.9h0M526.0 90.2h0M577.5 78.8h0M572.5 110.0h0M543.8 117.7h0M615.7 53.8h0M644.5 52.9h0M503.2 105.1h0M626.5 125.0h0M631.4 60.8h0"/></g>
<use href="#q215" transform="translate(-0.45,-0.45)" stroke="#fcc9a0" stroke-width="1.65" stroke-opacity="0.85"/>
<g stroke="#4da862" stroke-width="2.50"><path id="q216" d="M574.9 46.0h0M551.8 36.8h0M557.6 25.4h0M618.0 123.4h0M499.1 100.3h0M556.8 70.2h0M617.3 61.2h0M538.9 48.3h0M641.9 116.9h0M522.8 54.8h0M621.3 46.0h0M536.8 85.2h0M548.0 52.0h0M468.5 25.4h0M713.8 53.0h0"/></g>
<use href="#q216" transform="translate(-0.38,-0.38)" stroke="#a8deb2" stroke-width="1.38" stroke-opacity="0.85"/>
<g stroke="#4da862" stroke-width="3.00"><path id="q217" d="M501.1 51.1h0M600.6 90.4h0M618.8 79.6h0M526.6 52.3h0M537.3 102.6h0M609.7 85.5h0M616.7 58.3h0M623.1 144.2h0M623.1 120.4h0M513.1 71.2h0M538.9 71.2h0M641.9 139.8h0M627.7 103.5h0M639.7 103.5h0M514.4 78.5h0M514.4 71.9h0M559.2 18.8h0M533.7 76.9h0M566.2 38.3h0M679.0 25.2h0M758.5 187.0h0M783.2 183.2h0M596.1 24.9h0M616.0 25.1h0M654.6 25.1h0"/></g>
<use href="#q217" transform="translate(-0.45,-0.45)" stroke="#a8deb2" stroke-width="1.65" stroke-opacity="0.85"/>
<g stroke="#e2584a" stroke-width="2.50"><path id="q218" d="M538.9 105.5h0M579.7 46.7h0M657.0 6.3h0"/></g>
<use href="#q218" transform="translate(-0.38,-0.38)" stroke="#f8a89a" stroke-width="1.38" stroke-opacity="0.85"/>
<g stroke="#e2584a" stroke-width="3.00"><path id="q219" d="M551.8 94.0h0M454.2 182.5h0M651.1 25.4h0M544.5 22.2h0M660.0 49.2h0M721.9 188.8h0"/></g>
<use href="#q219" transform="translate(-0.45,-0.45)" stroke="#f8a89a" stroke-width="1.65" stroke-opacity="0.85"/>
</g>
<g clip-path="url(#clipD)" stroke-linecap="round" fill="none">
<g stroke="#5b98d4" stroke-width="2.00"><path id="q220" d="M590.3 350.9h0M608.4 360.7h0M605.5 363.3h0M656.1 365.6h0M621.7 384.3h0M652.2 384.3h0M647.5 388.5h0"/></g>
<use href="#q220" transform="translate(-0.30,-0.30)" stroke="#bedaf5" stroke-width="1.10" stroke-opacity="0.85"/>
<g stroke="#5b98d4" stroke-width="2.50"><path id="q221" d="M495.9 348.2h0M509.2 385.6h0M493.0 355.4h0M494.0 339.6h0M516.9 339.6h0M505.4 360.7h0M511.1 388.1h0M521.6 347.0h0M509.2 394.9h0M519.8 340.6h0M523.5 388.9h0M534.1 337.9h0M538.8 372.1h0M546.4 372.1h0M524.5 346.3h0M532.2 346.3h0M551.2 389.5h0M563.6 335.5h0M585.5 346.3h0M539.8 333.3h0M544.5 364.1h0M582.6 364.1h0M554.1 331.3h0M558.8 360.7h0M561.7 331.3h0M593.1 399.8h0M615.0 409.6h0M552.2 338.9h0M573.1 357.6h0M574.1 348.2h0M578.8 376.3h0M580.8 357.6h0M561.7 381.5h0M563.6 363.7h0M564.6 354.7h0M578.9 363.7h0M617.0 363.7h0M583.6 377.8h0M603.7 335.0h0M609.4 352.1h0M610.3 343.6h0M615.1 369.3h0M618.9 335.0h0M586.5 341.5h0M591.2 366.2h0M606.5 366.2h0M628.4 374.4h0M596.0 379.1h0M597.0 371.2h0M604.6 371.2h0M617.9 387.0h0M618.9 379.1h0M635.1 371.2h0M637.0 355.4h0M593.1 391.1h0M605.6 353.1h0M619.8 360.7h0M620.8 353.1h0M587.4 424.3h0M598.9 336.2h0M602.7 365.6h0M629.4 336.2h0M630.3 387.6h0M647.5 372.9h0M649.4 358.3h0M623.7 370.1h0M637.0 384.3h0M644.6 384.3h0M658.0 341.8h0M618.0 347.0h0M623.6 415.5h0M635.1 388.1h0M636.0 381.2h0M642.7 388.1h0M647.5 353.9h0M656.1 347.0h0M615.1 411.5h0M631.3 343.6h0M639.9 337.2h0M639.9 388.5h0M638.9 385.6h0M645.6 342.0h0M648.4 423.0h0M653.2 391.8h0M660.0 333.3h0"/></g>
<use href="#q221" transform="translate(-0.38,-0.38)" stroke="#bedaf5" stroke-width="1.38" stroke-opacity="0.85"/>
<g stroke="#5b98d4" stroke-width="3.00"><path id="q222" d="M497.8 310.9h0M494.9 343.6h0M504.5 309.3h0M491.1 387.0h0M500.7 355.4h0M503.5 308.0h0M511.2 308.0h0M514.9 371.2h0M523.5 336.2h0M536.9 365.6h0M526.4 369.3h0M535.0 356.4h0M564.5 369.3h0M521.7 316.4h0M525.5 364.7h0M531.2 388.9h0M566.4 425.2h0M539.8 360.7h0M553.1 383.5h0M534.1 324.6h0M540.7 422.0h0M558.9 303.0h0M569.3 357.1h0M543.6 374.4h0M556.0 323.0h0M557.9 302.5h0M583.6 353.9h0M615.0 343.6h0M540.7 390.1h0M561.7 409.6h0M568.4 341.1h0M569.3 331.3h0M579.8 302.0h0M594.1 390.1h0M598.9 341.1h0M555.0 385.6h0M566.5 348.2h0M568.4 329.6h0M569.4 320.2h0M579.8 366.9h0M585.5 385.6h0M575.1 327.9h0M583.6 390.5h0M584.6 381.5h0M592.2 381.5h0M600.8 372.6h0M618.9 345.8h0M624.6 363.7h0M614.1 377.8h0M596.9 382.6h0M605.6 308.6h0M604.6 382.6h0M618.0 333.3h0M622.7 358.0h0M642.7 382.6h0M597.9 363.3h0M616.0 339.6h0M618.9 315.9h0M626.5 379.1h0M644.6 418.7h0M596.0 368.3h0M599.9 337.9h0M600.8 391.1h0M609.4 322.6h0M613.2 353.1h0M621.8 345.5h0M627.5 360.7h0M634.2 307.4h0M639.8 383.5h0M643.7 353.1h0M644.6 345.5h0M619.9 350.9h0M623.6 380.3h0M632.2 372.9h0M640.8 365.6h0M665.6 350.9h0M615.1 320.5h0M614.1 384.3h0M630.3 377.2h0M633.2 356.0h0M636.0 391.4h0M639.9 363.1h0M647.5 363.1h0M664.7 348.9h0M613.2 326.4h0M636.1 326.4h0M664.7 340.1h0M616.1 351.9h0M634.1 385.0h0M654.2 351.9h0M638.0 350.0h0M640.8 382.1h0M645.6 350.0h0M650.4 369.3h0M652.3 356.4h0M653.2 350.0h0M649.4 358.7h0M662.8 362.7h0M700.4 314.4h0M667.7 318.7h0M680.3 325.5h0M500.9 291.7h0M518.9 291.8h0M550.0 292.1h0M553.9 291.8h0"/></g>
<use href="#q222" transform="translate(-0.45,-0.45)" stroke="#bedaf5" stroke-width="1.65" stroke-opacity="0.85"/>
<g stroke="#5b98d4" stroke-width="3.50"><path id="q223" d="M521.7 330.7h0M536.9 316.4h0M567.4 316.4h0M550.3 302.5h0M596.0 302.5h0M587.5 302.0h0M599.9 310.1h0M606.5 309.3h0M619.9 308.0h0M658.0 308.0h0M638.9 330.3h0M618.0 306.9h0M660.9 328.9h0M618.0 299.3h0M635.2 317.9h0M642.8 317.9h0"/></g>
<use href="#q223" transform="translate(-0.53,-0.53)" stroke="#bedaf5" stroke-width="1.93" stroke-opacity="0.85"/>
<g stroke="#5b98d4" stroke-width="4.00"><path id="q224" d="M490.2 310.9h0M514.0 330.7h0M522.6 317.9h0M523.6 305.0h0M544.5 316.4h0M552.2 303.6h0M566.5 315.0h0M548.4 323.0h0M573.2 302.5h0M562.7 310.9h0M598.9 319.0h0M640.8 283.3h0M584.6 300.8h0M619.9 326.4h0M627.5 326.4h0M643.7 317.9h0M616.1 330.3h0M624.6 322.6h0M610.4 306.9h0M633.2 306.9h0M607.5 320.5h0M646.6 305.9h0M642.8 325.3h0M644.7 305.0h0M666.6 311.5h0"/></g>
<use href="#q224" transform="translate(-0.60,-0.60)" stroke="#bedaf5" stroke-width="2.20" stroke-opacity="0.85"/>
<g stroke="#ee8c48" stroke-width="2.00"><path id="q225" d="M529.3 355.4h0M629.4 370.1h0"/></g>
<use href="#q225" transform="translate(-0.30,-0.30)" stroke="#fcc9a0" stroke-width="1.10" stroke-opacity="0.85"/>
<g stroke="#ee8c48" stroke-width="2.50"><path id="q226" d="M497.3 372.9h0M521.6 336.2h0M496.4 367.5h0M565.0 350.0h0M517.8 356.4h0M524.5 369.3h0M538.8 382.1h0M549.8 334.5h0M539.8 352.6h0M551.7 389.2h0M562.6 337.9h0M546.0 351.7h0M554.5 340.9h0M553.1 346.3h0M557.4 379.5h0M565.0 379.5h0M553.1 333.3h0M571.2 384.7h0M556.4 375.4h0M557.4 352.9h0M582.2 334.2h0M595.5 352.9h0M597.4 409.0h0M609.3 357.6h0M605.5 381.5h0M630.3 363.7h0M616.5 347.9h0M631.7 347.9h0M637.0 360.7h0M621.3 362.1h0M647.0 391.0h0M592.2 394.9h0M595.1 371.2h0M606.1 341.7h0M621.7 391.1h0M622.2 383.9h0M627.5 336.2h0M625.1 352.4h0M635.6 387.9h0M660.4 355.2h0M652.3 351.9h0M623.2 403.5h0M658.5 375.0h0M748.9 328.8h0M761.5 360.3h0"/></g>
<use href="#q226" transform="translate(-0.38,-0.38)" stroke="#fcc9a0" stroke-width="1.38" stroke-opacity="0.85"/>
<g stroke="#ee8c48" stroke-width="3.00"><path id="q227" d="M497.8 394.9h0M521.1 379.1h0M513.5 358.3h0M523.1 328.9h0M528.8 358.3h0M515.9 306.9h0M542.1 350.0h0M551.7 324.3h0M537.4 394.9h0M562.6 352.6h0M539.3 355.0h0M538.8 349.3h0M596.0 394.9h0M590.7 362.5h0M596.4 384.1h0M571.2 313.8h0M589.3 367.9h0M569.3 323.0h0M563.6 370.5h0M598.9 321.6h0M573.2 338.9h0M574.1 329.6h0M616.5 359.2h0M626.5 327.9h0M613.7 296.3h0M618.4 386.7h0M660.3 353.9h0M578.4 327.8h0M600.3 335.7h0M618.5 312.0h0M608.4 387.0h0M609.4 368.3h0M661.8 315.0h0M629.9 325.2h0M649.9 347.2h0M629.0 324.1h0M626.5 391.4h0M641.8 334.7h0M655.1 348.9h0M647.5 375.7h0M644.2 345.1h0M645.1 388.7h0M665.2 342.1h0M708.8 446.2h0"/></g>
<use href="#q227" transform="translate(-0.45,-0.45)" stroke="#fcc9a0" stroke-width="1.65" stroke-opacity="0.85"/>
<g stroke="#ee8c48" stroke-width="3.50"><path id="q228" d="M500.2 328.9h0M535.0 330.7h0M593.1 324.6h0M561.7 323.0h0M608.4 302.0h0M580.3 330.7h0M613.2 300.8h0M617.5 329.2h0M616.6 318.8h0M630.4 306.4h0"/></g>
<use href="#q228" transform="translate(-0.53,-0.53)" stroke="#fcc9a0" stroke-width="1.93" stroke-opacity="0.85"/>
<g stroke="#ee8c48" stroke-width="4.00"><path id="q229" d="M527.4 330.7h0M545.0 298.2h0M586.0 330.1h0M611.3 327.9h0M625.1 329.2h0M578.0 323.8h0M625.6 308.0h0M648.5 299.8h0"/></g>
<use href="#q229" transform="translate(-0.60,-0.60)" stroke="#fcc9a0" stroke-width="2.20" stroke-opacity="0.85"/>
<g stroke="#4da862" stroke-width="2.00"><path id="q230" d="M649.3 379.1h0"/></g>
<use href="#q230" transform="translate(-0.30,-0.30)" stroke="#a8deb2" stroke-width="1.10" stroke-opacity="0.85"/>
<g stroke="#4da862" stroke-width="2.50"><path id="q231" d="M522.6 333.3h0M539.7 394.9h0M557.9 340.6h0M588.3 340.6h0M561.7 372.1h0M577.9 360.7h0M561.7 331.3h0M578.8 363.7h0M587.4 354.7h0M592.2 369.3h0M628.4 386.4h0M618.8 390.8h0M638.9 349.7h0M617.0 331.7h0M619.8 371.2h0M652.2 355.4h0M627.5 360.7h0M631.2 391.1h0M620.8 343.6h0M643.7 334.7h0M641.8 332.0h0"/></g>
<use href="#q231" transform="translate(-0.38,-0.38)" stroke="#a8deb2" stroke-width="1.38" stroke-opacity="0.85"/>
<g stroke="#4da862" stroke-width="3.00"><path id="q232" d="M518.8 308.0h0M519.7 374.4h0M554.0 319.6h0M551.2 315.0h0M560.7 383.5h0M574.0 374.4h0M599.8 343.6h0M616.9 405.2h0M560.7 341.1h0M579.8 302.0h0M613.1 350.9h0M577.9 385.6h0M623.7 301.1h0M621.7 377.8h0M637.0 309.3h0M619.9 308.0h0M629.3 418.7h0M656.1 323.8h0M605.6 353.1h0M618.9 307.4h0M656.1 315.0h0M659.9 356.4h0M766.5 453.8h0"/></g>
<use href="#q232" transform="translate(-0.45,-0.45)" stroke="#a8deb2" stroke-width="1.65" stroke-opacity="0.85"/>
<g stroke="#4da862" stroke-width="3.50"><path id="q233" d="M510.2 323.8h0M517.8 306.9h0M525.5 306.9h0M537.9 317.9h0M536.9 316.4h0M567.4 316.4h0M567.4 303.6h0M566.5 303.0h0M588.4 313.8h0M588.4 302.5h0M601.7 311.8h0M608.4 321.6h0M608.4 310.9h0M617.0 301.5h0M592.2 310.1h0M598.9 319.0h0M605.6 317.9h0M628.4 317.9h0M644.6 309.3h0M638.0 328.9h0M654.2 305.9h0M559.7 291.9h0M571.8 291.8h0M588.1 292.1h0"/></g>
<use href="#q233" transform="translate(-0.53,-0.53)" stroke="#a8deb2" stroke-width="1.93" stroke-opacity="0.85"/>
<g stroke="#4da862" stroke-width="4.00"><path id="q234" d="M550.3 313.8h0M556.9 324.6h0M615.1 310.1h0M628.4 308.6h0M618.9 315.9h0M634.2 299.5h0M641.8 299.5h0M637.1 319.6h0"/></g>
<use href="#q234" transform="translate(-0.60,-0.60)" stroke="#a8deb2" stroke-width="2.20" stroke-opacity="0.85"/>
<g stroke="#e2584a" stroke-width="2.50"><path id="q235" d="M620.3 373.3h0M576.9 335.5h0M623.6 394.9h0M617.9 371.2h0"/></g>
<use href="#q235" transform="translate(-0.38,-0.38)" stroke="#f8a89a" stroke-width="1.38" stroke-opacity="0.85"/>
<g stroke="#e2584a" stroke-width="3.00"><path id="q236" d="M536.9 355.4h0M546.9 370.8h0M568.8 366.4h0M551.7 373.3h0M564.1 307.6h0M584.1 326.4h0M574.6 334.2h0M607.9 345.6h0M618.4 386.7h0M658.9 377.2h0M664.6 381.2h0M651.3 358.5h0"/></g>
<use href="#q236" transform="translate(-0.45,-0.45)" stroke="#f8a89a" stroke-width="1.65" stroke-opacity="0.85"/>
<g stroke="#e2584a" stroke-width="3.50"><path id="q237" d="M545.5 305.9h0M573.1 330.7h0"/></g>
<use href="#q237" transform="translate(-0.53,-0.53)" stroke="#f8a89a" stroke-width="1.93" stroke-opacity="0.85"/>
<g stroke="#e2584a" stroke-width="4.00"><path id="q238" d="M503.5 310.9h0"/></g>
<use href="#q238" transform="translate(-0.60,-0.60)" stroke="#f8a89a" stroke-width="2.20" stroke-opacity="0.85"/>
<g stroke="#5b98d4" stroke-width="2.00"><path id="q239" d="M541.7 352.6h0M532.1 415.5h0"/></g>
<use href="#q239" transform="translate(-0.30,-0.30)" stroke="#bedaf5" stroke-width="1.10" stroke-opacity="0.85"/>
<g stroke="#5b98d4" stroke-width="2.50"><path id="q240" d="M494.9 366.9h0M493.0 377.8h0M507.3 371.2h0M508.3 355.4h0M513.1 360.7h0M515.0 333.3h0M535.9 360.7h0M515.9 407.8h0M553.1 401.0h0M560.7 401.0h0M571.2 364.7h0M562.6 360.7h0M535.9 389.5h0M547.4 346.3h0M555.0 346.3h0M558.8 389.5h0M590.2 378.7h0M536.0 374.4h0M554.1 343.6h0M569.3 343.6h0M531.2 409.6h0M596.9 360.7h0M577.9 385.6h0M605.5 338.9h0M566.5 336.9h0M568.3 390.5h0M575.0 399.4h0M591.2 390.5h0M596.0 345.8h0M590.3 386.4h0M591.2 377.8h0M594.1 352.1h0M622.7 369.3h0M569.3 423.7h0M580.7 390.8h0M592.2 358.0h0M595.1 333.3h0M624.6 341.5h0M595.0 387.0h0M603.6 379.1h0M609.4 331.7h0M617.0 331.7h0M624.6 331.7h0M632.3 331.7h0M646.5 339.6h0M559.8 414.0h0M597.9 353.1h0M610.3 375.9h0M617.0 383.5h0M618.9 368.3h0M623.6 391.1h0M631.2 391.1h0M636.1 353.1h0M607.4 387.6h0M610.3 356.0h0M651.3 334.7h0M624.6 353.9h0M634.2 340.1h0M635.1 333.3h0M659.9 374.4h0M627.5 378.4h0M637.0 365.1h0M638.9 351.9h0M641.8 332.0h0M640.8 391.6h0M648.5 338.6h0M630.4 350.0h0M641.8 375.7h0M657.0 375.7h0M655.1 370.8h0M664.7 358.7h0M647.5 362.7h0M671.4 356.8h0M674.2 370.0h0"/></g>
<use href="#q240" transform="translate(-0.38,-0.38)" stroke="#bedaf5" stroke-width="1.38" stroke-opacity="0.85"/>
<g stroke="#5b98d4" stroke-width="3.00"><path id="q241" d="M488.3 308.0h0M492.1 350.9h0M513.0 380.3h0M503.5 388.1h0M520.7 360.7h0M535.0 340.6h0M539.7 376.8h0M552.2 316.4h0M533.1 349.3h0M515.9 357.1h0M546.4 357.1h0M554.1 357.1h0M557.9 313.8h0M566.5 303.0h0M570.3 346.3h0M545.5 353.9h0M547.4 333.3h0M558.8 374.4h0M576.0 353.9h0M565.6 292.2h0M570.2 399.8h0M548.3 376.3h0M550.3 357.6h0M560.7 404.3h0M570.3 385.6h0M576.9 394.9h0M597.0 348.2h0M556.0 363.7h0M573.1 345.8h0M576.9 381.5h0M611.3 345.8h0M582.6 386.4h0M605.5 386.4h0M613.1 386.4h0M625.6 343.6h0M581.7 382.6h0M583.6 366.2h0M593.2 349.7h0M607.5 358.0h0M616.0 349.7h0M586.5 331.7h0M590.3 363.3h0M611.3 315.9h0M620.8 363.3h0M631.3 339.6h0M636.0 363.3h0M645.6 347.5h0M650.4 308.0h0M560.7 406.4h0M604.6 360.7h0M608.4 391.1h0M618.0 315.0h0M617.9 375.9h0M603.7 358.3h0M613.1 402.3h0M617.0 372.9h0M621.7 394.9h0M634.1 358.3h0M587.4 412.7h0M601.8 363.1h0M628.5 334.7h0M646.5 370.1h0M654.1 370.1h0M616.1 360.7h0M616.0 415.5h0M619.8 388.1h0M629.4 374.4h0M638.0 358.5h0M650.4 325.3h0M636.1 311.5h0M643.7 362.8h0M638.9 376.8h0M647.5 392.2h0M686.6 316.2h0M660.0 327.5h0M645.0 322.0h0M522.1 292.1h0M543.0 292.0h0M557.5 292.3h0"/></g>
<use href="#q241" transform="translate(-0.45,-0.45)" stroke="#bedaf5" stroke-width="1.65" stroke-opacity="0.85"/>
<g stroke="#5b98d4" stroke-width="3.50"><path id="q242" d="M509.3 321.6h0M517.8 306.9h0M529.3 303.6h0M536.0 315.0h0M573.1 326.4h0M556.9 324.6h0M579.8 312.8h0M571.3 301.5h0M585.6 310.9h0M586.5 301.5h0M601.8 301.5h0M597.9 327.9h0M582.7 317.9h0M591.3 309.3h0M614.2 309.3h0M588.4 325.1h0M610.3 323.8h0M613.2 300.1h0M618.0 323.8h0M594.2 322.6h0M617.0 322.6h0M646.6 330.3h0M634.2 299.5h0M645.6 312.8h0M653.3 312.8h0M627.5 325.3h0M635.2 325.3h0"/></g>
<use href="#q242" transform="translate(-0.53,-0.53)" stroke="#bedaf5" stroke-width="1.93" stroke-opacity="0.85"/>
<g stroke="#5b98d4" stroke-width="4.00"><path id="q243" d="M489.2 329.6h0M495.9 326.4h0M508.3 319.6h0M528.4 315.0h0M568.4 319.0h0M569.4 310.1h0M597.0 326.4h0M621.8 309.3h0M650.3 326.4h0M631.3 330.3h0M662.8 322.6h0M636.1 318.7h0"/></g>
<use href="#q243" transform="translate(-0.60,-0.60)" stroke="#bedaf5" stroke-width="2.20" stroke-opacity="0.85"/>
<g stroke="#ee8c48" stroke-width="2.00"><path id="q244" d="M638.9 387.0h0"/></g>
<use href="#q244" transform="translate(-0.30,-0.30)" stroke="#fcc9a0" stroke-width="1.10" stroke-opacity="0.85"/>
<g stroke="#ee8c48" stroke-width="2.50"><path id="q245" d="M501.1 352.1h0M525.9 381.2h0M533.1 374.4h0M551.2 333.3h0M509.3 369.3h0M526.9 334.5h0M533.6 346.6h0M556.0 340.6h0M573.6 384.1h0M545.5 346.3h0M565.5 350.9h0M570.3 380.3h0M625.1 339.3h0M604.6 377.8h0M589.8 370.3h0M636.5 351.5h0M597.9 347.5h0M626.5 426.6h0M647.0 379.7h0M606.1 332.6h0M648.5 333.3h0M598.4 414.8h0M634.6 375.1h0M646.1 382.5h0"/></g>
<use href="#q245" transform="translate(-0.38,-0.38)" stroke="#fcc9a0" stroke-width="1.38" stroke-opacity="0.85"/>
<g stroke="#ee8c48" stroke-width="3.00"><path id="q246" d="M530.2 339.6h0M515.5 312.8h0M550.7 337.2h0M525.5 356.4h0M536.9 305.0h0M554.0 382.1h0M557.4 320.7h0M579.3 319.2h0M564.0 389.8h0M563.6 384.7h0M591.2 333.3h0M551.7 346.0h0M598.4 336.2h0M615.0 390.1h0M585.1 306.2h0M586.9 362.3h0M615.5 380.9h0M569.3 376.3h0M584.6 363.7h0M620.8 381.5h0M599.3 365.0h0M605.5 369.3h0M640.8 316.9h0M641.3 364.5h0M640.8 360.7h0M604.2 347.2h0M632.3 348.9h0M661.3 348.5h0M637.0 404.9h0M651.4 342.0h0"/></g>
<use href="#q246" transform="translate(-0.45,-0.45)" stroke="#fcc9a0" stroke-width="1.65" stroke-opacity="0.85"/>
<g stroke="#ee8c48" stroke-width="3.50"><path id="q247" d="M487.8 317.9h0M501.6 326.4h0M555.5 285.3h0M551.7 310.3h0M570.3 312.8h0M579.4 297.1h0M612.7 304.5h0M626.6 300.1h0M614.7 325.2h0M623.3 309.9h0M645.2 317.0h0"/></g>
<use href="#q247" transform="translate(-0.53,-0.53)" stroke="#fcc9a0" stroke-width="1.93" stroke-opacity="0.85"/>
<g stroke="#ee8c48" stroke-width="4.00"><path id="q248" d="M550.2 330.7h0M535.5 322.4h0M536.0 304.3h0M556.5 307.6h0M579.4 307.6h0M612.2 329.6h0M600.3 296.7h0M621.3 314.5h0M588.4 317.9h0M619.9 309.3h0M609.9 329.2h0M628.9 296.3h0M609.4 325.1h0M639.4 327.8h0M607.5 322.6h0M632.3 307.4h0M621.8 321.6h0M660.4 317.0h0M644.2 308.8h0"/></g>
<use href="#q248" transform="translate(-0.60,-0.60)" stroke="#fcc9a0" stroke-width="2.20" stroke-opacity="0.85"/>
<g stroke="#4da862" stroke-width="2.00"><path id="q249" d="M509.2 339.6h0M596.9 374.4h0M592.2 331.3h0M571.2 376.3h0"/></g>
<use href="#q249" transform="translate(-0.30,-0.30)" stroke="#a8deb2" stroke-width="1.10" stroke-opacity="0.85"/>
<g stroke="#4da862" stroke-width="2.50"><path id="q250" d="M496.8 418.7h0M559.7 347.0h0M544.5 378.7h0M547.4 346.3h0M600.7 346.3h0M622.6 409.6h0M615.0 381.5h0M642.7 336.9h0M613.1 386.4h0M640.7 412.1h0M637.0 366.2h0M608.4 339.6h0M616.0 339.6h0M621.8 336.2h0M635.1 350.9h0M646.5 370.1h0M661.8 351.9h0M668.5 334.5h0"/></g>
<use href="#q250" transform="translate(-0.38,-0.38)" stroke="#a8deb2" stroke-width="1.38" stroke-opacity="0.85"/>
<g stroke="#4da862" stroke-width="3.00"><path id="q251" d="M494.9 394.9h0M502.5 394.9h0M511.1 374.4h0M513.0 310.9h0M511.2 308.0h0M542.6 326.4h0M566.5 315.0h0M588.3 417.8h0M563.6 335.5h0M566.4 389.5h0M614.1 367.9h0M556.0 323.0h0M595.1 312.8h0M605.5 350.9h0M585.5 385.6h0M616.9 376.3h0M645.6 320.2h0M599.8 310.1h0M612.2 336.9h0M617.9 354.7h0M630.3 310.1h0M635.1 326.4h0M653.2 347.5h0M604.6 360.7h0M633.2 365.6h0M655.2 306.4h0M643.7 326.4h0M675.2 345.2h0"/></g>
<use href="#q251" transform="translate(-0.45,-0.45)" stroke="#a8deb2" stroke-width="1.65" stroke-opacity="0.85"/>
<g stroke="#4da862" stroke-width="3.50"><path id="q252" d="M491.1 312.8h0M564.6 324.6h0M580.8 313.8h0M601.7 323.0h0M577.9 321.6h0M628.4 327.9h0M621.8 309.3h0M603.7 325.1h0M642.7 308.0h0M618.0 315.0h0M591.8 291.8h0M595.7 291.9h0"/></g>
<use href="#q252" transform="translate(-0.53,-0.53)" stroke="#a8deb2" stroke-width="1.93" stroke-opacity="0.85"/>
<g stroke="#4da862" stroke-width="4.00"><path id="q253" d="M505.4 310.9h0M538.8 305.0h0M568.4 304.3h0M574.1 328.5h0M572.2 324.6h0M573.1 313.8h0M589.3 303.0h0M579.8 312.8h0M596.0 302.5h0M571.2 311.8h0M587.5 302.0h0M609.4 311.8h0M637.9 320.2h0M597.9 327.9h0M640.8 315.0h0M639.9 306.4h0M636.1 326.4h0M638.0 312.8h0M662.8 322.4h0"/></g>
<use href="#q253" transform="translate(-0.60,-0.60)" stroke="#a8deb2" stroke-width="2.20" stroke-opacity="0.85"/>
<g stroke="#e2584a" stroke-width="2.00"><path id="q254" d="M637.0 372.6h0M612.2 377.8h0"/></g>
<use href="#q254" transform="translate(-0.30,-0.30)" stroke="#f8a89a" stroke-width="1.10" stroke-opacity="0.85"/>
<g stroke="#e2584a" stroke-width="2.50"><path id="q255" d="M547.8 358.7h0M568.8 338.4h0M572.2 336.9h0M605.1 359.4h0M621.3 361.8h0"/></g>
<use href="#q255" transform="translate(-0.38,-0.38)" stroke="#f8a89a" stroke-width="1.38" stroke-opacity="0.85"/>
<g stroke="#e2584a" stroke-width="3.00"><path id="q256" d="M523.5 343.6h0M539.3 314.2h0M558.3 419.1h0M553.1 376.8h0M609.3 384.7h0M609.8 375.4h0M572.1 408.4h0M635.6 339.9h0M687.8 350.2h0"/></g>
<use href="#q256" transform="translate(-0.45,-0.45)" stroke="#f8a89a" stroke-width="1.65" stroke-opacity="0.85"/>
<g stroke="#e2584a" stroke-width="3.50"><path id="q257" d="M572.2 328.5h0M617.0 325.1h0M618.9 308.6h0M626.5 308.6h0"/></g>
<use href="#q257" transform="translate(-0.53,-0.53)" stroke="#f8a89a" stroke-width="1.93" stroke-opacity="0.85"/>
<g stroke="#5b98d4" stroke-width="2.00"><path id="q258" d="M553.1 341.1h0M567.4 350.9h0M599.8 369.3h0M627.5 388.1h0"/></g>
<use href="#q258" transform="translate(-0.30,-0.30)" stroke="#bedaf5" stroke-width="1.10" stroke-opacity="0.85"/>
<g stroke="#5b98d4" stroke-width="2.50"><path id="q259" d="M494.0 360.7h0M504.4 418.7h0M497.8 360.7h0M504.5 374.4h0M512.1 374.4h0M519.7 374.4h0M526.4 388.1h0M532.1 394.9h0M538.8 407.8h0M516.9 376.8h0M533.1 364.7h0M547.4 376.8h0M552.1 413.1h0M567.3 413.1h0M545.5 383.5h0M555.0 360.7h0M573.1 417.8h0M537.9 367.9h0M545.5 367.9h0M568.3 367.9h0M576.9 357.1h0M559.8 364.1h0M560.8 341.1h0M571.2 390.1h0M574.1 360.7h0M591.2 341.1h0M558.8 348.2h0M563.6 376.3h0M572.2 366.9h0M588.4 357.6h0M595.0 366.9h0M562.6 372.6h0M574.1 336.9h0M576.0 390.5h0M577.9 372.6h0M594.1 363.7h0M607.4 381.5h0M610.3 354.7h0M563.6 352.1h0M586.5 352.1h0M621.7 377.8h0M626.5 335.0h0M574.1 382.6h0M577.9 349.7h0M597.9 374.4h0M599.8 358.0h0M602.7 333.3h0M609.4 341.5h0M610.3 333.3h0M600.8 339.6h0M602.7 387.0h0M619.8 371.2h0M622.7 347.5h0M589.4 360.7h0M629.4 345.5h0M641.8 368.3h0M599.8 387.6h0M610.3 365.6h0M612.2 350.9h0M667.5 336.2h0M609.4 363.1h0M631.3 370.1h0M635.1 341.8h0M655.1 363.1h0M632.3 353.9h0M641.7 394.9h0M658.9 381.2h0M661.8 360.7h0M619.9 378.4h0M626.6 332.0h0M628.4 371.7h0M636.1 371.7h0M659.9 356.4h0M660.9 350.0h0M628.4 404.3h0M638.0 342.0h0M651.3 354.5h0M650.4 352.6h0M651.4 346.6h0M657.1 358.7h0M658.9 386.1h0M659.9 372.1h0"/></g>
<use href="#q259" transform="translate(-0.38,-0.38)" stroke="#bedaf5" stroke-width="1.38" stroke-opacity="0.85"/>
<g stroke="#5b98d4" stroke-width="3.00"><path id="q260" d="M482.5 333.3h0M498.7 387.0h0M504.5 394.9h0M505.4 380.3h0M511.1 409.6h0M512.1 394.9h0M522.6 350.9h0M506.4 347.0h0M518.8 388.1h0M528.3 360.7h0M513.1 343.6h0M515.0 317.9h0M545.5 317.9h0M526.4 352.6h0M537.8 401.0h0M562.6 376.8h0M569.3 388.9h0M524.5 360.7h0M532.1 360.7h0M552.1 394.9h0M560.7 367.9h0M574.1 303.0h0M568.4 353.9h0M572.1 394.9h0M588.4 302.5h0M611.2 384.7h0M545.5 341.1h0M556.9 380.3h0M572.2 302.0h0M575.0 350.9h0M579.8 380.3h0M562.6 385.6h0M565.5 357.6h0M576.0 329.6h0M577.0 320.2h0M602.7 366.9h0M606.5 329.6h0M569.3 381.5h0M572.2 354.7h0M581.7 336.9h0M587.4 354.7h0M591.3 319.0h0M599.8 381.5h0M609.3 363.7h0M580.8 335.0h0M592.2 369.3h0M598.0 317.9h0M584.6 358.0h0M598.0 308.6h0M598.9 366.2h0M608.4 349.7h0M633.2 333.3h0M637.0 366.2h0M637.9 358.0h0M581.7 371.2h0M607.5 347.5h0M610.3 387.0h0M623.7 339.6h0M623.7 330.3h0M632.2 383.5h0M635.1 360.7h0M596.0 358.3h0M646.6 321.6h0M652.3 336.2h0M624.6 363.1h0M636.1 334.7h0M640.8 356.0h0M610.4 347.0h0M639.9 299.0h0M643.7 326.4h0M645.6 367.5h0M618.0 338.6h0M621.8 365.1h0M633.2 391.6h0M647.5 345.2h0M671.3 338.6h0M641.8 324.3h0M651.3 362.8h0M639.0 335.8h0M638.0 391.8h0M635.1 401.0h0M644.7 340.6h0M648.5 316.4h0M650.4 345.0h0M665.6 383.5h0M661.4 340.1h0M497.9 292.0h0M508.1 292.2h0M528.8 291.5h0M532.3 292.3h0"/></g>
<use href="#q260" transform="translate(-0.45,-0.45)" stroke="#bedaf5" stroke-width="1.65" stroke-opacity="0.85"/>
<g stroke="#5b98d4" stroke-width="3.50"><path id="q261" d="M488.3 326.4h0M503.5 326.4h0M524.5 305.9h0M537.9 304.3h0M545.5 304.3h0M551.2 328.5h0M551.2 315.0h0M557.9 326.4h0M590.3 303.6h0M549.3 324.6h0M551.2 303.0h0M572.2 324.6h0M540.8 323.0h0M578.9 323.0h0M580.8 302.5h0M564.6 302.0h0M583.7 319.0h0M592.2 310.1h0M589.4 326.4h0M626.5 325.1h0M628.5 308.6h0M628.5 300.1h0M632.3 322.6h0M633.2 315.0h0M608.5 321.6h0M616.1 321.6h0M625.6 306.9h0M623.7 313.5h0M637.1 319.6h0M639.0 305.9h0M664.7 324.3h0"/></g>
<use href="#q261" transform="translate(-0.53,-0.53)" stroke="#bedaf5" stroke-width="1.93" stroke-opacity="0.85"/>
<g stroke="#5b98d4" stroke-width="4.00"><path id="q262" d="M495.0 323.8h0M531.2 319.6h0M542.6 326.4h0M565.5 326.4h0M541.7 324.6h0M563.6 323.0h0M556.0 311.8h0M577.9 310.9h0M578.9 301.5h0M632.2 301.5h0M600.8 301.1h0M620.8 317.9h0M581.8 316.9h0M604.6 316.9h0M634.2 325.1h0M587.5 323.8h0M595.1 315.0h0M631.3 321.6h0M638.0 328.9h0M639.9 314.2h0M645.6 328.9h0M622.8 312.8h0"/></g>
<use href="#q262" transform="translate(-0.60,-0.60)" stroke="#bedaf5" stroke-width="2.20" stroke-opacity="0.85"/>
<g stroke="#ee8c48" stroke-width="2.00"><path id="q263" d="M553.6 338.4h0M603.2 364.5h0"/></g>
<use href="#q263" transform="translate(-0.30,-0.30)" stroke="#fcc9a0" stroke-width="1.10" stroke-opacity="0.85"/>
<g stroke="#ee8c48" stroke-width="2.50"><path id="q264" d="M488.3 333.3h0M498.3 358.3h0M518.8 360.7h0M515.9 382.1h0M545.5 376.8h0M562.2 355.0h0M536.4 373.3h0M551.7 359.0h0M567.9 348.7h0M587.9 379.5h0M580.7 364.1h0M596.9 436.1h0M550.7 355.8h0M589.8 346.0h0M534.0 439.0h0M557.9 350.9h0M588.4 350.9h0M600.3 380.9h0M570.3 366.9h0M601.7 357.6h0M602.2 350.3h0M617.0 345.8h0M631.3 354.7h0M591.3 360.7h0M601.8 335.0h0M613.2 369.3h0M599.9 341.5h0M620.7 423.7h0M628.4 358.0h0M589.8 359.4h0M611.2 426.6h0M568.8 455.8h0M608.9 379.7h0M641.8 353.1h0M650.4 336.2h0M591.7 430.4h0M609.8 398.4h0M639.9 340.1h0M662.8 340.1h0M656.5 381.7h0M665.1 375.1h0M642.3 366.1h0M649.9 366.1h0M629.4 343.6h0M634.7 357.6h0M734.5 329.5h0"/></g>
<use href="#q264" transform="translate(-0.38,-0.38)" stroke="#fcc9a0" stroke-width="1.38" stroke-opacity="0.85"/>
<g stroke="#ee8c48" stroke-width="3.00"><path id="q265" d="M511.6 300.8h0M527.3 365.6h0M531.2 306.9h0M528.8 340.1h0M539.7 369.3h0M556.9 315.0h0M561.7 349.3h0M548.8 405.8h0M584.1 338.4h0M565.5 364.1h0M594.1 302.5h0M561.2 326.4h0M571.7 375.4h0M556.5 362.3h0M584.1 390.3h0M610.8 352.9h0M620.8 320.2h0M625.1 350.3h0M597.4 382.1h0M630.8 356.4h0M637.9 352.1h0M601.7 390.8h0M608.0 335.7h0M617.4 383.1h0M638.4 387.3h0M669.0 317.9h0M637.0 370.1h0M653.3 306.4h0M642.7 365.1h0M637.5 346.8h0M648.0 338.0h0"/></g>
<use href="#q265" transform="translate(-0.45,-0.45)" stroke="#fcc9a0" stroke-width="1.65" stroke-opacity="0.85"/>
<g stroke="#ee8c48" stroke-width="3.50"><path id="q266" d="M537.4 326.4h0M544.1 324.3h0M544.5 305.0h0M567.4 305.0h0M560.3 298.2h0M563.1 330.1h0M601.2 330.1h0M624.6 292.2h0M567.9 324.9h0M581.7 329.6h0M606.5 310.9h0M649.9 329.9h0M648.5 325.3h0"/></g>
<use href="#q266" transform="translate(-0.53,-0.53)" stroke="#fcc9a0" stroke-width="1.93" stroke-opacity="0.85"/>
<g stroke="#ee8c48" stroke-width="4.00"><path id="q267" d="M522.2 311.5h0M559.8 305.0h0M564.6 315.0h0M565.1 308.4h0M578.4 330.1h0M587.5 326.4h0M626.5 317.9h0M633.3 299.8h0"/></g>
<use href="#q267" transform="translate(-0.60,-0.60)" stroke="#fcc9a0" stroke-width="2.20" stroke-opacity="0.85"/>
<g stroke="#4da862" stroke-width="2.00"><path id="q268" d="M593.1 372.6h0M647.5 352.1h0"/></g>
<use href="#q268" transform="translate(-0.30,-0.30)" stroke="#a8deb2" stroke-width="1.10" stroke-opacity="0.85"/>
<g stroke="#4da862" stroke-width="2.50"><path id="q269" d="M489.2 383.5h0M522.6 371.2h0M508.3 336.2h0M535.9 380.3h0M545.5 333.3h0M565.4 374.4h0M545.5 367.9h0M556.0 335.5h0M580.7 384.7h0M598.8 353.9h0M597.0 336.9h0M657.1 332.0h0M664.6 385.0h0M722.6 308.6h0"/></g>
<use href="#q269" transform="translate(-0.38,-0.38)" stroke="#a8deb2" stroke-width="1.38" stroke-opacity="0.85"/>
<g stroke="#4da862" stroke-width="3.00"><path id="q270" d="M486.3 385.6h0M535.0 374.4h0M565.5 356.4h0M563.6 349.3h0M581.7 315.0h0M539.8 346.3h0M560.7 353.9h0M587.4 312.8h0M567.4 350.9h0M579.8 380.3h0M620.8 317.9h0M629.4 309.3h0M591.2 366.2h0M660.8 358.0h0M642.7 371.2h0M612.2 360.7h0M613.2 353.1h0M643.6 391.4h0M657.0 340.1h0"/></g>
<use href="#q270" transform="translate(-0.45,-0.45)" stroke="#a8deb2" stroke-width="1.65" stroke-opacity="0.85"/>
<g stroke="#4da862" stroke-width="3.50"><path id="q271" d="M498.7 312.8h0M538.8 319.6h0M568.3 317.9h0M545.5 304.3h0M566.4 328.5h0M574.1 315.0h0M580.7 326.4h0M565.5 313.8h0M594.1 311.8h0M602.7 302.0h0M599.9 300.8h0M614.1 309.3h0M638.0 300.8h0M614.2 300.4h0M626.5 325.1h0M641.8 325.1h0M625.6 315.0h0M640.9 306.9h0M646.6 321.6h0M612.1 291.7h0"/></g>
<use href="#q271" transform="translate(-0.53,-0.53)" stroke="#a8deb2" stroke-width="1.93" stroke-opacity="0.85"/>
<g stroke="#4da862" stroke-width="4.00"><path id="q272" d="M512.1 309.3h0M539.7 321.6h0M529.3 330.7h0M556.9 312.8h0M578.9 311.8h0M585.5 321.6h0M584.6 320.2h0M631.3 301.1h0M590.3 317.9h0M643.7 317.9h0M605.6 308.6h0M660.9 312.8h0"/></g>
<use href="#q272" transform="translate(-0.60,-0.60)" stroke="#a8deb2" stroke-width="2.20" stroke-opacity="0.85"/>
<g stroke="#e2584a" stroke-width="2.50"><path id="q273" d="M622.7 376.3h0M623.7 343.6h0M609.3 379.1h0"/></g>
<use href="#q273" transform="translate(-0.38,-0.38)" stroke="#f8a89a" stroke-width="1.38" stroke-opacity="0.85"/>
<g stroke="#e2584a" stroke-width="3.00"><path id="q274" d="M532.6 357.6h0M570.7 358.7h0M621.2 437.5h0M658.0 348.2h0M679.8 448.0h0"/></g>
<use href="#q274" transform="translate(-0.45,-0.45)" stroke="#f8a89a" stroke-width="1.65" stroke-opacity="0.85"/>
<g stroke="#e2584a" stroke-width="3.50"><path id="q275" d="M612.7 304.5h0M619.4 312.8h0"/></g>
<use href="#q275" transform="translate(-0.53,-0.53)" stroke="#f8a89a" stroke-width="1.93" stroke-opacity="0.85"/>
<g stroke="#5b98d4" stroke-width="2.00"><path id="q276" d="M520.7 389.5h0M556.0 335.5h0M559.8 378.7h0M544.5 350.9h0M563.6 390.1h0M549.3 366.9h0M615.1 337.9h0"/></g>
<use href="#q276" transform="translate(-0.30,-0.30)" stroke="#bedaf5" stroke-width="1.10" stroke-opacity="0.85"/>
<g stroke="#5b98d4" stroke-width="2.50"><path id="q277" d="M485.4 377.8h0M500.6 377.8h0M515.9 355.4h0M498.8 365.6h0M507.3 350.9h0M521.6 365.6h0M498.8 347.0h0M510.2 382.1h0M512.1 356.4h0M517.8 382.1h0M525.4 382.1h0M534.0 369.3h0M555.9 382.1h0M515.9 388.9h0M549.3 352.6h0M556.9 352.6h0M551.2 406.4h0M554.0 372.1h0M536.9 378.7h0M551.2 374.4h0M580.7 384.7h0M541.7 380.3h0M580.7 370.5h0M581.7 360.7h0M582.7 350.9h0M588.4 370.5h0M551.2 348.2h0M556.9 366.9h0M567.4 338.9h0M576.0 404.3h0M582.7 338.9h0M586.5 376.3h0M593.1 385.6h0M596.0 357.6h0M571.2 363.7h0M580.8 345.8h0M598.8 390.5h0M602.7 354.7h0M603.6 345.8h0M634.1 417.3h0M556.0 352.1h0M571.2 352.1h0M593.2 360.7h0M616.0 360.7h0M617.0 352.1h0M637.9 369.3h0M564.5 399.1h0M578.9 341.5h0M614.1 366.2h0M615.1 358.0h0M630.3 358.0h0M582.7 363.3h0M594.1 331.7h0M611.2 379.1h0M598.9 345.5h0M602.7 375.9h0M612.2 360.7h0M625.5 375.9h0M640.8 375.9h0M645.6 337.9h0M653.2 337.9h0M654.1 391.1h0M598.0 343.6h0M608.4 380.3h0M615.1 387.6h0M624.6 372.9h0M639.8 372.9h0M612.3 341.8h0M629.4 384.3h0M635.1 398.5h0M648.4 356.0h0M650.4 341.8h0M656.1 356.0h0M660.8 377.2h0M666.6 334.7h0M615.1 367.5h0M623.7 360.7h0M631.3 360.7h0M640.8 347.0h0M666.5 381.2h0M631.3 351.9h0M643.7 371.7h0M646.6 351.9h0M668.5 350.0h0M643.7 354.5h0M662.7 379.4h0M671.3 373.2h0M641.8 358.7h0M659.9 340.6h0M672.3 358.7h0M652.3 380.3h0M701.7 329.5h0"/></g>
<use href="#q277" transform="translate(-0.38,-0.38)" stroke="#bedaf5" stroke-width="1.38" stroke-opacity="0.85"/>
<g stroke="#5b98d4" stroke-width="3.00"><path id="q278" d="M501.6 360.7h0M486.4 339.6h0M492.1 371.2h0M506.4 387.0h0M499.7 350.9h0M515.9 319.6h0M535.0 374.4h0M524.5 394.9h0M540.7 382.1h0M508.3 388.9h0M517.8 364.7h0M524.5 376.8h0M529.3 316.4h0M526.4 337.9h0M529.3 394.9h0M549.3 337.9h0M529.3 378.7h0M542.7 313.8h0M573.1 313.8h0M538.8 343.6h0M566.4 374.4h0M577.9 333.3h0M581.7 374.4h0M551.2 360.7h0M556.0 390.1h0M557.9 370.5h0M565.5 370.5h0M583.6 341.1h0M586.5 311.8h0M594.1 311.8h0M564.6 366.9h0M575.1 338.9h0M590.3 338.9h0M579.8 354.7h0M582.7 327.9h0M585.6 301.1h0M589.4 336.9h0M601.7 363.7h0M608.4 372.6h0M615.1 310.1h0M616.0 372.6h0M639.8 363.7h0M583.7 309.3h0M597.9 386.4h0M602.7 343.6h0M577.0 358.0h0M591.3 300.4h0M583.6 431.9h0M594.1 341.5h0M603.6 390.8h0M612.3 316.9h0M580.8 379.1h0M593.2 339.6h0M608.4 339.6h0M613.2 363.3h0M639.9 331.7h0M641.7 379.1h0M662.7 394.9h0M588.4 368.3h0M591.3 345.5h0M601.8 322.6h0M609.3 383.5h0M635.2 299.8h0M640.9 315.0h0M648.5 315.0h0M597.0 350.9h0M601.7 372.9h0M624.7 314.2h0M625.6 365.6h0M638.9 380.3h0M642.7 350.9h0M644.6 336.2h0M647.5 314.2h0M605.6 334.7h0M611.2 405.6h0M618.9 348.9h0M649.4 348.9h0M619.9 333.3h0M628.4 381.2h0M637.0 374.4h0M638.9 360.7h0M639.9 353.9h0M662.7 353.9h0M648.4 391.6h0M657.0 385.0h0M633.2 382.1h0M642.7 369.3h0M663.7 330.7h0M639.9 370.8h0M664.7 381.1h0M667.7 327.0h0M653.8 321.2h0M480.2 291.6h0M487.2 292.0h0M511.6 291.6h0"/></g>
<use href="#q278" transform="translate(-0.45,-0.45)" stroke="#bedaf5" stroke-width="1.65" stroke-opacity="0.85"/>
<g stroke="#5b98d4" stroke-width="3.50"><path id="q279" d="M495.9 308.0h0M501.6 321.6h0M523.6 319.6h0M529.3 330.7h0M530.2 317.9h0M520.7 328.5h0M530.3 304.3h0M565.5 313.8h0M592.2 320.2h0M607.5 320.2h0M607.5 310.1h0M607.5 300.8h0M612.2 326.4h0M615.1 300.8h0M582.7 308.6h0M603.7 325.1h0M613.2 308.6h0M633.2 323.8h0M648.5 323.8h0M621.8 327.6h0M629.5 312.1h0M643.8 311.5h0M640.9 323.3h0"/></g>
<use href="#q279" transform="translate(-0.53,-0.53)" stroke="#bedaf5" stroke-width="1.93" stroke-opacity="0.85"/>
<g stroke="#5b98d4" stroke-width="4.00"><path id="q280" d="M489.2 309.3h0M532.1 305.9h0M544.5 330.7h0M522.6 304.3h0M527.4 326.4h0M579.8 324.6h0M565.5 302.5h0M547.4 321.6h0M555.1 321.6h0M585.5 321.6h0M554.1 320.2h0M561.7 320.2h0M577.0 310.1h0M635.1 316.9h0M634.2 315.9h0M599.9 328.9h0M600.8 321.6h0M601.8 314.2h0M622.7 328.9h0M617.1 306.4h0M663.8 316.4h0"/></g>
<use href="#q280" transform="translate(-0.60,-0.60)" stroke="#bedaf5" stroke-width="2.20" stroke-opacity="0.85"/>
<g stroke="#ee8c48" stroke-width="2.00"><path id="q281" d="M551.7 373.3h0M609.4 345.8h0M593.7 337.4h0M648.0 388.3h0"/></g>
<use href="#q281" transform="translate(-0.30,-0.30)" stroke="#fcc9a0" stroke-width="1.10" stroke-opacity="0.85"/>
<g stroke="#ee8c48" stroke-width="2.50"><path id="q282" d="M491.6 363.3h0M520.2 372.9h0M511.2 360.7h0M572.1 360.7h0M543.1 337.2h0M575.0 372.1h0M576.9 349.3h0M568.8 338.4h0M588.8 369.3h0M568.4 333.3h0M608.3 394.9h0M612.7 346.0h0M603.6 338.9h0M591.7 377.1h0M585.5 354.7h0M594.1 345.8h0M622.7 352.1h0M628.4 369.3h0M629.4 360.7h0M596.0 374.4h0M608.4 333.3h0M654.2 333.3h0M611.7 367.3h0M617.9 371.2h0M610.3 360.7h0M646.5 365.6h0M636.5 380.8h0M637.5 373.7h0M605.6 377.2h0M645.6 363.1h0M626.0 391.5h0M643.7 350.0h0"/></g>
<use href="#q282" transform="translate(-0.38,-0.38)" stroke="#fcc9a0" stroke-width="1.38" stroke-opacity="0.85"/>
<g stroke="#ee8c48" stroke-width="3.00"><path id="q283" d="M496.9 312.8h0M496.4 320.2h0M498.3 379.1h0M527.8 372.9h0M505.9 340.1h0M520.7 333.3h0M538.8 292.2h0M542.6 347.0h0M555.9 374.4h0M520.2 337.2h0M542.2 334.5h0M553.1 376.8h0M564.1 332.2h0M555.0 337.9h0M569.3 349.3h0M556.5 319.2h0M584.6 335.5h0M570.8 317.9h0M578.4 317.9h0M554.1 323.0h0M594.6 375.4h0M594.1 370.5h0M600.7 380.3h0M599.3 390.3h0M612.7 334.2h0M568.4 385.6h0M647.9 350.3h0M589.9 313.6h0M627.9 382.1h0M580.3 386.7h0M653.7 335.7h0M615.1 363.1h0M626.0 381.7h0"/></g>
<use href="#q283" transform="translate(-0.45,-0.45)" stroke="#fcc9a0" stroke-width="1.65" stroke-opacity="0.85"/>
<g stroke="#ee8c48" stroke-width="3.50"><path id="q284" d="M516.9 326.4h0M494.5 315.9h0M524.5 308.0h0M529.3 319.6h0M544.5 319.6h0M552.2 319.6h0M626.0 330.7h0M643.2 304.5h0"/></g>
<use href="#q284" transform="translate(-0.53,-0.53)" stroke="#fcc9a0" stroke-width="1.93" stroke-opacity="0.85"/>
<g stroke="#ee8c48" stroke-width="4.00"><path id="q285" d="M543.6 304.3h0M541.2 319.2h0M579.8 303.0h0M570.8 306.9h0M598.0 310.1h0M613.7 305.0h0M618.0 326.4h0M626.1 303.6h0"/></g>
<use href="#q285" transform="translate(-0.60,-0.60)" stroke="#fcc9a0" stroke-width="2.20" stroke-opacity="0.85"/>
<g stroke="#4da862" stroke-width="2.00"><path id="q286" d="M648.4 333.3h0M632.2 331.7h0"/></g>
<use href="#q286" transform="translate(-0.30,-0.30)" stroke="#a8deb2" stroke-width="1.10" stroke-opacity="0.85"/>
<g stroke="#4da862" stroke-width="2.50"><path id="q287" d="M515.9 377.8h0M521.6 347.0h0M529.3 347.0h0M534.0 388.1h0M525.4 382.1h0M570.2 376.8h0M571.2 335.5h0M605.5 378.7h0M589.3 374.4h0M593.1 333.3h0M556.9 380.3h0M581.7 360.7h0M607.4 331.3h0M594.1 394.9h0M652.2 394.9h0M653.2 391.8h0"/></g>
<use href="#q287" transform="translate(-0.38,-0.38)" stroke="#a8deb2" stroke-width="1.38" stroke-opacity="0.85"/>
<g stroke="#4da862" stroke-width="3.00"><path id="q288" d="M514.0 365.6h0M552.1 347.0h0M568.3 333.3h0M541.7 352.6h0M552.2 316.4h0M575.0 316.4h0M541.7 337.9h0M544.6 303.6h0M571.2 349.3h0M581.7 303.0h0M564.6 312.8h0M573.2 302.5h0M588.3 384.7h0M590.3 350.9h0M615.1 331.3h0M602.7 354.7h0M596.0 335.0h0M639.8 352.1h0M601.8 331.7h0M602.7 387.0h0M625.5 387.0h0M610.4 315.0h0M646.5 391.1h0M667.5 384.3h0"/></g>
<use href="#q288" transform="translate(-0.45,-0.45)" stroke="#a8deb2" stroke-width="1.65" stroke-opacity="0.85"/>
<g stroke="#4da862" stroke-width="3.50"><path id="q289" d="M559.8 303.6h0M625.5 312.8h0M585.5 310.9h0M593.2 310.9h0M590.3 327.9h0M593.2 301.1h0M597.9 317.9h0M598.9 309.3h0M627.5 326.4h0M630.4 300.8h0M604.6 316.9h0M627.5 316.9h0M629.4 300.4h0M616.1 330.3h0M626.6 299.5h0M630.4 328.9h0M600.0 291.7h0M603.8 291.8h0M607.5 292.0h0M619.6 291.8h0"/></g>
<use href="#q289" transform="translate(-0.53,-0.53)" stroke="#a8deb2" stroke-width="1.93" stroke-opacity="0.85"/>
<g stroke="#4da862" stroke-width="4.00"><path id="q290" d="M511.1 326.4h0M509.3 321.6h0M540.7 306.9h0M547.4 305.9h0M553.1 317.9h0M561.7 305.0h0M611.2 313.8h0M602.7 312.8h0M616.0 310.9h0M651.3 317.9h0M620.8 308.6h0M671.3 315.0h0M639.9 314.2h0M631.3 313.5h0M642.8 325.3h0M660.9 305.5h0"/></g>
<use href="#q290" transform="translate(-0.60,-0.60)" stroke="#a8deb2" stroke-width="2.20" stroke-opacity="0.85"/>
<g stroke="#e2584a" stroke-width="2.50"><path id="q291" d="M513.0 371.2h0M529.7 343.6h0M539.7 388.1h0M574.5 373.3h0M592.2 335.5h0M587.9 352.9h0M641.7 386.4h0M640.8 382.6h0M642.7 345.5h0"/></g>
<use href="#q291" transform="translate(-0.38,-0.38)" stroke="#f8a89a" stroke-width="1.38" stroke-opacity="0.85"/>
<g stroke="#e2584a" stroke-width="3.00"><path id="q292" d="M502.5 383.5h0M514.0 377.8h0M546.4 323.8h0M548.3 374.4h0M556.9 343.6h0M569.7 370.8h0M601.2 385.2h0M604.1 355.8h0M627.4 419.4h0M584.5 376.3h0M598.4 386.0h0M629.9 296.5h0M651.3 358.0h0M639.3 405.2h0M608.8 436.7h0"/></g>
<use href="#q292" transform="translate(-0.45,-0.45)" stroke="#f8a89a" stroke-width="1.65" stroke-opacity="0.85"/>
<g stroke="#e2584a" stroke-width="3.50"><path id="q293" d="M642.2 322.2h0"/></g>
<use href="#q293" transform="translate(-0.53,-0.53)" stroke="#f8a89a" stroke-width="1.93" stroke-opacity="0.85"/>
<g stroke="#e2584a" stroke-width="4.00"><path id="q294" d="M531.2 306.9h0M600.3 296.7h0M623.2 296.7h0"/></g>
<use href="#q294" transform="translate(-0.60,-0.60)" stroke="#f8a89a" stroke-width="2.20" stroke-opacity="0.85"/>
<g stroke="#5b98d4" stroke-width="2.00"><path id="q295" d="M537.8 383.5h0M541.7 337.9h0M587.4 380.3h0M557.9 357.6h0M644.6 366.2h0M674.2 362.8h0M661.8 385.6h0"/></g>
<use href="#q295" transform="translate(-0.30,-0.30)" stroke="#bedaf5" stroke-width="1.10" stroke-opacity="0.85"/>
<g stroke="#5b98d4" stroke-width="2.50"><path id="q296" d="M509.2 339.6h0M493.1 336.2h0M527.4 356.4h0M540.7 364.7h0M525.5 349.3h0M540.7 349.3h0M547.4 360.7h0M531.2 357.1h0M533.1 335.5h0M577.9 346.3h0M580.7 400.4h0M542.6 384.7h0M573.1 384.7h0M576.9 343.6h0M585.5 333.3h0M546.5 331.3h0M548.3 390.1h0M572.2 380.3h0M597.9 350.9h0M599.8 331.3h0M597.9 338.9h0M557.9 345.8h0M559.8 399.4h0M565.5 345.8h0M588.4 345.8h0M612.2 336.9h0M573.2 335.0h0M577.9 360.7h0M578.9 352.1h0M598.9 377.8h0M606.5 377.8h0M638.9 360.7h0M641.8 335.0h0M588.4 390.8h0M613.2 374.4h0M657.9 382.6h0M583.6 355.4h0M591.3 355.4h0M599.8 347.5h0M642.7 371.2h0M568.4 406.4h0M591.2 406.4h0M630.3 337.9h0M634.1 368.3h0M637.0 345.5h0M638.0 337.9h0M642.7 360.7h0M648.4 375.9h0M650.3 360.7h0M651.3 353.1h0M658.9 353.1h0M595.1 365.6h0M618.9 358.3h0M621.8 336.2h0M631.3 380.3h0M637.0 336.2h0M589.4 341.8h0M590.3 391.4h0M607.5 377.2h0M615.1 377.2h0M625.6 356.0h0M626.5 348.9h0M632.2 363.1h0M670.4 363.1h0M612.3 333.3h0M626.6 340.1h0M641.8 340.1h0M648.5 347.0h0M652.2 374.4h0M618.9 385.0h0M624.7 345.2h0M632.3 345.2h0M663.7 391.6h0M655.2 337.2h0M662.7 388.5h0M669.4 376.8h0M656.1 356.8h0M661.8 360.7h0M667.5 372.1h0M703.0 342.7h0"/></g>
<use href="#q296" transform="translate(-0.38,-0.38)" stroke="#bedaf5" stroke-width="1.38" stroke-opacity="0.85"/>
<g stroke="#5b98d4" stroke-width="3.00"><path id="q297" d="M515.9 377.8h0M494.0 321.6h0M514.0 347.0h0M534.0 388.1h0M519.7 356.4h0M523.5 407.8h0M533.1 382.1h0M536.9 330.7h0M538.8 305.0h0M522.6 383.5h0M555.9 440.6h0M561.7 372.1h0M564.5 337.9h0M544.5 378.7h0M548.4 335.5h0M561.7 357.1h0M562.6 346.3h0M586.5 323.0h0M542.6 370.5h0M550.3 370.5h0M577.0 331.3h0M571.2 376.3h0M608.4 310.9h0M570.3 372.6h0M584.6 310.1h0M574.1 326.4h0M604.6 326.4h0M607.4 369.3h0M617.9 343.6h0M589.3 382.6h0M597.0 316.9h0M619.8 382.6h0M629.4 366.2h0M589.3 371.2h0M601.8 331.7h0M602.7 323.8h0M603.7 315.9h0M606.5 355.4h0M615.1 347.5h0M620.9 300.1h0M635.1 308.0h0M638.9 339.6h0M642.8 308.0h0M643.7 363.3h0M644.6 355.4h0M608.4 330.3h0M624.6 383.5h0M628.4 353.1h0M649.4 368.3h0M604.6 350.9h0M606.5 336.2h0M611.3 299.5h0M609.4 372.9h0M633.2 365.6h0M606.5 384.3h0M611.3 348.9h0M618.0 356.0h0M620.8 334.7h0M627.5 341.8h0M628.4 391.4h0M638.0 320.5h0M639.9 306.4h0M638.9 370.1h0M641.8 348.9h0M644.6 418.2h0M652.3 365.1h0M666.5 371.7h0M636.1 354.5h0M640.8 373.2h0M649.4 366.9h0M653.3 342.0h0M655.1 379.4h0M644.6 388.9h0M645.6 382.9h0M659.0 332.2h0M680.3 317.4h0M504.2 292.3h0M546.3 291.5h0"/></g>
<use href="#q297" transform="translate(-0.45,-0.45)" stroke="#bedaf5" stroke-width="1.65" stroke-opacity="0.85"/>
<g stroke="#5b98d4" stroke-width="3.50"><path id="q298" d="M502.6 306.9h0M510.2 306.9h0M537.9 317.9h0M546.4 305.0h0M528.3 328.5h0M553.1 304.3h0M543.6 315.0h0M544.6 303.6h0M558.8 315.0h0M535.0 313.8h0M536.0 303.0h0M578.9 311.8h0M560.8 329.6h0M598.9 329.6h0M567.4 327.9h0M614.1 319.0h0M575.1 317.9h0M589.4 316.9h0M598.9 300.4h0M618.9 307.4h0M625.6 315.0h0M609.4 314.2h0M617.0 314.2h0M638.9 321.6h0M645.6 320.5h0M628.5 326.4h0M651.4 318.7h0M633.3 330.7h0"/></g>
<use href="#q298" transform="translate(-0.53,-0.53)" stroke="#bedaf5" stroke-width="1.93" stroke-opacity="0.85"/>
<g stroke="#5b98d4" stroke-width="4.00"><path id="q299" d="M496.9 309.3h0M510.2 323.8h0M516.9 305.9h0M538.8 319.6h0M580.8 313.8h0M533.1 323.0h0M557.0 312.8h0M562.7 321.6h0M571.3 311.8h0M593.2 321.6h0M570.3 310.9h0M576.0 319.0h0M578.0 301.1h0M581.7 326.4h0M599.9 300.8h0M580.8 325.1h0M596.1 315.9h0M663.7 323.8h0M603.7 307.4h0M607.5 328.9h0M619.0 299.5h0M631.3 313.5h0M640.9 330.7h0M649.5 324.3h0M639.9 329.6h0M655.2 329.6h0M649.5 310.3h0"/></g>
<use href="#q299" transform="translate(-0.60,-0.60)" stroke="#bedaf5" stroke-width="2.20" stroke-opacity="0.85"/>
<g stroke="#ee8c48" stroke-width="2.00"><path id="q300" d="M547.9 358.7h0M615.1 335.5h0"/></g>
<use href="#q300" transform="translate(-0.30,-0.30)" stroke="#fcc9a0" stroke-width="1.10" stroke-opacity="0.85"/>
<g stroke="#ee8c48" stroke-width="2.50"><path id="q301" d="M503.0 338.9h0M531.2 364.7h0M540.7 340.6h0M548.3 340.6h0M581.2 400.7h0M577.4 340.9h0M576.0 346.3h0M560.3 348.7h0M552.7 336.2h0M592.6 380.9h0M614.6 390.3h0M576.0 385.6h0M628.9 386.0h0M586.0 347.9h0M591.7 365.0h0M626.0 375.2h0M631.7 379.7h0M640.3 372.1h0M652.2 391.1h0M660.8 383.5h0M639.4 369.3h0M641.8 343.6h0M624.6 348.9h0M661.8 373.2h0M616.5 455.5h0"/></g>
<use href="#q301" transform="translate(-0.38,-0.38)" stroke="#fcc9a0" stroke-width="1.38" stroke-opacity="0.85"/>
<g stroke="#ee8c48" stroke-width="3.00"><path id="q302" d="M530.2 360.7h0M542.1 367.5h0M537.9 305.9h0M518.3 362.8h0M523.5 382.1h0M558.8 304.3h0M569.3 335.5h0M561.2 338.4h0M569.8 328.2h0M572.6 379.5h0M582.2 359.0h0M593.6 317.9h0M579.3 375.4h0M584.5 390.1h0M593.1 380.3h0M579.8 348.2h0M600.8 366.9h0M583.1 386.0h0M584.1 377.1h0M604.6 319.0h0M583.1 373.5h0M616.5 337.4h0M637.5 353.9h0M623.2 335.7h0M602.7 371.2h0M597.5 349.3h0M608.4 375.9h0M648.4 360.7h0M616.5 359.5h0M648.0 352.4h0M657.1 334.7h0M646.1 348.5h0M637.0 351.9h0M660.9 370.8h0"/></g>
<use href="#q302" transform="translate(-0.45,-0.45)" stroke="#fcc9a0" stroke-width="1.65" stroke-opacity="0.85"/>
<g stroke="#ee8c48" stroke-width="3.50"><path id="q303" d="M502.6 309.3h0M508.8 314.2h0M522.6 321.6h0M537.4 311.5h0M597.0 319.0h0M579.4 329.2h0M638.0 314.2h0M646.6 306.9h0"/></g>
<use href="#q303" transform="translate(-0.53,-0.53)" stroke="#fcc9a0" stroke-width="1.93" stroke-opacity="0.85"/>
<g stroke="#ee8c48" stroke-width="4.00"><path id="q304" d="M510.2 329.6h0M510.2 309.3h0M522.1 326.4h0M546.0 298.6h0M572.7 320.7h0M556.0 313.8h0M585.1 328.2h0M569.8 306.2h0M591.7 315.6h0M619.8 329.6h0M606.0 314.5h0M614.6 305.6h0M627.5 319.0h0M641.8 327.9h0M617.0 325.1h0M642.3 304.1h0M608.0 326.4h0M622.3 317.0h0M624.2 302.8h0M632.8 327.5h0"/></g>
<use href="#q304" transform="translate(-0.60,-0.60)" stroke="#fcc9a0" stroke-width="2.20" stroke-opacity="0.85"/>
<g stroke="#4da862" stroke-width="2.50"><path id="q305" d="M530.2 333.3h0M550.2 340.6h0M555.0 376.8h0M549.3 337.9h0M557.8 417.8h0M571.2 422.0h0M575.0 378.7h0M591.2 367.9h0M554.1 343.6h0M555.0 415.5h0M557.8 384.7h0M568.4 341.1h0M588.3 370.5h0M600.7 385.6h0M605.5 338.9h0M624.6 352.1h0M622.7 347.5h0M654.1 339.6h0M637.0 374.4h0M658.0 360.7h0M663.7 356.8h0M723.7 439.6h0"/></g>
<use href="#q305" transform="translate(-0.38,-0.38)" stroke="#a8deb2" stroke-width="1.38" stroke-opacity="0.85"/>
<g stroke="#4da862" stroke-width="3.00"><path id="q306" d="M489.2 353.9h0M490.1 429.2h0M517.8 323.8h0M533.1 323.8h0M534.0 308.0h0M524.5 321.6h0M520.7 360.7h0M544.5 330.7h0M543.6 328.5h0M544.5 316.4h0M564.5 337.9h0M575.0 303.6h0M599.8 280.8h0M599.8 372.1h0M563.6 323.0h0M578.8 390.1h0M610.3 380.3h0M619.8 360.7h0M566.5 348.2h0M600.8 310.9h0M622.7 320.2h0M591.3 309.3h0M609.3 352.1h0M639.8 341.5h0M642.7 382.6h0M584.5 410.8h0M620.8 363.3h0M637.9 347.5h0M650.4 308.0h0M632.3 314.2h0"/></g>
<use href="#q306" transform="translate(-0.45,-0.45)" stroke="#a8deb2" stroke-width="1.65" stroke-opacity="0.85"/>
<g stroke="#4da862" stroke-width="3.50"><path id="q307" d="M519.7 309.3h0M554.1 305.0h0M536.0 328.5h0M557.9 326.4h0M557.9 313.8h0M565.5 302.5h0M562.7 321.6h0M600.8 321.6h0M600.8 301.1h0M606.5 300.4h0M637.0 300.4h0M643.7 308.6h0M655.1 314.2h0M660.9 320.5h0M653.3 305.5h0"/></g>
<use href="#q307" transform="translate(-0.53,-0.53)" stroke="#a8deb2" stroke-width="1.93" stroke-opacity="0.85"/>
<g stroke="#4da862" stroke-width="4.00"><path id="q308" d="M496.9 309.3h0M533.1 306.9h0M521.7 330.7h0M531.2 305.0h0M552.1 330.7h0M560.7 304.3h0M558.8 315.0h0M589.3 315.0h0M596.9 315.0h0M586.5 311.8h0M586.5 301.5h0M606.5 329.6h0M615.1 320.2h0M616.1 301.1h0M597.0 316.9h0M644.7 300.4h0M612.3 308.0h0M608.4 330.3h0M647.5 322.6h0"/></g>
<use href="#q308" transform="translate(-0.60,-0.60)" stroke="#a8deb2" stroke-width="2.20" stroke-opacity="0.85"/>
<g stroke="#e2584a" stroke-width="2.50"><path id="q309" d="M641.3 354.6h0"/></g>
<use href="#q309" transform="translate(-0.38,-0.38)" stroke="#f8a89a" stroke-width="1.38" stroke-opacity="0.85"/>
<g stroke="#e2584a" stroke-width="3.00"><path id="q310" d="M568.8 422.4h0M549.3 328.5h0M576.9 364.7h0M543.1 384.1h0M596.4 369.3h0M632.2 379.1h0M635.1 355.4h0M638.4 366.6h0M622.2 418.9h0"/></g>
<use href="#q310" transform="translate(-0.45,-0.45)" stroke="#f8a89a" stroke-width="1.65" stroke-opacity="0.85"/>
<g stroke="#e2584a" stroke-width="3.50"><path id="q311" d="M571.7 319.2h0M608.0 296.7h0"/></g>
<use href="#q311" transform="translate(-0.53,-0.53)" stroke="#f8a89a" stroke-width="1.93" stroke-opacity="0.85"/>
<g stroke="#e2584a" stroke-width="4.00"><path id="q312" d="M645.2 317.0h0"/></g>
<use href="#q312" transform="translate(-0.60,-0.60)" stroke="#f8a89a" stroke-width="2.20" stroke-opacity="0.85"/>
<circle cx="508.9" cy="291.6" r="7.2" fill="url(#gCHO)" fill-opacity="0.90"/>
<circle cx="524" cy="291.6" r="8.3" fill="url(#gCHO)" fill-opacity="0.90"/>
<circle cx="514.6" cy="274.6" r="3" fill="url(#gCHOS)" fill-opacity="0.85"/>
<circle cx="527.8" cy="277.4" r="3.5" fill="url(#gCHOS)" fill-opacity="0.85"/>
<circle cx="535.4" cy="277.4" r="3" fill="url(#gCHOS)" fill-opacity="0.85"/>
<circle cx="548.6" cy="279.3" r="2.5" fill="url(#gCHOS)" fill-opacity="0.85"/>
<circle cx="556.2" cy="278.7" r="4.5" fill="url(#gCHOS)" fill-opacity="0.85"/>
<circle cx="569.4" cy="280.2" r="3.5" fill="url(#gCHOS)" fill-opacity="0.85"/>
<circle cx="577" cy="280.2" r="4.5" fill="url(#gCHOS)" fill-opacity="0.85"/>
<circle cx="598.8" cy="281.2" r="4" fill="url(#gCHOS)" fill-opacity="0.85"/>
<circle cx="555.3" cy="291.6" r="5" fill="url(#gCHOS)" fill-opacity="0.85"/>
<circle cx="565.7" cy="286.9" r="6.5" fill="url(#gCHOS)" fill-opacity="0.85"/>
<circle cx="576" cy="291.6" r="4" fill="url(#gCHOS)" fill-opacity="0.85"/>
<circle cx="582.7" cy="291.6" r="4" fill="url(#gCHOS)" fill-opacity="0.85"/>
<circle cx="594" cy="293.5" r="6.5" fill="url(#gCHOS)" fill-opacity="0.85"/>
<circle cx="566.6" cy="297.3" r="5" fill="url(#gCHOS)" fill-opacity="0.85"/>
<circle cx="546.7" cy="306" r="5" fill="url(#gCHOS)" fill-opacity="0.85"/>
<circle cx="661.4" cy="284.2" r="2" fill="url(#gCHOS)" fill-opacity="0.90"/>
<circle cx="609.2" cy="286.9" r="7.5" fill="url(#gCHONS)" fill-opacity="0.90"/>
<circle cx="623.3" cy="287.8" r="8.5" fill="url(#gCHONS)" fill-opacity="0.90"/>
<circle cx="582.7" cy="285.9" r="2.8" fill="url(#gCHONS)" fill-opacity="0.90"/>
<circle cx="594" cy="298.2" r="4" fill="url(#gCHONS)" fill-opacity="0.90"/>
<circle cx="632.5" cy="320" r="4.5" fill="url(#gCHONS)" fill-opacity="0.90"/>
<circle cx="609.6" cy="409.1" r="5" fill="url(#gCHONS)" fill-opacity="0.90"/>
<circle cx="567" cy="453" r="3.7" fill="url(#gCHONS)" fill-opacity="0.90"/>
<circle cx="580.7" cy="440.2" r="2.8" fill="url(#gCHONS)" fill-opacity="0.90"/>
<circle cx="669" cy="421.3" r="2.5" fill="url(#gCHONS)" fill-opacity="0.90"/>
<circle cx="503.2" cy="300.1" r="2.5" fill="url(#gCHON)" fill-opacity="0.90"/>
<circle cx="667.7" cy="370.4" r="7.5" fill="url(#gCHON)" fill-opacity="0.90"/>
<circle cx="655" cy="375" r="5.5" fill="url(#gCHON)" fill-opacity="0.90"/>
<circle cx="707.5" cy="347.2" r="3" fill="url(#gCHON)" fill-opacity="0.90"/>
<circle cx="612.4" cy="432.3" r="2.5" fill="url(#gCHON)" fill-opacity="0.90"/>
<circle cx="493.7" cy="335.6" r="5.5" fill="url(#gCHO)" fill-opacity="0.85"/>
<circle cx="527" cy="340.1" r="22" fill="url(#gCHO)" fill-opacity="0.75"/>
<circle cx="612" cy="343" r="8.5" fill="url(#gCHO)" fill-opacity="0.65"/>
<circle cx="521.5" cy="303.6" r="3.8" fill="url(#gCHO)" fill-opacity="0.85"/>
<circle cx="582.8" cy="413.4" r="2.5" fill="url(#gCHO)" fill-opacity="0.90"/>
<circle cx="568" cy="419.5" r="1.8" fill="url(#gCHOS)" fill-opacity="0.90"/>
<circle cx="651.8" cy="458.8" r="2" fill="url(#gCHOS)" fill-opacity="0.90"/>
<g stroke="#5b98d4" stroke-width="2.00"><path id="q313" d="M541.6 369.3h0M555.0 376.8h0M553.1 367.9h0M574.1 374.4h0M584.5 409.6h0M559.8 338.9h0M581.7 348.2h0M601.7 376.3h0M585.5 372.6h0M575.0 374.4h0M631.3 349.7h0M652.3 345.5h0M611.3 358.3h0M643.7 334.7h0M661.8 343.6h0M659.0 354.5h0"/></g>
<use href="#q313" transform="translate(-0.30,-0.30)" stroke="#bedaf5" stroke-width="1.10" stroke-opacity="0.85"/>
<g stroke="#5b98d4" stroke-width="2.50"><path id="q314" d="M486.4 360.7h0M501.6 339.6h0M491.1 365.6h0M497.8 380.3h0M508.3 336.2h0M514.0 365.6h0M515.0 350.9h0M507.4 333.3h0M527.3 374.4h0M530.2 333.3h0M536.9 347.0h0M537.8 333.3h0M542.6 374.4h0M504.5 356.4h0M518.8 369.3h0M542.6 356.4h0M542.6 340.6h0M548.3 364.7h0M550.2 340.6h0M555.9 364.7h0M557.9 340.6h0M563.6 364.7h0M523.6 372.1h0M531.2 372.1h0M544.5 394.9h0M556.0 349.3h0M556.9 337.9h0M563.6 349.3h0M571.2 349.3h0M535.0 400.4h0M538.8 357.1h0M539.8 346.3h0M540.7 335.5h0M552.1 378.7h0M567.4 378.7h0M578.8 335.5h0M535.0 384.7h0M546.5 343.6h0M550.2 384.7h0M555.0 333.3h0M557.9 384.7h0M560.7 353.9h0M567.4 364.1h0M543.6 360.7h0M559.8 350.9h0M564.5 380.3h0M566.5 360.7h0M576.0 341.1h0M578.8 390.1h0M589.3 360.7h0M606.4 419.4h0M620.8 350.9h0M556.0 376.3h0M589.3 348.2h0M599.8 394.9h0M604.6 348.2h0M616.9 376.3h0M556.9 354.7h0M586.5 363.7h0M597.9 399.4h0M604.6 336.9h0M565.5 403.5h0M569.3 369.3h0M575.0 386.4h0M576.0 377.8h0M576.9 369.3h0M585.5 360.7h0M596.0 335.0h0M601.7 352.1h0M611.3 335.0h0M623.6 360.7h0M639.8 352.1h0M576.0 366.2h0M579.8 333.3h0M585.5 349.7h0M587.5 333.3h0M587.4 399.1h0M596.0 390.8h0M612.2 382.6h0M617.0 341.5h0M618.9 390.8h0M620.8 374.4h0M623.7 349.7h0M625.6 333.3h0M627.4 382.6h0M632.2 341.5h0M638.9 349.7h0M584.6 347.5h0M585.6 339.6h0M587.4 387.0h0M588.4 379.1h0M592.2 347.5h0M598.9 355.4h0M621.8 355.4h0M629.4 355.4h0M590.3 353.1h0M592.2 337.9h0M594.1 383.5h0M597.9 414.0h0M601.7 383.5h0M603.6 368.3h0M606.5 345.5h0M607.5 337.9h0M606.5 406.4h0M614.1 345.5h0M622.7 337.9h0M626.5 368.3h0M660.8 337.9h0M600.8 380.3h0M613.2 343.6h0M614.2 336.2h0M617.9 365.6h0M627.5 350.9h0M637.9 387.6h0M645.5 387.6h0M617.0 363.1h0M619.9 341.8h0M637.9 377.2h0M642.7 341.8h0M606.5 374.4h0M617.0 353.9h0M618.9 340.1h0M622.7 367.5h0M625.6 347.0h0M655.1 353.9h0M617.0 398.3h0M620.8 371.7h0M625.6 338.6h0M658.9 371.7h0M626.5 375.7h0M628.5 362.8h0M627.5 360.7h0M637.0 398.1h0M650.4 360.7h0M642.8 352.6h0M654.2 376.8h0M665.6 352.6h0"/></g>
<use href="#q314" transform="translate(-0.38,-0.38)" stroke="#bedaf5" stroke-width="1.38" stroke-opacity="0.85"/>
<g stroke="#5b98d4" stroke-width="3.00"><path id="q315" d="M488.3 348.2h0M499.7 371.2h0M500.7 336.2h0M506.4 365.6h0M515.9 336.2h0M520.7 380.3h0M525.5 306.9h0M528.3 380.3h0M496.9 374.4h0M499.7 333.3h0M522.6 333.3h0M529.3 347.0h0M511.2 369.3h0M516.0 305.0h0M535.9 343.6h0M546.4 407.8h0M548.3 382.1h0M518.8 352.6h0M527.4 340.6h0M532.1 376.8h0M534.0 352.6h0M538.8 388.9h0M546.4 388.9h0M530.2 383.5h0M535.9 406.4h0M548.3 349.3h0M550.3 326.4h0M560.7 383.5h0M530.2 367.9h0M543.6 303.0h0M543.6 389.5h0M566.4 389.5h0M571.2 335.5h0M576.0 367.9h0M536.9 364.1h0M537.9 353.9h0M552.2 364.1h0M553.1 353.9h0M561.7 343.6h0M562.7 333.3h0M564.6 312.8h0M565.5 384.7h0M570.3 333.3h0M571.2 323.0h0M575.0 364.1h0M584.6 343.6h0M594.0 405.2h0M547.4 399.8h0M549.3 380.3h0M552.2 350.9h0M570.3 321.6h0M573.1 370.5h0M584.6 331.3h0M592.2 331.3h0M600.8 321.6h0M602.6 380.3h0M607.4 409.6h0M553.1 329.6h0M583.6 329.6h0M587.4 366.9h0M591.3 329.6h0M593.2 310.9h0M594.1 301.5h0M594.1 376.3h0M603.6 357.6h0M580.7 417.3h0M593.2 301.1h0M589.3 408.4h0M593.1 372.6h0M595.1 354.7h0M597.0 336.9h0M606.5 319.0h0M613.2 327.9h0M617.9 354.7h0M644.6 390.5h0M562.7 360.7h0M568.4 377.8h0M570.3 360.7h0M576.0 309.3h0M584.6 369.3h0M588.4 335.0h0M590.3 317.9h0M600.8 360.7h0M605.6 317.9h0M624.6 352.1h0M582.7 374.4h0M590.3 374.4h0M600.8 349.7h0M601.7 341.5h0M606.6 300.4h0M605.5 374.4h0M611.3 325.1h0M611.2 390.8h0M619.9 316.9h0M621.7 366.2h0M636.1 308.6h0M595.1 323.8h0M612.3 308.0h0M612.2 371.2h0M614.1 355.4h0M626.6 315.9h0M625.5 387.0h0M627.5 371.2h0M628.4 363.3h0M630.3 347.5h0M634.1 379.1h0M638.0 347.5h0M595.1 375.9h0M597.0 360.7h0M611.3 368.3h0M616.0 391.1h0M633.2 375.9h0M594.1 372.9h0M616.0 380.3h0M622.7 387.6h0M626.5 358.3h0M630.4 328.9h0M635.1 350.9h0M641.8 358.3h0M643.7 343.6h0M646.5 380.3h0M650.4 350.9h0M651.3 343.6h0M655.1 372.9h0M613.2 334.7h0M616.0 370.1h0M622.7 377.2h0M630.4 320.5h0M632.3 306.4h0M625.5 412.7h0M634.2 348.9h0M644.7 327.6h0M645.6 377.2h0M652.3 327.6h0M663.7 356.0h0M669.4 370.1h0M614.1 374.4h0M620.8 381.2h0M638.0 367.5h0M642.8 333.3h0M646.5 360.7h0M649.4 340.1h0M653.2 367.5h0M626.5 385.0h0M630.4 358.5h0M633.2 338.6h0M634.2 332.0h0M644.6 365.1h0M665.6 325.3h0M625.6 330.7h0M635.1 369.3h0M637.0 356.4h0M634.2 366.9h0M635.1 360.7h0M646.6 335.8h0M650.4 310.9h0M647.5 379.4h0M654.2 385.6h0M647.5 370.8h0M654.2 328.5h0M656.2 316.4h0M660.9 334.5h0M649.4 350.9h0M640.8 394.9h0M664.7 343.6h0M646.2 313.2h0M653.8 313.7h0M660.1 319.5h0M640.0 330.0h0M483.7 291.9h0M491.0 291.7h0M493.8 292.0h0M514.8 292.0h0M525.4 291.9h0M536.2 292.2h0M539.7 291.8h0"/></g>
<use href="#q315" transform="translate(-0.45,-0.45)" stroke="#bedaf5" stroke-width="1.65" stroke-opacity="0.85"/>
<g stroke="#5b98d4" stroke-width="3.50"><path id="q316" d="M496.9 329.6h0M516.9 321.6h0M555.0 305.9h0M531.2 305.0h0M543.6 328.5h0M535.0 326.4h0M536.9 303.6h0M559.8 303.6h0M549.3 312.8h0M572.2 312.8h0M617.9 312.8h0M577.9 321.6h0M595.1 302.0h0M599.8 320.2h0M600.8 310.9h0M590.3 327.9h0M605.6 327.9h0M613.2 317.9h0M588.4 315.9h0M640.8 323.8h0M596.1 307.4h0M602.7 315.0h0M627.5 299.8h0M647.5 322.6h0M655.1 322.6h0M661.8 321.6h0M662.8 314.2h0M614.2 327.6h0M622.8 320.5h0M629.4 327.6h0M667.5 327.6h0M621.8 319.6h0M630.4 312.8h0M652.3 319.6h0M628.5 318.7h0M645.7 305.5h0M651.4 311.5h0M647.6 329.6h0M656.1 323.3h0M706.8 314.4h0"/></g>
<use href="#q316" transform="translate(-0.53,-0.53)" stroke="#bedaf5" stroke-width="1.93" stroke-opacity="0.85"/>
<g stroke="#5b98d4" stroke-width="4.00"><path id="q317" d="M502.6 323.8h0M517.8 323.8h0M524.5 321.6h0M509.3 305.9h0M536.0 328.5h0M558.8 328.5h0M574.1 328.5h0M550.3 313.8h0M564.6 324.6h0M587.4 312.8h0M557.0 302.0h0M563.6 311.8h0M584.6 320.2h0M608.4 301.1h0M592.3 300.8h0M598.9 309.3h0M628.4 317.9h0M596.0 325.1h0M614.2 300.4h0M618.9 325.1h0M621.8 300.4h0M627.5 316.9h0M625.6 323.8h0M593.2 330.3h0M600.8 330.3h0M615.1 328.9h0M657.1 299.5h0M616.1 313.5h0M662.8 306.4h0M629.4 319.6h0M660.9 312.8h0M637.1 312.1h0M638.0 305.5h0"/></g>
<use href="#q317" transform="translate(-0.60,-0.60)" stroke="#bedaf5" stroke-width="2.20" stroke-opacity="0.85"/>
<g stroke="#5b98d4" stroke-width="5.00"><path id="q318" d="M674.0 326.3h0"/></g>
<use href="#q318" transform="translate(-0.75,-0.75)" stroke="#bedaf5" stroke-width="2.75" stroke-opacity="0.85"/>
<g stroke="#ee8c48" stroke-width="2.00"><path id="q319" d="M555.0 352.6h0M537.4 362.5h0M595.0 374.4h0M570.7 385.2h0M636.5 414.7h0M599.8 419.8h0"/></g>
<use href="#q319" transform="translate(-0.30,-0.30)" stroke="#fcc9a0" stroke-width="1.10" stroke-opacity="0.85"/>
<g stroke="#ee8c48" stroke-width="2.50"><path id="q320" d="M506.4 377.8h0M507.3 360.7h0M499.2 363.3h0M499.7 339.6h0M513.0 371.2h0M544.5 336.2h0M530.7 382.9h0M553.6 382.9h0M555.5 358.7h0M530.2 376.8h0M535.9 383.5h0M547.4 337.9h0M554.1 349.3h0M546.9 340.9h0M566.0 384.1h0M556.9 389.5h0M566.4 367.9h0M573.1 378.7h0M594.1 384.7h0M548.8 375.4h0M583.1 336.2h0M597.9 331.3h0M611.2 350.9h0M536.4 409.0h0M607.9 380.9h0M629.8 390.3h0M610.3 348.2h0M590.7 386.0h0M601.7 345.8h0M604.6 390.5h0M612.7 382.1h0M649.8 390.7h0M582.7 369.3h0M630.3 352.1h0M620.3 370.3h0M627.9 370.3h0M588.4 374.4h0M600.8 333.3h0M611.3 374.4h0M605.1 359.4h0M618.4 375.2h0M634.6 367.3h0M622.7 331.7h0M640.7 434.5h0M651.3 347.5h0M607.9 387.3h0M610.8 364.5h0M611.3 353.1h0M629.3 391.1h0M647.0 369.3h0M614.1 380.3h0M628.4 387.6h0M654.2 365.6h0M627.9 387.9h0M631.7 416.2h0M640.4 352.4h0M649.4 391.4h0M649.4 381.2h0M647.5 332.0h0M632.7 378.9h0M636.6 353.2h0M653.3 337.2h0M654.7 367.8h0M666.1 343.6h0M658.9 382.9h0M720.1 330.6h0M753.4 360.3h0M769.3 360.3h0M695.4 364.9h0"/></g>
<use href="#q320" transform="translate(-0.38,-0.38)" stroke="#fcc9a0" stroke-width="1.38" stroke-opacity="0.85"/>
<g stroke="#ee8c48" stroke-width="3.00"><path id="q321" d="M489.2 337.9h0M505.4 423.0h0M504.0 300.8h0M506.8 386.4h0M510.7 300.1h0M517.4 299.5h0M511.6 367.5h0M533.5 381.2h0M524.0 388.5h0M530.7 298.6h0M548.3 356.4h0M555.9 356.4h0M532.6 358.7h0M552.1 388.9h0M564.5 328.5h0M530.7 366.4h0M561.2 366.4h0M539.8 337.9h0M544.5 372.1h0M560.2 362.5h0M585.0 340.9h0M549.3 389.5h0M552.2 357.1h0M557.9 378.7h0M559.8 357.1h0M586.5 313.8h0M550.3 364.1h0M567.8 414.5h0M591.3 321.6h0M568.9 315.6h0M583.1 399.6h0M591.7 390.3h0M631.8 296.9h0M598.8 385.6h0M590.8 314.5h0M589.8 394.9h0M598.4 386.0h0M607.0 305.6h0M607.9 368.1h0M613.6 386.0h0M619.4 332.4h0M620.3 323.5h0M577.9 354.7h0M589.4 319.0h0M589.3 390.5h0M620.8 310.1h0M627.4 390.5h0M655.1 345.8h0M585.1 356.4h0M603.6 386.4h0M628.0 304.5h0M610.3 382.6h0M641.7 374.4h0M614.6 343.6h0M644.1 351.5h0M647.0 327.8h0M638.9 323.8h0M646.5 387.0h0M657.0 363.3h0M665.6 355.4h0M578.3 440.6h0M607.0 394.9h0M640.4 311.2h0M612.2 345.5h0M615.1 383.5h0M617.9 421.6h0M631.3 375.9h0M643.6 387.6h0M656.6 345.3h0M660.3 373.7h0M648.0 343.6h0M681.5 350.2h0"/></g>
<use href="#q321" transform="translate(-0.45,-0.45)" stroke="#fcc9a0" stroke-width="1.65" stroke-opacity="0.85"/>
<g stroke="#ee8c48" stroke-width="3.50"><path id="q322" d="M525.0 315.9h0M516.4 314.2h0M523.6 306.9h0M538.3 312.8h0M577.9 312.8h0M575.5 324.9h0M586.0 296.9h0M599.9 301.5h0M618.4 330.7h0M612.3 309.3h0M620.8 300.8h0M633.2 326.4h0M654.7 318.8h0"/></g>
<use href="#q322" transform="translate(-0.53,-0.53)" stroke="#fcc9a0" stroke-width="1.93" stroke-opacity="0.85"/>
<g stroke="#ee8c48" stroke-width="4.00"><path id="q323" d="M488.3 310.9h0M532.6 299.5h0M562.2 299.0h0M537.4 298.2h0M540.3 330.1h0M549.8 308.4h0M572.7 308.4h0M587.0 319.2h0M547.4 324.6h0M578.9 313.8h0M609.4 313.8h0M582.2 323.5h0M583.2 314.5h0M598.4 314.5h0M610.8 330.7h0M610.3 326.4h0M633.7 312.0h0M648.0 311.2h0M619.9 327.6h0M659.9 313.5h0M640.4 327.5h0M673.8 322.7h0"/></g>
<use href="#q323" transform="translate(-0.60,-0.60)" stroke="#fcc9a0" stroke-width="2.20" stroke-opacity="0.85"/>
<g stroke="#4da862" stroke-width="2.00"><path id="q324" d="M652.3 336.2h0M655.1 353.9h0"/></g>
<use href="#q324" transform="translate(-0.30,-0.30)" stroke="#a8deb2" stroke-width="1.10" stroke-opacity="0.85"/>
<g stroke="#4da862" stroke-width="2.50"><path id="q325" d="M541.6 409.6h0M526.4 388.1h0M534.0 369.3h0M549.3 352.6h0M565.5 340.6h0M575.9 401.0h0M547.4 360.7h0M600.7 360.7h0M577.9 346.3h0M578.8 335.5h0M566.4 374.4h0M585.5 333.3h0M543.5 439.0h0M558.8 360.7h0M576.9 331.3h0M584.6 331.3h0M564.5 366.9h0M578.8 376.3h0M612.2 348.2h0M622.7 381.5h0M591.2 377.8h0M598.8 377.8h0M600.8 360.7h0M634.1 335.0h0M597.9 374.4h0M602.7 333.3h0M612.2 382.6h0M617.9 333.3h0M637.9 358.0h0M609.3 383.5h0M611.3 368.3h0M647.4 383.5h0M653.2 337.9h0M629.4 336.2h0M626.5 348.9h0M628.5 334.7h0M634.2 340.1h0M643.7 381.2h0M658.0 378.4h0"/></g>
<use href="#q325" transform="translate(-0.38,-0.38)" stroke="#a8deb2" stroke-width="1.38" stroke-opacity="0.85"/>
<g stroke="#4da862" stroke-width="3.00"><path id="q326" d="M497.8 333.3h0M515.9 404.3h0M500.7 355.4h0M501.6 339.6h0M506.4 387.0h0M516.9 339.6h0M520.6 402.9h0M521.6 387.0h0M520.7 380.3h0M557.8 374.4h0M512.1 356.4h0M545.5 317.9h0M537.9 304.3h0M554.0 388.9h0M552.2 303.6h0M556.9 337.9h0M598.8 383.5h0M548.3 335.5h0M555.0 333.3h0M578.9 323.0h0M580.8 302.5h0M618.8 384.7h0M623.6 333.3h0M604.6 360.7h0M589.3 348.2h0M627.4 348.2h0M592.2 381.5h0M614.1 319.0h0M622.7 310.1h0M654.2 301.1h0M590.3 386.4h0M601.7 352.1h0M606.5 309.3h0M611.3 335.0h0M615.1 300.8h0M626.5 335.0h0M610.3 333.3h0M627.5 308.0h0M646.5 339.6h0M624.6 383.5h0M629.4 374.4h0M632.3 353.9h0M658.0 325.3h0M642.7 369.3h0M644.6 356.4h0M755.2 450.5h0M761.0 452.3h0"/></g>
<use href="#q326" transform="translate(-0.45,-0.45)" stroke="#a8deb2" stroke-width="1.65" stroke-opacity="0.85"/>
<g stroke="#4da862" stroke-width="3.50"><path id="q327" d="M489.2 329.6h0M516.9 321.6h0M523.6 319.6h0M524.5 305.9h0M539.8 305.9h0M546.4 319.6h0M530.2 317.9h0M546.4 305.0h0M560.7 317.9h0M549.3 324.6h0M558.9 303.0h0M572.2 312.8h0M594.1 323.0h0M595.1 302.0h0M610.3 302.0h0M569.3 320.2h0M577.9 310.9h0M601.8 301.5h0M583.6 319.0h0M608.4 301.1h0M620.8 327.9h0M622.7 300.8h0M636.1 308.6h0M613.2 300.1h0M625.6 323.8h0M617.0 322.6h0M635.1 299.8h0M643.7 292.2h0M669.4 330.3h0M661.8 313.5h0M658.0 317.9h0M564.2 291.6h0M568.1 291.9h0M576.0 291.9h0M579.6 291.9h0M584.0 291.8h0M615.7 292.1h0"/></g>
<use href="#q327" transform="translate(-0.53,-0.53)" stroke="#a8deb2" stroke-width="1.93" stroke-opacity="0.85"/>
<g stroke="#4da862" stroke-width="4.00"><path id="q328" d="M504.5 309.3h0M525.4 323.8h0M526.4 308.0h0M531.2 319.6h0M532.1 305.9h0M551.2 328.5h0M553.1 304.3h0M559.8 316.4h0M543.6 315.0h0M573.1 326.4h0M574.1 303.0h0M579.8 324.6h0M587.4 324.6h0M572.2 302.0h0M594.1 301.5h0M609.4 301.5h0M582.7 327.9h0M584.6 310.1h0M605.5 327.9h0M607.5 300.8h0M621.8 300.4h0M610.3 323.8h0M624.6 322.6h0M626.6 307.4h0M631.3 330.3h0M624.7 314.2h0M670.4 314.2h0M646.6 305.9h0"/></g>
<use href="#q328" transform="translate(-0.60,-0.60)" stroke="#a8deb2" stroke-width="2.20" stroke-opacity="0.85"/>
<g stroke="#e2584a" stroke-width="2.00"><path id="q329" d="M535.4 372.9h0"/></g>
<use href="#q329" transform="translate(-0.30,-0.30)" stroke="#f8a89a" stroke-width="1.10" stroke-opacity="0.85"/>
<g stroke="#e2584a" stroke-width="2.50"><path id="q330" d="M558.3 353.9h0M590.7 362.5h0M553.6 338.4h0M572.6 379.5h0M555.0 394.9h0M558.8 419.4h0M575.1 331.3h0M620.3 370.3h0M640.8 378.4h0M660.1 451.8h0M639.9 456.3h0"/></g>
<use href="#q330" transform="translate(-0.38,-0.38)" stroke="#f8a89a" stroke-width="1.38" stroke-opacity="0.85"/>
<g stroke="#e2584a" stroke-width="3.00"><path id="q331" d="M514.5 281.9h0M515.4 369.3h0M574.5 389.2h0M598.9 333.3h0M595.1 348.2h0M596.5 332.4h0M600.3 368.1h0M608.9 347.9h0M628.9 305.0h0M580.2 425.4h0M654.1 375.9h0M635.6 377.8h0M629.4 385.6h0"/></g>
<use href="#q331" transform="translate(-0.45,-0.45)" stroke="#f8a89a" stroke-width="1.65" stroke-opacity="0.85"/>
<g stroke="#e2584a" stroke-width="3.50"><path id="q332" d="M517.4 315.9h0M578.8 326.4h0M601.3 296.9h0M651.8 314.5h0M613.2 310.1h0M665.2 329.9h0"/></g>
<use href="#q332" transform="translate(-0.53,-0.53)" stroke="#f8a89a" stroke-width="1.93" stroke-opacity="0.85"/>
<g stroke="#e2584a" stroke-width="4.00"><path id="q333" d="M538.3 328.9h0M607.9 328.2h0M598.9 310.9h0M635.1 309.3h0"/></g>
<use href="#q333" transform="translate(-0.60,-0.60)" stroke="#f8a89a" stroke-width="2.20" stroke-opacity="0.85"/>
<circle cx="574.5" cy="365.4" r="7" fill="url(#gCHON)" fill-opacity="0.95"/>
</g>
<path d="M38.40 0V232.30H394.40V0" fill="none" stroke="#333" stroke-width="1.1"/>
<rect x="37.90" y="0" width="357.00" height="1" fill="#888"/>
<rect x="37.90" y="1" width="357.00" height="0.6" fill="#ccc"/>
<line x1="34.80" y1="232.30" x2="38.40" y2="232.30" stroke="#222" stroke-width="1"/>
<text x="30.4" y="236.4" font-size="10.8" text-anchor="end" textLength="15.6" lengthAdjust="spacingAndGlyphs" >0.0</text>
<line x1="34.80" y1="190.90" x2="38.40" y2="190.90" stroke="#222" stroke-width="1"/>
<text x="30.4" y="195.0" font-size="10.8" text-anchor="end" textLength="15.6" lengthAdjust="spacingAndGlyphs" >0.4</text>
<line x1="34.80" y1="149.50" x2="38.40" y2="149.50" stroke="#222" stroke-width="1"/>
<text x="30.4" y="153.6" font-size="10.8" text-anchor="end" textLength="15.6" lengthAdjust="spacingAndGlyphs" >0.8</text>
<line x1="34.80" y1="108.10" x2="38.40" y2="108.10" stroke="#222" stroke-width="1"/>
<text x="30.4" y="112.2" font-size="10.8" text-anchor="end" textLength="15.6" lengthAdjust="spacingAndGlyphs" >1.2</text>
<line x1="34.80" y1="66.70" x2="38.40" y2="66.70" stroke="#222" stroke-width="1"/>
<text x="30.4" y="70.8" font-size="10.8" text-anchor="end" textLength="15.6" lengthAdjust="spacingAndGlyphs" >1.6</text>
<line x1="34.80" y1="25.30" x2="38.40" y2="25.30" stroke="#222" stroke-width="1"/>
<text x="30.4" y="29.4" font-size="10.8" text-anchor="end" textLength="15.6" lengthAdjust="spacingAndGlyphs" >2.0</text>
<line x1="38.40" y1="232.30" x2="38.40" y2="235.90" stroke="#222" stroke-width="1"/>
<text x="38.4" y="247.9" font-size="10.8" text-anchor="middle" textLength="15.6" lengthAdjust="spacingAndGlyphs" >0.0</text>
<line x1="107.80" y1="232.30" x2="107.80" y2="235.90" stroke="#222" stroke-width="1"/>
<text x="107.8" y="247.9" font-size="10.8" text-anchor="middle" textLength="15.6" lengthAdjust="spacingAndGlyphs" >0.2</text>
<line x1="177.20" y1="232.30" x2="177.20" y2="235.90" stroke="#222" stroke-width="1"/>
<text x="177.2" y="247.9" font-size="10.8" text-anchor="middle" textLength="15.6" lengthAdjust="spacingAndGlyphs" >0.4</text>
<line x1="246.60" y1="232.30" x2="246.60" y2="235.90" stroke="#222" stroke-width="1"/>
<text x="246.6" y="247.9" font-size="10.8" text-anchor="middle" textLength="15.6" lengthAdjust="spacingAndGlyphs" >0.6</text>
<line x1="316.00" y1="232.30" x2="316.00" y2="235.90" stroke="#222" stroke-width="1"/>
<text x="316.0" y="247.9" font-size="10.8" text-anchor="middle" textLength="15.6" lengthAdjust="spacingAndGlyphs" >0.8</text>
<line x1="385.40" y1="232.30" x2="385.40" y2="235.90" stroke="#222" stroke-width="1"/>
<text x="385.4" y="247.9" font-size="10.8" text-anchor="middle" textLength="15.6" lengthAdjust="spacingAndGlyphs" >1.0</text>
<text x="216.4" y="262.7" font-size="10.2" text-anchor="middle" textLength="19" lengthAdjust="spacingAndGlyphs" >O/C</text>
<text x="0" y="0" font-size="10.2" text-anchor="middle" textLength="18.3" lengthAdjust="spacingAndGlyphs" transform="translate(8.7,117.0) rotate(-90)">H/C</text>
<ellipse cx="137.8" cy="85.4" rx="53.3" ry="23.9" fill="none" stroke="#000" stroke-width="1.6" stroke-dasharray="5.8 4.0"/>
<ellipse cx="145.2" cy="141.9" rx="53.5" ry="32.5" fill="none" stroke="#000" stroke-width="1.6" stroke-dasharray="5.8 4.0"/>
<rect x="75.9" y="56.3" width="2.00" height="16.50" fill="#000"/>
<rect x="75.9" y="116.1" width="2.10" height="16.10" fill="#000"/>
<rect x="82.6" y="116.1" width="2.00" height="16.10" fill="#000"/>
<text x="371.7" y="23.2" font-size="22" fill="#000">A</text>
<path d="M436.10 0V231.30" fill="none" stroke="#666" stroke-width="1.6"/>
<path d="M435.90 231.30H791.90V0" fill="none" stroke="#333" stroke-width="1.1"/>
<rect x="435.40" y="0" width="357.00" height="1" fill="#888"/>
<rect x="435.40" y="1" width="357.00" height="0.6" fill="#ccc"/>
<line x1="432.30" y1="231.30" x2="435.90" y2="231.30" stroke="#222" stroke-width="1"/>
<text x="427.9" y="235.4" font-size="10.8" text-anchor="end" textLength="15.6" lengthAdjust="spacingAndGlyphs" >0.0</text>
<line x1="432.30" y1="190.12" x2="435.90" y2="190.12" stroke="#222" stroke-width="1"/>
<text x="427.9" y="194.2" font-size="10.8" text-anchor="end" textLength="15.6" lengthAdjust="spacingAndGlyphs" >0.4</text>
<line x1="432.30" y1="148.94" x2="435.90" y2="148.94" stroke="#222" stroke-width="1"/>
<text x="427.9" y="153.0" font-size="10.8" text-anchor="end" textLength="15.6" lengthAdjust="spacingAndGlyphs" >0.8</text>
<line x1="432.30" y1="107.76" x2="435.90" y2="107.76" stroke="#222" stroke-width="1"/>
<text x="427.9" y="111.9" font-size="10.8" text-anchor="end" textLength="15.6" lengthAdjust="spacingAndGlyphs" >1.2</text>
<line x1="432.30" y1="66.58" x2="435.90" y2="66.58" stroke="#222" stroke-width="1"/>
<text x="427.9" y="70.7" font-size="10.8" text-anchor="end" textLength="15.6" lengthAdjust="spacingAndGlyphs" >1.6</text>
<line x1="432.30" y1="25.40" x2="435.90" y2="25.40" stroke="#222" stroke-width="1"/>
<text x="427.9" y="29.5" font-size="10.8" text-anchor="end" textLength="15.6" lengthAdjust="spacingAndGlyphs" >2.0</text>
<line x1="435.90" y1="231.30" x2="435.90" y2="234.90" stroke="#222" stroke-width="1"/>
<text x="435.9" y="246.9" font-size="10.8" text-anchor="middle" textLength="15.6" lengthAdjust="spacingAndGlyphs" >0.0</text>
<line x1="505.42" y1="231.30" x2="505.42" y2="234.90" stroke="#222" stroke-width="1"/>
<text x="505.4" y="246.9" font-size="10.8" text-anchor="middle" textLength="15.6" lengthAdjust="spacingAndGlyphs" >0.2</text>
<line x1="574.94" y1="231.30" x2="574.94" y2="234.90" stroke="#222" stroke-width="1"/>
<text x="574.9" y="246.9" font-size="10.8" text-anchor="middle" textLength="15.6" lengthAdjust="spacingAndGlyphs" >0.4</text>
<line x1="644.46" y1="231.30" x2="644.46" y2="234.90" stroke="#222" stroke-width="1"/>
<text x="644.5" y="246.9" font-size="10.8" text-anchor="middle" textLength="15.6" lengthAdjust="spacingAndGlyphs" >0.6</text>
<line x1="713.98" y1="231.30" x2="713.98" y2="234.90" stroke="#222" stroke-width="1"/>
<text x="714.0" y="246.9" font-size="10.8" text-anchor="middle" textLength="15.6" lengthAdjust="spacingAndGlyphs" >0.8</text>
<line x1="783.50" y1="231.30" x2="783.50" y2="234.90" stroke="#222" stroke-width="1"/>
<text x="783.5" y="246.9" font-size="10.8" text-anchor="middle" textLength="15.6" lengthAdjust="spacingAndGlyphs" >1.0</text>
<text x="613.9" y="261.7" font-size="10.2" text-anchor="middle" textLength="19" lengthAdjust="spacingAndGlyphs" >O/C</text>
<text x="0" y="0" font-size="10.2" text-anchor="middle" textLength="18.3" lengthAdjust="spacingAndGlyphs" transform="translate(406.2,116.5) rotate(-90)">H/C</text>
<ellipse cx="535.9" cy="84.5" rx="53.2" ry="24.0" fill="none" stroke="#000" stroke-width="1.6" stroke-dasharray="5.8 4.0"/>
<ellipse cx="544.2" cy="142.5" rx="53.2" ry="32.4" fill="none" stroke="#000" stroke-width="1.6" stroke-dasharray="5.8 4.0"/>
<rect x="477.2" y="56.4" width="2.20" height="16.00" fill="#000"/>
<rect x="477.2" y="115.7" width="2.10" height="16.00" fill="#000"/>
<rect x="484.1" y="115.7" width="2.10" height="16.00" fill="#000"/>
<text x="770.3" y="22.9" font-size="22" fill="#000">B</text>
<rect x="39.30" y="267.50" width="354.30" height="230.50" fill="none" stroke="#333" stroke-width="1.1"/>
<line x1="35.70" y1="498.00" x2="39.30" y2="498.00" stroke="#222" stroke-width="1"/>
<text x="31.3" y="502.1" font-size="10.8" text-anchor="end" textLength="15.6" lengthAdjust="spacingAndGlyphs" >0.0</text>
<line x1="35.70" y1="456.76" x2="39.30" y2="456.76" stroke="#222" stroke-width="1"/>
<text x="31.3" y="460.9" font-size="10.8" text-anchor="end" textLength="15.6" lengthAdjust="spacingAndGlyphs" >0.4</text>
<line x1="35.70" y1="415.52" x2="39.30" y2="415.52" stroke="#222" stroke-width="1"/>
<text x="31.3" y="419.6" font-size="10.8" text-anchor="end" textLength="15.6" lengthAdjust="spacingAndGlyphs" >0.8</text>
<line x1="35.70" y1="374.28" x2="39.30" y2="374.28" stroke="#222" stroke-width="1"/>
<text x="31.3" y="378.4" font-size="10.8" text-anchor="end" textLength="15.6" lengthAdjust="spacingAndGlyphs" >1.2</text>
<line x1="35.70" y1="333.04" x2="39.30" y2="333.04" stroke="#222" stroke-width="1"/>
<text x="31.3" y="337.1" font-size="10.8" text-anchor="end" textLength="15.6" lengthAdjust="spacingAndGlyphs" >1.6</text>
<line x1="35.70" y1="291.80" x2="39.30" y2="291.80" stroke="#222" stroke-width="1"/>
<text x="31.3" y="295.9" font-size="10.8" text-anchor="end" textLength="15.6" lengthAdjust="spacingAndGlyphs" >2.0</text>
<line x1="84.50" y1="498.00" x2="84.50" y2="501.60" stroke="#222" stroke-width="1"/>
<text x="84.5" y="513.5" font-size="10.8" text-anchor="middle" textLength="19.0" lengthAdjust="spacingAndGlyphs" >200</text>
<line x1="132.08" y1="498.00" x2="132.08" y2="501.60" stroke="#222" stroke-width="1"/>
<text x="132.1" y="513.5" font-size="10.8" text-anchor="middle" textLength="19.0" lengthAdjust="spacingAndGlyphs" >300</text>
<line x1="179.66" y1="498.00" x2="179.66" y2="501.60" stroke="#222" stroke-width="1"/>
<text x="179.7" y="513.5" font-size="10.8" text-anchor="middle" textLength="19.0" lengthAdjust="spacingAndGlyphs" >400</text>
<line x1="227.24" y1="498.00" x2="227.24" y2="501.60" stroke="#222" stroke-width="1"/>
<text x="227.2" y="513.5" font-size="10.8" text-anchor="middle" textLength="19.0" lengthAdjust="spacingAndGlyphs" >500</text>
<line x1="274.82" y1="498.00" x2="274.82" y2="501.60" stroke="#222" stroke-width="1"/>
<text x="274.8" y="513.5" font-size="10.8" text-anchor="middle" textLength="19.0" lengthAdjust="spacingAndGlyphs" >600</text>
<line x1="322.40" y1="498.00" x2="322.40" y2="501.60" stroke="#222" stroke-width="1"/>
<text x="322.4" y="513.5" font-size="10.8" text-anchor="middle" textLength="19.0" lengthAdjust="spacingAndGlyphs" >700</text>
<line x1="369.98" y1="498.00" x2="369.98" y2="501.60" stroke="#222" stroke-width="1"/>
<text x="370.0" y="513.5" font-size="10.8" text-anchor="middle" textLength="19.0" lengthAdjust="spacingAndGlyphs" >800</text>
<text x="216.5" y="527.6" font-size="10.2" text-anchor="middle" textLength="29.3" lengthAdjust="spacingAndGlyphs" >M, Da</text>
<text x="0" y="0" font-size="10.2" text-anchor="middle" textLength="18.3" lengthAdjust="spacingAndGlyphs" transform="translate(9.6,383.8) rotate(-90)">H/C</text>
<ellipse cx="178.3" cy="355.6" rx="85.7" ry="25.2" fill="none" stroke="#000" stroke-width="1.6" stroke-dasharray="5.8 4.0"/>
<ellipse cx="185.4" cy="412.0" rx="85.6" ry="31.0" fill="none" stroke="#000" stroke-width="1.6" stroke-dasharray="5.8 4.0"/>
<rect x="78.0" y="335.1" width="2.00" height="16.50" fill="#000"/>
<rect x="78.0" y="394.9" width="2.00" height="15.70" fill="#000"/>
<rect x="84.4" y="394.9" width="2.00" height="15.70" fill="#000"/>
<text x="372.0" y="289.2" font-size="22" fill="#000">C</text>
<path d="M437.80 267.90V497.70" fill="none" stroke="#666" stroke-width="1.7"/>
<path d="M437.50 497.70H792.00V267.90H437.50" fill="none" stroke="#333" stroke-width="1.1"/>
<line x1="433.90" y1="497.70" x2="437.50" y2="497.70" stroke="#222" stroke-width="1"/>
<text x="429.5" y="501.8" font-size="10.8" text-anchor="end" textLength="15.6" lengthAdjust="spacingAndGlyphs" >0.0</text>
<line x1="433.90" y1="456.60" x2="437.50" y2="456.60" stroke="#222" stroke-width="1"/>
<text x="429.5" y="460.7" font-size="10.8" text-anchor="end" textLength="15.6" lengthAdjust="spacingAndGlyphs" >0.4</text>
<line x1="433.90" y1="415.50" x2="437.50" y2="415.50" stroke="#222" stroke-width="1"/>
<text x="429.5" y="419.6" font-size="10.8" text-anchor="end" textLength="15.6" lengthAdjust="spacingAndGlyphs" >0.8</text>
<line x1="433.90" y1="374.40" x2="437.50" y2="374.40" stroke="#222" stroke-width="1"/>
<text x="429.5" y="378.5" font-size="10.8" text-anchor="end" textLength="15.6" lengthAdjust="spacingAndGlyphs" >1.2</text>
<line x1="433.90" y1="333.30" x2="437.50" y2="333.30" stroke="#222" stroke-width="1"/>
<text x="429.5" y="337.4" font-size="10.8" text-anchor="end" textLength="15.6" lengthAdjust="spacingAndGlyphs" >1.6</text>
<line x1="433.90" y1="292.20" x2="437.50" y2="292.20" stroke="#222" stroke-width="1"/>
<text x="429.5" y="296.3" font-size="10.8" text-anchor="end" textLength="15.6" lengthAdjust="spacingAndGlyphs" >2.0</text>
<line x1="482.50" y1="497.70" x2="482.50" y2="501.30" stroke="#222" stroke-width="1"/>
<text x="482.5" y="513.2" font-size="10.8" text-anchor="middle" textLength="19.0" lengthAdjust="spacingAndGlyphs" >200</text>
<line x1="530.15" y1="497.70" x2="530.15" y2="501.30" stroke="#222" stroke-width="1"/>
<text x="530.1" y="513.2" font-size="10.8" text-anchor="middle" textLength="19.0" lengthAdjust="spacingAndGlyphs" >300</text>
<line x1="577.80" y1="497.70" x2="577.80" y2="501.30" stroke="#222" stroke-width="1"/>
<text x="577.8" y="513.2" font-size="10.8" text-anchor="middle" textLength="19.0" lengthAdjust="spacingAndGlyphs" >400</text>
<line x1="625.45" y1="497.70" x2="625.45" y2="501.30" stroke="#222" stroke-width="1"/>
<text x="625.5" y="513.2" font-size="10.8" text-anchor="middle" textLength="19.0" lengthAdjust="spacingAndGlyphs" >500</text>
<line x1="673.10" y1="497.70" x2="673.10" y2="501.30" stroke="#222" stroke-width="1"/>
<text x="673.1" y="513.2" font-size="10.8" text-anchor="middle" textLength="19.0" lengthAdjust="spacingAndGlyphs" >600</text>
<line x1="720.75" y1="497.70" x2="720.75" y2="501.30" stroke="#222" stroke-width="1"/>
<text x="720.8" y="513.2" font-size="10.8" text-anchor="middle" textLength="19.0" lengthAdjust="spacingAndGlyphs" >700</text>
<line x1="768.40" y1="497.70" x2="768.40" y2="501.30" stroke="#222" stroke-width="1"/>
<text x="768.4" y="513.2" font-size="10.8" text-anchor="middle" textLength="19.0" lengthAdjust="spacingAndGlyphs" >800</text>
<text x="614.8" y="527.3" font-size="10.2" text-anchor="middle" textLength="29.3" lengthAdjust="spacingAndGlyphs" >M, Da</text>
<text x="0" y="0" font-size="10.2" text-anchor="middle" textLength="18.3" lengthAdjust="spacingAndGlyphs" transform="translate(407.8,383.8) rotate(-90)">H/C</text>
<ellipse cx="573.5" cy="354.9" rx="85.7" ry="24.5" fill="none" stroke="#000" stroke-width="1.6" stroke-dasharray="5.8 4.0"/>
<ellipse cx="580.9" cy="410.8" rx="85.4" ry="32.8" fill="none" stroke="#000" stroke-width="1.6" stroke-dasharray="5.8 4.0"/>
<rect x="479.6" y="335.1" width="2.10" height="16.50" fill="#000"/>
<rect x="479.6" y="394.9" width="2.10" height="15.70" fill="#000"/>
<rect x="486.0" y="394.9" width="2.10" height="15.70" fill="#000"/>
<text x="770.0" y="288.4" font-size="22" fill="#000">D</text>
<circle cx="97.2" cy="219.7" r="2.3" fill="#4a82c8"/>
<text x="113.4" y="222.8" font-size="8.8" text-anchor="start" textLength="19.6" lengthAdjust="spacingAndGlyphs" >CHO</text>
<circle cx="159.3" cy="219.7" r="2.3" fill="#f49c5c"/>
<text x="175.5" y="222.8" font-size="8.8" text-anchor="start" textLength="25.6" lengthAdjust="spacingAndGlyphs" >CHON</text>
<circle cx="228.5" cy="219.7" r="2.3" fill="#5aae5a"/>
<text x="244.7" y="222.8" font-size="8.8" text-anchor="start" textLength="24.8" lengthAdjust="spacingAndGlyphs" >CHOS</text>
<circle cx="296.3" cy="219.7" r="2.3" fill="#f05a5a"/>
<text x="312.5" y="222.8" font-size="8.8" text-anchor="start" textLength="31.4" lengthAdjust="spacingAndGlyphs" >CHONS</text>
<circle cx="494.8" cy="218.7" r="2.3" fill="#4a82c8"/>
<text x="511.0" y="221.8" font-size="8.8" text-anchor="start" textLength="19.6" lengthAdjust="spacingAndGlyphs" >CHO</text>
<circle cx="557.0" cy="218.7" r="2.3" fill="#f49c5c"/>
<text x="573.2" y="221.8" font-size="8.8" text-anchor="start" textLength="25.6" lengthAdjust="spacingAndGlyphs" >CHON</text>
<circle cx="626.2" cy="218.7" r="2.3" fill="#5aae5a"/>
<text x="642.4" y="221.8" font-size="8.8" text-anchor="start" textLength="24.8" lengthAdjust="spacingAndGlyphs" >CHOS</text>
<circle cx="694.1" cy="218.7" r="2.3" fill="#f05a5a"/>
<text x="710.3" y="221.8" font-size="8.8" text-anchor="start" textLength="31.4" lengthAdjust="spacingAndGlyphs" >CHONS</text>
<circle cx="97.8" cy="485.1" r="2.3" fill="#4a82c8"/>
<text x="114.0" y="488.2" font-size="8.8" text-anchor="start" textLength="19.6" lengthAdjust="spacingAndGlyphs" >CHO</text>
<circle cx="160.0" cy="485.1" r="2.3" fill="#f49c5c"/>
<text x="176.2" y="488.2" font-size="8.8" text-anchor="start" textLength="25.6" lengthAdjust="spacingAndGlyphs" >CHON</text>
<circle cx="229.1" cy="485.1" r="2.3" fill="#5aae5a"/>
<text x="245.3" y="488.2" font-size="8.8" text-anchor="start" textLength="24.8" lengthAdjust="spacingAndGlyphs" >CHOS</text>
<circle cx="296.1" cy="485.1" r="2.3" fill="#f05a5a"/>
<text x="312.3" y="488.2" font-size="8.8" text-anchor="start" textLength="31.4" lengthAdjust="spacingAndGlyphs" >CHONS</text>
<circle cx="495.8" cy="485.1" r="2.3" fill="#4a82c8"/>
<text x="512.0" y="488.2" font-size="8.8" text-anchor="start" textLength="19.6" lengthAdjust="spacingAndGlyphs" >CHO</text>
<circle cx="558.0" cy="485.1" r="2.3" fill="#f49c5c"/>
<text x="574.2" y="488.2" font-size="8.8" text-anchor="start" textLength="25.6" lengthAdjust="spacingAndGlyphs" >CHON</text>
<circle cx="627.4" cy="485.1" r="2.3" fill="#5aae5a"/>
<text x="643.6" y="488.2" font-size="8.8" text-anchor="start" textLength="24.8" lengthAdjust="spacingAndGlyphs" >CHOS</text>
<circle cx="695.0" cy="485.1" r="2.3" fill="#f05a5a"/>
<text x="711.2" y="488.2" font-size="8.8" text-anchor="start" textLength="31.4" lengthAdjust="spacingAndGlyphs" >CHONS</text>
</svg>
</body></html>
